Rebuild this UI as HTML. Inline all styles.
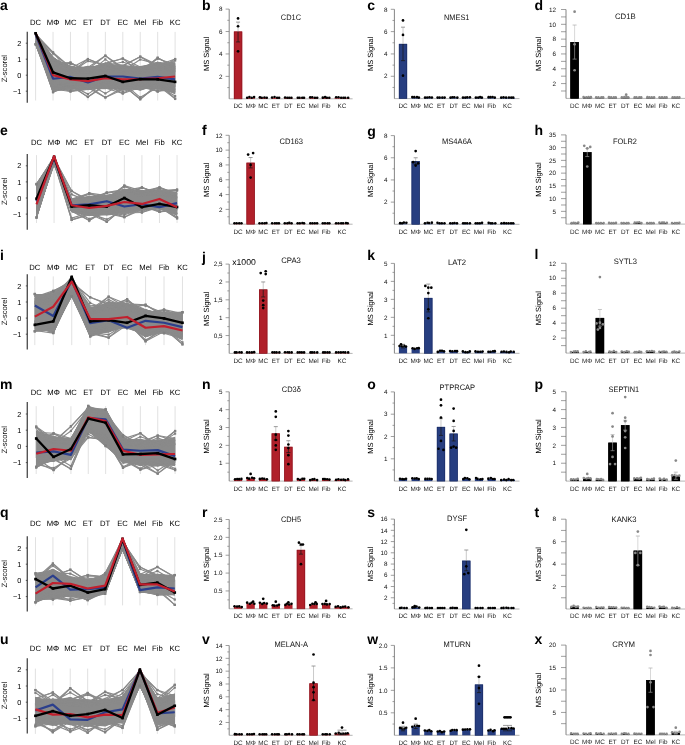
<!DOCTYPE html>
<html><head><meta charset="utf-8"><style>
html,body{margin:0;padding:0;background:#fff;width:685px;height:745px;overflow:hidden}
svg{display:block;will-change:transform}
text{font-family:"Liberation Sans",sans-serif;text-rendering:geometricPrecision}
</style></head><body>
<svg width="685" height="745" viewBox="0 0 685 745" font-family="Liberation Sans, sans-serif"><text x="0" y="10.2" font-size="14" text-anchor="start" fill="#000" font-weight="bold">a</text>
<text x="35.6" y="24.8" font-size="7.7" text-anchor="middle" fill="#000">DC</text>
<text x="53.04" y="24.8" font-size="7.7" text-anchor="middle" fill="#000">M&#934;</text>
<text x="70.48" y="24.8" font-size="7.7" text-anchor="middle" fill="#000">MC</text>
<text x="87.92" y="24.8" font-size="7.7" text-anchor="middle" fill="#000">ET</text>
<text x="105.36" y="24.8" font-size="7.7" text-anchor="middle" fill="#000">DT</text>
<text x="122.8" y="24.8" font-size="7.7" text-anchor="middle" fill="#000">EC</text>
<text x="140.24" y="24.8" font-size="7.7" text-anchor="middle" fill="#000">Mel</text>
<text x="157.68" y="24.8" font-size="7.7" text-anchor="middle" fill="#000">Fib</text>
<text x="175.12" y="24.8" font-size="7.7" text-anchor="middle" fill="#000">KC</text>
<line x1="35.6" y1="31.9" x2="35.6" y2="100.5" stroke="#d9d9d9" stroke-width="0.8"/>
<line x1="53.04" y1="31.9" x2="53.04" y2="100.5" stroke="#d9d9d9" stroke-width="0.8"/>
<line x1="70.48" y1="31.9" x2="70.48" y2="100.5" stroke="#d9d9d9" stroke-width="0.8"/>
<line x1="87.92" y1="31.9" x2="87.92" y2="100.5" stroke="#d9d9d9" stroke-width="0.8"/>
<line x1="105.36" y1="31.9" x2="105.36" y2="100.5" stroke="#d9d9d9" stroke-width="0.8"/>
<line x1="122.8" y1="31.9" x2="122.8" y2="100.5" stroke="#d9d9d9" stroke-width="0.8"/>
<line x1="140.24" y1="31.9" x2="140.24" y2="100.5" stroke="#d9d9d9" stroke-width="0.8"/>
<line x1="157.68" y1="31.9" x2="157.68" y2="100.5" stroke="#d9d9d9" stroke-width="0.8"/>
<line x1="175.12" y1="31.9" x2="175.12" y2="100.5" stroke="#d9d9d9" stroke-width="0.8"/>
<line x1="27.3" y1="31.75" x2="27.3" y2="102.7" stroke="#555" stroke-width="1.4"/>
<line x1="25.8" y1="43.2" x2="27.3" y2="43.2" stroke="#333" stroke-width="0.8"/>
<text x="21.3" y="45.8" font-size="7.3" text-anchor="end" fill="#000">2</text>
<line x1="25.8" y1="59.2" x2="27.3" y2="59.2" stroke="#333" stroke-width="0.8"/>
<text x="21.3" y="61.8" font-size="7.3" text-anchor="end" fill="#000">1</text>
<line x1="25.8" y1="75.2" x2="27.3" y2="75.2" stroke="#333" stroke-width="0.8"/>
<text x="21.3" y="77.8" font-size="7.3" text-anchor="end" fill="#000">0</text>
<line x1="25.8" y1="91.2" x2="27.3" y2="91.2" stroke="#333" stroke-width="0.8"/>
<text x="21.3" y="93.8" font-size="7.3" text-anchor="end" fill="#000">&#8722;1</text>
<text x="7.1" y="68.64" font-size="7.6" text-anchor="middle" fill="#111" textLength="27.4" lengthAdjust="spacingAndGlyphs" transform="rotate(-90 7.1 68.64)">Z-scorel</text>
<polygon points="35.6,35.89 53.04,64.33 70.48,71.7 87.92,71.63 105.36,68.67 122.8,70.83 140.24,71.7 157.68,67.94 175.12,69.73 175.12,86.75 157.68,83.26 140.24,84.78 122.8,84.53 105.36,83.01 87.92,84.53 70.48,84.78 53.04,83.51 35.6,41.71" fill="#8a8a8a" stroke="#8a8a8a" stroke-width="0.8" stroke-linejoin="round"/>
<polyline points="35.6,43.48 53.04,83.3 70.48,85.47 87.92,84.65 105.36,87.89 122.8,88.32 140.24,84.65 157.68,85.84 175.12,92.26" fill="none" stroke="#8a8a8a" stroke-width="1.15" stroke-linejoin="round"/>
<polyline points="35.6,34.45 53.04,61.17 70.48,67.2 87.92,69.28 105.36,69.42 122.8,70.74 140.24,66.9 157.68,67.38 175.12,64.06" fill="none" stroke="#8a8a8a" stroke-width="1.15" stroke-linejoin="round"/>
<polyline points="35.6,41.83 53.04,86.01 70.48,85.35 87.92,84.89 105.36,83.73 122.8,84.85 140.24,87.51 157.68,85.55 175.12,87.08" fill="none" stroke="#8a8a8a" stroke-width="1.15" stroke-linejoin="round"/>
<polyline points="35.6,34.8 53.04,62.81 70.48,71.33 87.92,70.72 105.36,67.31 122.8,69.09 140.24,71.22 157.68,65.99 175.12,64.09" fill="none" stroke="#8a8a8a" stroke-width="1.15" stroke-linejoin="round"/>
<polyline points="35.6,42.4 53.04,89.92 70.48,88.61 87.92,85.27 105.36,83.33 122.8,88.54 140.24,89.6 157.68,84.54 175.12,91.58" fill="none" stroke="#8a8a8a" stroke-width="1.15" stroke-linejoin="round"/>
<polyline points="35.6,36.2 53.04,63 70.48,70.85 87.92,69.68 105.36,63.78 122.8,72.1 140.24,68.77 157.68,63.95 175.12,69.58" fill="none" stroke="#8a8a8a" stroke-width="1.15" stroke-linejoin="round"/>
<polyline points="35.6,43.23 53.04,86.72 70.48,87.03 87.92,87.2 105.36,85.09 122.8,89.31 140.24,86 157.68,83.38 175.12,90.47" fill="none" stroke="#8a8a8a" stroke-width="1.15" stroke-linejoin="round"/>
<polyline points="35.6,35.92 53.04,65.82 70.48,69.18 87.92,67.81 105.36,69.33 122.8,68.56 140.24,67.82 157.68,66.43 175.12,68.84" fill="none" stroke="#8a8a8a" stroke-width="1.15" stroke-linejoin="round"/>
<polyline points="35.6,42.68 53.04,85.73 70.48,87.28 87.92,89.05 105.36,85.06 122.8,87.65 140.24,89.31 157.68,84.04 175.12,91.9" fill="none" stroke="#8a8a8a" stroke-width="1.15" stroke-linejoin="round"/>
<polyline points="35.6,35.28 53.04,57.64 70.48,70.76 87.92,70.26 105.36,64.14 122.8,70.42 140.24,67.97 157.68,67.15 175.12,66.81" fill="none" stroke="#8a8a8a" stroke-width="1.15" stroke-linejoin="round"/>
<polyline points="35.6,41.63 53.04,91.36 70.48,87.97 87.92,89.2 105.36,87.39 122.8,88.81 140.24,85.01 157.68,83.5 175.12,90.21" fill="none" stroke="#8a8a8a" stroke-width="1.15" stroke-linejoin="round"/>
<polyline points="35.6,35.79 53.04,66.04 70.48,70.87 87.92,66.64 105.36,67.31 122.8,67.1 140.24,71.76 157.68,63.72 175.12,67.36" fill="none" stroke="#8a8a8a" stroke-width="1.15" stroke-linejoin="round"/>
<polyline points="35.6,43.37 53.04,90.3 70.48,87.16 87.92,88.16 105.36,82.71 122.8,89.49 140.24,83.56 157.68,85.4 175.12,89.29" fill="none" stroke="#8a8a8a" stroke-width="1.15" stroke-linejoin="round"/>
<polyline points="35.6,36.71 53.04,58.1 70.48,68.11 87.92,67.94 105.36,66.78 122.8,68.1 140.24,68.45 157.68,65.45 175.12,70.18" fill="none" stroke="#8a8a8a" stroke-width="1.15" stroke-linejoin="round"/>
<polyline points="35.6,43.26 53.04,87.45 70.48,86.24 87.92,88.45 105.36,86.51 122.8,85.63 140.24,85.19 157.68,89.15 175.12,89.92" fill="none" stroke="#8a8a8a" stroke-width="1.15" stroke-linejoin="round"/>
<polyline points="35.6,34.64 53.04,60.77 70.48,67.84 87.92,72.7 105.36,64 122.8,71.71 140.24,71.76 157.68,65.83 175.12,68.66" fill="none" stroke="#8a8a8a" stroke-width="1.15" stroke-linejoin="round"/>
<polyline points="35.6,41.84 53.04,88.49 70.48,85.86 87.92,85.13 105.36,83.64 122.8,84.67 140.24,85.91 157.68,84.53 175.12,90.3" fill="none" stroke="#8a8a8a" stroke-width="1.15" stroke-linejoin="round"/>
<polyline points="35.6,35.81 53.04,59.52 70.48,71.17 87.92,70.83 105.36,65.99 122.8,65.98 140.24,70.87 157.68,62.75 175.12,65.66" fill="none" stroke="#8a8a8a" stroke-width="1.15" stroke-linejoin="round"/>
<polyline points="35.6,42.29 53.04,83.27 70.48,85.48 87.92,83.86 105.36,84.46 122.8,88.05 140.24,83.15 157.68,84.4 175.12,88.9" fill="none" stroke="#8a8a8a" stroke-width="1.15" stroke-linejoin="round"/>
<polyline points="35.6,35.66 53.04,65.29 70.48,68.05 87.92,69.33 105.36,63.09 122.8,71.96 140.24,67.45 157.68,66.49 175.12,68.16" fill="none" stroke="#8a8a8a" stroke-width="1.15" stroke-linejoin="round"/>
<polyline points="35.6,41.49 53.04,86.37 70.48,84.91 87.92,85.14 105.36,82.64 122.8,85.49 140.24,85.34 157.68,85.93 175.12,88.19" fill="none" stroke="#8a8a8a" stroke-width="1.15" stroke-linejoin="round"/>
<polyline points="35.6,34.37 53.04,62.73 70.48,71.93 87.92,67.87 105.36,67.3 122.8,69.37 140.24,69.75 157.68,66.07 175.12,63.64" fill="none" stroke="#8a8a8a" stroke-width="1.15" stroke-linejoin="round"/>
<polyline points="35.6,42.15 53.04,87.4 70.48,87.55 87.92,87.12 105.36,83.26 122.8,88.64 140.24,86.18 157.68,85.11 175.12,89.9" fill="none" stroke="#8a8a8a" stroke-width="1.15" stroke-linejoin="round"/>
<polyline points="35.6,34.16 53.04,63.89 70.48,70.85 87.92,69.51 105.36,68.54 122.8,71.79 140.24,68.87 157.68,69.07 175.12,65.77" fill="none" stroke="#8a8a8a" stroke-width="1.15" stroke-linejoin="round"/>
<polyline points="35.6,41.9 53.04,83.87 70.48,87.16 87.92,83.87 105.36,83.8 122.8,90.01 140.24,86.64 157.68,88.22 175.12,92.12" fill="none" stroke="#8a8a8a" stroke-width="1.15" stroke-linejoin="round"/>
<polyline points="35.6,34.85 53.04,63.64 70.48,70.53 87.92,71.25 105.36,69.36 122.8,70.65 140.24,70.75 157.68,67.19 175.12,66.27" fill="none" stroke="#8a8a8a" stroke-width="1.15" stroke-linejoin="round"/>
<polyline points="35.6,42.88 53.04,83.64 70.48,89.02 87.92,86.55 105.36,87.28 122.8,88.66 140.24,89.03 157.68,87.22 175.12,89.01" fill="none" stroke="#8a8a8a" stroke-width="1.15" stroke-linejoin="round"/>
<polyline points="35.6,36.45 53.04,65.5 70.48,70.07 87.92,70.69 105.36,68.09 122.8,69.38 140.24,68.93 157.68,66.75 175.12,70.01" fill="none" stroke="#8a8a8a" stroke-width="1.15" stroke-linejoin="round"/>
<polyline points="35.6,41.56 53.04,86.24 70.48,86.75 87.92,85.26 105.36,87.54 122.8,89.28 140.24,85.3 157.68,85.22 175.12,90.78" fill="none" stroke="#8a8a8a" stroke-width="1.15" stroke-linejoin="round"/>
<polyline points="35.6,34.55 53.04,61.17 70.48,70.06 87.92,66.41 105.36,70.14 122.8,70.15 140.24,72.34 157.68,62.27 175.12,69.04" fill="none" stroke="#8a8a8a" stroke-width="1.15" stroke-linejoin="round"/>
<polyline points="35.6,42.27 53.04,82.12 70.48,84.52 87.92,87.17 105.36,87.69 122.8,89.44 140.24,86.2 157.68,83.16 175.12,88.59" fill="none" stroke="#8a8a8a" stroke-width="1.15" stroke-linejoin="round"/>
<polyline points="35.6,35.46 53.04,63.31 70.48,71.86 87.92,69.4 105.36,65.87 122.8,66.15 140.24,71.24 157.68,64.02 175.12,62.11" fill="none" stroke="#8a8a8a" stroke-width="1.15" stroke-linejoin="round"/>
<polyline points="35.6,42.97 53.04,86.16 70.48,88.9 87.92,89.38 105.36,81.33 122.8,85.01 140.24,85.32 157.68,84.15 175.12,84.95" fill="none" stroke="#8a8a8a" stroke-width="1.15" stroke-linejoin="round"/>
<polyline points="35.6,35.48 53.04,58.15 70.48,66.56 87.92,69.87 105.36,69.3 122.8,69.77 140.24,71.29 157.68,67.94 175.12,66.14" fill="none" stroke="#8a8a8a" stroke-width="1.15" stroke-linejoin="round"/>
<polyline points="35.6,44.01 53.04,84.05 70.48,86.23 87.92,84.11 105.36,83.47 122.8,87.13 140.24,86.03 157.68,87.42 175.12,88.81" fill="none" stroke="#8a8a8a" stroke-width="1.15" stroke-linejoin="round"/>
<polyline points="35.6,34.61 53.04,57.91 70.48,68.67 87.92,71.24 105.36,63 122.8,65.08 140.24,68.07 157.68,65.74 175.12,67.54" fill="none" stroke="#8a8a8a" stroke-width="1.15" stroke-linejoin="round"/>
<polyline points="35.6,42.52 53.04,88.18 70.48,84.07 87.92,84.49 105.36,83.8 122.8,88.13 140.24,85.06 157.68,85.3 175.12,86.82" fill="none" stroke="#8a8a8a" stroke-width="1.15" stroke-linejoin="round"/>
<polyline points="35.6,34.35 53.04,59.53 70.48,70.86 87.92,71.79 105.36,64.95 122.8,68.36 140.24,69.19 157.68,67.4 175.12,65.93" fill="none" stroke="#8a8a8a" stroke-width="1.15" stroke-linejoin="round"/>
<polyline points="35.6,41.52 53.04,85.28 70.48,84.14 87.92,83.46 105.36,88.24 122.8,88.02 140.24,84.61 157.68,85.2 175.12,89.96" fill="none" stroke="#8a8a8a" stroke-width="1.15" stroke-linejoin="round"/>
<polyline points="35.6,36.63 53.04,59.83 70.48,68.4 87.92,71.35 105.36,65.52 122.8,68.18 140.24,73.03 157.68,63.65 175.12,66.93" fill="none" stroke="#8a8a8a" stroke-width="1.15" stroke-linejoin="round"/>
<polyline points="35.6,42.07 53.04,90.09 70.48,89.46 87.92,86.8 105.36,82.21 122.8,85.67 140.24,84.73 157.68,84.92 175.12,89.81" fill="none" stroke="#8a8a8a" stroke-width="1.15" stroke-linejoin="round"/>
<polyline points="35.6,35.72 53.04,62.2 70.48,68.47 87.92,68.81 105.36,68.15 122.8,71.47 140.24,69.25 157.68,65.74 175.12,67.03" fill="none" stroke="#8a8a8a" stroke-width="1.15" stroke-linejoin="round"/>
<polyline points="35.6,43.74 53.04,82.18 70.48,85.29 87.92,84.8 105.36,86.94 122.8,86.02 140.24,85.93 157.68,83.64 175.12,88.05" fill="none" stroke="#8a8a8a" stroke-width="1.15" stroke-linejoin="round"/>
<polyline points="35.6,35.15 53.04,65.14 70.48,69.25 87.92,71.15 105.36,66.32 122.8,67.86 140.24,69.66 157.68,66.28 175.12,70.56" fill="none" stroke="#8a8a8a" stroke-width="1.15" stroke-linejoin="round"/>
<polyline points="35.6,43.58 53.04,86.53 70.48,88.83 87.92,85.15 105.36,87.51 122.8,83.17 140.24,87.37 157.68,82.36 175.12,87.09" fill="none" stroke="#8a8a8a" stroke-width="1.15" stroke-linejoin="round"/>
<polyline points="35.6,35.34 53.04,65.19 70.48,68.51 87.92,69.68 105.36,68.14 122.8,68.15 140.24,70.5 157.68,63.06 175.12,65.29" fill="none" stroke="#8a8a8a" stroke-width="1.15" stroke-linejoin="round"/>
<polyline points="35.6,42.25 53.04,86.14 70.48,85.75 87.92,87.33 105.36,84.3 122.8,88.03 140.24,89.23 157.68,84.34 175.12,85.44" fill="none" stroke="#8a8a8a" stroke-width="1.15" stroke-linejoin="round"/>
<polyline points="35.6,33.59 53.04,63.57 70.48,68.41 87.92,71.92 105.36,68.5 122.8,68.77 140.24,70.64 157.68,67.03 175.12,67.29" fill="none" stroke="#8a8a8a" stroke-width="1.15" stroke-linejoin="round"/>
<polyline points="35.6,42.14 53.04,81.5 70.48,84.78 87.92,87.52 105.36,82.22 122.8,86.46 140.24,84.75 157.68,87.59 175.12,88.37" fill="none" stroke="#8a8a8a" stroke-width="1.15" stroke-linejoin="round"/>
<polyline points="35.6,33.88 53.04,58.88 70.48,71.15 87.92,70.84 105.36,64.09 122.8,67.19 140.24,66.5 157.68,63.46 175.12,66.67" fill="none" stroke="#8a8a8a" stroke-width="1.15" stroke-linejoin="round"/>
<polyline points="35.6,43.22 53.04,88.54 70.48,85.08 87.92,85.71 105.36,85.43 122.8,87.17 140.24,88.24 157.68,84.37 175.12,90.81" fill="none" stroke="#8a8a8a" stroke-width="1.15" stroke-linejoin="round"/>
<polyline points="35.6,35 53.04,58.4 70.48,68.09 87.92,68.01 105.36,63.8 122.8,68.47 140.24,69.76 157.68,64.63 175.12,64.09" fill="none" stroke="#8a8a8a" stroke-width="1.15" stroke-linejoin="round"/>
<polyline points="35.6,42.97 53.04,89.31 70.48,85.13 87.92,87.32 105.36,82.81 122.8,84.94 140.24,84.6 157.68,84.5 175.12,87.49" fill="none" stroke="#8a8a8a" stroke-width="1.15" stroke-linejoin="round"/>
<polyline points="35.6,34.96 53.04,58.62 70.48,68.07 87.92,71.46 105.36,67.07 122.8,69.84 140.24,68.65 157.68,67.96 175.12,66.96" fill="none" stroke="#8a8a8a" stroke-width="1.15" stroke-linejoin="round"/>
<polyline points="35.6,41.96 53.04,86.47 70.48,86.99 87.92,84.22 105.36,86.55 122.8,84.8 140.24,90.09 157.68,84.52 175.12,86.22" fill="none" stroke="#8a8a8a" stroke-width="1.15" stroke-linejoin="round"/>
<polyline points="35.6,35.37 53.04,64 70.48,67.7 87.92,71.11 105.36,70.64 122.8,70.06 140.24,69.63 157.68,67.06 175.12,70.25" fill="none" stroke="#8a8a8a" stroke-width="1.15" stroke-linejoin="round"/>
<polyline points="35.6,42.69 53.04,85.05 70.48,84.79 87.92,86.01 105.36,85.32 122.8,85.45 140.24,88.07 157.68,85.33 175.12,85.01" fill="none" stroke="#8a8a8a" stroke-width="1.15" stroke-linejoin="round"/>
<polyline points="35.6,34.79 53.04,57.17 70.48,69.99 87.92,70.65 105.36,67.16 122.8,69.31 140.24,69.3 157.68,63.34 175.12,67.88" fill="none" stroke="#8a8a8a" stroke-width="1.15" stroke-linejoin="round"/>
<polyline points="35.6,42.51 53.04,82.04 70.48,87.7 87.92,86.58 105.36,87.3 122.8,85.21 140.24,87.19 157.68,86.75 175.12,88.61" fill="none" stroke="#8a8a8a" stroke-width="1.15" stroke-linejoin="round"/>
<polyline points="35.6,35.62 53.04,61.76 70.48,72.58 87.92,68.51 105.36,67.95 122.8,69.08 140.24,69.25 157.68,65.66 175.12,69.62" fill="none" stroke="#8a8a8a" stroke-width="1.15" stroke-linejoin="round"/>
<polyline points="35.6,42.43 53.04,87.99 70.48,85.52 87.92,88.43 105.36,88.67 122.8,84.56 140.24,85.84 157.68,84.86 175.12,88.61" fill="none" stroke="#8a8a8a" stroke-width="1.15" stroke-linejoin="round"/>
<polyline points="35.6,34.99 53.04,64 70.48,68.13 87.92,71.01 105.36,67.49 122.8,67.01 140.24,69 157.68,63.7 175.12,67.19" fill="none" stroke="#8a8a8a" stroke-width="1.15" stroke-linejoin="round"/>
<polyline points="35.6,43.32 53.04,85.85 70.48,83.68 87.92,84.05 105.36,83.1 122.8,84.68 140.24,86.07 157.68,87.21 175.12,92.2" fill="none" stroke="#8a8a8a" stroke-width="1.15" stroke-linejoin="round"/>
<polyline points="35.6,36.65 53.04,62.06 70.48,70.67 87.92,71.03 105.36,69.78 122.8,70.21 140.24,73.15 157.68,67.14 175.12,71.39" fill="none" stroke="#8a8a8a" stroke-width="1.15" stroke-linejoin="round"/>
<polyline points="35.6,42.47 53.04,88.7 70.48,85.13 87.92,87.35 105.36,86.92 122.8,84.64 140.24,86.24 157.68,84.45 175.12,89.44" fill="none" stroke="#8a8a8a" stroke-width="1.15" stroke-linejoin="round"/>
<polyline points="35.6,33.57 53.04,60.6 70.48,66.13 87.92,70.65 105.36,68.71 122.8,71.62 140.24,67.74 157.68,65.65 175.12,68.31" fill="none" stroke="#8a8a8a" stroke-width="1.15" stroke-linejoin="round"/>
<polyline points="35.6,41.2 53.04,86.19 70.48,86.37 87.92,85.58 105.36,83.78 122.8,83.58 140.24,88.86 157.68,85.61 175.12,93.67" fill="none" stroke="#8a8a8a" stroke-width="1.15" stroke-linejoin="round"/>
<polyline points="35.6,35.4 53.04,64.27 70.48,69.87 87.92,71.63 105.36,64.84 122.8,70.62 140.24,70.65 157.68,64.66 175.12,65.69" fill="none" stroke="#8a8a8a" stroke-width="1.15" stroke-linejoin="round"/>
<polyline points="35.6,42.6 53.04,87.37 70.48,86.8 87.92,87.2 105.36,84.99 122.8,85 140.24,88.94 157.68,86.69 175.12,90.5" fill="none" stroke="#8a8a8a" stroke-width="1.15" stroke-linejoin="round"/>
<polyline points="35.6,34.09 53.04,59.31 70.48,70.12 87.92,70.39 105.36,63.31 122.8,68.99 140.24,72.23 157.68,65.72 175.12,69.35" fill="none" stroke="#8a8a8a" stroke-width="1.15" stroke-linejoin="round"/>
<polyline points="35.6,44.32 53.04,88.63 70.48,85.95 87.92,83.95 105.36,83.46 122.8,85.27 140.24,85.94 157.68,81.15 175.12,85.36" fill="none" stroke="#8a8a8a" stroke-width="1.15" stroke-linejoin="round"/>
<polyline points="35.6,44.32 53.04,86.59 70.48,83.15 87.92,83.74 105.36,85.59 122.8,86.69 140.24,89.7 157.68,82.53 175.12,92.47" fill="none" stroke="#8a8a8a" stroke-width="1.15" stroke-linejoin="round"/>
<polyline points="35.6,44.17 53.04,81.82 70.48,83.45 87.92,88.22 105.36,84.45 122.8,87.4 140.24,84.88 157.68,85.33 175.12,87.52" fill="none" stroke="#8a8a8a" stroke-width="1.15" stroke-linejoin="round"/>
<polyline points="35.6,33.12 53.04,59.92 70.48,66.64 87.92,71.15 105.36,70.67 122.8,70.66 140.24,73.45 157.68,69.61 175.12,71.86" fill="none" stroke="#8a8a8a" stroke-width="1.15" stroke-linejoin="round"/>
<polyline points="35.6,33.12 53.04,64.58 70.48,69.43 87.92,72.7 105.36,67.41 122.8,67.01 140.24,69.69 157.68,67.11 175.12,65.56" fill="none" stroke="#8a8a8a" stroke-width="1.15" stroke-linejoin="round"/>
<polyline points="35.6,33.24 53.04,57.67 70.48,70.7 87.92,68.31 105.36,65.22 122.8,70.44 140.24,72.21 157.68,64.53 175.12,71.78" fill="none" stroke="#8a8a8a" stroke-width="1.15" stroke-linejoin="round"/>
<polyline points="35.6,43.9 53.04,92.16 70.48,82.94 87.92,85.88 105.36,85.68 122.8,86.32 140.24,88.53 157.68,87.96 175.12,89.8" fill="none" stroke="#8a8a8a" stroke-width="1.15" stroke-linejoin="round"/>
<polyline points="35.6,41.7 53.04,92.16 70.48,83.85 87.92,89.3 105.36,85.92 122.8,84.28 140.24,86.26 157.68,81.93 175.12,89.81" fill="none" stroke="#8a8a8a" stroke-width="1.15" stroke-linejoin="round"/>
<polyline points="35.6,41.3 53.04,91.79 70.48,86.39 87.92,88.76 105.36,88.26 122.8,89.02 140.24,85.79 157.68,81.49 175.12,91.8" fill="none" stroke="#8a8a8a" stroke-width="1.15" stroke-linejoin="round"/>
<polyline points="35.6,35.42 53.04,52.48 70.48,73.2 87.92,71.57 105.36,68.78 122.8,72.7 140.24,68.69 157.68,63.59 175.12,69.2" fill="none" stroke="#8a8a8a" stroke-width="1.15" stroke-linejoin="round"/>
<polyline points="35.6,33.91 53.04,52.48 70.48,67.16 87.92,67.57 105.36,65.91 122.8,70.55 140.24,68.04 157.68,67.34 175.12,63.16" fill="none" stroke="#8a8a8a" stroke-width="1.15" stroke-linejoin="round"/>
<polyline points="35.6,35.87 53.04,53.51 70.48,67.42 87.92,72.82 105.36,68.46 122.8,70.06 140.24,67.34 157.68,64.19 175.12,66.09" fill="none" stroke="#8a8a8a" stroke-width="1.15" stroke-linejoin="round"/>
<polyline points="35.6,41.67 53.04,86.05 70.48,91.52 87.92,87.64 105.36,87.54 122.8,84.32 140.24,87.26 157.68,85.85 175.12,91.57" fill="none" stroke="#8a8a8a" stroke-width="1.15" stroke-linejoin="round"/>
<polyline points="35.6,40.93 53.04,89.05 70.48,91.52 87.92,89.49 105.36,86.03 122.8,88.13 140.24,87.92 157.68,88.77 175.12,85.77" fill="none" stroke="#8a8a8a" stroke-width="1.15" stroke-linejoin="round"/>
<polyline points="35.6,41.62 53.04,84.44 70.48,90.85 87.92,89.14 105.36,82.24 122.8,87.78 140.24,84.35 157.68,86.12 175.12,90.55" fill="none" stroke="#8a8a8a" stroke-width="1.15" stroke-linejoin="round"/>
<polyline points="35.6,36.56 53.04,66.11 70.48,62.56 87.92,72.53 105.36,66.7 122.8,66.5 140.24,72.98 157.68,63 175.12,69.1" fill="none" stroke="#8a8a8a" stroke-width="1.15" stroke-linejoin="round"/>
<polyline points="35.6,33.99 53.04,63.78 70.48,62.56 87.92,72.35 105.36,69.18 122.8,66.2 140.24,67.83 157.68,69.7 175.12,67.81" fill="none" stroke="#8a8a8a" stroke-width="1.15" stroke-linejoin="round"/>
<polyline points="35.6,35.14 53.04,61.26 70.48,63.92 87.92,69.17 105.36,69.8 122.8,72.06 140.24,73.44 157.68,69.76 175.12,68.95" fill="none" stroke="#8a8a8a" stroke-width="1.15" stroke-linejoin="round"/>
<polyline points="35.6,42.56 53.04,89.15 70.48,85.39 87.92,96.96 105.36,84.34 122.8,86.02 140.24,84.72 157.68,81.07 175.12,92.19" fill="none" stroke="#8a8a8a" stroke-width="1.15" stroke-linejoin="round"/>
<polyline points="35.6,41.05 53.04,87.93 70.48,85.41 87.92,96.96 105.36,85.55 122.8,83.07 140.24,83.37 157.68,87.99 175.12,93.12" fill="none" stroke="#8a8a8a" stroke-width="1.15" stroke-linejoin="round"/>
<polyline points="35.6,42.78 53.04,83.74 70.48,85.11 87.92,94.12 105.36,82.28 122.8,84.73 140.24,85.27 157.68,88.92 175.12,88.94" fill="none" stroke="#8a8a8a" stroke-width="1.15" stroke-linejoin="round"/>
<polyline points="35.6,34.44 53.04,60.34 70.48,68.3 87.92,59.04 105.36,66.26 122.8,65.77 140.24,68.88 157.68,62.31 175.12,64.25" fill="none" stroke="#8a8a8a" stroke-width="1.15" stroke-linejoin="round"/>
<polyline points="35.6,36.46 53.04,57.64 70.48,72.62 87.92,59.04 105.36,65.8 122.8,66.2 140.24,71.67 157.68,64.81 175.12,67.08" fill="none" stroke="#8a8a8a" stroke-width="1.15" stroke-linejoin="round"/>
<polyline points="35.6,34.24 53.04,64.89 70.48,72.57 87.92,61.07 105.36,64.59 122.8,71.94 140.24,67.35 157.68,70.08 175.12,67.36" fill="none" stroke="#8a8a8a" stroke-width="1.15" stroke-linejoin="round"/>
<polyline points="35.6,41.54 53.04,89.97 70.48,86.71 87.92,86 105.36,97.44 122.8,87.52 140.24,85.87 157.68,87.74 175.12,92.79" fill="none" stroke="#8a8a8a" stroke-width="1.15" stroke-linejoin="round"/>
<polyline points="35.6,43.39 53.04,83.29 70.48,83.82 87.92,87.77 105.36,97.44 122.8,89.54 140.24,87.34 157.68,84.04 175.12,84.37" fill="none" stroke="#8a8a8a" stroke-width="1.15" stroke-linejoin="round"/>
<polyline points="35.6,42.57 53.04,82.99 70.48,89.1 87.92,83.31 105.36,93.41 122.8,83.07 140.24,83.97 157.68,86.04 175.12,86.48" fill="none" stroke="#8a8a8a" stroke-width="1.15" stroke-linejoin="round"/>
<polyline points="35.6,34.64 53.04,59 70.48,71.48 87.92,67.53 105.36,55.68 122.8,67.37 140.24,70.41 157.68,63.75 175.12,68.81" fill="none" stroke="#8a8a8a" stroke-width="1.15" stroke-linejoin="round"/>
<polyline points="35.6,33.99 53.04,58.66 70.48,69.1 87.92,69.39 105.36,55.68 122.8,69.27 140.24,68.99 157.68,65.88 175.12,68.54" fill="none" stroke="#8a8a8a" stroke-width="1.15" stroke-linejoin="round"/>
<polyline points="35.6,35.01 53.04,61.44 70.48,70.36 87.92,73.47 105.36,59.39 122.8,72.54 140.24,67.27 157.68,62.42 175.12,69.26" fill="none" stroke="#8a8a8a" stroke-width="1.15" stroke-linejoin="round"/>
<polyline points="35.6,41.37 53.04,83.87 70.48,88.98 87.92,86.74 105.36,88.07 122.8,93.44 140.24,87.49 157.68,84.35 175.12,86.82" fill="none" stroke="#8a8a8a" stroke-width="1.15" stroke-linejoin="round"/>
<polyline points="35.6,41.31 53.04,84.84 70.48,83.21 87.92,86.73 105.36,84.2 122.8,93.44 140.24,83.97 157.68,87.09 175.12,84.38" fill="none" stroke="#8a8a8a" stroke-width="1.15" stroke-linejoin="round"/>
<polyline points="35.6,41.96 53.04,85.7 70.48,84.35 87.92,86.63 105.36,86.21 122.8,91.48 140.24,86.37 157.68,89.12 175.12,85.27" fill="none" stroke="#8a8a8a" stroke-width="1.15" stroke-linejoin="round"/>
<polyline points="35.6,34.18 53.04,59.28 70.48,70.22 87.92,72.41 105.36,63.29 122.8,58.56 140.24,73.05 157.68,63.39 175.12,66.37" fill="none" stroke="#8a8a8a" stroke-width="1.15" stroke-linejoin="round"/>
<polyline points="35.6,35.62 53.04,57.77 70.48,69.15 87.92,73.35 105.36,63.66 122.8,58.56 140.24,66.96 157.68,64.65 175.12,69.95" fill="none" stroke="#8a8a8a" stroke-width="1.15" stroke-linejoin="round"/>
<polyline points="35.6,35.69 53.04,65.05 70.48,70.73 87.92,72.85 105.36,65.96 122.8,61.95 140.24,67.78 157.68,67.57 175.12,70.2" fill="none" stroke="#8a8a8a" stroke-width="1.15" stroke-linejoin="round"/>
<polyline points="35.6,41.12 53.04,89.64 70.48,87.01 87.92,86.44 105.36,88.23 122.8,84.69 140.24,99.2 157.68,84.21 175.12,86.29" fill="none" stroke="#8a8a8a" stroke-width="1.15" stroke-linejoin="round"/>
<polyline points="35.6,43.1 53.04,82.15 70.48,85.27 87.92,84.47 105.36,84.83 122.8,85.14 140.24,99.2 157.68,85.33 175.12,90.12" fill="none" stroke="#8a8a8a" stroke-width="1.15" stroke-linejoin="round"/>
<polyline points="35.6,43.19 53.04,88.31 70.48,88.79 87.92,89.27 105.36,86.57 122.8,82.93 140.24,97.33 157.68,87.39 175.12,85.73" fill="none" stroke="#8a8a8a" stroke-width="1.15" stroke-linejoin="round"/>
<polyline points="35.6,34.82 53.04,63.44 70.48,71 87.92,69.35 105.36,67.74 122.8,65.48 140.24,56.64 157.68,64.98 175.12,71.83" fill="none" stroke="#8a8a8a" stroke-width="1.15" stroke-linejoin="round"/>
<polyline points="35.6,36.24 53.04,58.12 70.48,73.23 87.92,72.6 105.36,67.54 122.8,65.98 140.24,56.64 157.68,67.28 175.12,68.73" fill="none" stroke="#8a8a8a" stroke-width="1.15" stroke-linejoin="round"/>
<polyline points="35.6,34.65 53.04,59.1 70.48,71.3 87.92,72.02 105.36,64.32 122.8,70.96 140.24,59.49 157.68,64.11 175.12,64.74" fill="none" stroke="#8a8a8a" stroke-width="1.15" stroke-linejoin="round"/>
<polyline points="35.6,43 53.04,85.43 70.48,88.11 87.92,85.37 105.36,87.98 122.8,87.38 140.24,85.78 157.68,91.52 175.12,87.23" fill="none" stroke="#8a8a8a" stroke-width="1.15" stroke-linejoin="round"/>
<polyline points="35.6,42.18 53.04,85.1 70.48,85.74 87.92,89.38 105.36,82.44 122.8,82.64 140.24,84.85 157.68,91.52 175.12,85.27" fill="none" stroke="#8a8a8a" stroke-width="1.15" stroke-linejoin="round"/>
<polyline points="35.6,43.37 53.04,88.17 70.48,83.63 87.92,89.57 105.36,85.65 122.8,87.94 140.24,86.84 157.68,91.04 175.12,90.22" fill="none" stroke="#8a8a8a" stroke-width="1.15" stroke-linejoin="round"/>
<polyline points="35.6,35.39 53.04,58.48 70.48,68.71 87.92,68.47 105.36,63.89 122.8,68.53 140.24,72.9 157.68,57.76 175.12,67.14" fill="none" stroke="#8a8a8a" stroke-width="1.15" stroke-linejoin="round"/>
<polyline points="35.6,34.56 53.04,66.84 70.48,71.67 87.92,67.48 105.36,66.47 122.8,71.16 140.24,71.34 157.68,57.76 175.12,67.52" fill="none" stroke="#8a8a8a" stroke-width="1.15" stroke-linejoin="round"/>
<polyline points="35.6,36.55 53.04,61.95 70.48,72.15 87.92,72.53 105.36,70.49 122.8,69.01 140.24,70.82 157.68,58.79 175.12,64.5" fill="none" stroke="#8a8a8a" stroke-width="1.15" stroke-linejoin="round"/>
<polyline points="35.6,43.69 53.04,89.52 70.48,88.32 87.92,86.28 105.36,85.58 122.8,85.79 140.24,84.58 157.68,82.32 175.12,98.72" fill="none" stroke="#8a8a8a" stroke-width="1.15" stroke-linejoin="round"/>
<polyline points="35.6,42.08 53.04,83.65 70.48,84.32 87.92,85.27 105.36,81.48 122.8,85.29 140.24,83.23 157.68,85.32 175.12,98.72" fill="none" stroke="#8a8a8a" stroke-width="1.15" stroke-linejoin="round"/>
<polyline points="35.6,41.3 53.04,86.86 70.48,87.27 87.92,85.85 105.36,83.71 122.8,86.35 140.24,84.76 157.68,85.64 175.12,96.07" fill="none" stroke="#8a8a8a" stroke-width="1.15" stroke-linejoin="round"/>
<polyline points="35.6,34.13 53.04,64.8 70.48,72.16 87.92,67 105.36,68.15 122.8,70.8 140.24,70.5 157.68,70.07 175.12,59.04" fill="none" stroke="#8a8a8a" stroke-width="1.15" stroke-linejoin="round"/>
<polyline points="35.6,36.2 53.04,64.29 70.48,66.86 87.92,69.94 105.36,66.75 122.8,72.42 140.24,70.28 157.68,65.35 175.12,59.04" fill="none" stroke="#8a8a8a" stroke-width="1.15" stroke-linejoin="round"/>
<polyline points="35.6,36.39 53.04,58.23 70.48,68.77 87.92,67.81 105.36,68.88 122.8,67.02 140.24,72.75 157.68,68.81 175.12,60.53" fill="none" stroke="#8a8a8a" stroke-width="1.15" stroke-linejoin="round"/>
<rect x="34.5" y="43.22" width="2.2" height="2.2" fill="#808080"/>
<rect x="34.5" y="43.22" width="2.2" height="2.2" fill="#808080"/>
<rect x="34.5" y="43.07" width="2.2" height="2.2" fill="#808080"/>
<rect x="34.5" y="32.02" width="2.2" height="2.2" fill="#808080"/>
<rect x="34.5" y="32.02" width="2.2" height="2.2" fill="#808080"/>
<rect x="34.5" y="32.14" width="2.2" height="2.2" fill="#808080"/>
<rect x="51.94" y="91.06" width="2.2" height="2.2" fill="#808080"/>
<rect x="51.94" y="91.06" width="2.2" height="2.2" fill="#808080"/>
<rect x="51.94" y="90.69" width="2.2" height="2.2" fill="#808080"/>
<rect x="51.94" y="51.38" width="2.2" height="2.2" fill="#808080"/>
<rect x="51.94" y="51.38" width="2.2" height="2.2" fill="#808080"/>
<rect x="51.94" y="52.41" width="2.2" height="2.2" fill="#808080"/>
<rect x="69.38" y="90.42" width="2.2" height="2.2" fill="#808080"/>
<rect x="69.38" y="90.42" width="2.2" height="2.2" fill="#808080"/>
<rect x="69.38" y="89.75" width="2.2" height="2.2" fill="#808080"/>
<rect x="69.38" y="61.46" width="2.2" height="2.2" fill="#808080"/>
<rect x="69.38" y="61.46" width="2.2" height="2.2" fill="#808080"/>
<rect x="69.38" y="62.82" width="2.2" height="2.2" fill="#808080"/>
<rect x="86.82" y="95.86" width="2.2" height="2.2" fill="#808080"/>
<rect x="86.82" y="95.86" width="2.2" height="2.2" fill="#808080"/>
<rect x="86.82" y="93.02" width="2.2" height="2.2" fill="#808080"/>
<rect x="86.82" y="57.94" width="2.2" height="2.2" fill="#808080"/>
<rect x="86.82" y="57.94" width="2.2" height="2.2" fill="#808080"/>
<rect x="86.82" y="59.97" width="2.2" height="2.2" fill="#808080"/>
<rect x="104.26" y="96.34" width="2.2" height="2.2" fill="#808080"/>
<rect x="104.26" y="96.34" width="2.2" height="2.2" fill="#808080"/>
<rect x="104.26" y="92.31" width="2.2" height="2.2" fill="#808080"/>
<rect x="104.26" y="54.58" width="2.2" height="2.2" fill="#808080"/>
<rect x="104.26" y="54.58" width="2.2" height="2.2" fill="#808080"/>
<rect x="104.26" y="58.29" width="2.2" height="2.2" fill="#808080"/>
<rect x="121.7" y="92.34" width="2.2" height="2.2" fill="#808080"/>
<rect x="121.7" y="92.34" width="2.2" height="2.2" fill="#808080"/>
<rect x="121.7" y="90.38" width="2.2" height="2.2" fill="#808080"/>
<rect x="121.7" y="57.46" width="2.2" height="2.2" fill="#808080"/>
<rect x="121.7" y="57.46" width="2.2" height="2.2" fill="#808080"/>
<rect x="121.7" y="60.85" width="2.2" height="2.2" fill="#808080"/>
<rect x="139.14" y="98.1" width="2.2" height="2.2" fill="#808080"/>
<rect x="139.14" y="98.1" width="2.2" height="2.2" fill="#808080"/>
<rect x="139.14" y="96.23" width="2.2" height="2.2" fill="#808080"/>
<rect x="139.14" y="55.54" width="2.2" height="2.2" fill="#808080"/>
<rect x="139.14" y="55.54" width="2.2" height="2.2" fill="#808080"/>
<rect x="139.14" y="58.39" width="2.2" height="2.2" fill="#808080"/>
<rect x="156.58" y="90.42" width="2.2" height="2.2" fill="#808080"/>
<rect x="156.58" y="90.42" width="2.2" height="2.2" fill="#808080"/>
<rect x="156.58" y="89.94" width="2.2" height="2.2" fill="#808080"/>
<rect x="156.58" y="56.66" width="2.2" height="2.2" fill="#808080"/>
<rect x="156.58" y="56.66" width="2.2" height="2.2" fill="#808080"/>
<rect x="156.58" y="57.69" width="2.2" height="2.2" fill="#808080"/>
<rect x="174.02" y="97.62" width="2.2" height="2.2" fill="#808080"/>
<rect x="174.02" y="97.62" width="2.2" height="2.2" fill="#808080"/>
<rect x="174.02" y="94.97" width="2.2" height="2.2" fill="#808080"/>
<rect x="174.02" y="57.94" width="2.2" height="2.2" fill="#808080"/>
<rect x="174.02" y="57.94" width="2.2" height="2.2" fill="#808080"/>
<rect x="174.02" y="59.43" width="2.2" height="2.2" fill="#808080"/>
<polyline points="35.6,34.4 53.04,78.72 70.48,76.96 87.92,82.4 105.36,76.48 122.8,76.48 140.24,78.56 157.68,76.96 175.12,79.36" fill="none" stroke="#2b3f8c" stroke-width="2.2" stroke-linejoin="round"/>
<polyline points="35.6,32.8 53.04,75.2 70.48,79.36 87.92,81.12 105.36,78.24 122.8,79.36 140.24,79.04 157.68,78.24 175.12,76.48" fill="none" stroke="#c21f2d" stroke-width="2.2" stroke-linejoin="round"/>
<polyline points="35.6,33.28 53.04,72.32 70.48,78.24 87.92,78.72 105.36,76 122.8,81.92 140.24,79.04 157.68,79.36 175.12,81.92" fill="none" stroke="#000" stroke-width="2.3" stroke-linejoin="round"/>
<rect x="34.3" y="31.98" width="2.6" height="2.6" fill="#000"/>
<rect x="51.74" y="71.02" width="2.6" height="2.6" fill="#000"/>
<rect x="69.18" y="76.94" width="2.6" height="2.6" fill="#000"/>
<rect x="86.62" y="77.42" width="2.6" height="2.6" fill="#000"/>
<rect x="104.06" y="74.7" width="2.6" height="2.6" fill="#000"/>
<rect x="121.5" y="80.62" width="2.6" height="2.6" fill="#000"/>
<rect x="138.94" y="77.74" width="2.6" height="2.6" fill="#000"/>
<rect x="156.38" y="78.06" width="2.6" height="2.6" fill="#000"/>
<rect x="173.82" y="80.62" width="2.6" height="2.6" fill="#000"/>
<text x="0" y="135.2" font-size="14" text-anchor="start" fill="#000" font-weight="bold">e</text>
<text x="36.5" y="144.8" font-size="7.7" text-anchor="middle" fill="#000">DC</text>
<text x="54.07" y="144.8" font-size="7.7" text-anchor="middle" fill="#000">M&#934;</text>
<text x="71.64" y="144.8" font-size="7.7" text-anchor="middle" fill="#000">MC</text>
<text x="89.21" y="144.8" font-size="7.7" text-anchor="middle" fill="#000">ET</text>
<text x="106.78" y="144.8" font-size="7.7" text-anchor="middle" fill="#000">DT</text>
<text x="124.35" y="144.8" font-size="7.7" text-anchor="middle" fill="#000">EC</text>
<text x="141.92" y="144.8" font-size="7.7" text-anchor="middle" fill="#000">Mel</text>
<text x="159.49" y="144.8" font-size="7.7" text-anchor="middle" fill="#000">Fib</text>
<text x="177.06" y="144.8" font-size="7.7" text-anchor="middle" fill="#000">KC</text>
<line x1="36.5" y1="155.1" x2="36.5" y2="223" stroke="#d9d9d9" stroke-width="0.8"/>
<line x1="54.07" y1="155.1" x2="54.07" y2="223" stroke="#d9d9d9" stroke-width="0.8"/>
<line x1="71.64" y1="155.1" x2="71.64" y2="223" stroke="#d9d9d9" stroke-width="0.8"/>
<line x1="89.21" y1="155.1" x2="89.21" y2="223" stroke="#d9d9d9" stroke-width="0.8"/>
<line x1="106.78" y1="155.1" x2="106.78" y2="223" stroke="#d9d9d9" stroke-width="0.8"/>
<line x1="124.35" y1="155.1" x2="124.35" y2="223" stroke="#d9d9d9" stroke-width="0.8"/>
<line x1="141.92" y1="155.1" x2="141.92" y2="223" stroke="#d9d9d9" stroke-width="0.8"/>
<line x1="159.49" y1="155.1" x2="159.49" y2="223" stroke="#d9d9d9" stroke-width="0.8"/>
<line x1="177.06" y1="155.1" x2="177.06" y2="223" stroke="#d9d9d9" stroke-width="0.8"/>
<line x1="27.3" y1="153.9" x2="27.3" y2="229.7" stroke="#555" stroke-width="1.4"/>
<line x1="25.8" y1="165.8" x2="27.3" y2="165.8" stroke="#333" stroke-width="0.8"/>
<text x="21.3" y="168.4" font-size="7.3" text-anchor="end" fill="#000">2</text>
<line x1="25.8" y1="181.9" x2="27.3" y2="181.9" stroke="#333" stroke-width="0.8"/>
<text x="21.3" y="184.5" font-size="7.3" text-anchor="end" fill="#000">1</text>
<line x1="25.8" y1="198" x2="27.3" y2="198" stroke="#333" stroke-width="0.8"/>
<text x="21.3" y="200.6" font-size="7.3" text-anchor="end" fill="#000">0</text>
<line x1="25.8" y1="214.1" x2="27.3" y2="214.1" stroke="#333" stroke-width="0.8"/>
<text x="21.3" y="216.7" font-size="7.3" text-anchor="end" fill="#000">&#8722;1</text>
<text x="7.1" y="191.4" font-size="7.6" text-anchor="middle" fill="#111" textLength="27.4" lengthAdjust="spacingAndGlyphs" transform="rotate(-90 7.1 191.4)">Z-scorel</text>
<polygon points="36.5,192.06 54.07,158.36 71.64,201.8 89.21,200.79 106.78,199.67 124.35,194.42 141.92,194.52 159.49,194.02 177.06,197.18 177.06,210.25 159.49,205.2 141.92,205.34 124.35,207.86 106.78,210.49 89.21,211.15 71.64,209.01 54.07,161.97 36.5,209.73" fill="#8a8a8a" stroke="#8a8a8a" stroke-width="0.8" stroke-linejoin="round"/>
<polyline points="36.5,212.47 54.07,161.53 71.64,209.86 89.21,214.38 106.78,212.56 124.35,210.25 141.92,209.6 159.49,208.32 177.06,212.81" fill="none" stroke="#8a8a8a" stroke-width="1.15" stroke-linejoin="round"/>
<polyline points="36.5,187.94 54.07,157.92 71.64,200.88 89.21,196.92 106.78,198.7 124.35,194.89 141.92,192.67 159.49,191.74 177.06,192.23" fill="none" stroke="#8a8a8a" stroke-width="1.15" stroke-linejoin="round"/>
<polyline points="36.5,212.32 54.07,163.18 71.64,211.68 89.21,215.04 106.78,214.34 124.35,211.35 141.92,206.06 159.49,206.05 177.06,211.13" fill="none" stroke="#8a8a8a" stroke-width="1.15" stroke-linejoin="round"/>
<polyline points="36.5,187.09 54.07,158.04 71.64,199.56 89.21,197.3 106.78,199.37 124.35,195.33 141.92,193.44 159.49,193.31 177.06,194.02" fill="none" stroke="#8a8a8a" stroke-width="1.15" stroke-linejoin="round"/>
<polyline points="36.5,209.3 54.07,161.93 71.64,209.34 89.21,209.99 106.78,213.53 124.35,208.93 141.92,208.33 159.49,207.13 177.06,213.5" fill="none" stroke="#8a8a8a" stroke-width="1.15" stroke-linejoin="round"/>
<polyline points="36.5,188.69 54.07,156.92 71.64,202.2 89.21,197.14 106.78,200.81 124.35,192.5 141.92,192.76 159.49,194.39 177.06,193.76" fill="none" stroke="#8a8a8a" stroke-width="1.15" stroke-linejoin="round"/>
<polyline points="36.5,211.6 54.07,162.43 71.64,210.41 89.21,211.13 106.78,214.81 124.35,213.29 141.92,209 159.49,207.42 177.06,210.71" fill="none" stroke="#8a8a8a" stroke-width="1.15" stroke-linejoin="round"/>
<polyline points="36.5,191.46 54.07,158.09 71.64,199.53 89.21,198.26 106.78,199.74 124.35,192.37 141.92,193.01 159.49,189.1 177.06,196.83" fill="none" stroke="#8a8a8a" stroke-width="1.15" stroke-linejoin="round"/>
<polyline points="36.5,211.63 54.07,161.86 71.64,209.24 89.21,209.82 106.78,214.41 124.35,210.46 141.92,206.96 159.49,204.88 177.06,214.3" fill="none" stroke="#8a8a8a" stroke-width="1.15" stroke-linejoin="round"/>
<polyline points="36.5,187.45 54.07,157.85 71.64,201.89 89.21,201.01 106.78,199.32 124.35,191.87 141.92,191.14 159.49,190.94 177.06,194.42" fill="none" stroke="#8a8a8a" stroke-width="1.15" stroke-linejoin="round"/>
<polyline points="36.5,210.19 54.07,161.95 71.64,210.72 89.21,213.96 106.78,210.2 124.35,210.24 141.92,205.54 159.49,206.64 177.06,209.76" fill="none" stroke="#8a8a8a" stroke-width="1.15" stroke-linejoin="round"/>
<polyline points="36.5,190.74 54.07,157.52 71.64,200.89 89.21,201.18 106.78,200.48 124.35,191.42 141.92,192.02 159.49,195.03 177.06,193.38" fill="none" stroke="#8a8a8a" stroke-width="1.15" stroke-linejoin="round"/>
<polyline points="36.5,212.75 54.07,162.8 71.64,208.47 89.21,211.1 106.78,214.81 124.35,207.64 141.92,208.92 159.49,208.52 177.06,208.94" fill="none" stroke="#8a8a8a" stroke-width="1.15" stroke-linejoin="round"/>
<polyline points="36.5,190.71 54.07,157.2 71.64,199.92 89.21,196.29 106.78,196.19 124.35,193.16 141.92,194.12 159.49,192.95 177.06,194.94" fill="none" stroke="#8a8a8a" stroke-width="1.15" stroke-linejoin="round"/>
<polyline points="36.5,211.07 54.07,162.46 71.64,209.67 89.21,211.94 106.78,210.95 124.35,213.72 141.92,207.72 159.49,204.39 177.06,213.41" fill="none" stroke="#8a8a8a" stroke-width="1.15" stroke-linejoin="round"/>
<polyline points="36.5,191.05 54.07,157.21 71.64,201.26 89.21,198.62 106.78,199.31 124.35,191.56 141.92,192.02 159.49,190 177.06,197.69" fill="none" stroke="#8a8a8a" stroke-width="1.15" stroke-linejoin="round"/>
<polyline points="36.5,211.37 54.07,162.19 71.64,210.61 89.21,214.39 106.78,213.04 124.35,211.53 141.92,208.75 159.49,205.1 177.06,209.6" fill="none" stroke="#8a8a8a" stroke-width="1.15" stroke-linejoin="round"/>
<polyline points="36.5,188.34 54.07,158.05 71.64,201.56 89.21,198.6 106.78,198.76 124.35,195.85 141.92,193.96 159.49,190.27 177.06,196.5" fill="none" stroke="#8a8a8a" stroke-width="1.15" stroke-linejoin="round"/>
<polyline points="36.5,212.31 54.07,162.11 71.64,208.57 89.21,212.34 106.78,213.61 124.35,208.84 141.92,208.54 159.49,208.36 177.06,214.21" fill="none" stroke="#8a8a8a" stroke-width="1.15" stroke-linejoin="round"/>
<polyline points="36.5,192.79 54.07,158.59 71.64,199.83 89.21,197.13 106.78,197.04 124.35,195.48 141.92,193.24 159.49,190.55 177.06,193.78" fill="none" stroke="#8a8a8a" stroke-width="1.15" stroke-linejoin="round"/>
<polyline points="36.5,211.98 54.07,161.78 71.64,210.44 89.21,213.86 106.78,209.18 124.35,210.75 141.92,206.8 159.49,208.87 177.06,209.15" fill="none" stroke="#8a8a8a" stroke-width="1.15" stroke-linejoin="round"/>
<polyline points="36.5,187.93 54.07,158.66 71.64,199.61 89.21,199.47 106.78,200.77 124.35,191.54 141.92,193.68 159.49,194.13 177.06,195.61" fill="none" stroke="#8a8a8a" stroke-width="1.15" stroke-linejoin="round"/>
<polyline points="36.5,213.18 54.07,161.73 71.64,209.59 89.21,215.03 106.78,211.58 124.35,206.85 141.92,205.96 159.49,207.86 177.06,213.95" fill="none" stroke="#8a8a8a" stroke-width="1.15" stroke-linejoin="round"/>
<polyline points="36.5,191.09 54.07,157.21 71.64,200.38 89.21,198.76 106.78,195.52 124.35,191.84 141.92,192.32 159.49,195.43 177.06,197.02" fill="none" stroke="#8a8a8a" stroke-width="1.15" stroke-linejoin="round"/>
<polyline points="36.5,214.34 54.07,162.68 71.64,210.34 89.21,212.86 106.78,210.57 124.35,208.49 141.92,206.86 159.49,208.46 177.06,213.56" fill="none" stroke="#8a8a8a" stroke-width="1.15" stroke-linejoin="round"/>
<polyline points="36.5,189.43 54.07,157.75 71.64,202 89.21,202.27 106.78,197.01 124.35,191.46 141.92,190.54 159.49,195.01 177.06,196.46" fill="none" stroke="#8a8a8a" stroke-width="1.15" stroke-linejoin="round"/>
<polyline points="36.5,217.23 54.07,162.14 71.64,210.54 89.21,214.88 106.78,213.35 124.35,209.8 141.92,207.72 159.49,206.83 177.06,211.11" fill="none" stroke="#8a8a8a" stroke-width="1.15" stroke-linejoin="round"/>
<polyline points="36.5,187.07 54.07,157.02 71.64,199.5 89.21,197.75 106.78,196.72 124.35,193.2 141.92,192.16 159.49,194.44 177.06,196.79" fill="none" stroke="#8a8a8a" stroke-width="1.15" stroke-linejoin="round"/>
<polyline points="36.5,214.06 54.07,162.1 71.64,209.65 89.21,210.76 106.78,212.59 124.35,209.46 141.92,209.92 159.49,205.52 177.06,208.91" fill="none" stroke="#8a8a8a" stroke-width="1.15" stroke-linejoin="round"/>
<polyline points="36.5,188.33 54.07,157.24 71.64,200.76 89.21,200.5 106.78,198.83 124.35,194.01 141.92,192.59 159.49,192 177.06,196.83" fill="none" stroke="#8a8a8a" stroke-width="1.15" stroke-linejoin="round"/>
<polyline points="36.5,213.8 54.07,162.76 71.64,211.37 89.21,210.39 106.78,213.45 124.35,208.19 141.92,209.87 159.49,207.53 177.06,213.98" fill="none" stroke="#8a8a8a" stroke-width="1.15" stroke-linejoin="round"/>
<polyline points="36.5,190.06 54.07,157.84 71.64,199.12 89.21,200.24 106.78,199.88 124.35,192.5 141.92,193.61 159.49,194.22 177.06,196.17" fill="none" stroke="#8a8a8a" stroke-width="1.15" stroke-linejoin="round"/>
<polyline points="36.5,216.57 54.07,161.62 71.64,209.2 89.21,212.33 106.78,213.81 124.35,209.09 141.92,205.56 159.49,208.85 177.06,212.58" fill="none" stroke="#8a8a8a" stroke-width="1.15" stroke-linejoin="round"/>
<polyline points="36.5,192.18 54.07,157.41 71.64,200.52 89.21,201.53 106.78,196.24 124.35,191.63 141.92,193.7 159.49,194.53 177.06,197.64" fill="none" stroke="#8a8a8a" stroke-width="1.15" stroke-linejoin="round"/>
<polyline points="36.5,212.07 54.07,162.63 71.64,210.38 89.21,213.7 106.78,212.9 124.35,207.61 141.92,205.53 159.49,208.21 177.06,211.04" fill="none" stroke="#8a8a8a" stroke-width="1.15" stroke-linejoin="round"/>
<polyline points="36.5,190.37 54.07,158.28 71.64,202.02 89.21,201.36 106.78,199.72 124.35,195.03 141.92,194.47 159.49,195.02 177.06,192.69" fill="none" stroke="#8a8a8a" stroke-width="1.15" stroke-linejoin="round"/>
<polyline points="36.5,210.8 54.07,161.89 71.64,208.6 89.21,215.42 106.78,213.64 124.35,208.83 141.92,208.35 159.49,208.91 177.06,213.9" fill="none" stroke="#8a8a8a" stroke-width="1.15" stroke-linejoin="round"/>
<polyline points="36.5,189.56 54.07,157.14 71.64,200.57 89.21,196.89 106.78,197.01 124.35,191.96 141.92,194.46 159.49,190.86 177.06,192.44" fill="none" stroke="#8a8a8a" stroke-width="1.15" stroke-linejoin="round"/>
<polyline points="36.5,211.66 54.07,161.54 71.64,209.55 89.21,214.94 106.78,211.18 124.35,209.22 141.92,206.01 159.49,206.18 177.06,209.65" fill="none" stroke="#8a8a8a" stroke-width="1.15" stroke-linejoin="round"/>
<polyline points="36.5,187.71 54.07,158.27 71.64,201.57 89.21,199.76 106.78,198.43 124.35,191.46 141.92,192.04 159.49,190.42 177.06,195.21" fill="none" stroke="#8a8a8a" stroke-width="1.15" stroke-linejoin="round"/>
<polyline points="36.5,208.87 54.07,162.61 71.64,210.69 89.21,211.43 106.78,212.95 124.35,210.25 141.92,206.66 159.49,208.41 177.06,212.18" fill="none" stroke="#8a8a8a" stroke-width="1.15" stroke-linejoin="round"/>
<polyline points="36.5,188.29 54.07,158.17 71.64,201.63 89.21,201.83 106.78,196.8 124.35,192.94 141.92,192.57 159.49,194.68 177.06,195.04" fill="none" stroke="#8a8a8a" stroke-width="1.15" stroke-linejoin="round"/>
<polyline points="36.5,213.74 54.07,161.95 71.64,209.4 89.21,211.72 106.78,211.33 124.35,206.34 141.92,206.51 159.49,204.82 177.06,215.57" fill="none" stroke="#8a8a8a" stroke-width="1.15" stroke-linejoin="round"/>
<polyline points="36.5,191.71 54.07,157.02 71.64,200.21 89.21,200.25 106.78,198.38 124.35,190.51 141.92,192.86 159.49,190.82 177.06,193.82" fill="none" stroke="#8a8a8a" stroke-width="1.15" stroke-linejoin="round"/>
<polyline points="36.5,212.58 54.07,161.96 71.64,210.96 89.21,213.04 106.78,210.61 124.35,210.21 141.92,208.88 159.49,207.92 177.06,212.04" fill="none" stroke="#8a8a8a" stroke-width="1.15" stroke-linejoin="round"/>
<polyline points="36.5,191.13 54.07,158.21 71.64,199.5 89.21,200.16 106.78,196.25 124.35,194.76 141.92,194.87 159.49,193.09 177.06,196.03" fill="none" stroke="#8a8a8a" stroke-width="1.15" stroke-linejoin="round"/>
<polyline points="36.5,212.15 54.07,161.81 71.64,209.95 89.21,214.57 106.78,214.62 124.35,211.34 141.92,208.29 159.49,205.55 177.06,211.04" fill="none" stroke="#8a8a8a" stroke-width="1.15" stroke-linejoin="round"/>
<polyline points="36.5,183.99 54.07,157.24 71.64,199.37 89.21,198.97 106.78,197.42 124.35,193.37 141.92,194.58 159.49,193.53 177.06,197.67" fill="none" stroke="#8a8a8a" stroke-width="1.15" stroke-linejoin="round"/>
<polyline points="36.5,214.09 54.07,162.19 71.64,211.45 89.21,214.67 106.78,210.04 124.35,208.89 141.92,206.69 159.49,204.12 177.06,209.74" fill="none" stroke="#8a8a8a" stroke-width="1.15" stroke-linejoin="round"/>
<polyline points="36.5,191.11 54.07,158.76 71.64,199.13 89.21,197 106.78,197.35 124.35,190.03 141.92,193.56 159.49,191.43 177.06,196.55" fill="none" stroke="#8a8a8a" stroke-width="1.15" stroke-linejoin="round"/>
<polyline points="36.5,213.54 54.07,161.97 71.64,208.93 89.21,211.39 106.78,213.55 124.35,205.96 141.92,208.53 159.49,205.64 177.06,212.96" fill="none" stroke="#8a8a8a" stroke-width="1.15" stroke-linejoin="round"/>
<polyline points="36.5,193.74 54.07,157.02 71.64,199.22 89.21,199.33 106.78,196.81 124.35,192.71 141.92,192.12 159.49,191.47 177.06,194.33" fill="none" stroke="#8a8a8a" stroke-width="1.15" stroke-linejoin="round"/>
<polyline points="36.5,213.29 54.07,162.37 71.64,209.73 89.21,212.01 106.78,213.54 124.35,210.79 141.92,206.86 159.49,206.71 177.06,212.97" fill="none" stroke="#8a8a8a" stroke-width="1.15" stroke-linejoin="round"/>
<polyline points="36.5,190.81 54.07,158.21 71.64,200.79 89.21,198.48 106.78,199.45 124.35,191.24 141.92,194.53 159.49,190.77 177.06,194.71" fill="none" stroke="#8a8a8a" stroke-width="1.15" stroke-linejoin="round"/>
<polyline points="36.5,213.77 54.07,162.16 71.64,211.34 89.21,215.3 106.78,212.61 124.35,211.51 141.92,204.88 159.49,207.83 177.06,209.11" fill="none" stroke="#8a8a8a" stroke-width="1.15" stroke-linejoin="round"/>
<polyline points="36.5,191.82 54.07,157.23 71.64,201.35 89.21,198.12 106.78,198.81 124.35,194.82 141.92,191.16 159.49,194.17 177.06,192.65" fill="none" stroke="#8a8a8a" stroke-width="1.15" stroke-linejoin="round"/>
<polyline points="36.5,215.09 54.07,162.15 71.64,209.83 89.21,209.89 106.78,212.63 124.35,209.44 141.92,210.26 159.49,206.26 177.06,211.35" fill="none" stroke="#8a8a8a" stroke-width="1.15" stroke-linejoin="round"/>
<polyline points="36.5,189.22 54.07,157.76 71.64,200.69 89.21,200.08 106.78,199.14 124.35,194.01 141.92,193.42 159.49,192.98 177.06,196.42" fill="none" stroke="#8a8a8a" stroke-width="1.15" stroke-linejoin="round"/>
<polyline points="36.5,213.65 54.07,162.82 71.64,211.51 89.21,214.31 106.78,210.56 124.35,208.78 141.92,205.87 159.49,208.59 177.06,213.15" fill="none" stroke="#8a8a8a" stroke-width="1.15" stroke-linejoin="round"/>
<polyline points="36.5,190.36 54.07,157.99 71.64,199.93 89.21,199.13 106.78,199.46 124.35,194.83 141.92,192.69 159.49,193.84 177.06,198.17" fill="none" stroke="#8a8a8a" stroke-width="1.15" stroke-linejoin="round"/>
<polyline points="36.5,216.83 54.07,162.16 71.64,210.83 89.21,213.72 106.78,209.21 124.35,212.01 141.92,207.95 159.49,207.57 177.06,210.95" fill="none" stroke="#8a8a8a" stroke-width="1.15" stroke-linejoin="round"/>
<polyline points="36.5,188.89 54.07,157.57 71.64,199.69 89.21,198.92 106.78,197.64 124.35,191.74 141.92,193.35 159.49,193.13 177.06,198.82" fill="none" stroke="#8a8a8a" stroke-width="1.15" stroke-linejoin="round"/>
<polyline points="36.5,208.75 54.07,162.12 71.64,210.43 89.21,212.54 106.78,213.49 124.35,208.76 141.92,207.57 159.49,206.8 177.06,213.49" fill="none" stroke="#8a8a8a" stroke-width="1.15" stroke-linejoin="round"/>
<polyline points="36.5,192.05 54.07,158.22 71.64,201.15 89.21,198.22 106.78,199.56 124.35,193.37 141.92,191.66 159.49,194.63 177.06,195.18" fill="none" stroke="#8a8a8a" stroke-width="1.15" stroke-linejoin="round"/>
<polyline points="36.5,209.57 54.07,162.82 71.64,210.97 89.21,212.48 106.78,211.25 124.35,211.61 141.92,205.24 159.49,207.71 177.06,209.42" fill="none" stroke="#8a8a8a" stroke-width="1.15" stroke-linejoin="round"/>
<polyline points="36.5,191.35 54.07,157.59 71.64,200.27 89.21,197.05 106.78,199.97 124.35,193.03 141.92,192.49 159.49,190.76 177.06,194.34" fill="none" stroke="#8a8a8a" stroke-width="1.15" stroke-linejoin="round"/>
<polyline points="36.5,212.12 54.07,161.83 71.64,210.52 89.21,210.86 106.78,209.37 124.35,206.29 141.92,207.33 159.49,208.5 177.06,214.08" fill="none" stroke="#8a8a8a" stroke-width="1.15" stroke-linejoin="round"/>
<polyline points="36.5,185.74 54.07,157.07 71.64,199.93 89.21,200.64 106.78,198.86 124.35,194.57 141.92,192.62 159.49,192.5 177.06,193.16" fill="none" stroke="#8a8a8a" stroke-width="1.15" stroke-linejoin="round"/>
<polyline points="36.5,213.55 54.07,162.57 71.64,211.21 89.21,213.41 106.78,210.91 124.35,209.95 141.92,205.04 159.49,205.39 177.06,212.28" fill="none" stroke="#8a8a8a" stroke-width="1.15" stroke-linejoin="round"/>
<polyline points="36.5,189.88 54.07,158.38 71.64,201.29 89.21,197.57 106.78,196.31 124.35,191.35 141.92,190.79 159.49,194.81 177.06,194.9" fill="none" stroke="#8a8a8a" stroke-width="1.15" stroke-linejoin="round"/>
<polyline points="36.5,217.64 54.07,161.56 71.64,209.36 89.21,214.96 106.78,210.35 124.35,207.01 141.92,204.7 159.49,204.87 177.06,210.37" fill="none" stroke="#8a8a8a" stroke-width="1.15" stroke-linejoin="round"/>
<polyline points="36.5,217.64 54.07,161.93 71.64,210.17 89.21,214.91 106.78,213.49 124.35,209.75 141.92,206.67 159.49,203.63 177.06,212.83" fill="none" stroke="#8a8a8a" stroke-width="1.15" stroke-linejoin="round"/>
<polyline points="36.5,217.23 54.07,161.92 71.64,210.72 89.21,213.13 106.78,213.72 124.35,209.62 141.92,208.74 159.49,205.92 177.06,212.25" fill="none" stroke="#8a8a8a" stroke-width="1.15" stroke-linejoin="round"/>
<polyline points="36.5,183.99 54.07,158.51 71.64,201.81 89.21,198.99 106.78,199.36 124.35,189.32 141.92,190.46 159.49,193.27 177.06,194.2" fill="none" stroke="#8a8a8a" stroke-width="1.15" stroke-linejoin="round"/>
<polyline points="36.5,183.99 54.07,158.4 71.64,202.16 89.21,197.92 106.78,195.8 124.35,194.59 141.92,194.3 159.49,191.86 177.06,197.98" fill="none" stroke="#8a8a8a" stroke-width="1.15" stroke-linejoin="round"/>
<polyline points="36.5,184.58 54.07,157.93 71.64,201.14 89.21,200.76 106.78,198.37 124.35,194.34 141.92,193.72 159.49,190.93 177.06,194.92" fill="none" stroke="#8a8a8a" stroke-width="1.15" stroke-linejoin="round"/>
<polyline points="36.5,212.52 54.07,164.19 71.64,210.08 89.21,209.86 106.78,209.13 124.35,206.83 141.92,205.22 159.49,207.01 177.06,211.75" fill="none" stroke="#8a8a8a" stroke-width="1.15" stroke-linejoin="round"/>
<polyline points="36.5,215.45 54.07,164.19 71.64,208.17 89.21,214.25 106.78,214.32 124.35,208.64 141.92,208.98 159.49,205.13 177.06,213.25" fill="none" stroke="#8a8a8a" stroke-width="1.15" stroke-linejoin="round"/>
<polyline points="36.5,211.48 54.07,163.94 71.64,211.33 89.21,212.36 106.78,210.88 124.35,213.12 141.92,208.82 159.49,207.36 177.06,211.24" fill="none" stroke="#8a8a8a" stroke-width="1.15" stroke-linejoin="round"/>
<polyline points="36.5,190.73 54.07,156.46 71.64,201.27 89.21,198.57 106.78,199.82 124.35,194.21 141.92,193.35 159.49,190.02 177.06,196.22" fill="none" stroke="#8a8a8a" stroke-width="1.15" stroke-linejoin="round"/>
<polyline points="36.5,193.9 54.07,156.46 71.64,201.94 89.21,199.37 106.78,195.57 124.35,191.71 141.92,192.98 159.49,194.2 177.06,196.7" fill="none" stroke="#8a8a8a" stroke-width="1.15" stroke-linejoin="round"/>
<polyline points="36.5,185.3 54.07,156.58 71.64,201.4 89.21,198.69 106.78,197.18 124.35,191.11 141.92,194.42 159.49,194.2 177.06,196.46" fill="none" stroke="#8a8a8a" stroke-width="1.15" stroke-linejoin="round"/>
<polyline points="36.5,212.1 54.07,162.95 71.64,219.9 89.21,215.03 106.78,209.42 124.35,210.57 141.92,206.75 159.49,207.86 177.06,208.77" fill="none" stroke="#8a8a8a" stroke-width="1.15" stroke-linejoin="round"/>
<polyline points="36.5,210.47 54.07,161.72 71.64,219.9 89.21,213.94 106.78,210.32 124.35,209.98 141.92,208.16 159.49,205.73 177.06,214.67" fill="none" stroke="#8a8a8a" stroke-width="1.15" stroke-linejoin="round"/>
<polyline points="36.5,215.32 54.07,161.83 71.64,218.13 89.21,212.78 106.78,213.92 124.35,207.56 141.92,209.13 159.49,204.67 177.06,213.82" fill="none" stroke="#8a8a8a" stroke-width="1.15" stroke-linejoin="round"/>
<polyline points="36.5,192 54.07,158.81 71.64,190.92 89.21,201.83 106.78,196.22 124.35,190.62 141.92,193.49 159.49,190.65 177.06,197.09" fill="none" stroke="#8a8a8a" stroke-width="1.15" stroke-linejoin="round"/>
<polyline points="36.5,190.54 54.07,158.1 71.64,190.92 89.21,200.28 106.78,198.21 124.35,192.87 141.92,191.9 159.49,191.04 177.06,196.42" fill="none" stroke="#8a8a8a" stroke-width="1.15" stroke-linejoin="round"/>
<polyline points="36.5,189.29 54.07,158.58 71.64,194.36 89.21,201.88 106.78,200.98 124.35,190.86 141.92,195.15 159.49,194.97 177.06,193.78" fill="none" stroke="#8a8a8a" stroke-width="1.15" stroke-linejoin="round"/>
<polyline points="36.5,210.32 54.07,162.53 71.64,211.32 89.21,220.54 106.78,209.5 124.35,211.43 141.92,208.86 159.49,205.18 177.06,213.77" fill="none" stroke="#8a8a8a" stroke-width="1.15" stroke-linejoin="round"/>
<polyline points="36.5,207.48 54.07,161.66 71.64,210.15 89.21,220.54 106.78,210.3 124.35,212.01 141.92,205.68 159.49,207.65 177.06,214.07" fill="none" stroke="#8a8a8a" stroke-width="1.15" stroke-linejoin="round"/>
<polyline points="36.5,207.8 54.07,162.33 71.64,208.81 89.21,218.88 106.78,212.53 124.35,210.57 141.92,205.49 159.49,205.58 177.06,215.31" fill="none" stroke="#8a8a8a" stroke-width="1.15" stroke-linejoin="round"/>
<polyline points="36.5,192.59 54.07,157.57 71.64,200.88 89.21,193.17 106.78,200.39 124.35,193.77 141.92,190.7 159.49,194.87 177.06,199.02" fill="none" stroke="#8a8a8a" stroke-width="1.15" stroke-linejoin="round"/>
<polyline points="36.5,194 54.07,157.8 71.64,199.13 89.21,193.17 106.78,195.64 124.35,192.29 141.92,195.19 159.49,194.92 177.06,192.9" fill="none" stroke="#8a8a8a" stroke-width="1.15" stroke-linejoin="round"/>
<polyline points="36.5,188.67 54.07,157.04 71.64,200.71 89.21,194.19 106.78,196.97 124.35,193.46 141.92,196.07 159.49,190.21 177.06,195.82" fill="none" stroke="#8a8a8a" stroke-width="1.15" stroke-linejoin="round"/>
<polyline points="36.5,216.15 54.07,161.83 71.64,211.35 89.21,213.74 106.78,221.83 124.35,207.21 141.92,205.63 159.49,203.98 177.06,209.31" fill="none" stroke="#8a8a8a" stroke-width="1.15" stroke-linejoin="round"/>
<polyline points="36.5,213.43 54.07,162.66 71.64,211.23 89.21,210.79 106.78,221.83 124.35,206.99 141.92,207.1 159.49,204.77 177.06,208.41" fill="none" stroke="#8a8a8a" stroke-width="1.15" stroke-linejoin="round"/>
<polyline points="36.5,212.01 54.07,162.08 71.64,209.74 89.21,213.22 106.78,219.41 124.35,209.53 141.92,204.65 159.49,207.97 177.06,214.77" fill="none" stroke="#8a8a8a" stroke-width="1.15" stroke-linejoin="round"/>
<polyline points="36.5,185.51 54.07,158.55 71.64,202.09 89.21,200.65 106.78,192.53 124.35,189.39 141.92,192.86 159.49,190.67 177.06,194.03" fill="none" stroke="#8a8a8a" stroke-width="1.15" stroke-linejoin="round"/>
<polyline points="36.5,186.87 54.07,158.85 71.64,202.43 89.21,198.69 106.78,192.53 124.35,190.81 141.92,191.54 159.49,193.33 177.06,196.42" fill="none" stroke="#8a8a8a" stroke-width="1.15" stroke-linejoin="round"/>
<polyline points="36.5,187.19 54.07,158.22 71.64,200.07 89.21,201.83 106.78,193.21 124.35,190.77 141.92,194.41 159.49,194.77 177.06,194.86" fill="none" stroke="#8a8a8a" stroke-width="1.15" stroke-linejoin="round"/>
<polyline points="36.5,211.56 54.07,162.25 71.64,210.97 89.21,210.51 106.78,210.95 124.35,217.16 141.92,209.45 159.49,203.73 177.06,213.64" fill="none" stroke="#8a8a8a" stroke-width="1.15" stroke-linejoin="round"/>
<polyline points="36.5,215.88 54.07,162.1 71.64,209.6 89.21,214.56 106.78,213.51 124.35,217.16 141.92,207.4 159.49,204.45 177.06,214.17" fill="none" stroke="#8a8a8a" stroke-width="1.15" stroke-linejoin="round"/>
<polyline points="36.5,216.5 54.07,162.71 71.64,211.54 89.21,212.69 106.78,212.12 124.35,215.08 141.92,208.32 159.49,207.42 177.06,211.52" fill="none" stroke="#8a8a8a" stroke-width="1.15" stroke-linejoin="round"/>
<polyline points="36.5,187.93 54.07,157.11 71.64,202.35 89.21,197.31 106.78,198.75 124.35,185.6 141.92,195.18 159.49,193.64 177.06,197.31" fill="none" stroke="#8a8a8a" stroke-width="1.15" stroke-linejoin="round"/>
<polyline points="36.5,186.48 54.07,158.86 71.64,202.01 89.21,199.26 106.78,199.95 124.35,185.6 141.92,191.07 159.49,195.06 177.06,192.58" fill="none" stroke="#8a8a8a" stroke-width="1.15" stroke-linejoin="round"/>
<polyline points="36.5,186.44 54.07,157.92 71.64,202.62 89.21,197.74 106.78,198.99 124.35,186.79 141.92,192.78 159.49,191.13 177.06,198.13" fill="none" stroke="#8a8a8a" stroke-width="1.15" stroke-linejoin="round"/>
<polyline points="36.5,214.43 54.07,162.77 71.64,211.21 89.21,210.41 106.78,210.98 124.35,210.78 141.92,212.49 159.49,205.13 177.06,210.04" fill="none" stroke="#8a8a8a" stroke-width="1.15" stroke-linejoin="round"/>
<polyline points="36.5,213.71 54.07,161.92 71.64,208.97 89.21,210.86 106.78,210.03 124.35,212.94 141.92,212.49 159.49,207.16 177.06,212.42" fill="none" stroke="#8a8a8a" stroke-width="1.15" stroke-linejoin="round"/>
<polyline points="36.5,207.43 54.07,162.24 71.64,208.38 89.21,212.98 106.78,212.33 124.35,211.09 141.92,211.26 159.49,205.74 177.06,209.66" fill="none" stroke="#8a8a8a" stroke-width="1.15" stroke-linejoin="round"/>
<polyline points="36.5,187.82 54.07,158.84 71.64,201.53 89.21,202.23 106.78,199.57 124.35,194.85 141.92,187.37 159.49,194.31 177.06,198.06" fill="none" stroke="#8a8a8a" stroke-width="1.15" stroke-linejoin="round"/>
<polyline points="36.5,192.74 54.07,157.06 71.64,202.63 89.21,197.87 106.78,196.37 124.35,190.61 141.92,187.37 159.49,194.78 177.06,192.84" fill="none" stroke="#8a8a8a" stroke-width="1.15" stroke-linejoin="round"/>
<polyline points="36.5,186.97 54.07,157.08 71.64,201.62 89.21,197.87 106.78,198.67 124.35,196.19 141.92,187.98 159.49,192.29 177.06,198.25" fill="none" stroke="#8a8a8a" stroke-width="1.15" stroke-linejoin="round"/>
<polyline points="36.5,208.35 54.07,161.98 71.64,209.83 89.21,210.44 106.78,209.38 124.35,211.18 141.92,206.25 159.49,211.85 177.06,209.97" fill="none" stroke="#8a8a8a" stroke-width="1.15" stroke-linejoin="round"/>
<polyline points="36.5,216.25 54.07,162.95 71.64,208.13 89.21,212.69 106.78,209.38 124.35,209.43 141.92,204.35 159.49,211.85 177.06,209" fill="none" stroke="#8a8a8a" stroke-width="1.15" stroke-linejoin="round"/>
<polyline points="36.5,208.76 54.07,161.71 71.64,209.73 89.21,213.46 106.78,210.3 124.35,206.56 141.92,204.73 159.49,211.14 177.06,211.16" fill="none" stroke="#8a8a8a" stroke-width="1.15" stroke-linejoin="round"/>
<polyline points="36.5,191.69 54.07,157.45 71.64,202.31 89.21,201.46 106.78,197.08 124.35,194.42 141.92,191.58 159.49,187.37 177.06,193.9" fill="none" stroke="#8a8a8a" stroke-width="1.15" stroke-linejoin="round"/>
<polyline points="36.5,191.7 54.07,156.98 71.64,201.96 89.21,199.83 106.78,197.16 124.35,196.04 141.92,193.38 159.49,187.37 177.06,195.12" fill="none" stroke="#8a8a8a" stroke-width="1.15" stroke-linejoin="round"/>
<polyline points="36.5,185.94 54.07,158.51 71.64,201.89 89.21,200.42 106.78,199.87 124.35,195.9 141.92,192.54 159.49,187.91 177.06,194.11" fill="none" stroke="#8a8a8a" stroke-width="1.15" stroke-linejoin="round"/>
<polyline points="36.5,216.31 54.07,161.62 71.64,209.39 89.21,211.4 106.78,212.43 124.35,206.92 141.92,204.98 159.49,207.2 177.06,218.29" fill="none" stroke="#8a8a8a" stroke-width="1.15" stroke-linejoin="round"/>
<polyline points="36.5,211.46 54.07,161.66 71.64,209.49 89.21,214.87 106.78,214.57 124.35,207.01 141.92,205.51 159.49,206.77 177.06,218.29" fill="none" stroke="#8a8a8a" stroke-width="1.15" stroke-linejoin="round"/>
<polyline points="36.5,212.34 54.07,163.27 71.64,209.23 89.21,214.91 106.78,213.41 124.35,209.72 141.92,207.23 159.49,205.79 177.06,217.21" fill="none" stroke="#8a8a8a" stroke-width="1.15" stroke-linejoin="round"/>
<polyline points="36.5,186.91 54.07,158.01 71.64,200.82 89.21,199.08 106.78,197.24 124.35,194.7 141.92,194.1 159.49,190.52 177.06,189.63" fill="none" stroke="#8a8a8a" stroke-width="1.15" stroke-linejoin="round"/>
<polyline points="36.5,191.19 54.07,157.85 71.64,199.52 89.21,199.06 106.78,195.92 124.35,192.92 141.92,194.29 159.49,192.69 177.06,189.63" fill="none" stroke="#8a8a8a" stroke-width="1.15" stroke-linejoin="round"/>
<polyline points="36.5,188.97 54.07,157.09 71.64,199.55 89.21,199.88 106.78,199.37 124.35,195.76 141.92,195.62 159.49,190.72 177.06,190.66" fill="none" stroke="#8a8a8a" stroke-width="1.15" stroke-linejoin="round"/>
<rect x="35.4" y="216.54" width="2.2" height="2.2" fill="#808080"/>
<rect x="35.4" y="216.54" width="2.2" height="2.2" fill="#808080"/>
<rect x="35.4" y="216.13" width="2.2" height="2.2" fill="#808080"/>
<rect x="35.4" y="182.89" width="2.2" height="2.2" fill="#808080"/>
<rect x="35.4" y="182.89" width="2.2" height="2.2" fill="#808080"/>
<rect x="35.4" y="183.48" width="2.2" height="2.2" fill="#808080"/>
<rect x="52.97" y="163.09" width="2.2" height="2.2" fill="#808080"/>
<rect x="52.97" y="163.09" width="2.2" height="2.2" fill="#808080"/>
<rect x="52.97" y="162.84" width="2.2" height="2.2" fill="#808080"/>
<rect x="52.97" y="155.36" width="2.2" height="2.2" fill="#808080"/>
<rect x="52.97" y="155.36" width="2.2" height="2.2" fill="#808080"/>
<rect x="52.97" y="155.48" width="2.2" height="2.2" fill="#808080"/>
<rect x="70.54" y="218.8" width="2.2" height="2.2" fill="#808080"/>
<rect x="70.54" y="218.8" width="2.2" height="2.2" fill="#808080"/>
<rect x="70.54" y="217.03" width="2.2" height="2.2" fill="#808080"/>
<rect x="70.54" y="189.82" width="2.2" height="2.2" fill="#808080"/>
<rect x="70.54" y="189.82" width="2.2" height="2.2" fill="#808080"/>
<rect x="70.54" y="193.26" width="2.2" height="2.2" fill="#808080"/>
<rect x="88.11" y="219.44" width="2.2" height="2.2" fill="#808080"/>
<rect x="88.11" y="219.44" width="2.2" height="2.2" fill="#808080"/>
<rect x="88.11" y="217.78" width="2.2" height="2.2" fill="#808080"/>
<rect x="88.11" y="192.07" width="2.2" height="2.2" fill="#808080"/>
<rect x="88.11" y="192.07" width="2.2" height="2.2" fill="#808080"/>
<rect x="88.11" y="193.09" width="2.2" height="2.2" fill="#808080"/>
<rect x="105.68" y="220.73" width="2.2" height="2.2" fill="#808080"/>
<rect x="105.68" y="220.73" width="2.2" height="2.2" fill="#808080"/>
<rect x="105.68" y="218.31" width="2.2" height="2.2" fill="#808080"/>
<rect x="105.68" y="191.43" width="2.2" height="2.2" fill="#808080"/>
<rect x="105.68" y="191.43" width="2.2" height="2.2" fill="#808080"/>
<rect x="105.68" y="192.11" width="2.2" height="2.2" fill="#808080"/>
<rect x="123.25" y="216.06" width="2.2" height="2.2" fill="#808080"/>
<rect x="123.25" y="216.06" width="2.2" height="2.2" fill="#808080"/>
<rect x="123.25" y="213.98" width="2.2" height="2.2" fill="#808080"/>
<rect x="123.25" y="184.5" width="2.2" height="2.2" fill="#808080"/>
<rect x="123.25" y="184.5" width="2.2" height="2.2" fill="#808080"/>
<rect x="123.25" y="185.69" width="2.2" height="2.2" fill="#808080"/>
<rect x="140.82" y="211.39" width="2.2" height="2.2" fill="#808080"/>
<rect x="140.82" y="211.39" width="2.2" height="2.2" fill="#808080"/>
<rect x="140.82" y="210.16" width="2.2" height="2.2" fill="#808080"/>
<rect x="140.82" y="186.27" width="2.2" height="2.2" fill="#808080"/>
<rect x="140.82" y="186.27" width="2.2" height="2.2" fill="#808080"/>
<rect x="140.82" y="186.88" width="2.2" height="2.2" fill="#808080"/>
<rect x="158.39" y="210.75" width="2.2" height="2.2" fill="#808080"/>
<rect x="158.39" y="210.75" width="2.2" height="2.2" fill="#808080"/>
<rect x="158.39" y="210.04" width="2.2" height="2.2" fill="#808080"/>
<rect x="158.39" y="186.27" width="2.2" height="2.2" fill="#808080"/>
<rect x="158.39" y="186.27" width="2.2" height="2.2" fill="#808080"/>
<rect x="158.39" y="186.81" width="2.2" height="2.2" fill="#808080"/>
<rect x="175.96" y="217.19" width="2.2" height="2.2" fill="#808080"/>
<rect x="175.96" y="217.19" width="2.2" height="2.2" fill="#808080"/>
<rect x="175.96" y="216.11" width="2.2" height="2.2" fill="#808080"/>
<rect x="175.96" y="188.53" width="2.2" height="2.2" fill="#808080"/>
<rect x="175.96" y="188.53" width="2.2" height="2.2" fill="#808080"/>
<rect x="175.96" y="189.56" width="2.2" height="2.2" fill="#808080"/>
<polyline points="36.5,201.38 54.07,157.75 71.64,205.25 89.21,204.44 106.78,201.22 124.35,206.53 141.92,204.28 159.49,207.18 177.06,203.15" fill="none" stroke="#2b3f8c" stroke-width="2.2" stroke-linejoin="round"/>
<polyline points="36.5,198.81 54.07,156.94 71.64,206.53 89.21,205.25 106.78,206.53 124.35,198 141.92,207.18 159.49,203.96 177.06,207.02" fill="none" stroke="#000" stroke-width="2.3" stroke-linejoin="round"/>
<rect x="35.2" y="197.5" width="2.6" height="2.6" fill="#000"/>
<rect x="52.77" y="155.64" width="2.6" height="2.6" fill="#000"/>
<rect x="70.34" y="205.23" width="2.6" height="2.6" fill="#000"/>
<rect x="87.91" y="203.94" width="2.6" height="2.6" fill="#000"/>
<rect x="105.48" y="205.23" width="2.6" height="2.6" fill="#000"/>
<rect x="123.05" y="196.7" width="2.6" height="2.6" fill="#000"/>
<rect x="140.62" y="205.88" width="2.6" height="2.6" fill="#000"/>
<rect x="158.19" y="202.66" width="2.6" height="2.6" fill="#000"/>
<rect x="175.76" y="205.72" width="2.6" height="2.6" fill="#000"/>
<polyline points="36.5,204.28 54.07,156.14 71.64,205.25 89.21,207.98 106.78,205.89 124.35,202.03 141.92,203.96 159.49,198.97 177.06,207.18" fill="none" stroke="#c21f2d" stroke-width="2.2" stroke-linejoin="round"/>
<text x="0" y="260.2" font-size="14" text-anchor="start" fill="#000" font-weight="bold">i</text>
<text x="34.8" y="270.1" font-size="7.7" text-anchor="middle" fill="#000">DC</text>
<text x="53.26" y="270.1" font-size="7.7" text-anchor="middle" fill="#000">M&#934;</text>
<text x="71.72" y="270.1" font-size="7.7" text-anchor="middle" fill="#000">MC</text>
<text x="90.18" y="270.1" font-size="7.7" text-anchor="middle" fill="#000">ET</text>
<text x="108.64" y="270.1" font-size="7.7" text-anchor="middle" fill="#000">DT</text>
<text x="127.1" y="270.1" font-size="7.7" text-anchor="middle" fill="#000">EC</text>
<text x="145.56" y="270.1" font-size="7.7" text-anchor="middle" fill="#000">Mel</text>
<text x="164.02" y="270.1" font-size="7.7" text-anchor="middle" fill="#000">Fib</text>
<text x="182.48" y="270.1" font-size="7.7" text-anchor="middle" fill="#000">KC</text>
<line x1="34.8" y1="276.4" x2="34.8" y2="345.1" stroke="#d9d9d9" stroke-width="0.8"/>
<line x1="53.26" y1="276.4" x2="53.26" y2="345.1" stroke="#d9d9d9" stroke-width="0.8"/>
<line x1="71.72" y1="276.4" x2="71.72" y2="345.1" stroke="#d9d9d9" stroke-width="0.8"/>
<line x1="90.18" y1="276.4" x2="90.18" y2="345.1" stroke="#d9d9d9" stroke-width="0.8"/>
<line x1="108.64" y1="276.4" x2="108.64" y2="345.1" stroke="#d9d9d9" stroke-width="0.8"/>
<line x1="127.1" y1="276.4" x2="127.1" y2="345.1" stroke="#d9d9d9" stroke-width="0.8"/>
<line x1="145.56" y1="276.4" x2="145.56" y2="345.1" stroke="#d9d9d9" stroke-width="0.8"/>
<line x1="164.02" y1="276.4" x2="164.02" y2="345.1" stroke="#d9d9d9" stroke-width="0.8"/>
<line x1="182.48" y1="276.4" x2="182.48" y2="345.1" stroke="#d9d9d9" stroke-width="0.8"/>
<line x1="27.3" y1="274.2" x2="27.3" y2="349.5" stroke="#555" stroke-width="1.4"/>
<line x1="25.8" y1="285.9" x2="27.3" y2="285.9" stroke="#333" stroke-width="0.8"/>
<text x="21.3" y="288.5" font-size="7.3" text-anchor="end" fill="#000">2</text>
<line x1="25.8" y1="302" x2="27.3" y2="302" stroke="#333" stroke-width="0.8"/>
<text x="21.3" y="304.6" font-size="7.3" text-anchor="end" fill="#000">1</text>
<line x1="25.8" y1="318.1" x2="27.3" y2="318.1" stroke="#333" stroke-width="0.8"/>
<text x="21.3" y="320.7" font-size="7.3" text-anchor="end" fill="#000">0</text>
<line x1="25.8" y1="334.2" x2="27.3" y2="334.2" stroke="#333" stroke-width="0.8"/>
<text x="21.3" y="336.8" font-size="7.3" text-anchor="end" fill="#000">&#8722;1</text>
<text x="7.1" y="311.5" font-size="7.6" text-anchor="middle" fill="#111" textLength="27.4" lengthAdjust="spacingAndGlyphs" transform="rotate(-90 7.1 311.5)">Z-scorel</text>
<polygon points="34.8,302.72 53.26,302.27 71.72,282.37 90.18,313.21 108.64,308.84 127.1,308.44 145.56,315.71 164.02,316.5 182.48,318.94 182.48,333.36 164.02,327.59 145.56,330.95 127.1,321.16 108.64,325.43 90.18,329.43 71.72,291.84 53.26,323.46 34.8,323.01" fill="#8a8a8a" stroke="#8a8a8a" stroke-width="0.8" stroke-linejoin="round"/>
<polyline points="34.8,328.57 53.26,328.67 71.72,292.88 90.18,330.63 108.64,331.25 127.1,322.19 145.56,330.09 164.02,330.19 182.48,336.97" fill="none" stroke="#8a8a8a" stroke-width="1.15" stroke-linejoin="round"/>
<polyline points="34.8,301.17 53.26,298.93 71.72,279.89 90.18,308.05 108.64,307 127.1,306.25 145.56,312.07 164.02,314.58 182.48,316.86" fill="none" stroke="#8a8a8a" stroke-width="1.15" stroke-linejoin="round"/>
<polyline points="34.8,323.71 53.26,328.73 71.72,292.71 90.18,331.38 108.64,325.36 127.1,320.91 145.56,331.96 164.02,329.07 182.48,332.74" fill="none" stroke="#8a8a8a" stroke-width="1.15" stroke-linejoin="round"/>
<polyline points="34.8,298.2 53.26,298.74 71.72,281.53 90.18,313.93 108.64,304.61 127.1,309.68 145.56,309.6 164.02,316.91 182.48,314.98" fill="none" stroke="#8a8a8a" stroke-width="1.15" stroke-linejoin="round"/>
<polyline points="34.8,323.3 53.26,326.14 71.72,294.43 90.18,334.32 108.64,330.88 127.1,324.24 145.56,336.63 164.02,329.81 182.48,334.19" fill="none" stroke="#8a8a8a" stroke-width="1.15" stroke-linejoin="round"/>
<polyline points="34.8,298.84 53.26,296.65 71.72,279.9 90.18,312.05 108.64,305.35 127.1,308.1 145.56,311.65 164.02,316.51 182.48,317.72" fill="none" stroke="#8a8a8a" stroke-width="1.15" stroke-linejoin="round"/>
<polyline points="34.8,322.52 53.26,332.44 71.72,294.04 90.18,329.06 108.64,324.92 127.1,322.2 145.56,331.58 164.02,327.39 182.48,334.35" fill="none" stroke="#8a8a8a" stroke-width="1.15" stroke-linejoin="round"/>
<polyline points="34.8,295.54 53.26,296.14 71.72,281.53 90.18,312.13 108.64,306.58 127.1,308.9 145.56,312.97 164.02,312.1 182.48,315.49" fill="none" stroke="#8a8a8a" stroke-width="1.15" stroke-linejoin="round"/>
<polyline points="34.8,322.43 53.26,324.21 71.72,291.7 90.18,330.08 108.64,327.43 127.1,322.41 145.56,333.41 164.02,327.03 182.48,332.59" fill="none" stroke="#8a8a8a" stroke-width="1.15" stroke-linejoin="round"/>
<polyline points="34.8,295.26 53.26,294.58 71.72,282.18 90.18,309.71 108.64,302.78 127.1,304.34 145.56,311.55 164.02,315.17 182.48,320.27" fill="none" stroke="#8a8a8a" stroke-width="1.15" stroke-linejoin="round"/>
<polyline points="34.8,326.92 53.26,329.44 71.72,293.78 90.18,331.54 108.64,330.66 127.1,321.53 145.56,331.94 164.02,326.65 182.48,333.9" fill="none" stroke="#8a8a8a" stroke-width="1.15" stroke-linejoin="round"/>
<polyline points="34.8,295.77 53.26,302.75 71.72,280.96 90.18,309.3 108.64,310.45 127.1,305.08 145.56,314.31 164.02,315.01 182.48,318.62" fill="none" stroke="#8a8a8a" stroke-width="1.15" stroke-linejoin="round"/>
<polyline points="34.8,329.14 53.26,321.95 71.72,292.06 90.18,328.81 108.64,331.23 127.1,325.37 145.56,331.01 164.02,327.3 182.48,331.41" fill="none" stroke="#8a8a8a" stroke-width="1.15" stroke-linejoin="round"/>
<polyline points="34.8,297.98 53.26,302.27 71.72,282 90.18,309.44 108.64,302.4 127.1,306.9 145.56,310.43 164.02,315.02 182.48,315.95" fill="none" stroke="#8a8a8a" stroke-width="1.15" stroke-linejoin="round"/>
<polyline points="34.8,328.74 53.26,330.59 71.72,293.04 90.18,328.43 108.64,329.65 127.1,321.2 145.56,331.54 164.02,330.84 182.48,333.18" fill="none" stroke="#8a8a8a" stroke-width="1.15" stroke-linejoin="round"/>
<polyline points="34.8,304.04 53.26,294.26 71.72,280.05 90.18,314.11 108.64,307 127.1,307.97 145.56,315.31 164.02,314.05 182.48,317.62" fill="none" stroke="#8a8a8a" stroke-width="1.15" stroke-linejoin="round"/>
<polyline points="34.8,327.04 53.26,323.99 71.72,294.27 90.18,332.86 108.64,330.39 127.1,323.01 145.56,334.08 164.02,327.67 182.48,334.87" fill="none" stroke="#8a8a8a" stroke-width="1.15" stroke-linejoin="round"/>
<polyline points="34.8,299.81 53.26,294.84 71.72,279.76 90.18,312.36 108.64,308.59 127.1,307.78 145.56,314 164.02,314.02 182.48,318.73" fill="none" stroke="#8a8a8a" stroke-width="1.15" stroke-linejoin="round"/>
<polyline points="34.8,320.71 53.26,327.39 71.72,292.5 90.18,330.26 108.64,326.63 127.1,323.13 145.56,331.96 164.02,326.47 182.48,338.03" fill="none" stroke="#8a8a8a" stroke-width="1.15" stroke-linejoin="round"/>
<polyline points="34.8,301.82 53.26,297.36 71.72,281.06 90.18,310.29 108.64,310.74 127.1,308.39 145.56,316.75 164.02,313.29 182.48,317.94" fill="none" stroke="#8a8a8a" stroke-width="1.15" stroke-linejoin="round"/>
<polyline points="34.8,324.16 53.26,325.26 71.72,292.87 90.18,334.34 108.64,325.74 127.1,323.41 145.56,330.82 164.02,328.07 182.48,331.98" fill="none" stroke="#8a8a8a" stroke-width="1.15" stroke-linejoin="round"/>
<polyline points="34.8,302.62 53.26,301.53 71.72,278.65 90.18,310.92 108.64,306.2 127.1,309.27 145.56,314.19 164.02,316.19 182.48,316.44" fill="none" stroke="#8a8a8a" stroke-width="1.15" stroke-linejoin="round"/>
<polyline points="34.8,323.7 53.26,322.76 71.72,294.33 90.18,327.67 108.64,328.05 127.1,324.27 145.56,335.54 164.02,330.29 182.48,335.05" fill="none" stroke="#8a8a8a" stroke-width="1.15" stroke-linejoin="round"/>
<polyline points="34.8,295.92 53.26,300.49 71.72,279.82 90.18,311.84 108.64,303.19 127.1,308.41 145.56,315.95 164.02,315.95 182.48,318.55" fill="none" stroke="#8a8a8a" stroke-width="1.15" stroke-linejoin="round"/>
<polyline points="34.8,327.05 53.26,330.79 71.72,292.96 90.18,331.61 108.64,330.88 127.1,321.9 145.56,331.12 164.02,330.85 182.48,333.8" fill="none" stroke="#8a8a8a" stroke-width="1.15" stroke-linejoin="round"/>
<polyline points="34.8,301.26 53.26,300.81 71.72,280.6 90.18,305.87 108.64,304.25 127.1,306.52 145.56,315.84 164.02,313.51 182.48,315.26" fill="none" stroke="#8a8a8a" stroke-width="1.15" stroke-linejoin="round"/>
<polyline points="34.8,323.22 53.26,323.81 71.72,291.71 90.18,329.86 108.64,330.07 127.1,323 145.56,335.03 164.02,330.11 182.48,339.62" fill="none" stroke="#8a8a8a" stroke-width="1.15" stroke-linejoin="round"/>
<polyline points="34.8,301.58 53.26,296.16 71.72,281.95 90.18,311.15 108.64,309.44 127.1,308.76 145.56,311.6 164.02,316.26 182.48,317.44" fill="none" stroke="#8a8a8a" stroke-width="1.15" stroke-linejoin="round"/>
<polyline points="34.8,323.95 53.26,327.01 71.72,291.17 90.18,333.75 108.64,324.37 127.1,322.03 145.56,334.84 164.02,328.1 182.48,336.02" fill="none" stroke="#8a8a8a" stroke-width="1.15" stroke-linejoin="round"/>
<polyline points="34.8,301.86 53.26,303.78 71.72,282.1 90.18,309.97 108.64,305.95 127.1,309.66 145.56,310.25 164.02,317.48 182.48,315.07" fill="none" stroke="#8a8a8a" stroke-width="1.15" stroke-linejoin="round"/>
<polyline points="34.8,327.39 53.26,323.77 71.72,293.83 90.18,330.04 108.64,325.39 127.1,322.13 145.56,332.37 164.02,331.52 182.48,334.63" fill="none" stroke="#8a8a8a" stroke-width="1.15" stroke-linejoin="round"/>
<polyline points="34.8,300.1 53.26,297.94 71.72,280.71 90.18,309.68 108.64,306.18 127.1,309.25 145.56,313.11 164.02,315.41 182.48,319.57" fill="none" stroke="#8a8a8a" stroke-width="1.15" stroke-linejoin="round"/>
<polyline points="34.8,325.18 53.26,329.01 71.72,291.33 90.18,329.48 108.64,324.04 127.1,321.57 145.56,332.64 164.02,328.23 182.48,335.36" fill="none" stroke="#8a8a8a" stroke-width="1.15" stroke-linejoin="round"/>
<polyline points="34.8,303.42 53.26,300.29 71.72,281.26 90.18,307.46 108.64,309.03 127.1,309.76 145.56,316.28 164.02,316.64 182.48,319.08" fill="none" stroke="#8a8a8a" stroke-width="1.15" stroke-linejoin="round"/>
<polyline points="34.8,326.27 53.26,332.77 71.72,294.57 90.18,330.66 108.64,326.05 127.1,325.47 145.56,336.82 164.02,329.32 182.48,335.58" fill="none" stroke="#8a8a8a" stroke-width="1.15" stroke-linejoin="round"/>
<polyline points="34.8,294.69 53.26,294.32 71.72,281.49 90.18,311.46 108.64,302.45 127.1,305.6 145.56,314.36 164.02,317.37 182.48,317.21" fill="none" stroke="#8a8a8a" stroke-width="1.15" stroke-linejoin="round"/>
<polyline points="34.8,323.85 53.26,323.5 71.72,292.63 90.18,334.94 108.64,330.29 127.1,322.93 145.56,332.78 164.02,330.74 182.48,335.29" fill="none" stroke="#8a8a8a" stroke-width="1.15" stroke-linejoin="round"/>
<polyline points="34.8,296.47 53.26,299.97 71.72,279.99 90.18,311.52 108.64,307.24 127.1,304.33 145.56,312.03 164.02,314.61 182.48,313.82" fill="none" stroke="#8a8a8a" stroke-width="1.15" stroke-linejoin="round"/>
<polyline points="34.8,325.09 53.26,331.26 71.72,294.99 90.18,328.68 108.64,325.4 127.1,321.79 145.56,330.21 164.02,326.42 182.48,332.42" fill="none" stroke="#8a8a8a" stroke-width="1.15" stroke-linejoin="round"/>
<polyline points="34.8,303.03 53.26,298 71.72,283.53 90.18,311.64 108.64,303.35 127.1,305.85 145.56,314.03 164.02,315.94 182.48,314.48" fill="none" stroke="#8a8a8a" stroke-width="1.15" stroke-linejoin="round"/>
<polyline points="34.8,331.3 53.26,326.04 71.72,291.45 90.18,330.94 108.64,325.66 127.1,321.76 145.56,336.25 164.02,329.74 182.48,336.02" fill="none" stroke="#8a8a8a" stroke-width="1.15" stroke-linejoin="round"/>
<polyline points="34.8,301.87 53.26,296.44 71.72,280.44 90.18,311.75 108.64,303.57 127.1,303.56 145.56,316.16 164.02,315.3 182.48,319.55" fill="none" stroke="#8a8a8a" stroke-width="1.15" stroke-linejoin="round"/>
<polyline points="34.8,328.1 53.26,327.75 71.72,291.43 90.18,332.34 108.64,326.22 127.1,324.04 145.56,334.23 164.02,331.32 182.48,332.36" fill="none" stroke="#8a8a8a" stroke-width="1.15" stroke-linejoin="round"/>
<polyline points="34.8,299.54 53.26,295.55 71.72,283.02 90.18,306.78 108.64,310.45 127.1,305.03 145.56,312.52 164.02,315.52 182.48,316.16" fill="none" stroke="#8a8a8a" stroke-width="1.15" stroke-linejoin="round"/>
<polyline points="34.8,322.51 53.26,327.28 71.72,293.2 90.18,332.14 108.64,331.11 127.1,325.79 145.56,331.36 164.02,327.53 182.48,337.94" fill="none" stroke="#8a8a8a" stroke-width="1.15" stroke-linejoin="round"/>
<polyline points="34.8,301.2 53.26,304.85 71.72,278.47 90.18,314.62 108.64,305.25 127.1,308.29 145.56,310.85 164.02,313.7 182.48,319.66" fill="none" stroke="#8a8a8a" stroke-width="1.15" stroke-linejoin="round"/>
<polyline points="34.8,326.2 53.26,329.29 71.72,292.24 90.18,332.83 108.64,327.61 127.1,321.92 145.56,329.85 164.02,329.39 182.48,336.57" fill="none" stroke="#8a8a8a" stroke-width="1.15" stroke-linejoin="round"/>
<polyline points="34.8,296.97 53.26,300.63 71.72,282.37 90.18,310.12 108.64,307.03 127.1,306.98 145.56,315.6 164.02,316.93 182.48,314.37" fill="none" stroke="#8a8a8a" stroke-width="1.15" stroke-linejoin="round"/>
<polyline points="34.8,326.57 53.26,324.16 71.72,292.32 90.18,332.97 108.64,323.98 127.1,325.61 145.56,332.36 164.02,328.75 182.48,335.61" fill="none" stroke="#8a8a8a" stroke-width="1.15" stroke-linejoin="round"/>
<polyline points="34.8,303.19 53.26,298.87 71.72,281.89 90.18,311.41 108.64,304.69 127.1,307.01 145.56,310.7 164.02,316.37 182.48,319.86" fill="none" stroke="#8a8a8a" stroke-width="1.15" stroke-linejoin="round"/>
<polyline points="34.8,320.87 53.26,330.73 71.72,291.6 90.18,328.42 108.64,330.31 127.1,322.37 145.56,329.41 164.02,327.97 182.48,333.88" fill="none" stroke="#8a8a8a" stroke-width="1.15" stroke-linejoin="round"/>
<polyline points="34.8,301.16 53.26,296.19 71.72,280.93 90.18,313.37 108.64,305.99 127.1,307.84 145.56,315.5 164.02,311.99 182.48,319.53" fill="none" stroke="#8a8a8a" stroke-width="1.15" stroke-linejoin="round"/>
<polyline points="34.8,322.86 53.26,331.24 71.72,293.73 90.18,331.38 108.64,331.89 127.1,325.28 145.56,331.16 164.02,331.99 182.48,337.09" fill="none" stroke="#8a8a8a" stroke-width="1.15" stroke-linejoin="round"/>
<polyline points="34.8,301.79 53.26,301.61 71.72,281.04 90.18,310.07 108.64,308.39 127.1,305.45 145.56,310.08 164.02,315.81 182.48,313.02" fill="none" stroke="#8a8a8a" stroke-width="1.15" stroke-linejoin="round"/>
<polyline points="34.8,328.56 53.26,323.67 71.72,292.22 90.18,328.78 108.64,326.49 127.1,322.06 145.56,331.02 164.02,327.91 182.48,336.57" fill="none" stroke="#8a8a8a" stroke-width="1.15" stroke-linejoin="round"/>
<polyline points="34.8,297.13 53.26,292.6 71.72,279.37 90.18,313.27 108.64,301.39 127.1,308.79 145.56,311.93 164.02,316.27 182.48,317.18" fill="none" stroke="#8a8a8a" stroke-width="1.15" stroke-linejoin="round"/>
<polyline points="34.8,328.82 53.26,328.15 71.72,293.98 90.18,331.7 108.64,326.64 127.1,325.39 145.56,331.73 164.02,327.54 182.48,334.79" fill="none" stroke="#8a8a8a" stroke-width="1.15" stroke-linejoin="round"/>
<polyline points="34.8,300.61 53.26,302.54 71.72,281.46 90.18,311.28 108.64,307.69 127.1,308.9 145.56,315.61 164.02,314.66 182.48,312.77" fill="none" stroke="#8a8a8a" stroke-width="1.15" stroke-linejoin="round"/>
<polyline points="34.8,323.33 53.26,326.61 71.72,291.07 90.18,331 108.64,331.79 127.1,321.49 145.56,330.92 164.02,330.7 182.48,334.93" fill="none" stroke="#8a8a8a" stroke-width="1.15" stroke-linejoin="round"/>
<polyline points="34.8,302.1 53.26,302.23 71.72,282.26 90.18,310.95 108.64,303.19 127.1,306.24 145.56,313.81 164.02,315.35 182.48,319.98" fill="none" stroke="#8a8a8a" stroke-width="1.15" stroke-linejoin="round"/>
<polyline points="34.8,326.51 53.26,328.14 71.72,294.83 90.18,327.94 108.64,325.62 127.1,321.48 145.56,334.1 164.02,330.79 182.48,336.96" fill="none" stroke="#8a8a8a" stroke-width="1.15" stroke-linejoin="round"/>
<polyline points="34.8,296.19 53.26,293.12 71.72,282.27 90.18,314.97 108.64,306.22 127.1,304.24 145.56,311.29 164.02,316.19 182.48,314.44" fill="none" stroke="#8a8a8a" stroke-width="1.15" stroke-linejoin="round"/>
<polyline points="34.8,325.85 53.26,330.35 71.72,292.85 90.18,329.16 108.64,329.03 127.1,322.51 145.56,330.41 164.02,326.03 182.48,332.39" fill="none" stroke="#8a8a8a" stroke-width="1.15" stroke-linejoin="round"/>
<polyline points="34.8,299.77 53.26,302.82 71.72,279.92 90.18,309.12 108.64,304.32 127.1,309.11 145.56,314.99 164.02,317.64 182.48,317.52" fill="none" stroke="#8a8a8a" stroke-width="1.15" stroke-linejoin="round"/>
<polyline points="34.8,322.38 53.26,322.92 71.72,291.89 90.18,334.66 108.64,329 127.1,321.25 145.56,333.65 164.02,327.87 182.48,333.84" fill="none" stroke="#8a8a8a" stroke-width="1.15" stroke-linejoin="round"/>
<polyline points="34.8,302.67 53.26,294.57 71.72,280.74 90.18,314.06 108.64,305.12 127.1,304.88 145.56,310.01 164.02,314.47 182.48,316.17" fill="none" stroke="#8a8a8a" stroke-width="1.15" stroke-linejoin="round"/>
<polyline points="34.8,324.92 53.26,330.45 71.72,295.51 90.18,334.11 108.64,325.65 127.1,320.33 145.56,333.18 164.02,327.28 182.48,331.89" fill="none" stroke="#8a8a8a" stroke-width="1.15" stroke-linejoin="round"/>
<polyline points="34.8,295.81 53.26,303.32 71.72,281.8 90.18,310.13 108.64,310.1 127.1,303.21 145.56,313.17 164.02,314.18 182.48,318.47" fill="none" stroke="#8a8a8a" stroke-width="1.15" stroke-linejoin="round"/>
<polyline points="34.8,321.85 53.26,320.97 71.72,290.96 90.18,331.78 108.64,327.04 127.1,325.44 145.56,332.08 164.02,330.09 182.48,335.05" fill="none" stroke="#8a8a8a" stroke-width="1.15" stroke-linejoin="round"/>
<polyline points="34.8,300.55 53.26,301.79 71.72,281.43 90.18,310.84 108.64,307.62 127.1,303.41 145.56,316.04 164.02,316.08 182.48,317.19" fill="none" stroke="#8a8a8a" stroke-width="1.15" stroke-linejoin="round"/>
<polyline points="34.8,331.3 53.26,329.82 71.72,294.03 90.18,333.32 108.64,331.72 127.1,322.86 145.56,330.41 164.02,328.27 182.48,331.82" fill="none" stroke="#8a8a8a" stroke-width="1.15" stroke-linejoin="round"/>
<polyline points="34.8,331.3 53.26,321.41 71.72,292.33 90.18,334.23 108.64,331.66 127.1,322.14 145.56,336.28 164.02,328 182.48,332.43" fill="none" stroke="#8a8a8a" stroke-width="1.15" stroke-linejoin="round"/>
<polyline points="34.8,331.15 53.26,328.84 71.72,294.52 90.18,327.29 108.64,328.09 127.1,323.79 145.56,332.29 164.02,327.92 182.48,335.72" fill="none" stroke="#8a8a8a" stroke-width="1.15" stroke-linejoin="round"/>
<polyline points="34.8,293.95 53.26,298.45 71.72,283.08 90.18,314.05 108.64,308.2 127.1,306.14 145.56,313.92 164.02,316.27 182.48,318.32" fill="none" stroke="#8a8a8a" stroke-width="1.15" stroke-linejoin="round"/>
<polyline points="34.8,293.95 53.26,304.82 71.72,280.21 90.18,308.05 108.64,304.78 127.1,305.14 145.56,315.74 164.02,316.18 182.48,317.55" fill="none" stroke="#8a8a8a" stroke-width="1.15" stroke-linejoin="round"/>
<polyline points="34.8,294.38 53.26,304.6 71.72,279.58 90.18,311.04 108.64,303.66 127.1,305.2 145.56,314.62 164.02,317.07 182.48,318.99" fill="none" stroke="#8a8a8a" stroke-width="1.15" stroke-linejoin="round"/>
<polyline points="34.8,325.54 53.26,333.07 71.72,292.23 90.18,333.13 108.64,328.78 127.1,324.46 145.56,334.16 164.02,329.86 182.48,335.24" fill="none" stroke="#8a8a8a" stroke-width="1.15" stroke-linejoin="round"/>
<polyline points="34.8,330.52 53.26,333.07 71.72,291.59 90.18,329.03 108.64,326.62 127.1,320.95 145.56,332.25 164.02,328.99 182.48,332.1" fill="none" stroke="#8a8a8a" stroke-width="1.15" stroke-linejoin="round"/>
<polyline points="34.8,320.94 53.26,332.78 71.72,290.57 90.18,332.97 108.64,328.79 127.1,320.91 145.56,334 164.02,329.33 182.48,336" fill="none" stroke="#8a8a8a" stroke-width="1.15" stroke-linejoin="round"/>
<polyline points="34.8,296.93 53.26,290.89 71.72,282.43 90.18,315.4 108.64,303.11 127.1,306.22 145.56,310.37 164.02,316.54 182.48,320.83" fill="none" stroke="#8a8a8a" stroke-width="1.15" stroke-linejoin="round"/>
<polyline points="34.8,305.09 53.26,290.89 71.72,281.28 90.18,312.66 108.64,309.83 127.1,303.91 145.56,310 164.02,316.71 182.48,314.63" fill="none" stroke="#8a8a8a" stroke-width="1.15" stroke-linejoin="round"/>
<polyline points="34.8,298.85 53.26,291.55 71.72,282.58 90.18,314.83 108.64,308.28 127.1,309.9 145.56,310.48 164.02,314.23 182.48,316.11" fill="none" stroke="#8a8a8a" stroke-width="1.15" stroke-linejoin="round"/>
<polyline points="34.8,320.99 53.26,327.77 71.72,296.2 90.18,334.33 108.64,325.38 127.1,324.56 145.56,333.49 164.02,326.48 182.48,331.45" fill="none" stroke="#8a8a8a" stroke-width="1.15" stroke-linejoin="round"/>
<polyline points="34.8,327.12 53.26,327.67 71.72,296.2 90.18,331.56 108.64,329.04 127.1,326.01 145.56,336.07 164.02,329.33 182.48,335.52" fill="none" stroke="#8a8a8a" stroke-width="1.15" stroke-linejoin="round"/>
<polyline points="34.8,329.68 53.26,330.05 71.72,296.06 90.18,335.61 108.64,329.38 127.1,325.39 145.56,332.2 164.02,329.98 182.48,331.83" fill="none" stroke="#8a8a8a" stroke-width="1.15" stroke-linejoin="round"/>
<polyline points="34.8,302.63 53.26,300.07 71.72,277.05 90.18,311.73 108.64,304.63 127.1,308.66 145.56,317.54 164.02,313.47 182.48,319.25" fill="none" stroke="#8a8a8a" stroke-width="1.15" stroke-linejoin="round"/>
<polyline points="34.8,298.4 53.26,297.37 71.72,277.05 90.18,310.63 108.64,305.45 127.1,308.3 145.56,310.82 164.02,316.6 182.48,313.8" fill="none" stroke="#8a8a8a" stroke-width="1.15" stroke-linejoin="round"/>
<polyline points="34.8,298.65 53.26,299.76 71.72,277.8 90.18,313.01 108.64,309.42 127.1,306.78 145.56,309.84 164.02,315.32 182.48,315.08" fill="none" stroke="#8a8a8a" stroke-width="1.15" stroke-linejoin="round"/>
<polyline points="34.8,321.22 53.26,328.58 71.72,292.8 90.18,336.45 108.64,330.84 127.1,320 145.56,330.79 164.02,330.77 182.48,332.02" fill="none" stroke="#8a8a8a" stroke-width="1.15" stroke-linejoin="round"/>
<polyline points="34.8,323.04 53.26,325.18 71.72,292.58 90.18,336.45 108.64,327.14 127.1,320.69 145.56,333.68 164.02,329.82 182.48,336.3" fill="none" stroke="#8a8a8a" stroke-width="1.15" stroke-linejoin="round"/>
<polyline points="34.8,321.27 53.26,328.82 71.72,294.85 90.18,336.09 108.64,328.3 127.1,324.36 145.56,329.87 164.02,331.07 182.48,333.08" fill="none" stroke="#8a8a8a" stroke-width="1.15" stroke-linejoin="round"/>
<polyline points="34.8,298.76 53.26,304.79 71.72,282.22 90.18,297.33 108.64,304 127.1,306.17 145.56,313.99 164.02,314.06 182.48,313.55" fill="none" stroke="#8a8a8a" stroke-width="1.15" stroke-linejoin="round"/>
<polyline points="34.8,295.23 53.26,301.35 71.72,282.62 90.18,297.33 108.64,304.85 127.1,306.56 145.56,310.55 164.02,312.76 182.48,314.48" fill="none" stroke="#8a8a8a" stroke-width="1.15" stroke-linejoin="round"/>
<polyline points="34.8,302.29 53.26,295.33 71.72,279.06 90.18,302.95 108.64,310.27 127.1,310.23 145.56,310.14 164.02,317.52 182.48,315.48" fill="none" stroke="#8a8a8a" stroke-width="1.15" stroke-linejoin="round"/>
<polyline points="34.8,321.73 53.26,323.84 71.72,293.58 90.18,331.7 108.64,337.58 127.1,324.84 145.56,336.57 164.02,331.77 182.48,338.19" fill="none" stroke="#8a8a8a" stroke-width="1.15" stroke-linejoin="round"/>
<polyline points="34.8,320.82 53.26,330.61 71.72,291.07 90.18,333.34 108.64,337.58 127.1,321.6 145.56,331.47 164.02,330.8 182.48,338.81" fill="none" stroke="#8a8a8a" stroke-width="1.15" stroke-linejoin="round"/>
<polyline points="34.8,322.9 53.26,326.62 71.72,294.51 90.18,332.64 108.64,334.64 127.1,322.89 145.56,328.91 164.02,329.04 182.48,333.36" fill="none" stroke="#8a8a8a" stroke-width="1.15" stroke-linejoin="round"/>
<polyline points="34.8,305.42 53.26,295.12 71.72,281.11 90.18,312.71 108.64,296.69 127.1,304.31 145.56,316.62 164.02,317.72 182.48,314.2" fill="none" stroke="#8a8a8a" stroke-width="1.15" stroke-linejoin="round"/>
<polyline points="34.8,295.89 53.26,302.34 71.72,282.2 90.18,309.64 108.64,296.69 127.1,308.36 145.56,313.68 164.02,317.03 182.48,314.12" fill="none" stroke="#8a8a8a" stroke-width="1.15" stroke-linejoin="round"/>
<polyline points="34.8,300.11 53.26,295.73 71.72,279.38 90.18,309.82 108.64,299.53 127.1,308.58 145.56,317.2 164.02,314.69 182.48,316.64" fill="none" stroke="#8a8a8a" stroke-width="1.15" stroke-linejoin="round"/>
<polyline points="34.8,323.08 53.26,326.14 71.72,292.6 90.18,330.56 108.64,324.15 127.1,328.24 145.56,329.86 164.02,331.58 182.48,332.06" fill="none" stroke="#8a8a8a" stroke-width="1.15" stroke-linejoin="round"/>
<polyline points="34.8,327.03 53.26,330.11 71.72,295.24 90.18,333.62 108.64,328.11 127.1,328.24 145.56,333.65 164.02,328.42 182.48,332.53" fill="none" stroke="#8a8a8a" stroke-width="1.15" stroke-linejoin="round"/>
<polyline points="34.8,329.32 53.26,331.12 71.72,291.97 90.18,329.53 108.64,325.53 127.1,327.71 145.56,334.59 164.02,329.62 182.48,332.09" fill="none" stroke="#8a8a8a" stroke-width="1.15" stroke-linejoin="round"/>
<polyline points="34.8,300.89 53.26,301.05 71.72,280.79 90.18,308.58 108.64,308.62 127.1,299.26 145.56,314.19 164.02,313.11 182.48,315.89" fill="none" stroke="#8a8a8a" stroke-width="1.15" stroke-linejoin="round"/>
<polyline points="34.8,304.36 53.26,298.34 71.72,281.27 90.18,311.77 108.64,306.23 127.1,299.26 145.56,317.04 164.02,313.92 182.48,320.82" fill="none" stroke="#8a8a8a" stroke-width="1.15" stroke-linejoin="round"/>
<polyline points="34.8,300.21 53.26,303.67 71.72,281.35 90.18,315.03 108.64,306.26 127.1,301.37 145.56,309.83 164.02,317.8 182.48,313.43" fill="none" stroke="#8a8a8a" stroke-width="1.15" stroke-linejoin="round"/>
<polyline points="34.8,323.63 53.26,323.31 71.72,294.94 90.18,334.11 108.64,327.06 127.1,321.02 145.56,341.28 164.02,331.46 182.48,338.66" fill="none" stroke="#8a8a8a" stroke-width="1.15" stroke-linejoin="round"/>
<polyline points="34.8,320.86 53.26,323.15 71.72,291.46 90.18,335.81 108.64,330.91 127.1,322.07 145.56,341.28 164.02,326.73 182.48,337.3" fill="none" stroke="#8a8a8a" stroke-width="1.15" stroke-linejoin="round"/>
<polyline points="34.8,323.18 53.26,325.06 71.72,292.58 90.18,331.76 108.64,327.03 127.1,322.01 145.56,339.97 164.02,330.06 182.48,334.22" fill="none" stroke="#8a8a8a" stroke-width="1.15" stroke-linejoin="round"/>
<polyline points="34.8,296.1 53.26,303.47 71.72,282.89 90.18,307.88 108.64,304.19 127.1,308.68 145.56,304.74 164.02,316.81 182.48,314" fill="none" stroke="#8a8a8a" stroke-width="1.15" stroke-linejoin="round"/>
<polyline points="34.8,303.29 53.26,304.85 71.72,283.05 90.18,313.98 108.64,302.4 127.1,303.81 145.56,304.74 164.02,315.44 182.48,316.54" fill="none" stroke="#8a8a8a" stroke-width="1.15" stroke-linejoin="round"/>
<polyline points="34.8,304.39 53.26,301.78 71.72,281.96 90.18,307.93 108.64,303.94 127.1,304.32 145.56,305.78 164.02,313.06 182.48,320.46" fill="none" stroke="#8a8a8a" stroke-width="1.15" stroke-linejoin="round"/>
<polyline points="34.8,326.29 53.26,327.79 71.72,295.53 90.18,327.31 108.64,329.53 127.1,325.03 145.56,332.85 164.02,333.23 182.48,338.75" fill="none" stroke="#8a8a8a" stroke-width="1.15" stroke-linejoin="round"/>
<polyline points="34.8,325.04 53.26,325.97 71.72,291.02 90.18,332.67 108.64,331.71 127.1,322.81 145.56,329.89 164.02,333.23 182.48,333.96" fill="none" stroke="#8a8a8a" stroke-width="1.15" stroke-linejoin="round"/>
<polyline points="34.8,325.99 53.26,328.2 71.72,293.41 90.18,330.6 108.64,326.65 127.1,324.11 145.56,331.04 164.02,332.84 182.48,335.37" fill="none" stroke="#8a8a8a" stroke-width="1.15" stroke-linejoin="round"/>
<polyline points="34.8,296.21 53.26,295.34 71.72,281.33 90.18,312.81 108.64,306.26 127.1,307.71 145.56,312.93 164.02,309.57 182.48,318.2" fill="none" stroke="#8a8a8a" stroke-width="1.15" stroke-linejoin="round"/>
<polyline points="34.8,303.32 53.26,304.39 71.72,282.72 90.18,315.01 108.64,308 127.1,305.38 145.56,316.54 164.02,309.57 182.48,313.58" fill="none" stroke="#8a8a8a" stroke-width="1.15" stroke-linejoin="round"/>
<polyline points="34.8,297.1 53.26,294.17 71.72,279.65 90.18,310.02 108.64,309.71 127.1,306.65 145.56,313.26 164.02,310.6 182.48,315.41" fill="none" stroke="#8a8a8a" stroke-width="1.15" stroke-linejoin="round"/>
<polyline points="34.8,320.71 53.26,328.24 71.72,293.33 90.18,327.76 108.64,325.3 127.1,325.32 145.56,334.87 164.02,328.37 182.48,344.34" fill="none" stroke="#8a8a8a" stroke-width="1.15" stroke-linejoin="round"/>
<polyline points="34.8,320.44 53.26,324.67 71.72,292.91 90.18,327.98 108.64,324.36 127.1,319.85 145.56,332.21 164.02,328.06 182.48,344.34" fill="none" stroke="#8a8a8a" stroke-width="1.15" stroke-linejoin="round"/>
<polyline points="34.8,327.25 53.26,326.75 71.72,295.05 90.18,329.05 108.64,325.3 127.1,324.18 145.56,336.84 164.02,328.3 182.48,342.35" fill="none" stroke="#8a8a8a" stroke-width="1.15" stroke-linejoin="round"/>
<polyline points="34.8,302.93 53.26,303.57 71.72,283.42 90.18,312.74 108.64,310.62 127.1,307.86 145.56,310.99 164.02,313.29 182.48,312.14" fill="none" stroke="#8a8a8a" stroke-width="1.15" stroke-linejoin="round"/>
<polyline points="34.8,296.36 53.26,296.13 71.72,281.48 90.18,312.04 108.64,303.06 127.1,307.29 145.56,312.98 164.02,317.82 182.48,312.14" fill="none" stroke="#8a8a8a" stroke-width="1.15" stroke-linejoin="round"/>
<polyline points="34.8,305.03 53.26,297.28 71.72,280.79 90.18,310.92 108.64,306.07 127.1,307.71 145.56,314.77 164.02,317.37 182.48,312.56" fill="none" stroke="#8a8a8a" stroke-width="1.15" stroke-linejoin="round"/>
<rect x="33.7" y="330.2" width="2.2" height="2.2" fill="#808080"/>
<rect x="33.7" y="330.2" width="2.2" height="2.2" fill="#808080"/>
<rect x="33.7" y="330.05" width="2.2" height="2.2" fill="#808080"/>
<rect x="33.7" y="292.85" width="2.2" height="2.2" fill="#808080"/>
<rect x="33.7" y="292.85" width="2.2" height="2.2" fill="#808080"/>
<rect x="33.7" y="293.28" width="2.2" height="2.2" fill="#808080"/>
<rect x="52.16" y="331.97" width="2.2" height="2.2" fill="#808080"/>
<rect x="52.16" y="331.97" width="2.2" height="2.2" fill="#808080"/>
<rect x="52.16" y="331.68" width="2.2" height="2.2" fill="#808080"/>
<rect x="52.16" y="289.79" width="2.2" height="2.2" fill="#808080"/>
<rect x="52.16" y="289.79" width="2.2" height="2.2" fill="#808080"/>
<rect x="52.16" y="290.45" width="2.2" height="2.2" fill="#808080"/>
<rect x="70.62" y="295.1" width="2.2" height="2.2" fill="#808080"/>
<rect x="70.62" y="295.1" width="2.2" height="2.2" fill="#808080"/>
<rect x="70.62" y="294.96" width="2.2" height="2.2" fill="#808080"/>
<rect x="70.62" y="275.94" width="2.2" height="2.2" fill="#808080"/>
<rect x="70.62" y="275.94" width="2.2" height="2.2" fill="#808080"/>
<rect x="70.62" y="276.7" width="2.2" height="2.2" fill="#808080"/>
<rect x="89.08" y="335.35" width="2.2" height="2.2" fill="#808080"/>
<rect x="89.08" y="335.35" width="2.2" height="2.2" fill="#808080"/>
<rect x="89.08" y="334.99" width="2.2" height="2.2" fill="#808080"/>
<rect x="89.08" y="296.23" width="2.2" height="2.2" fill="#808080"/>
<rect x="89.08" y="296.23" width="2.2" height="2.2" fill="#808080"/>
<rect x="89.08" y="301.85" width="2.2" height="2.2" fill="#808080"/>
<rect x="107.54" y="336.48" width="2.2" height="2.2" fill="#808080"/>
<rect x="107.54" y="336.48" width="2.2" height="2.2" fill="#808080"/>
<rect x="107.54" y="333.54" width="2.2" height="2.2" fill="#808080"/>
<rect x="107.54" y="295.59" width="2.2" height="2.2" fill="#808080"/>
<rect x="107.54" y="295.59" width="2.2" height="2.2" fill="#808080"/>
<rect x="107.54" y="298.43" width="2.2" height="2.2" fill="#808080"/>
<rect x="126" y="327.14" width="2.2" height="2.2" fill="#808080"/>
<rect x="126" y="327.14" width="2.2" height="2.2" fill="#808080"/>
<rect x="126" y="326.61" width="2.2" height="2.2" fill="#808080"/>
<rect x="126" y="298.16" width="2.2" height="2.2" fill="#808080"/>
<rect x="126" y="298.16" width="2.2" height="2.2" fill="#808080"/>
<rect x="126" y="300.27" width="2.2" height="2.2" fill="#808080"/>
<rect x="144.46" y="340.18" width="2.2" height="2.2" fill="#808080"/>
<rect x="144.46" y="340.18" width="2.2" height="2.2" fill="#808080"/>
<rect x="144.46" y="338.87" width="2.2" height="2.2" fill="#808080"/>
<rect x="144.46" y="303.64" width="2.2" height="2.2" fill="#808080"/>
<rect x="144.46" y="303.64" width="2.2" height="2.2" fill="#808080"/>
<rect x="144.46" y="304.68" width="2.2" height="2.2" fill="#808080"/>
<rect x="162.92" y="332.13" width="2.2" height="2.2" fill="#808080"/>
<rect x="162.92" y="332.13" width="2.2" height="2.2" fill="#808080"/>
<rect x="162.92" y="331.74" width="2.2" height="2.2" fill="#808080"/>
<rect x="162.92" y="308.47" width="2.2" height="2.2" fill="#808080"/>
<rect x="162.92" y="308.47" width="2.2" height="2.2" fill="#808080"/>
<rect x="162.92" y="309.5" width="2.2" height="2.2" fill="#808080"/>
<rect x="181.38" y="343.24" width="2.2" height="2.2" fill="#808080"/>
<rect x="181.38" y="343.24" width="2.2" height="2.2" fill="#808080"/>
<rect x="181.38" y="341.25" width="2.2" height="2.2" fill="#808080"/>
<rect x="181.38" y="311.04" width="2.2" height="2.2" fill="#808080"/>
<rect x="181.38" y="311.04" width="2.2" height="2.2" fill="#808080"/>
<rect x="181.38" y="311.46" width="2.2" height="2.2" fill="#808080"/>
<polyline points="34.8,305.54 53.26,316.01 71.72,280.43 90.18,323.09 108.64,320.19 127.1,327.76 145.56,320.84 164.02,322.77 182.48,327.12" fill="none" stroke="#2b3f8c" stroke-width="2.2" stroke-linejoin="round"/>
<polyline points="34.8,324.86 53.26,321.32 71.72,276.88 90.18,321.32 108.64,320.19 127.1,322.77 145.56,315.85 164.02,318.42 182.48,322.77" fill="none" stroke="#000" stroke-width="2.3" stroke-linejoin="round"/>
<rect x="33.5" y="323.56" width="2.6" height="2.6" fill="#000"/>
<rect x="51.96" y="320.02" width="2.6" height="2.6" fill="#000"/>
<rect x="70.42" y="275.58" width="2.6" height="2.6" fill="#000"/>
<rect x="88.88" y="320.02" width="2.6" height="2.6" fill="#000"/>
<rect x="107.34" y="318.89" width="2.6" height="2.6" fill="#000"/>
<rect x="125.8" y="321.47" width="2.6" height="2.6" fill="#000"/>
<rect x="144.26" y="314.55" width="2.6" height="2.6" fill="#000"/>
<rect x="162.72" y="317.12" width="2.6" height="2.6" fill="#000"/>
<rect x="181.18" y="321.47" width="2.6" height="2.6" fill="#000"/>
<polyline points="34.8,316.65 53.26,306.67 71.72,281.55 90.18,318.91 108.64,319.07 127.1,316.97 145.56,327.76 164.02,326.15 182.48,330.5" fill="none" stroke="#c21f2d" stroke-width="2.2" stroke-linejoin="round"/>
<text x="0" y="388.7" font-size="14" text-anchor="start" fill="#000" font-weight="bold">m</text>
<text x="36.2" y="394.5" font-size="7.7" text-anchor="middle" fill="#000">DC</text>
<text x="53.56" y="394.5" font-size="7.7" text-anchor="middle" fill="#000">M&#934;</text>
<text x="70.92" y="394.5" font-size="7.7" text-anchor="middle" fill="#000">MC</text>
<text x="88.28" y="394.5" font-size="7.7" text-anchor="middle" fill="#000">ET</text>
<text x="105.64" y="394.5" font-size="7.7" text-anchor="middle" fill="#000">DT</text>
<text x="123" y="394.5" font-size="7.7" text-anchor="middle" fill="#000">EC</text>
<text x="140.36" y="394.5" font-size="7.7" text-anchor="middle" fill="#000">Mel</text>
<text x="157.72" y="394.5" font-size="7.7" text-anchor="middle" fill="#000">Fib</text>
<text x="175.08" y="394.5" font-size="7.7" text-anchor="middle" fill="#000">KC</text>
<line x1="36.2" y1="406.2" x2="36.2" y2="474" stroke="#d9d9d9" stroke-width="0.8"/>
<line x1="53.56" y1="406.2" x2="53.56" y2="474" stroke="#d9d9d9" stroke-width="0.8"/>
<line x1="70.92" y1="406.2" x2="70.92" y2="474" stroke="#d9d9d9" stroke-width="0.8"/>
<line x1="88.28" y1="406.2" x2="88.28" y2="474" stroke="#d9d9d9" stroke-width="0.8"/>
<line x1="105.64" y1="406.2" x2="105.64" y2="474" stroke="#d9d9d9" stroke-width="0.8"/>
<line x1="123" y1="406.2" x2="123" y2="474" stroke="#d9d9d9" stroke-width="0.8"/>
<line x1="140.36" y1="406.2" x2="140.36" y2="474" stroke="#d9d9d9" stroke-width="0.8"/>
<line x1="157.72" y1="406.2" x2="157.72" y2="474" stroke="#d9d9d9" stroke-width="0.8"/>
<line x1="175.08" y1="406.2" x2="175.08" y2="474" stroke="#d9d9d9" stroke-width="0.8"/>
<line x1="27.3" y1="402.1" x2="27.3" y2="478" stroke="#555" stroke-width="1.4"/>
<line x1="25.8" y1="414" x2="27.3" y2="414" stroke="#333" stroke-width="0.8"/>
<text x="21.3" y="416.6" font-size="7.3" text-anchor="end" fill="#000">2</text>
<line x1="25.8" y1="430.2" x2="27.3" y2="430.2" stroke="#333" stroke-width="0.8"/>
<text x="21.3" y="432.8" font-size="7.3" text-anchor="end" fill="#000">1</text>
<line x1="25.8" y1="446.4" x2="27.3" y2="446.4" stroke="#333" stroke-width="0.8"/>
<text x="21.3" y="449" font-size="7.3" text-anchor="end" fill="#000">0</text>
<line x1="25.8" y1="462.6" x2="27.3" y2="462.6" stroke="#333" stroke-width="0.8"/>
<text x="21.3" y="465.2" font-size="7.3" text-anchor="end" fill="#000">&#8722;1</text>
<text x="7.1" y="439.76" font-size="7.6" text-anchor="middle" fill="#111" textLength="27.4" lengthAdjust="spacingAndGlyphs" transform="rotate(-90 7.1 439.76)">Z-scorel</text>
<polygon points="36.2,438.04 53.56,442.03 70.92,442.93 88.28,412.23 105.64,418.24 123,443.88 140.36,445.39 157.72,445.77 175.08,443.49 175.08,459.19 157.72,459.83 140.36,459.72 123,457.67 105.64,437.3 88.28,426.3 70.92,454.73 53.56,455.63 36.2,458" fill="#8a8a8a" stroke="#8a8a8a" stroke-width="0.8" stroke-linejoin="round"/>
<polyline points="36.2,457.13 53.56,455.69 70.92,458.69 88.28,428.53 105.64,439.47 123,458.44 140.36,465.19 157.72,461.08 175.08,464.3" fill="none" stroke="#8a8a8a" stroke-width="1.15" stroke-linejoin="round"/>
<polyline points="36.2,431.85 53.56,438.48 70.92,441.99 88.28,409.14 105.64,415.16 123,440.83 140.36,442.81 157.72,444.63 175.08,440.29" fill="none" stroke="#8a8a8a" stroke-width="1.15" stroke-linejoin="round"/>
<polyline points="36.2,461.46 53.56,454.44 70.92,455.72 88.28,429.46 105.64,443.21 123,462 140.36,460.33 157.72,459.47 175.08,464.36" fill="none" stroke="#8a8a8a" stroke-width="1.15" stroke-linejoin="round"/>
<polyline points="36.2,437.45 53.56,439.9 70.92,442.78 88.28,410.4 105.64,413.76 123,441.1 140.36,440.62 157.72,440.4 175.08,443.56" fill="none" stroke="#8a8a8a" stroke-width="1.15" stroke-linejoin="round"/>
<polyline points="36.2,459.69 53.56,459.37 70.92,455.61 88.28,428.95 105.64,441.04 123,458.96 140.36,459.68 157.72,460.29 175.08,461.4" fill="none" stroke="#8a8a8a" stroke-width="1.15" stroke-linejoin="round"/>
<polyline points="36.2,432.99 53.56,443.05 70.92,441.13 88.28,412.32 105.64,415.01 123,443.84 140.36,439.15 157.72,445.46 175.08,441.52" fill="none" stroke="#8a8a8a" stroke-width="1.15" stroke-linejoin="round"/>
<polyline points="36.2,458.54 53.56,455.64 70.92,457.75 88.28,428.3 105.64,439.69 123,458.1 140.36,463.34 157.72,459.09 175.08,459.94" fill="none" stroke="#8a8a8a" stroke-width="1.15" stroke-linejoin="round"/>
<polyline points="36.2,440.49 53.56,441.31 70.92,441.06 88.28,409.69 105.64,419.21 123,437.41 140.36,444.95 157.72,442.47 175.08,443.96" fill="none" stroke="#8a8a8a" stroke-width="1.15" stroke-linejoin="round"/>
<polyline points="36.2,456.84 53.56,455.35 70.92,458.12 88.28,427.89 105.64,436.75 123,459.12 140.36,463.18 157.72,460.8 175.08,458.52" fill="none" stroke="#8a8a8a" stroke-width="1.15" stroke-linejoin="round"/>
<polyline points="36.2,440.21 53.56,438.67 70.92,442.71 88.28,412.81 105.64,419.23 123,441.88 140.36,445.07 157.72,446.09 175.08,440.62" fill="none" stroke="#8a8a8a" stroke-width="1.15" stroke-linejoin="round"/>
<polyline points="36.2,462.8 53.56,459.58 70.92,457.35 88.28,427.56 105.64,440.92 123,460.15 140.36,464.6 157.72,463.84 175.08,461.36" fill="none" stroke="#8a8a8a" stroke-width="1.15" stroke-linejoin="round"/>
<polyline points="36.2,434.66 53.56,439.57 70.92,442.01 88.28,408.01 105.64,417.9 123,444.24 140.36,444.67 157.72,446.01 175.08,444.27" fill="none" stroke="#8a8a8a" stroke-width="1.15" stroke-linejoin="round"/>
<polyline points="36.2,464.09 53.56,457.98 70.92,456.51 88.28,431.56 105.64,439.96 123,463.4 140.36,458.95 157.72,460.52 175.08,461.07" fill="none" stroke="#8a8a8a" stroke-width="1.15" stroke-linejoin="round"/>
<polyline points="36.2,432.03 53.56,438.97 70.92,439.1 88.28,411.19 105.64,418.45 123,443.59 140.36,442.9 157.72,444.24 175.08,442.77" fill="none" stroke="#8a8a8a" stroke-width="1.15" stroke-linejoin="round"/>
<polyline points="36.2,458.37 53.56,458.27 70.92,453.82 88.28,427.65 105.64,443.4 123,458.42 140.36,461.68 157.72,465.58 175.08,464.55" fill="none" stroke="#8a8a8a" stroke-width="1.15" stroke-linejoin="round"/>
<polyline points="36.2,434.38 53.56,439.66 70.92,441.95 88.28,412.44 105.64,411.89 123,444.2 140.36,446.25 157.72,443.28 175.08,441.94" fill="none" stroke="#8a8a8a" stroke-width="1.15" stroke-linejoin="round"/>
<polyline points="36.2,462.19 53.56,460.93 70.92,454.03 88.28,428.86 105.64,440.82 123,459.02 140.36,460.5 157.72,461.67 175.08,463" fill="none" stroke="#8a8a8a" stroke-width="1.15" stroke-linejoin="round"/>
<polyline points="36.2,438.84 53.56,437.25 70.92,442.67 88.28,412.84 105.64,414.02 123,441.08 140.36,443.27 157.72,445.68 175.08,442.75" fill="none" stroke="#8a8a8a" stroke-width="1.15" stroke-linejoin="round"/>
<polyline points="36.2,458.47 53.56,455.01 70.92,457.13 88.28,428.97 105.64,440.62 123,458.52 140.36,460.62 157.72,460.26 175.08,457.87" fill="none" stroke="#8a8a8a" stroke-width="1.15" stroke-linejoin="round"/>
<polyline points="36.2,436 53.56,438.95 70.92,440.53 88.28,412 105.64,417.36 123,439.68 140.36,443.15 157.72,440.11 175.08,440.05" fill="none" stroke="#8a8a8a" stroke-width="1.15" stroke-linejoin="round"/>
<polyline points="36.2,464.66 53.56,457.31 70.92,454.91 88.28,426.93 105.64,443.49 123,457.98 140.36,464.37 157.72,462.54 175.08,465.19" fill="none" stroke="#8a8a8a" stroke-width="1.15" stroke-linejoin="round"/>
<polyline points="36.2,437.05 53.56,442.69 70.92,441.26 88.28,410.48 105.64,412.06 123,441.42 140.36,443.69 157.72,440.11 175.08,442.97" fill="none" stroke="#8a8a8a" stroke-width="1.15" stroke-linejoin="round"/>
<polyline points="36.2,461.47 53.56,458.87 70.92,458.99 88.28,425.65 105.64,435.67 123,458.6 140.36,460.04 157.72,461.48 175.08,464.07" fill="none" stroke="#8a8a8a" stroke-width="1.15" stroke-linejoin="round"/>
<polyline points="36.2,437.39 53.56,441.85 70.92,442.32 88.28,412.33 105.64,411.12 123,440.21 140.36,445.31 157.72,440.14 175.08,444.33" fill="none" stroke="#8a8a8a" stroke-width="1.15" stroke-linejoin="round"/>
<polyline points="36.2,462.95 53.56,458.37 70.92,454.39 88.28,427.98 105.64,441.34 123,457.63 140.36,464.36 157.72,464.18 175.08,463.81" fill="none" stroke="#8a8a8a" stroke-width="1.15" stroke-linejoin="round"/>
<polyline points="36.2,435.24 53.56,440.59 70.92,443.23 88.28,410.22 105.64,412.66 123,440.05 140.36,442.49 157.72,446.89 175.08,443.93" fill="none" stroke="#8a8a8a" stroke-width="1.15" stroke-linejoin="round"/>
<polyline points="36.2,462.52 53.56,457.53 70.92,455.44 88.28,424.57 105.64,442.47 123,460.02 140.36,461.71 157.72,462.62 175.08,459.67" fill="none" stroke="#8a8a8a" stroke-width="1.15" stroke-linejoin="round"/>
<polyline points="36.2,433.64 53.56,440.67 70.92,438.41 88.28,409.29 105.64,411.72 123,438.96 140.36,444.6 157.72,446.28 175.08,439.9" fill="none" stroke="#8a8a8a" stroke-width="1.15" stroke-linejoin="round"/>
<polyline points="36.2,460.96 53.56,456.43 70.92,457.51 88.28,430.96 105.64,438.37 123,457.5 140.36,460.48 157.72,463.17 175.08,461.83" fill="none" stroke="#8a8a8a" stroke-width="1.15" stroke-linejoin="round"/>
<polyline points="36.2,432.35 53.56,436.63 70.92,443.48 88.28,409.53 105.64,417.74 123,442.03 140.36,445.48 157.72,441.1 175.08,438.92" fill="none" stroke="#8a8a8a" stroke-width="1.15" stroke-linejoin="round"/>
<polyline points="36.2,463.83 53.56,456.23 70.92,456.79 88.28,424.55 105.64,437.26 123,460.63 140.36,463.05 157.72,463.62 175.08,458.7" fill="none" stroke="#8a8a8a" stroke-width="1.15" stroke-linejoin="round"/>
<polyline points="36.2,432.87 53.56,440.94 70.92,442.58 88.28,411.56 105.64,413.5 123,440.78 140.36,443.86 157.72,445.05 175.08,439.63" fill="none" stroke="#8a8a8a" stroke-width="1.15" stroke-linejoin="round"/>
<polyline points="36.2,466.11 53.56,454.98 70.92,458.52 88.28,429.19 105.64,436.48 123,460.02 140.36,464.09 157.72,459.84 175.08,462.02" fill="none" stroke="#8a8a8a" stroke-width="1.15" stroke-linejoin="round"/>
<polyline points="36.2,431.96 53.56,441.36 70.92,441.8 88.28,412.04 105.64,416.73 123,444.2 140.36,440.8 157.72,443.62 175.08,441.74" fill="none" stroke="#8a8a8a" stroke-width="1.15" stroke-linejoin="round"/>
<polyline points="36.2,456.09 53.56,459.12 70.92,458.18 88.28,430.53 105.64,445.84 123,460.26 140.36,461.43 157.72,464.3 175.08,465.48" fill="none" stroke="#8a8a8a" stroke-width="1.15" stroke-linejoin="round"/>
<polyline points="36.2,436.99 53.56,439 70.92,443.62 88.28,409.14 105.64,413.07 123,443.52 140.36,441.01 157.72,445.65 175.08,440.64" fill="none" stroke="#8a8a8a" stroke-width="1.15" stroke-linejoin="round"/>
<polyline points="36.2,457.9 53.56,459.86 70.92,455.08 88.28,426.99 105.64,441.96 123,458.89 140.36,462.27 157.72,458.55 175.08,463.31" fill="none" stroke="#8a8a8a" stroke-width="1.15" stroke-linejoin="round"/>
<polyline points="36.2,437.25 53.56,441.76 70.92,442.19 88.28,410.73 105.64,416.76 123,438.69 140.36,444.08 157.72,444.52 175.08,444.19" fill="none" stroke="#8a8a8a" stroke-width="1.15" stroke-linejoin="round"/>
<polyline points="36.2,457.24 53.56,455.4 70.92,455.53 88.28,425.83 105.64,437.7 123,461.64 140.36,464.09 157.72,466.14 175.08,460.32" fill="none" stroke="#8a8a8a" stroke-width="1.15" stroke-linejoin="round"/>
<polyline points="36.2,440.46 53.56,441.14 70.92,441.81 88.28,413.85 105.64,417.29 123,439.61 140.36,444.21 157.72,444.68 175.08,441.12" fill="none" stroke="#8a8a8a" stroke-width="1.15" stroke-linejoin="round"/>
<polyline points="36.2,460.34 53.56,456.49 70.92,459.65 88.28,427.52 105.64,445.14 123,461.61 140.36,461.89 157.72,460.45 175.08,457.71" fill="none" stroke="#8a8a8a" stroke-width="1.15" stroke-linejoin="round"/>
<polyline points="36.2,437.13 53.56,441.23 70.92,440.14 88.28,408.54 105.64,409.42 123,444.15 140.36,445.7 157.72,443.31 175.08,443.04" fill="none" stroke="#8a8a8a" stroke-width="1.15" stroke-linejoin="round"/>
<polyline points="36.2,465.03 53.56,460.58 70.92,458.06 88.28,426.64 105.64,436.66 123,458.39 140.36,459.17 157.72,460.01 175.08,459.14" fill="none" stroke="#8a8a8a" stroke-width="1.15" stroke-linejoin="round"/>
<polyline points="36.2,432.11 53.56,436.31 70.92,442.91 88.28,409.73 105.64,412.19 123,443.54 140.36,442.13 157.72,445.9 175.08,438.35" fill="none" stroke="#8a8a8a" stroke-width="1.15" stroke-linejoin="round"/>
<polyline points="36.2,460.81 53.56,457.93 70.92,455.03 88.28,427.02 105.64,443.35 123,460.52 140.36,460.65 157.72,461.33 175.08,464.59" fill="none" stroke="#8a8a8a" stroke-width="1.15" stroke-linejoin="round"/>
<polyline points="36.2,436.51 53.56,438.6 70.92,439.33 88.28,413.37 105.64,416.6 123,441.14 140.36,441.23 157.72,445.79 175.08,443.56" fill="none" stroke="#8a8a8a" stroke-width="1.15" stroke-linejoin="round"/>
<polyline points="36.2,459.78 53.56,456.49 70.92,456.8 88.28,431.76 105.64,439.13 123,461.9 140.36,465.39 157.72,459.81 175.08,461.47" fill="none" stroke="#8a8a8a" stroke-width="1.15" stroke-linejoin="round"/>
<polyline points="36.2,435.92 53.56,442.26 70.92,441.49 88.28,410.03 105.64,415.74 123,438.5 140.36,445.4 157.72,444.04 175.08,443.57" fill="none" stroke="#8a8a8a" stroke-width="1.15" stroke-linejoin="round"/>
<polyline points="36.2,462.73 53.56,459.25 70.92,453.78 88.28,429.24 105.64,436.63 123,460.48 140.36,463.06 157.72,462.72 175.08,460.35" fill="none" stroke="#8a8a8a" stroke-width="1.15" stroke-linejoin="round"/>
<polyline points="36.2,436.55 53.56,439.81 70.92,443 88.28,409.43 105.64,413.01 123,441.92 140.36,444.3 157.72,440.87 175.08,441.73" fill="none" stroke="#8a8a8a" stroke-width="1.15" stroke-linejoin="round"/>
<polyline points="36.2,465.41 53.56,459.95 70.92,455.25 88.28,430.72 105.64,440.68 123,458.75 140.36,461.7 157.72,461.3 175.08,460.81" fill="none" stroke="#8a8a8a" stroke-width="1.15" stroke-linejoin="round"/>
<polyline points="36.2,433.26 53.56,440.04 70.92,441.5 88.28,409.3 105.64,415.91 123,441.69 140.36,441.94 157.72,443.81 175.08,438.37" fill="none" stroke="#8a8a8a" stroke-width="1.15" stroke-linejoin="round"/>
<polyline points="36.2,462.14 53.56,459.12 70.92,456.7 88.28,429.32 105.64,440.49 123,459.1 140.36,463.9 157.72,459.93 175.08,462.2" fill="none" stroke="#8a8a8a" stroke-width="1.15" stroke-linejoin="round"/>
<polyline points="36.2,436.78 53.56,437.66 70.92,441.23 88.28,406.65 105.64,415.93 123,445.34 140.36,443.24 157.72,444.99 175.08,443.95" fill="none" stroke="#8a8a8a" stroke-width="1.15" stroke-linejoin="round"/>
<polyline points="36.2,456.85 53.56,455.71 70.92,455.33 88.28,426.34 105.64,437.65 123,460.33 140.36,461.11 157.72,462.68 175.08,460.61" fill="none" stroke="#8a8a8a" stroke-width="1.15" stroke-linejoin="round"/>
<polyline points="36.2,437.5 53.56,443.17 70.92,441.69 88.28,411.45 105.64,419.4 123,442.81 140.36,443.21 157.72,440.09 175.08,444.5" fill="none" stroke="#8a8a8a" stroke-width="1.15" stroke-linejoin="round"/>
<polyline points="36.2,461.94 53.56,454.38 70.92,454.57 88.28,427.22 105.64,439.66 123,457.95 140.36,465.21 157.72,464.18 175.08,462.29" fill="none" stroke="#8a8a8a" stroke-width="1.15" stroke-linejoin="round"/>
<polyline points="36.2,435.34 53.56,438.89 70.92,441.03 88.28,411.05 105.64,414.54 123,443.2 140.36,441.08 157.72,442.93 175.08,439.38" fill="none" stroke="#8a8a8a" stroke-width="1.15" stroke-linejoin="round"/>
<polyline points="36.2,459.81 53.56,456.84 70.92,458.42 88.28,426.36 105.64,442.72 123,460.83 140.36,459.45 157.72,462.37 175.08,461.7" fill="none" stroke="#8a8a8a" stroke-width="1.15" stroke-linejoin="round"/>
<polyline points="36.2,433.38 53.56,441.16 70.92,439.84 88.28,410.08 105.64,419.43 123,440.43 140.36,442.82 157.72,445.77 175.08,438.9" fill="none" stroke="#8a8a8a" stroke-width="1.15" stroke-linejoin="round"/>
<polyline points="36.2,461.31 53.56,461.44 70.92,454.9 88.28,427.1 105.64,439.28 123,461.09 140.36,459.74 157.72,459.7 175.08,462.39" fill="none" stroke="#8a8a8a" stroke-width="1.15" stroke-linejoin="round"/>
<polyline points="36.2,432.94 53.56,440.56 70.92,443.45 88.28,411.04 105.64,413.38 123,445.03 140.36,442 157.72,445.14 175.08,441.89" fill="none" stroke="#8a8a8a" stroke-width="1.15" stroke-linejoin="round"/>
<polyline points="36.2,459.14 53.56,459.81 70.92,456.08 88.28,432.52 105.64,437.95 123,459.29 140.36,465.1 157.72,458.85 175.08,460.11" fill="none" stroke="#8a8a8a" stroke-width="1.15" stroke-linejoin="round"/>
<polyline points="36.2,438.61 53.56,439.76 70.92,439.81 88.28,410.79 105.64,416.76 123,441.47 140.36,442.91 157.72,445.57 175.08,443.94" fill="none" stroke="#8a8a8a" stroke-width="1.15" stroke-linejoin="round"/>
<polyline points="36.2,464 53.56,454.82 70.92,458.01 88.28,430.14 105.64,442.63 123,461.13 140.36,459.64 157.72,463.21 175.08,460.11" fill="none" stroke="#8a8a8a" stroke-width="1.15" stroke-linejoin="round"/>
<polyline points="36.2,437.73 53.56,441.19 70.92,443.5 88.28,411.09 105.64,412.34 123,443.27 140.36,441.46 157.72,447.18 175.08,441.71" fill="none" stroke="#8a8a8a" stroke-width="1.15" stroke-linejoin="round"/>
<polyline points="36.2,462.61 53.56,459.15 70.92,456.66 88.28,428.98 105.64,439.05 123,458.04 140.36,462.84 157.72,464.62 175.08,459.97" fill="none" stroke="#8a8a8a" stroke-width="1.15" stroke-linejoin="round"/>
<polyline points="36.2,429.55 53.56,442.54 70.92,441.75 88.28,413.27 105.64,411.89 123,438.65 140.36,444.34 157.72,443.29 175.08,439.14" fill="none" stroke="#8a8a8a" stroke-width="1.15" stroke-linejoin="round"/>
<polyline points="36.2,463.48 53.56,456.8 70.92,458.84 88.28,429.69 105.64,444.79 123,462.19 140.36,463.4 157.72,463.22 175.08,460.16" fill="none" stroke="#8a8a8a" stroke-width="1.15" stroke-linejoin="round"/>
<polyline points="36.2,439.34 53.56,438.8 70.92,440.83 88.28,413.73 105.64,411.21 123,442.66 140.36,443.21 157.72,445.05 175.08,443.39" fill="none" stroke="#8a8a8a" stroke-width="1.15" stroke-linejoin="round"/>
<polyline points="36.2,467.46 53.56,459 70.92,453.83 88.28,427.96 105.64,440.9 123,458.78 140.36,457.79 157.72,459.8 175.08,461.69" fill="none" stroke="#8a8a8a" stroke-width="1.15" stroke-linejoin="round"/>
<polyline points="36.2,467.46 53.56,457.14 70.92,457.06 88.28,425.76 105.64,441.4 123,457.02 140.36,462.57 157.72,458.03 175.08,458.56" fill="none" stroke="#8a8a8a" stroke-width="1.15" stroke-linejoin="round"/>
<polyline points="36.2,466.59 53.56,458.79 70.92,456.61 88.28,428.3 105.64,439.3 123,458.93 140.36,459.29 157.72,462.11 175.08,464.35" fill="none" stroke="#8a8a8a" stroke-width="1.15" stroke-linejoin="round"/>
<polyline points="36.2,426.64 53.56,438.67 70.92,444.54 88.28,411.43 105.64,420.87 123,438.79 140.36,442.66 157.72,445.09 175.08,441.73" fill="none" stroke="#8a8a8a" stroke-width="1.15" stroke-linejoin="round"/>
<polyline points="36.2,426.64 53.56,443.04 70.92,444.21 88.28,413.29 105.64,420.32 123,443.18 140.36,443.91 157.72,442.58 175.08,442.14" fill="none" stroke="#8a8a8a" stroke-width="1.15" stroke-linejoin="round"/>
<polyline points="36.2,427.45 53.56,442.38 70.92,443.33 88.28,409.92 105.64,414.59 123,443.33 140.36,445.98 157.72,441.32 175.08,444.04" fill="none" stroke="#8a8a8a" stroke-width="1.15" stroke-linejoin="round"/>
<polyline points="36.2,462.68 53.56,470.05 70.92,454.66 88.28,424.44 105.64,439.23 123,458.23 140.36,462.52 157.72,464.16 175.08,457.47" fill="none" stroke="#8a8a8a" stroke-width="1.15" stroke-linejoin="round"/>
<polyline points="36.2,458.04 53.56,470.05 70.92,456.14 88.28,424.48 105.64,439.27 123,460.08 140.36,463.63 157.72,464.04 175.08,458.86" fill="none" stroke="#8a8a8a" stroke-width="1.15" stroke-linejoin="round"/>
<polyline points="36.2,464.39 53.56,468.01 70.92,458.51 88.28,425.71 105.64,443.69 123,458.62 140.36,457.92 157.72,464.72 175.08,464.51" fill="none" stroke="#8a8a8a" stroke-width="1.15" stroke-linejoin="round"/>
<polyline points="36.2,432.38 53.56,433.28 70.92,443.32 88.28,411.15 105.64,412.35 123,442.34 140.36,447.07 157.72,440.36 175.08,440.75" fill="none" stroke="#8a8a8a" stroke-width="1.15" stroke-linejoin="round"/>
<polyline points="36.2,440.83 53.56,433.28 70.92,438.58 88.28,412.37 105.64,416.96 123,439.12 140.36,441.28 157.72,440.57 175.08,440.36" fill="none" stroke="#8a8a8a" stroke-width="1.15" stroke-linejoin="round"/>
<polyline points="36.2,439.37 53.56,433.98 70.92,440.67 88.28,410.31 105.64,415.82 123,439.72 140.36,440.53 157.72,446.98 175.08,440.12" fill="none" stroke="#8a8a8a" stroke-width="1.15" stroke-linejoin="round"/>
<polyline points="36.2,462.31 53.56,459.27 70.92,468.92 88.28,428.55 105.64,442.28 123,456.24 140.36,459.47 157.72,458.58 175.08,463.25" fill="none" stroke="#8a8a8a" stroke-width="1.15" stroke-linejoin="round"/>
<polyline points="36.2,460.84 53.56,458.47 70.92,468.92 88.28,426.25 105.64,441.9 123,457.6 140.36,460.59 157.72,462.23 175.08,457.72" fill="none" stroke="#8a8a8a" stroke-width="1.15" stroke-linejoin="round"/>
<polyline points="36.2,455.35 53.56,455.76 70.92,466.08 88.28,425.19 105.64,442.6 123,455.74 140.36,462.74 157.72,459.19 175.08,462.94" fill="none" stroke="#8a8a8a" stroke-width="1.15" stroke-linejoin="round"/>
<polyline points="36.2,434.42 53.56,441.32 70.92,426.31 88.28,407.72 105.64,410.94 123,444.58 140.36,440.02 157.72,440.65 175.08,437.77" fill="none" stroke="#8a8a8a" stroke-width="1.15" stroke-linejoin="round"/>
<polyline points="36.2,438.24 53.56,442.63 70.92,426.31 88.28,408.06 105.64,415.64 123,441.31 140.36,441.23 157.72,445.78 175.08,439.45" fill="none" stroke="#8a8a8a" stroke-width="1.15" stroke-linejoin="round"/>
<polyline points="36.2,435.57 53.56,443.38 70.92,430.91 88.28,409.43 105.64,411.33 123,442.56 140.36,439.82 157.72,447.36 175.08,441.95" fill="none" stroke="#8a8a8a" stroke-width="1.15" stroke-linejoin="round"/>
<polyline points="36.2,455.82 53.56,457.37 70.92,458.08 88.28,437.33 105.64,439.96 123,456.84 140.36,461.76 157.72,458.13 175.08,462.64" fill="none" stroke="#8a8a8a" stroke-width="1.15" stroke-linejoin="round"/>
<polyline points="36.2,463.18 53.56,453.84 70.92,453.22 88.28,437.33 105.64,439.95 123,461.9 140.36,458.66 157.72,464.82 175.08,457.21" fill="none" stroke="#8a8a8a" stroke-width="1.15" stroke-linejoin="round"/>
<polyline points="36.2,462.88 53.56,454.52 70.92,458.61 88.28,434.2 105.64,442.91 123,461.4 140.36,458.47 157.72,461.59 175.08,459.26" fill="none" stroke="#8a8a8a" stroke-width="1.15" stroke-linejoin="round"/>
<polyline points="36.2,437.82 53.56,438.44 70.92,439.65 88.28,405.9 105.64,417.61 123,441.38 140.36,440.64 157.72,443.91 175.08,440.04" fill="none" stroke="#8a8a8a" stroke-width="1.15" stroke-linejoin="round"/>
<polyline points="36.2,440 53.56,439.25 70.92,439.51 88.28,405.9 105.64,418.5 123,439.2 140.36,445.9 157.72,447.71 175.08,444.35" fill="none" stroke="#8a8a8a" stroke-width="1.15" stroke-linejoin="round"/>
<polyline points="36.2,432.28 53.56,440.03 70.92,440.83 88.28,406.37 105.64,412.28 123,445.57 140.36,444.2 157.72,445.63 175.08,441.89" fill="none" stroke="#8a8a8a" stroke-width="1.15" stroke-linejoin="round"/>
<polyline points="36.2,462.09 53.56,460.75 70.92,458.41 88.28,430.6 105.64,446.08 123,456.98 140.36,464.39 157.72,461.65 175.08,461.19" fill="none" stroke="#8a8a8a" stroke-width="1.15" stroke-linejoin="round"/>
<polyline points="36.2,460.26 53.56,460.35 70.92,457.28 88.28,424.76 105.64,446.08 123,460.05 140.36,461.37 157.72,461.35 175.08,462.21" fill="none" stroke="#8a8a8a" stroke-width="1.15" stroke-linejoin="round"/>
<polyline points="36.2,459.82 53.56,454.1 70.92,453.83 88.28,429.36 105.64,445.34 123,459.46 140.36,463.62 157.72,461.21 175.08,458.91" fill="none" stroke="#8a8a8a" stroke-width="1.15" stroke-linejoin="round"/>
<polyline points="36.2,434.84 53.56,442.82 70.92,442.54 88.28,414.03 105.64,409.3 123,443.03 140.36,445.16 157.72,447.46 175.08,440.1" fill="none" stroke="#8a8a8a" stroke-width="1.15" stroke-linejoin="round"/>
<polyline points="36.2,434.99 53.56,441.4 70.92,442.56 88.28,413.48 105.64,409.3 123,441.7 140.36,443.07 157.72,444.74 175.08,443.63" fill="none" stroke="#8a8a8a" stroke-width="1.15" stroke-linejoin="round"/>
<polyline points="36.2,436.56 53.56,438.63 70.92,444.38 88.28,407.27 105.64,409.85 123,439.21 140.36,439.76 157.72,447.27 175.08,441.24" fill="none" stroke="#8a8a8a" stroke-width="1.15" stroke-linejoin="round"/>
<polyline points="36.2,462.11 53.56,458.35 70.92,455.45 88.28,425.24 105.64,438.89 123,467.78 140.36,459.31 157.72,458.75 175.08,462.52" fill="none" stroke="#8a8a8a" stroke-width="1.15" stroke-linejoin="round"/>
<polyline points="36.2,465.52 53.56,458.47 70.92,456.05 88.28,431.1 105.64,438.15 123,467.78 140.36,461.33 157.72,461.52 175.08,464.53" fill="none" stroke="#8a8a8a" stroke-width="1.15" stroke-linejoin="round"/>
<polyline points="36.2,465.57 53.56,459.83 70.92,453.89 88.28,424.85 105.64,436.39 123,466.83 140.36,458.65 157.72,465.02 175.08,457.18" fill="none" stroke="#8a8a8a" stroke-width="1.15" stroke-linejoin="round"/>
<polyline points="36.2,431.44 53.56,439.4 70.92,439.69 88.28,412.35 105.64,414.98 123,435.06 140.36,444.11 157.72,443.32 175.08,442.2" fill="none" stroke="#8a8a8a" stroke-width="1.15" stroke-linejoin="round"/>
<polyline points="36.2,430.82 53.56,441.01 70.92,442.46 88.28,410.02 105.64,413.08 123,435.06 140.36,446.37 157.72,443.94 175.08,437.42" fill="none" stroke="#8a8a8a" stroke-width="1.15" stroke-linejoin="round"/>
<polyline points="36.2,435.53 53.56,436.96 70.92,439.6 88.28,409.94 105.64,415.18 123,436.78 140.36,446.71 157.72,447.63 175.08,437.39" fill="none" stroke="#8a8a8a" stroke-width="1.15" stroke-linejoin="round"/>
<polyline points="36.2,461.14 53.56,459.09 70.92,457.12 88.28,425.06 105.64,440.21 123,457.67 140.36,469.57 157.72,465.04 175.08,458.62" fill="none" stroke="#8a8a8a" stroke-width="1.15" stroke-linejoin="round"/>
<polyline points="36.2,461.51 53.56,456.28 70.92,454.74 88.28,430.96 105.64,438.08 123,460.02 140.36,469.57 157.72,462.25 175.08,462.44" fill="none" stroke="#8a8a8a" stroke-width="1.15" stroke-linejoin="round"/>
<polyline points="36.2,465.78 53.56,457.92 70.92,458.83 88.28,427.89 105.64,442.99 123,459.3 140.36,468.5 157.72,458.24 175.08,458.13" fill="none" stroke="#8a8a8a" stroke-width="1.15" stroke-linejoin="round"/>
<polyline points="36.2,439.35 53.56,440.91 70.92,444.05 88.28,412.68 105.64,413.18 123,441.83 140.36,433.28 157.72,446.2 175.08,441.31" fill="none" stroke="#8a8a8a" stroke-width="1.15" stroke-linejoin="round"/>
<polyline points="36.2,431.51 53.56,442.37 70.92,441.38 88.28,410.54 105.64,420.82 123,438.87 140.36,433.28 157.72,446.71 175.08,444.04" fill="none" stroke="#8a8a8a" stroke-width="1.15" stroke-linejoin="round"/>
<polyline points="36.2,433.25 53.56,439.31 70.92,443.58 88.28,413.74 105.64,415.71 123,444.44 140.36,436.76 157.72,442.52 175.08,445.52" fill="none" stroke="#8a8a8a" stroke-width="1.15" stroke-linejoin="round"/>
<polyline points="36.2,464.16 53.56,458.72 70.92,455.71 88.28,425.18 105.64,435.84 123,459.12 140.36,462.58 157.72,473.62 175.08,460.95" fill="none" stroke="#8a8a8a" stroke-width="1.15" stroke-linejoin="round"/>
<polyline points="36.2,464.92 53.56,456.18 70.92,456.34 88.28,428.73 105.64,438.52 123,457.02 140.36,464.68 157.72,473.62 175.08,459.57" fill="none" stroke="#8a8a8a" stroke-width="1.15" stroke-linejoin="round"/>
<polyline points="36.2,457.01 53.56,459.35 70.92,456.29 88.28,425.58 105.64,440.54 123,459.32 140.36,457.97 157.72,470.56 175.08,459.31" fill="none" stroke="#8a8a8a" stroke-width="1.15" stroke-linejoin="round"/>
<polyline points="36.2,440.17 53.56,436.72 70.92,438.48 88.28,410.19 105.64,412.99 123,444.8 140.36,441.94 157.72,435.55 175.08,438.48" fill="none" stroke="#8a8a8a" stroke-width="1.15" stroke-linejoin="round"/>
<polyline points="36.2,432.63 53.56,443.09 70.92,442.03 88.28,406.96 105.64,413.46 123,441.49 140.36,443.85 157.72,435.55 175.08,441.09" fill="none" stroke="#8a8a8a" stroke-width="1.15" stroke-linejoin="round"/>
<polyline points="36.2,432.22 53.56,441.68 70.92,439.35 88.28,410.78 105.64,413.13 123,442.87 140.36,445.52 157.72,437.74 175.08,444.96" fill="none" stroke="#8a8a8a" stroke-width="1.15" stroke-linejoin="round"/>
<polyline points="36.2,458.19 53.56,459.91 70.92,455.97 88.28,424.71 105.64,437.72 123,456.37 140.36,459.55 157.72,464.34 175.08,470.05" fill="none" stroke="#8a8a8a" stroke-width="1.15" stroke-linejoin="round"/>
<polyline points="36.2,461.55 53.56,454.42 70.92,458.77 88.28,429.32 105.64,439.6 123,459.35 140.36,459.91 157.72,460.89 175.08,470.05" fill="none" stroke="#8a8a8a" stroke-width="1.15" stroke-linejoin="round"/>
<polyline points="36.2,455.51 53.56,453.97 70.92,457.94 88.28,429.76 105.64,443.12 123,458.26 140.36,458.9 157.72,459.23 175.08,468.77" fill="none" stroke="#8a8a8a" stroke-width="1.15" stroke-linejoin="round"/>
<polyline points="36.2,432.29 53.56,443.03 70.92,440.88 88.28,413.56 105.64,414.14 123,444.31 140.36,441.69 157.72,444.77 175.08,431.01" fill="none" stroke="#8a8a8a" stroke-width="1.15" stroke-linejoin="round"/>
<polyline points="36.2,434.5 53.56,439.32 70.92,440.74 88.28,406.88 105.64,417.38 123,441.34 140.36,444.22 157.72,445.62 175.08,431.01" fill="none" stroke="#8a8a8a" stroke-width="1.15" stroke-linejoin="round"/>
<polyline points="36.2,433.18 53.56,441.89 70.92,441.87 88.28,413.07 105.64,419.8 123,445.2 140.36,447.22 157.72,444.69 175.08,433.63" fill="none" stroke="#8a8a8a" stroke-width="1.15" stroke-linejoin="round"/>
<rect x="35.1" y="466.36" width="2.2" height="2.2" fill="#808080"/>
<rect x="35.1" y="466.36" width="2.2" height="2.2" fill="#808080"/>
<rect x="35.1" y="465.49" width="2.2" height="2.2" fill="#808080"/>
<rect x="35.1" y="425.54" width="2.2" height="2.2" fill="#808080"/>
<rect x="35.1" y="425.54" width="2.2" height="2.2" fill="#808080"/>
<rect x="35.1" y="426.35" width="2.2" height="2.2" fill="#808080"/>
<rect x="52.46" y="468.95" width="2.2" height="2.2" fill="#808080"/>
<rect x="52.46" y="468.95" width="2.2" height="2.2" fill="#808080"/>
<rect x="52.46" y="466.91" width="2.2" height="2.2" fill="#808080"/>
<rect x="52.46" y="432.18" width="2.2" height="2.2" fill="#808080"/>
<rect x="52.46" y="432.18" width="2.2" height="2.2" fill="#808080"/>
<rect x="52.46" y="432.88" width="2.2" height="2.2" fill="#808080"/>
<rect x="69.82" y="467.82" width="2.2" height="2.2" fill="#808080"/>
<rect x="69.82" y="467.82" width="2.2" height="2.2" fill="#808080"/>
<rect x="69.82" y="464.98" width="2.2" height="2.2" fill="#808080"/>
<rect x="69.82" y="425.21" width="2.2" height="2.2" fill="#808080"/>
<rect x="69.82" y="425.21" width="2.2" height="2.2" fill="#808080"/>
<rect x="69.82" y="429.81" width="2.2" height="2.2" fill="#808080"/>
<rect x="87.18" y="436.23" width="2.2" height="2.2" fill="#808080"/>
<rect x="87.18" y="436.23" width="2.2" height="2.2" fill="#808080"/>
<rect x="87.18" y="433.1" width="2.2" height="2.2" fill="#808080"/>
<rect x="87.18" y="404.8" width="2.2" height="2.2" fill="#808080"/>
<rect x="87.18" y="404.8" width="2.2" height="2.2" fill="#808080"/>
<rect x="87.18" y="405.27" width="2.2" height="2.2" fill="#808080"/>
<rect x="104.54" y="444.98" width="2.2" height="2.2" fill="#808080"/>
<rect x="104.54" y="444.98" width="2.2" height="2.2" fill="#808080"/>
<rect x="104.54" y="444.24" width="2.2" height="2.2" fill="#808080"/>
<rect x="104.54" y="408.2" width="2.2" height="2.2" fill="#808080"/>
<rect x="104.54" y="408.2" width="2.2" height="2.2" fill="#808080"/>
<rect x="104.54" y="408.75" width="2.2" height="2.2" fill="#808080"/>
<rect x="121.9" y="466.68" width="2.2" height="2.2" fill="#808080"/>
<rect x="121.9" y="466.68" width="2.2" height="2.2" fill="#808080"/>
<rect x="121.9" y="465.73" width="2.2" height="2.2" fill="#808080"/>
<rect x="121.9" y="433.96" width="2.2" height="2.2" fill="#808080"/>
<rect x="121.9" y="433.96" width="2.2" height="2.2" fill="#808080"/>
<rect x="121.9" y="435.68" width="2.2" height="2.2" fill="#808080"/>
<rect x="139.26" y="468.47" width="2.2" height="2.2" fill="#808080"/>
<rect x="139.26" y="468.47" width="2.2" height="2.2" fill="#808080"/>
<rect x="139.26" y="467.4" width="2.2" height="2.2" fill="#808080"/>
<rect x="139.26" y="432.18" width="2.2" height="2.2" fill="#808080"/>
<rect x="139.26" y="432.18" width="2.2" height="2.2" fill="#808080"/>
<rect x="139.26" y="435.66" width="2.2" height="2.2" fill="#808080"/>
<rect x="156.62" y="472.52" width="2.2" height="2.2" fill="#808080"/>
<rect x="156.62" y="472.52" width="2.2" height="2.2" fill="#808080"/>
<rect x="156.62" y="469.46" width="2.2" height="2.2" fill="#808080"/>
<rect x="156.62" y="434.45" width="2.2" height="2.2" fill="#808080"/>
<rect x="156.62" y="434.45" width="2.2" height="2.2" fill="#808080"/>
<rect x="156.62" y="436.64" width="2.2" height="2.2" fill="#808080"/>
<rect x="173.98" y="468.95" width="2.2" height="2.2" fill="#808080"/>
<rect x="173.98" y="468.95" width="2.2" height="2.2" fill="#808080"/>
<rect x="173.98" y="467.67" width="2.2" height="2.2" fill="#808080"/>
<rect x="173.98" y="429.91" width="2.2" height="2.2" fill="#808080"/>
<rect x="173.98" y="429.91" width="2.2" height="2.2" fill="#808080"/>
<rect x="173.98" y="432.53" width="2.2" height="2.2" fill="#808080"/>
<polyline points="36.2,452.72 53.56,451.42 70.92,454.82 88.28,418.05 105.64,419.35 123,449.64 140.36,450.77 157.72,450.13 175.08,456.12" fill="none" stroke="#2b3f8c" stroke-width="2.2" stroke-linejoin="round"/>
<polyline points="36.2,453.69 53.56,448.99 70.92,450.77 88.28,417.24 105.64,420.97 123,450.77 140.36,454.82 157.72,454.34 175.08,454.01" fill="none" stroke="#c21f2d" stroke-width="2.2" stroke-linejoin="round"/>
<polyline points="36.2,438.46 53.56,456.93 70.92,448.99 88.28,418.7 105.64,422.75 123,454.34 140.36,454.01 157.72,453.2 175.08,459.04" fill="none" stroke="#000" stroke-width="2.3" stroke-linejoin="round"/>
<rect x="34.9" y="437.16" width="2.6" height="2.6" fill="#000"/>
<rect x="52.26" y="455.63" width="2.6" height="2.6" fill="#000"/>
<rect x="69.62" y="447.69" width="2.6" height="2.6" fill="#000"/>
<rect x="86.98" y="417.4" width="2.6" height="2.6" fill="#000"/>
<rect x="104.34" y="421.45" width="2.6" height="2.6" fill="#000"/>
<rect x="121.7" y="453.04" width="2.6" height="2.6" fill="#000"/>
<rect x="139.06" y="452.71" width="2.6" height="2.6" fill="#000"/>
<rect x="156.42" y="451.9" width="2.6" height="2.6" fill="#000"/>
<rect x="173.78" y="457.74" width="2.6" height="2.6" fill="#000"/>
<text x="0" y="516.8" font-size="14" text-anchor="start" fill="#000" font-weight="bold">q</text>
<text x="35.5" y="526" font-size="7.7" text-anchor="middle" fill="#000">DC</text>
<text x="52.91" y="526" font-size="7.7" text-anchor="middle" fill="#000">M&#934;</text>
<text x="70.32" y="526" font-size="7.7" text-anchor="middle" fill="#000">MC</text>
<text x="87.73" y="526" font-size="7.7" text-anchor="middle" fill="#000">ET</text>
<text x="105.14" y="526" font-size="7.7" text-anchor="middle" fill="#000">DT</text>
<text x="122.55" y="526" font-size="7.7" text-anchor="middle" fill="#000">EC</text>
<text x="139.96" y="526" font-size="7.7" text-anchor="middle" fill="#000">Mel</text>
<text x="157.37" y="526" font-size="7.7" text-anchor="middle" fill="#000">Fib</text>
<text x="174.78" y="526" font-size="7.7" text-anchor="middle" fill="#000">KC</text>
<line x1="35.5" y1="537.2" x2="35.5" y2="605.4" stroke="#d9d9d9" stroke-width="0.8"/>
<line x1="52.91" y1="537.2" x2="52.91" y2="605.4" stroke="#d9d9d9" stroke-width="0.8"/>
<line x1="70.32" y1="537.2" x2="70.32" y2="605.4" stroke="#d9d9d9" stroke-width="0.8"/>
<line x1="87.73" y1="537.2" x2="87.73" y2="605.4" stroke="#d9d9d9" stroke-width="0.8"/>
<line x1="105.14" y1="537.2" x2="105.14" y2="605.4" stroke="#d9d9d9" stroke-width="0.8"/>
<line x1="122.55" y1="537.2" x2="122.55" y2="605.4" stroke="#d9d9d9" stroke-width="0.8"/>
<line x1="139.96" y1="537.2" x2="139.96" y2="605.4" stroke="#d9d9d9" stroke-width="0.8"/>
<line x1="157.37" y1="537.2" x2="157.37" y2="605.4" stroke="#d9d9d9" stroke-width="0.8"/>
<line x1="174.78" y1="537.2" x2="174.78" y2="605.4" stroke="#d9d9d9" stroke-width="0.8"/>
<line x1="27.3" y1="536.3" x2="27.3" y2="611.4" stroke="#555" stroke-width="1.4"/>
<line x1="25.8" y1="548" x2="27.3" y2="548" stroke="#333" stroke-width="0.8"/>
<text x="21.3" y="550.6" font-size="7.3" text-anchor="end" fill="#000">2</text>
<line x1="25.8" y1="564.2" x2="27.3" y2="564.2" stroke="#333" stroke-width="0.8"/>
<text x="21.3" y="566.8" font-size="7.3" text-anchor="end" fill="#000">1</text>
<line x1="25.8" y1="580.4" x2="27.3" y2="580.4" stroke="#333" stroke-width="0.8"/>
<text x="21.3" y="583" font-size="7.3" text-anchor="end" fill="#000">0</text>
<line x1="25.8" y1="596.6" x2="27.3" y2="596.6" stroke="#333" stroke-width="0.8"/>
<text x="21.3" y="599.2" font-size="7.3" text-anchor="end" fill="#000">&#8722;1</text>
<text x="7.1" y="573.76" font-size="7.6" text-anchor="middle" fill="#111" textLength="27.4" lengthAdjust="spacingAndGlyphs" transform="rotate(-90 7.1 573.76)">Z-scorel</text>
<polygon points="35.5,581.24 52.91,575.48 70.32,581.44 87.73,583.06 105.14,579.46 122.55,541.23 139.96,577.84 157.37,578.38 174.78,579.82 174.78,590.7 157.37,589.72 139.96,587.82 122.55,546.67 105.14,589.44 87.73,593.94 70.32,592.32 52.91,591.8 35.5,595.76" fill="#8a8a8a" stroke="#8a8a8a" stroke-width="0.8" stroke-linejoin="round"/>
<polyline points="35.5,594.15 52.91,593.27 70.32,594.16 87.73,595.02 105.14,591.58 122.55,548.21 139.96,589.62 157.37,589.45 174.78,593" fill="none" stroke="#8a8a8a" stroke-width="1.15" stroke-linejoin="round"/>
<polyline points="35.5,579.69 52.91,572.77 70.32,580.62 87.73,579.89 105.14,576.08 122.55,540.83 139.96,575.57 157.37,579.03 174.78,581.01" fill="none" stroke="#8a8a8a" stroke-width="1.15" stroke-linejoin="round"/>
<polyline points="35.5,596.94 52.91,591.99 70.32,593.3 87.73,592.68 105.14,592.18 122.55,548.74 139.96,591.38 157.37,591.49 174.78,594.83" fill="none" stroke="#8a8a8a" stroke-width="1.15" stroke-linejoin="round"/>
<polyline points="35.5,581.76 52.91,569.61 70.32,580.68 87.73,581.75 105.14,579.34 122.55,541.05 139.96,577.21 157.37,578.34 174.78,578.01" fill="none" stroke="#8a8a8a" stroke-width="1.15" stroke-linejoin="round"/>
<polyline points="35.5,598.45 52.91,592.21 70.32,593.94 87.73,597.33 105.14,589.84 122.55,547.34 139.96,588.07 157.37,589.9 174.78,594.48" fill="none" stroke="#8a8a8a" stroke-width="1.15" stroke-linejoin="round"/>
<polyline points="35.5,578.3 52.91,573.05 70.32,578.41 87.73,580.79 105.14,580.05 122.55,540.2 139.96,577.02 157.37,577.54 174.78,576.9" fill="none" stroke="#8a8a8a" stroke-width="1.15" stroke-linejoin="round"/>
<polyline points="35.5,599.67 52.91,593.87 70.32,592.68 87.73,595.63 105.14,592.25 122.55,546.7 139.96,589.42 157.37,593.44 174.78,590.16" fill="none" stroke="#8a8a8a" stroke-width="1.15" stroke-linejoin="round"/>
<polyline points="35.5,580.33 52.91,573.92 70.32,577.75 87.73,584.13 105.14,577.27 122.55,541.33 139.96,576.94 157.37,574.2 174.78,575.85" fill="none" stroke="#8a8a8a" stroke-width="1.15" stroke-linejoin="round"/>
<polyline points="35.5,598.1 52.91,591.03 70.32,596.81 87.73,596.59 105.14,591.15 122.55,546.24 139.96,587.16 157.37,592.43 174.78,593.68" fill="none" stroke="#8a8a8a" stroke-width="1.15" stroke-linejoin="round"/>
<polyline points="35.5,575.81 52.91,570.75 70.32,579.19 87.73,579.75 105.14,578.98 122.55,541.01 139.96,576.19 157.37,579.51 174.78,580.27" fill="none" stroke="#8a8a8a" stroke-width="1.15" stroke-linejoin="round"/>
<polyline points="35.5,598.79 52.91,597.58 70.32,592.51 87.73,597.73 105.14,588.81 122.55,548.72 139.96,589.16 157.37,591.14 174.78,590.82" fill="none" stroke="#8a8a8a" stroke-width="1.15" stroke-linejoin="round"/>
<polyline points="35.5,581.79 52.91,577.44 70.32,579.72 87.73,583.47 105.14,577.17 122.55,540.86 139.96,576.72 157.37,576.94 174.78,576.32" fill="none" stroke="#8a8a8a" stroke-width="1.15" stroke-linejoin="round"/>
<polyline points="35.5,594.63 52.91,592.47 70.32,591.19 87.73,593.94 105.14,590.86 122.55,549.11 139.96,591.29 157.37,589.12 174.78,590.42" fill="none" stroke="#8a8a8a" stroke-width="1.15" stroke-linejoin="round"/>
<polyline points="35.5,582.38 52.91,572.04 70.32,578.8 87.73,581.88 105.14,577.05 122.55,538.86 139.96,576.35 157.37,579.21 174.78,579.59" fill="none" stroke="#8a8a8a" stroke-width="1.15" stroke-linejoin="round"/>
<polyline points="35.5,600.77 52.91,592.27 70.32,595.43 87.73,595.57 105.14,589.65 122.55,546.82 139.96,591.19 157.37,594.39 174.78,591.67" fill="none" stroke="#8a8a8a" stroke-width="1.15" stroke-linejoin="round"/>
<polyline points="35.5,581.31 52.91,572.54 70.32,579.66 87.73,579.15 105.14,578.69 122.55,540.9 139.96,574.93 157.37,575.59 174.78,580.69" fill="none" stroke="#8a8a8a" stroke-width="1.15" stroke-linejoin="round"/>
<polyline points="35.5,597.18 52.91,591.44 70.32,591.89 87.73,596.71 105.14,589.65 122.55,548.18 139.96,588.39 157.37,592.82 174.78,591.31" fill="none" stroke="#8a8a8a" stroke-width="1.15" stroke-linejoin="round"/>
<polyline points="35.5,580.21 52.91,573.78 70.32,580.59 87.73,583.14 105.14,576.57 122.55,539.83 139.96,576.16 157.37,575.72 174.78,577.95" fill="none" stroke="#8a8a8a" stroke-width="1.15" stroke-linejoin="round"/>
<polyline points="35.5,596.75 52.91,592.25 70.32,594.99 87.73,594.09 105.14,593.68 122.55,547.99 139.96,591.68 157.37,590.68 174.78,592.29" fill="none" stroke="#8a8a8a" stroke-width="1.15" stroke-linejoin="round"/>
<polyline points="35.5,582.44 52.91,571.7 70.32,576.6 87.73,580.82 105.14,579.06 122.55,540.35 139.96,575.7 157.37,576.98 174.78,580.71" fill="none" stroke="#8a8a8a" stroke-width="1.15" stroke-linejoin="round"/>
<polyline points="35.5,597.65 52.91,590.58 70.32,597.07 87.73,592.89 105.14,590.18 122.55,546.91 139.96,588.78 157.37,590.89 174.78,590.93" fill="none" stroke="#8a8a8a" stroke-width="1.15" stroke-linejoin="round"/>
<polyline points="35.5,579.97 52.91,569.41 70.32,579.84 87.73,583.18 105.14,578.95 122.55,541.11 139.96,576.71 157.37,575.11 174.78,579.05" fill="none" stroke="#8a8a8a" stroke-width="1.15" stroke-linejoin="round"/>
<polyline points="35.5,597.01 52.91,598.71 70.32,594.55 87.73,593.06 105.14,591.65 122.55,546.67 139.96,587.89 157.37,592.07 174.78,590.87" fill="none" stroke="#8a8a8a" stroke-width="1.15" stroke-linejoin="round"/>
<polyline points="35.5,578.96 52.91,575.03 70.32,580.61 87.73,581.78 105.14,577.73 122.55,539.71 139.96,576.12 157.37,577.49 174.78,577.01" fill="none" stroke="#8a8a8a" stroke-width="1.15" stroke-linejoin="round"/>
<polyline points="35.5,602.05 52.91,595.39 70.32,594.91 87.73,594.16 105.14,590.74 122.55,549.18 139.96,590.26 157.37,592.2 174.78,590.47" fill="none" stroke="#8a8a8a" stroke-width="1.15" stroke-linejoin="round"/>
<polyline points="35.5,578.6 52.91,574.07 70.32,580.89 87.73,583.14 105.14,579.09 122.55,539.88 139.96,577.49 157.37,578.3 174.78,577.92" fill="none" stroke="#8a8a8a" stroke-width="1.15" stroke-linejoin="round"/>
<polyline points="35.5,599.26 52.91,594.51 70.32,595.52 87.73,593.14 105.14,589.35 122.55,547.95 139.96,587.21 157.37,590.88 174.78,590.97" fill="none" stroke="#8a8a8a" stroke-width="1.15" stroke-linejoin="round"/>
<polyline points="35.5,580.93 52.91,573.36 70.32,579.87 87.73,580.89 105.14,579.03 122.55,539.55 139.96,573.95 157.37,575.56 174.78,579.37" fill="none" stroke="#8a8a8a" stroke-width="1.15" stroke-linejoin="round"/>
<polyline points="35.5,596 52.91,592.25 70.32,591.85 87.73,594.88 105.14,591.68 122.55,548.26 139.96,587.97 157.37,592.05 174.78,592.13" fill="none" stroke="#8a8a8a" stroke-width="1.15" stroke-linejoin="round"/>
<polyline points="35.5,579.55 52.91,571.76 70.32,579.41 87.73,581.57 105.14,577.77 122.55,540.05 139.96,577.81 157.37,577.23 174.78,577.36" fill="none" stroke="#8a8a8a" stroke-width="1.15" stroke-linejoin="round"/>
<polyline points="35.5,600.89 52.91,591.83 70.32,594.92 87.73,595.65 105.14,592.47 122.55,548.12 139.96,589.17 157.37,591.12 174.78,592.4" fill="none" stroke="#8a8a8a" stroke-width="1.15" stroke-linejoin="round"/>
<polyline points="35.5,582.45 52.91,574 70.32,580.9 87.73,582.14 105.14,578.45 122.55,541.12 139.96,575.19 157.37,576.93 174.78,577.41" fill="none" stroke="#8a8a8a" stroke-width="1.15" stroke-linejoin="round"/>
<polyline points="35.5,596.78 52.91,592.2 70.32,592.82 87.73,596.92 105.14,588.7 122.55,547.15 139.96,588.81 157.37,591.68 174.78,591.92" fill="none" stroke="#8a8a8a" stroke-width="1.15" stroke-linejoin="round"/>
<polyline points="35.5,577.63 52.91,574.32 70.32,581.8 87.73,579.27 105.14,577.32 122.55,538.67 139.96,575.82 157.37,576.75 174.78,576.66" fill="none" stroke="#8a8a8a" stroke-width="1.15" stroke-linejoin="round"/>
<polyline points="35.5,600 52.91,596.14 70.32,594.94 87.73,595.89 105.14,589.06 122.55,547.53 139.96,587.78 157.37,592.85 174.78,590.8" fill="none" stroke="#8a8a8a" stroke-width="1.15" stroke-linejoin="round"/>
<polyline points="35.5,579.21 52.91,574.89 70.32,580.24 87.73,581.85 105.14,577.26 122.55,539.41 139.96,576.08 157.37,578.26 174.78,580.05" fill="none" stroke="#8a8a8a" stroke-width="1.15" stroke-linejoin="round"/>
<polyline points="35.5,599.26 52.91,592.46 70.32,591.02 87.73,596.61 105.14,589.23 122.55,547.54 139.96,587.73 157.37,591.48 174.78,592.32" fill="none" stroke="#8a8a8a" stroke-width="1.15" stroke-linejoin="round"/>
<polyline points="35.5,577.78 52.91,572.38 70.32,580.53 87.73,582.98 105.14,577.83 122.55,540.57 139.96,577.26 157.37,577.49 174.78,579.91" fill="none" stroke="#8a8a8a" stroke-width="1.15" stroke-linejoin="round"/>
<polyline points="35.5,596.64 52.91,597.65 70.32,595.04 87.73,597.3 105.14,591.5 122.55,548.18 139.96,587.89 157.37,589.75 174.78,590.02" fill="none" stroke="#8a8a8a" stroke-width="1.15" stroke-linejoin="round"/>
<polyline points="35.5,578.02 52.91,575.88 70.32,580.11 87.73,582.96 105.14,576.88 122.55,540.11 139.96,575.2 157.37,578.43 174.78,579.84" fill="none" stroke="#8a8a8a" stroke-width="1.15" stroke-linejoin="round"/>
<polyline points="35.5,598.97 52.91,594.92 70.32,596.9 87.73,594 105.14,591.79 122.55,547.2 139.96,592.06 157.37,591.31 174.78,593.6" fill="none" stroke="#8a8a8a" stroke-width="1.15" stroke-linejoin="round"/>
<polyline points="35.5,580.39 52.91,574.29 70.32,578.89 87.73,580.28 105.14,576.51 122.55,541.13 139.96,578.31 157.37,579.81 174.78,578.57" fill="none" stroke="#8a8a8a" stroke-width="1.15" stroke-linejoin="round"/>
<polyline points="35.5,600.55 52.91,594.33 70.32,591.69 87.73,596.66 105.14,592.93 122.55,548.05 139.96,589.81 157.37,591.16 174.78,591.05" fill="none" stroke="#8a8a8a" stroke-width="1.15" stroke-linejoin="round"/>
<polyline points="35.5,575.36 52.91,572.7 70.32,577.89 87.73,580.16 105.14,577.96 122.55,540.25 139.96,577.11 157.37,575.03 174.78,579.8" fill="none" stroke="#8a8a8a" stroke-width="1.15" stroke-linejoin="round"/>
<polyline points="35.5,600.75 52.91,597.87 70.32,592.32 87.73,595.8 105.14,590.56 122.55,549.04 139.96,590.63 157.37,591.22 174.78,592.04" fill="none" stroke="#8a8a8a" stroke-width="1.15" stroke-linejoin="round"/>
<polyline points="35.5,576.45 52.91,576.97 70.32,581.55 87.73,582.79 105.14,579.38 122.55,540.79 139.96,575.07 157.37,579.11 174.78,576.04" fill="none" stroke="#8a8a8a" stroke-width="1.15" stroke-linejoin="round"/>
<polyline points="35.5,599.7 52.91,592.02 70.32,595.24 87.73,597.31 105.14,591.73 122.55,546.51 139.96,590.3 157.37,589.28 174.78,589.59" fill="none" stroke="#8a8a8a" stroke-width="1.15" stroke-linejoin="round"/>
<polyline points="35.5,575.6 52.91,572.13 70.32,578.7 87.73,581.68 105.14,580.21 122.55,540.63 139.96,576.08 157.37,577.64 174.78,578.42" fill="none" stroke="#8a8a8a" stroke-width="1.15" stroke-linejoin="round"/>
<polyline points="35.5,600.69 52.91,594.56 70.32,592.95 87.73,596.3 105.14,589.27 122.55,548.11 139.96,587.21 157.37,590.13 174.78,591.27" fill="none" stroke="#8a8a8a" stroke-width="1.15" stroke-linejoin="round"/>
<polyline points="35.5,576.24 52.91,571.85 70.32,579.56 87.73,579.75 105.14,576.03 122.55,540.07 139.96,578.12 157.37,575.56 174.78,579.58" fill="none" stroke="#8a8a8a" stroke-width="1.15" stroke-linejoin="round"/>
<polyline points="35.5,597.12 52.91,596.21 70.32,593.68 87.73,594.57 105.14,591.92 122.55,546.37 139.96,589.11 157.37,591.95 174.78,591.25" fill="none" stroke="#8a8a8a" stroke-width="1.15" stroke-linejoin="round"/>
<polyline points="35.5,579.65 52.91,575.32 70.32,579.9 87.73,583.52 105.14,579.08 122.55,540.79 139.96,578.82 157.37,578.79 174.78,579.98" fill="none" stroke="#8a8a8a" stroke-width="1.15" stroke-linejoin="round"/>
<polyline points="35.5,596 52.91,596.61 70.32,593.36 87.73,597.08 105.14,589.79 122.55,548.51 139.96,589.71 157.37,593.69 174.78,589.79" fill="none" stroke="#8a8a8a" stroke-width="1.15" stroke-linejoin="round"/>
<polyline points="35.5,579.6 52.91,575.83 70.32,581.27 87.73,582.73 105.14,575.69 122.55,540.89 139.96,574.31 157.37,577.7 174.78,579.3" fill="none" stroke="#8a8a8a" stroke-width="1.15" stroke-linejoin="round"/>
<polyline points="35.5,598.27 52.91,595.01 70.32,593.03 87.73,595.09 105.14,593.31 122.55,547.97 139.96,590.18 157.37,593.58 174.78,592.99" fill="none" stroke="#8a8a8a" stroke-width="1.15" stroke-linejoin="round"/>
<polyline points="35.5,581.08 52.91,570.51 70.32,579.78 87.73,582.72 105.14,580.52 122.55,539.27 139.96,574.41 157.37,577.3 174.78,576.61" fill="none" stroke="#8a8a8a" stroke-width="1.15" stroke-linejoin="round"/>
<polyline points="35.5,600.57 52.91,596.02 70.32,593.06 87.73,597.32 105.14,592.26 122.55,547.7 139.96,588.68 157.37,590.67 174.78,590.91" fill="none" stroke="#8a8a8a" stroke-width="1.15" stroke-linejoin="round"/>
<polyline points="35.5,578.43 52.91,575.35 70.32,578.87 87.73,581.07 105.14,578.08 122.55,540.57 139.96,578.49 157.37,576.01 174.78,575.68" fill="none" stroke="#8a8a8a" stroke-width="1.15" stroke-linejoin="round"/>
<polyline points="35.5,598.26 52.91,593.91 70.32,593.82 87.73,594.53 105.14,590.74 122.55,546.93 139.96,591.87 157.37,591.67 174.78,591.8" fill="none" stroke="#8a8a8a" stroke-width="1.15" stroke-linejoin="round"/>
<polyline points="35.5,578.51 52.91,573.01 70.32,581.35 87.73,581.25 105.14,577.94 122.55,540.8 139.96,577.82 157.37,578.9 174.78,578.25" fill="none" stroke="#8a8a8a" stroke-width="1.15" stroke-linejoin="round"/>
<polyline points="35.5,598.23 52.91,591.63 70.32,594.1 87.73,597.65 105.14,588.65 122.55,548.78 139.96,589.57 157.37,591.31 174.78,592.87" fill="none" stroke="#8a8a8a" stroke-width="1.15" stroke-linejoin="round"/>
<polyline points="35.5,575.21 52.91,570.71 70.32,579.01 87.73,580.32 105.14,580.25 122.55,540.21 139.96,575.31 157.37,575.4 174.78,579.24" fill="none" stroke="#8a8a8a" stroke-width="1.15" stroke-linejoin="round"/>
<polyline points="35.5,594.85 52.91,591.74 70.32,592.75 87.73,594.14 105.14,590.07 122.55,546.99 139.96,587.37 157.37,591.72 174.78,591.37" fill="none" stroke="#8a8a8a" stroke-width="1.15" stroke-linejoin="round"/>
<polyline points="35.5,579.21 52.91,576.9 70.32,580.07 87.73,581.87 105.14,576.92 122.55,540.39 139.96,578.83 157.37,578.03 174.78,578.01" fill="none" stroke="#8a8a8a" stroke-width="1.15" stroke-linejoin="round"/>
<polyline points="35.5,595.53 52.91,592.67 70.32,593.84 87.73,597.62 105.14,592.32 122.55,547.19 139.96,588.61 157.37,592.88 174.78,590.36" fill="none" stroke="#8a8a8a" stroke-width="1.15" stroke-linejoin="round"/>
<polyline points="35.5,577.1 52.91,575.61 70.32,579.14 87.73,582.22 105.14,577.94 122.55,540.44 139.96,574.35 157.37,577.04 174.78,576.64" fill="none" stroke="#8a8a8a" stroke-width="1.15" stroke-linejoin="round"/>
<polyline points="35.5,598.88 52.91,595.89 70.32,594.25 87.73,596.22 105.14,593.02 122.55,547.88 139.96,587.2 157.37,593.82 174.78,591.35" fill="none" stroke="#8a8a8a" stroke-width="1.15" stroke-linejoin="round"/>
<polyline points="35.5,581.34 52.91,577.44 70.32,581.13 87.73,580.2 105.14,575.58 122.55,540.52 139.96,575.8 157.37,578.4 174.78,576.27" fill="none" stroke="#8a8a8a" stroke-width="1.15" stroke-linejoin="round"/>
<polyline points="35.5,596.34 52.91,593.54 70.32,593.3 87.73,595.41 105.14,589.31 122.55,548.65 139.96,587.17 157.37,594.41 174.78,590.74" fill="none" stroke="#8a8a8a" stroke-width="1.15" stroke-linejoin="round"/>
<polyline points="35.5,577.69 52.91,576.16 70.32,581.08 87.73,581.33 105.14,579.79 122.55,539.4 139.96,577.1 157.37,577.85 174.78,579.63" fill="none" stroke="#8a8a8a" stroke-width="1.15" stroke-linejoin="round"/>
<polyline points="35.5,602.43 52.91,593.15 70.32,593.08 87.73,594.77 105.14,589.63 122.55,546.59 139.96,588.86 157.37,590.83 174.78,589.29" fill="none" stroke="#8a8a8a" stroke-width="1.15" stroke-linejoin="round"/>
<polyline points="35.5,602.43 52.91,594.7 70.32,592.91 87.73,595.56 105.14,592.86 122.55,546.11 139.96,590.2 157.37,593.34 174.78,593.48" fill="none" stroke="#8a8a8a" stroke-width="1.15" stroke-linejoin="round"/>
<polyline points="35.5,602.08 52.91,593.54 70.32,595.18 87.73,594.72 105.14,591.69 122.55,547.41 139.96,587.21 157.37,589.02 174.78,592.01" fill="none" stroke="#8a8a8a" stroke-width="1.15" stroke-linejoin="round"/>
<polyline points="35.5,573.27 52.91,573.33 70.32,578.24 87.73,581.38 105.14,580.66 122.55,541.91 139.96,576.23 157.37,578.03 174.78,578.13" fill="none" stroke="#8a8a8a" stroke-width="1.15" stroke-linejoin="round"/>
<polyline points="35.5,573.27 52.91,570.86 70.32,581.87 87.73,583.82 105.14,580.73 122.55,541.95 139.96,575.67 157.37,576.25 174.78,575.95" fill="none" stroke="#8a8a8a" stroke-width="1.15" stroke-linejoin="round"/>
<polyline points="35.5,574.55 52.91,569.56 70.32,577.97 87.73,584.13 105.14,579.33 122.55,541.68 139.96,577.03 157.37,579.52 174.78,579.43" fill="none" stroke="#8a8a8a" stroke-width="1.15" stroke-linejoin="round"/>
<polyline points="35.5,594.17 52.91,599.52 70.32,592.41 87.73,595.47 105.14,588.1 122.55,548.54 139.96,591.29 157.37,590.1 174.78,592.96" fill="none" stroke="#8a8a8a" stroke-width="1.15" stroke-linejoin="round"/>
<polyline points="35.5,597.69 52.91,599.52 70.32,595.53 87.73,593.51 105.14,593.07 122.55,546.58 139.96,589.6 157.37,589.99 174.78,592.59" fill="none" stroke="#8a8a8a" stroke-width="1.15" stroke-linejoin="round"/>
<polyline points="35.5,599.36 52.91,599.01 70.32,594.74 87.73,594.03 105.14,590.46 122.55,546.69 139.96,588.18 157.37,589.78 174.78,590.91" fill="none" stroke="#8a8a8a" stroke-width="1.15" stroke-linejoin="round"/>
<polyline points="35.5,582.22 52.91,563.55 70.32,578.66 87.73,579.18 105.14,578.89 122.55,539.92 139.96,578.43 157.37,579.27 174.78,576.21" fill="none" stroke="#8a8a8a" stroke-width="1.15" stroke-linejoin="round"/>
<polyline points="35.5,578.99 52.91,563.55 70.32,579.69 87.73,584.14 105.14,575.6 122.55,542 139.96,574.55 157.37,576.34 174.78,580.4" fill="none" stroke="#8a8a8a" stroke-width="1.15" stroke-linejoin="round"/>
<polyline points="35.5,580.63 52.91,565.68 70.32,578.54 87.73,579.72 105.14,576.28 122.55,539.75 139.96,579.15 157.37,578.18 174.78,580.13" fill="none" stroke="#8a8a8a" stroke-width="1.15" stroke-linejoin="round"/>
<polyline points="35.5,595.85 52.91,592.38 70.32,600.65 87.73,596.76 105.14,588.07 122.55,548.49 139.96,590.34 157.37,590.95 174.78,589.22" fill="none" stroke="#8a8a8a" stroke-width="1.15" stroke-linejoin="round"/>
<polyline points="35.5,598.99 52.91,597.94 70.32,600.65 87.73,597.44 105.14,588.81 122.55,547.16 139.96,590.83 157.37,590.4 174.78,589.43" fill="none" stroke="#8a8a8a" stroke-width="1.15" stroke-linejoin="round"/>
<polyline points="35.5,597.98 52.91,598.07 70.32,599.13 87.73,594.35 105.14,593.3 122.55,548.51 139.96,587.35 157.37,589.38 174.78,592.72" fill="none" stroke="#8a8a8a" stroke-width="1.15" stroke-linejoin="round"/>
<polyline points="35.5,579.22 52.91,576.47 70.32,569.71 87.73,581.19 105.14,578.63 122.55,539.66 139.96,576.81 157.37,576.89 174.78,576.21" fill="none" stroke="#8a8a8a" stroke-width="1.15" stroke-linejoin="round"/>
<polyline points="35.5,581.4 52.91,575.81 70.32,569.71 87.73,580.94 105.14,578.17 122.55,541.68 139.96,576.86 157.37,577.25 174.78,577.86" fill="none" stroke="#8a8a8a" stroke-width="1.15" stroke-linejoin="round"/>
<polyline points="35.5,578.74 52.91,572.77 70.32,573.64 87.73,581.98 105.14,579.2 122.55,541.68 139.96,575.28 157.37,579.31 174.78,578.39" fill="none" stroke="#8a8a8a" stroke-width="1.15" stroke-linejoin="round"/>
<polyline points="35.5,598.63 52.91,591.51 70.32,592.15 87.73,600.16 105.14,590.35 122.55,548.18 139.96,589.67 157.37,593.68 174.78,591.91" fill="none" stroke="#8a8a8a" stroke-width="1.15" stroke-linejoin="round"/>
<polyline points="35.5,597.63 52.91,592.7 70.32,594.12 87.73,600.16 105.14,592.09 122.55,547.92 139.96,590.48 157.37,588.84 174.78,592.12" fill="none" stroke="#8a8a8a" stroke-width="1.15" stroke-linejoin="round"/>
<polyline points="35.5,600.28 52.91,594.26 70.32,594.05 87.73,599.62 105.14,590.73 122.55,547.41 139.96,586.58 157.37,592.31 174.78,589.69" fill="none" stroke="#8a8a8a" stroke-width="1.15" stroke-linejoin="round"/>
<polyline points="35.5,575.62 52.91,570.39 70.32,579.51 87.73,575.05 105.14,576.47 122.55,540.52 139.96,574.5 157.37,575.49 174.78,576.34" fill="none" stroke="#8a8a8a" stroke-width="1.15" stroke-linejoin="round"/>
<polyline points="35.5,581.59 52.91,572.6 70.32,580.37 87.73,575.05 105.14,577.65 122.55,541.16 139.96,577.55 157.37,578 174.78,579.95" fill="none" stroke="#8a8a8a" stroke-width="1.15" stroke-linejoin="round"/>
<polyline points="35.5,575.54 52.91,575.65 70.32,579.93 87.73,576.77 105.14,576.74 122.55,540.05 139.96,577.04 157.37,575.23 174.78,579.76" fill="none" stroke="#8a8a8a" stroke-width="1.15" stroke-linejoin="round"/>
<polyline points="35.5,594.34 52.91,593.55 70.32,593.29 87.73,594.23 105.14,593.68 122.55,548.59 139.96,589.91 157.37,589.37 174.78,594.86" fill="none" stroke="#8a8a8a" stroke-width="1.15" stroke-linejoin="round"/>
<polyline points="35.5,597.43 52.91,591.45 70.32,595.14 87.73,595.34 105.14,593.68 122.55,548.32 139.96,586.47 157.37,590.06 174.78,590.38" fill="none" stroke="#8a8a8a" stroke-width="1.15" stroke-linejoin="round"/>
<polyline points="35.5,594.56 52.91,592.78 70.32,595.81 87.73,598.22 105.14,593.62 122.55,546.89 139.96,591.41 157.37,588.72 174.78,592.99" fill="none" stroke="#8a8a8a" stroke-width="1.15" stroke-linejoin="round"/>
<polyline points="35.5,577.27 52.91,573.4 70.32,578.06 87.73,584.22 105.14,573.27 122.55,541.38 139.96,574.15 157.37,576.54 174.78,579.33" fill="none" stroke="#8a8a8a" stroke-width="1.15" stroke-linejoin="round"/>
<polyline points="35.5,576.93 52.91,574.31 70.32,577.2 87.73,584.46 105.14,573.27 122.55,539.54 139.96,578.56 157.37,576.59 174.78,580.89" fill="none" stroke="#8a8a8a" stroke-width="1.15" stroke-linejoin="round"/>
<polyline points="35.5,576.24 52.91,571.99 70.32,579.75 87.73,581.22 105.14,574.55 122.55,541.73 139.96,577.38 157.37,574.36 174.78,577.09" fill="none" stroke="#8a8a8a" stroke-width="1.15" stroke-linejoin="round"/>
<polyline points="35.5,595.83 52.91,595.26 70.32,591.33 87.73,595.74 105.14,588.56 122.55,549.46 139.96,590.52 157.37,592.66 174.78,591.44" fill="none" stroke="#8a8a8a" stroke-width="1.15" stroke-linejoin="round"/>
<polyline points="35.5,596.83 52.91,590.26 70.32,596.51 87.73,596.21 105.14,588.51 122.55,549.46 139.96,591.26 157.37,588.73 174.78,594.16" fill="none" stroke="#8a8a8a" stroke-width="1.15" stroke-linejoin="round"/>
<polyline points="35.5,599.55 52.91,598.19 70.32,592 87.73,597.29 105.14,590.37 122.55,549.19 139.96,591.17 157.37,588.97 174.78,589.54" fill="none" stroke="#8a8a8a" stroke-width="1.15" stroke-linejoin="round"/>
<polyline points="35.5,576.61 52.91,572.25 70.32,578.03 87.73,579.96 105.14,575.62 122.55,538.28 139.96,578.82 157.37,579.44 174.78,576.62" fill="none" stroke="#8a8a8a" stroke-width="1.15" stroke-linejoin="round"/>
<polyline points="35.5,577.32 52.91,569.55 70.32,579.68 87.73,579.18 105.14,578.97 122.55,538.28 139.96,577.76 157.37,577.56 174.78,578.78" fill="none" stroke="#8a8a8a" stroke-width="1.15" stroke-linejoin="round"/>
<polyline points="35.5,576.22 52.91,577.09 70.32,580.52 87.73,583.69 105.14,579.62 122.55,538.53 139.96,579.07 157.37,577.58 174.78,578.29" fill="none" stroke="#8a8a8a" stroke-width="1.15" stroke-linejoin="round"/>
<polyline points="35.5,600.52 52.91,589.85 70.32,595.02 87.73,592.44 105.14,588.13 122.55,546.88 139.96,592.06 157.37,588.79 174.78,590.31" fill="none" stroke="#8a8a8a" stroke-width="1.15" stroke-linejoin="round"/>
<polyline points="35.5,597.97 52.91,592.94 70.32,594.59 87.73,593.07 105.14,588.23 122.55,548.23 139.96,592.06 157.37,593.29 174.78,589.86" fill="none" stroke="#8a8a8a" stroke-width="1.15" stroke-linejoin="round"/>
<polyline points="35.5,596.31 52.91,590.51 70.32,595.48 87.73,593.05 105.14,591.25 122.55,546.77 139.96,591.87 157.37,593.59 174.78,591.91" fill="none" stroke="#8a8a8a" stroke-width="1.15" stroke-linejoin="round"/>
<polyline points="35.5,575.98 52.91,577.62 70.32,580.4 87.73,580.99 105.14,579.58 122.55,541.27 139.96,566.95 157.37,575.05 174.78,576" fill="none" stroke="#8a8a8a" stroke-width="1.15" stroke-linejoin="round"/>
<polyline points="35.5,578.6 52.91,574.92 70.32,580.41 87.73,583.74 105.14,580.74 122.55,541.73 139.96,566.95 157.37,576.05 174.78,576.67" fill="none" stroke="#8a8a8a" stroke-width="1.15" stroke-linejoin="round"/>
<polyline points="35.5,576.7 52.91,575.06 70.32,581.2 87.73,582.38 105.14,578.67 122.55,541 139.96,569.02 157.37,576.29 174.78,580.85" fill="none" stroke="#8a8a8a" stroke-width="1.15" stroke-linejoin="round"/>
<polyline points="35.5,598.74 52.91,593.38 70.32,591.11 87.73,592.9 105.14,589.12 122.55,546.74 139.96,586.56 157.37,594.98 174.78,594.37" fill="none" stroke="#8a8a8a" stroke-width="1.15" stroke-linejoin="round"/>
<polyline points="35.5,599.82 52.91,590.89 70.32,595.01 87.73,594.11 105.14,593.03 122.55,547.06 139.96,590.93 157.37,594.98 174.78,594.61" fill="none" stroke="#8a8a8a" stroke-width="1.15" stroke-linejoin="round"/>
<polyline points="35.5,597.98 52.91,596.73 70.32,592.63 87.73,592.84 105.14,589.69 122.55,547.42 139.96,590.87 157.37,594.54 174.78,593.38" fill="none" stroke="#8a8a8a" stroke-width="1.15" stroke-linejoin="round"/>
<polyline points="35.5,579.81 52.91,569.71 70.32,579.42 87.73,582.8 105.14,580.87 122.55,540.81 139.96,577.5 157.37,566.95 174.78,576.96" fill="none" stroke="#8a8a8a" stroke-width="1.15" stroke-linejoin="round"/>
<polyline points="35.5,576.79 52.91,574.33 70.32,579.64 87.73,581.08 105.14,580.21 122.55,539.65 139.96,574.2 157.37,566.95 174.78,576.99" fill="none" stroke="#8a8a8a" stroke-width="1.15" stroke-linejoin="round"/>
<polyline points="35.5,582.44 52.91,573.87 70.32,579.49 87.73,581.19 105.14,579.64 122.55,540.35 139.96,578.02 157.37,571.07 174.78,581.16" fill="none" stroke="#8a8a8a" stroke-width="1.15" stroke-linejoin="round"/>
<polyline points="35.5,599.11 52.91,594.93 70.32,593.58 87.73,596.4 105.14,591.89 122.55,548.11 139.96,588.68 157.37,588.39 174.78,604.86" fill="none" stroke="#8a8a8a" stroke-width="1.15" stroke-linejoin="round"/>
<polyline points="35.5,596.6 52.91,593.07 70.32,594.38 87.73,595.71 105.14,588.51 122.55,547.6 139.96,588.94 157.37,590.16 174.78,604.86" fill="none" stroke="#8a8a8a" stroke-width="1.15" stroke-linejoin="round"/>
<polyline points="35.5,600.71 52.91,592.44 70.32,594.28 87.73,593.1 105.14,591.73 122.55,548.81 139.96,591.01 157.37,589.21 174.78,599.57" fill="none" stroke="#8a8a8a" stroke-width="1.15" stroke-linejoin="round"/>
<polyline points="35.5,580.37 52.91,574.31 70.32,578.06 87.73,583.58 105.14,579.04 122.55,540.74 139.96,575.97 157.37,578.15 174.78,575.05" fill="none" stroke="#8a8a8a" stroke-width="1.15" stroke-linejoin="round"/>
<polyline points="35.5,576.62 52.91,576.26 70.32,582.7 87.73,583.22 105.14,577.26 122.55,540.44 139.96,577.67 157.37,579.79 174.78,575.05" fill="none" stroke="#8a8a8a" stroke-width="1.15" stroke-linejoin="round"/>
<polyline points="35.5,579.19 52.91,575.33 70.32,581.5 87.73,579.62 105.14,578.02 122.55,539.25 139.96,574.42 157.37,576.74 174.78,575.16" fill="none" stroke="#8a8a8a" stroke-width="1.15" stroke-linejoin="round"/>
<rect x="34.4" y="601.33" width="2.2" height="2.2" fill="#808080"/>
<rect x="34.4" y="601.33" width="2.2" height="2.2" fill="#808080"/>
<rect x="34.4" y="600.98" width="2.2" height="2.2" fill="#808080"/>
<rect x="34.4" y="572.17" width="2.2" height="2.2" fill="#808080"/>
<rect x="34.4" y="572.17" width="2.2" height="2.2" fill="#808080"/>
<rect x="34.4" y="573.45" width="2.2" height="2.2" fill="#808080"/>
<rect x="51.81" y="598.42" width="2.2" height="2.2" fill="#808080"/>
<rect x="51.81" y="598.42" width="2.2" height="2.2" fill="#808080"/>
<rect x="51.81" y="597.91" width="2.2" height="2.2" fill="#808080"/>
<rect x="51.81" y="562.45" width="2.2" height="2.2" fill="#808080"/>
<rect x="51.81" y="562.45" width="2.2" height="2.2" fill="#808080"/>
<rect x="51.81" y="564.58" width="2.2" height="2.2" fill="#808080"/>
<rect x="69.22" y="599.55" width="2.2" height="2.2" fill="#808080"/>
<rect x="69.22" y="599.55" width="2.2" height="2.2" fill="#808080"/>
<rect x="69.22" y="598.03" width="2.2" height="2.2" fill="#808080"/>
<rect x="69.22" y="568.61" width="2.2" height="2.2" fill="#808080"/>
<rect x="69.22" y="568.61" width="2.2" height="2.2" fill="#808080"/>
<rect x="69.22" y="572.54" width="2.2" height="2.2" fill="#808080"/>
<rect x="86.63" y="599.06" width="2.2" height="2.2" fill="#808080"/>
<rect x="86.63" y="599.06" width="2.2" height="2.2" fill="#808080"/>
<rect x="86.63" y="598.52" width="2.2" height="2.2" fill="#808080"/>
<rect x="86.63" y="573.95" width="2.2" height="2.2" fill="#808080"/>
<rect x="86.63" y="573.95" width="2.2" height="2.2" fill="#808080"/>
<rect x="86.63" y="575.67" width="2.2" height="2.2" fill="#808080"/>
<rect x="104.04" y="592.58" width="2.2" height="2.2" fill="#808080"/>
<rect x="104.04" y="592.58" width="2.2" height="2.2" fill="#808080"/>
<rect x="104.04" y="592.52" width="2.2" height="2.2" fill="#808080"/>
<rect x="104.04" y="572.17" width="2.2" height="2.2" fill="#808080"/>
<rect x="104.04" y="572.17" width="2.2" height="2.2" fill="#808080"/>
<rect x="104.04" y="573.45" width="2.2" height="2.2" fill="#808080"/>
<rect x="121.45" y="548.36" width="2.2" height="2.2" fill="#808080"/>
<rect x="121.45" y="548.36" width="2.2" height="2.2" fill="#808080"/>
<rect x="121.45" y="548.09" width="2.2" height="2.2" fill="#808080"/>
<rect x="121.45" y="537.18" width="2.2" height="2.2" fill="#808080"/>
<rect x="121.45" y="537.18" width="2.2" height="2.2" fill="#808080"/>
<rect x="121.45" y="537.43" width="2.2" height="2.2" fill="#808080"/>
<rect x="138.86" y="590.96" width="2.2" height="2.2" fill="#808080"/>
<rect x="138.86" y="590.96" width="2.2" height="2.2" fill="#808080"/>
<rect x="138.86" y="590.77" width="2.2" height="2.2" fill="#808080"/>
<rect x="138.86" y="565.85" width="2.2" height="2.2" fill="#808080"/>
<rect x="138.86" y="565.85" width="2.2" height="2.2" fill="#808080"/>
<rect x="138.86" y="567.92" width="2.2" height="2.2" fill="#808080"/>
<rect x="156.27" y="593.88" width="2.2" height="2.2" fill="#808080"/>
<rect x="156.27" y="593.88" width="2.2" height="2.2" fill="#808080"/>
<rect x="156.27" y="593.44" width="2.2" height="2.2" fill="#808080"/>
<rect x="156.27" y="565.85" width="2.2" height="2.2" fill="#808080"/>
<rect x="156.27" y="565.85" width="2.2" height="2.2" fill="#808080"/>
<rect x="156.27" y="569.97" width="2.2" height="2.2" fill="#808080"/>
<rect x="173.68" y="603.76" width="2.2" height="2.2" fill="#808080"/>
<rect x="173.68" y="603.76" width="2.2" height="2.2" fill="#808080"/>
<rect x="173.68" y="598.47" width="2.2" height="2.2" fill="#808080"/>
<rect x="173.68" y="573.95" width="2.2" height="2.2" fill="#808080"/>
<rect x="173.68" y="573.95" width="2.2" height="2.2" fill="#808080"/>
<rect x="173.68" y="574.06" width="2.2" height="2.2" fill="#808080"/>
<polyline points="35.5,587.37 52.91,575.54 70.32,589.63 87.73,589.15 105.14,587.37 122.55,539.9 139.96,590.12 157.37,587.37 174.78,588.5" fill="none" stroke="#2b3f8c" stroke-width="2.2" stroke-linejoin="round"/>
<polyline points="35.5,579.1 52.91,588.5 70.32,585.58 87.73,592.55 105.14,589.15 122.55,539.41 139.96,584.94 157.37,582.67 174.78,592.55" fill="none" stroke="#000" stroke-width="2.3" stroke-linejoin="round"/>
<rect x="34.2" y="577.8" width="2.6" height="2.6" fill="#000"/>
<rect x="51.61" y="587.2" width="2.6" height="2.6" fill="#000"/>
<rect x="69.02" y="584.28" width="2.6" height="2.6" fill="#000"/>
<rect x="86.43" y="591.25" width="2.6" height="2.6" fill="#000"/>
<rect x="103.84" y="587.85" width="2.6" height="2.6" fill="#000"/>
<rect x="121.25" y="538.11" width="2.6" height="2.6" fill="#000"/>
<rect x="138.66" y="583.64" width="2.6" height="2.6" fill="#000"/>
<rect x="156.07" y="581.37" width="2.6" height="2.6" fill="#000"/>
<rect x="173.48" y="591.25" width="2.6" height="2.6" fill="#000"/>
<polyline points="35.5,593.68 52.91,582.99 70.32,583.8 87.73,588.5 105.14,585.58 122.55,538.28 139.96,584.45 157.37,584.45 174.78,591.42" fill="none" stroke="#c21f2d" stroke-width="2.2" stroke-linejoin="round"/>
<text x="0" y="643.8" font-size="14" text-anchor="start" fill="#000" font-weight="bold">u</text>
<text x="35.4" y="650.5" font-size="7.7" text-anchor="middle" fill="#000">DC</text>
<text x="52.82" y="650.5" font-size="7.7" text-anchor="middle" fill="#000">M&#934;</text>
<text x="70.24" y="650.5" font-size="7.7" text-anchor="middle" fill="#000">MC</text>
<text x="87.66" y="650.5" font-size="7.7" text-anchor="middle" fill="#000">ET</text>
<text x="105.08" y="650.5" font-size="7.7" text-anchor="middle" fill="#000">DT</text>
<text x="122.5" y="650.5" font-size="7.7" text-anchor="middle" fill="#000">EC</text>
<text x="139.92" y="650.5" font-size="7.7" text-anchor="middle" fill="#000">Mel</text>
<text x="157.34" y="650.5" font-size="7.7" text-anchor="middle" fill="#000">Fib</text>
<text x="174.76" y="650.5" font-size="7.7" text-anchor="middle" fill="#000">KC</text>
<line x1="35.4" y1="668.6" x2="35.4" y2="733.9" stroke="#d9d9d9" stroke-width="0.8"/>
<line x1="52.82" y1="668.6" x2="52.82" y2="733.9" stroke="#d9d9d9" stroke-width="0.8"/>
<line x1="70.24" y1="668.6" x2="70.24" y2="733.9" stroke="#d9d9d9" stroke-width="0.8"/>
<line x1="87.66" y1="668.6" x2="87.66" y2="733.9" stroke="#d9d9d9" stroke-width="0.8"/>
<line x1="105.08" y1="668.6" x2="105.08" y2="733.9" stroke="#d9d9d9" stroke-width="0.8"/>
<line x1="122.5" y1="668.6" x2="122.5" y2="733.9" stroke="#d9d9d9" stroke-width="0.8"/>
<line x1="139.92" y1="668.6" x2="139.92" y2="733.9" stroke="#d9d9d9" stroke-width="0.8"/>
<line x1="157.34" y1="668.6" x2="157.34" y2="733.9" stroke="#d9d9d9" stroke-width="0.8"/>
<line x1="174.76" y1="668.6" x2="174.76" y2="733.9" stroke="#d9d9d9" stroke-width="0.8"/>
<line x1="27.3" y1="658.3" x2="27.3" y2="733.6" stroke="#555" stroke-width="1.4"/>
<line x1="25.8" y1="669.8" x2="27.3" y2="669.8" stroke="#333" stroke-width="0.8"/>
<text x="21.3" y="672.4" font-size="7.3" text-anchor="end" fill="#000">2</text>
<line x1="25.8" y1="686" x2="27.3" y2="686" stroke="#333" stroke-width="0.8"/>
<text x="21.3" y="688.6" font-size="7.3" text-anchor="end" fill="#000">1</text>
<line x1="25.8" y1="702.2" x2="27.3" y2="702.2" stroke="#333" stroke-width="0.8"/>
<text x="21.3" y="704.8" font-size="7.3" text-anchor="end" fill="#000">0</text>
<line x1="25.8" y1="718.4" x2="27.3" y2="718.4" stroke="#333" stroke-width="0.8"/>
<text x="21.3" y="721" font-size="7.3" text-anchor="end" fill="#000">&#8722;1</text>
<text x="7.1" y="695.56" font-size="7.6" text-anchor="middle" fill="#111" textLength="27.4" lengthAdjust="spacingAndGlyphs" transform="rotate(-90 7.1 695.56)">Z-scorel</text>
<polygon points="35.4,703.04 52.82,704.66 70.24,704.03 87.66,705.47 105.08,704.03 122.5,702.41 139.92,673.56 157.34,704.21 174.76,700.52 174.76,716.84 157.34,719.63 139.92,681.91 122.5,717.38 105.08,719 87.66,719.99 70.24,719 52.82,719.18 35.4,717.56" fill="#8a8a8a" stroke="#8a8a8a" stroke-width="0.8" stroke-linejoin="round"/>
<polyline points="35.4,717.74 52.82,718.27 70.24,721.5 87.66,723.83 105.08,721.3 122.5,721.37 139.92,684.05 157.34,722.45 174.76,718.18" fill="none" stroke="#8a8a8a" stroke-width="1.15" stroke-linejoin="round"/>
<polyline points="35.4,704.18 52.82,705.16 70.24,703.85 87.66,704.34 105.08,703.19 122.5,702.2 139.92,673.12 157.34,703.13 174.76,700.65" fill="none" stroke="#8a8a8a" stroke-width="1.15" stroke-linejoin="round"/>
<polyline points="35.4,720.07 52.82,720.41 70.24,719.36 87.66,721.6 105.08,717.54 122.5,716.34 139.92,684.6 157.34,723.75 174.76,722.98" fill="none" stroke="#8a8a8a" stroke-width="1.15" stroke-linejoin="round"/>
<polyline points="35.4,700.26 52.82,703.6 70.24,703.83 87.66,702.66 105.08,704.67 122.5,701.88 139.92,672.21 157.34,704.3 174.76,699.65" fill="none" stroke="#8a8a8a" stroke-width="1.15" stroke-linejoin="round"/>
<polyline points="35.4,717.43 52.82,721.68 70.24,722.66 87.66,719.14 105.08,721.93 122.5,717.66 139.92,684.64 157.34,720.12 174.76,722.3" fill="none" stroke="#8a8a8a" stroke-width="1.15" stroke-linejoin="round"/>
<polyline points="35.4,700.98 52.82,700.55 70.24,699.56 87.66,702.98 105.08,703.93 122.5,701.54 139.92,670.89 157.34,703.53 174.76,694.04" fill="none" stroke="#8a8a8a" stroke-width="1.15" stroke-linejoin="round"/>
<polyline points="35.4,716.58 52.82,719.25 70.24,722.33 87.66,723.58 105.08,721.21 122.5,721.79 139.92,684.99 157.34,719.1 174.76,717.73" fill="none" stroke="#8a8a8a" stroke-width="1.15" stroke-linejoin="round"/>
<polyline points="35.4,702.02 52.82,700.65 70.24,703.63 87.66,705.57 105.08,701.91 122.5,701.53 139.92,673.8 157.34,702.72 174.76,700.05" fill="none" stroke="#8a8a8a" stroke-width="1.15" stroke-linejoin="round"/>
<polyline points="35.4,723.62 52.82,718.49 70.24,720.76 87.66,721.61 105.08,719.67 122.5,722.71 139.92,680.99 157.34,721.38 174.76,718.13" fill="none" stroke="#8a8a8a" stroke-width="1.15" stroke-linejoin="round"/>
<polyline points="35.4,699.96 52.82,704.15 70.24,702.89 87.66,700.76 105.08,704.4 122.5,701.52 139.92,671.46 157.34,700.77 174.76,695.18" fill="none" stroke="#8a8a8a" stroke-width="1.15" stroke-linejoin="round"/>
<polyline points="35.4,718.05 52.82,719.05 70.24,723.33 87.66,721.89 105.08,723.03 122.5,716.75 139.92,683.29 157.34,723.36 174.76,718.28" fill="none" stroke="#8a8a8a" stroke-width="1.15" stroke-linejoin="round"/>
<polyline points="35.4,697.29 52.82,704.22 70.24,701.98 87.66,702.15 105.08,700.87 122.5,699.12 139.92,669.96 157.34,698.44 174.76,698.55" fill="none" stroke="#8a8a8a" stroke-width="1.15" stroke-linejoin="round"/>
<polyline points="35.4,716.98 52.82,723.62 70.24,722.97 87.66,717.94 105.08,722.23 122.5,718.28 139.92,685.01 157.34,723.28 174.76,723.88" fill="none" stroke="#8a8a8a" stroke-width="1.15" stroke-linejoin="round"/>
<polyline points="35.4,702.02 52.82,699.4 70.24,699.17 87.66,705.61 105.08,702.45 122.5,699.21 139.92,672.64 157.34,700.18 174.76,698.4" fill="none" stroke="#8a8a8a" stroke-width="1.15" stroke-linejoin="round"/>
<polyline points="35.4,718.75 52.82,719.87 70.24,719.46 87.66,721.68 105.08,721.2 122.5,720.97 139.92,682.26 157.34,723.44 174.76,715.62" fill="none" stroke="#8a8a8a" stroke-width="1.15" stroke-linejoin="round"/>
<polyline points="35.4,699.31 52.82,702.16 70.24,703.67 87.66,705.36 105.08,700.2 122.5,697.42 139.92,673.13 157.34,700.66 174.76,696.71" fill="none" stroke="#8a8a8a" stroke-width="1.15" stroke-linejoin="round"/>
<polyline points="35.4,717.58 52.82,719.31 70.24,722.15 87.66,724.26 105.08,717.97 122.5,716.39 139.92,682.1 157.34,723.93 174.76,719.7" fill="none" stroke="#8a8a8a" stroke-width="1.15" stroke-linejoin="round"/>
<polyline points="35.4,703.65 52.82,700.8 70.24,699.27 87.66,705 105.08,700.59 122.5,696.99 139.92,672.53 157.34,702.01 174.76,698.24" fill="none" stroke="#8a8a8a" stroke-width="1.15" stroke-linejoin="round"/>
<polyline points="35.4,717.59 52.82,719.95 70.24,721.01 87.66,719.87 105.08,725.01 122.5,716.34 139.92,681.64 157.34,720.03 174.76,718.28" fill="none" stroke="#8a8a8a" stroke-width="1.15" stroke-linejoin="round"/>
<polyline points="35.4,699.58 52.82,702.78 70.24,705.96 87.66,706.82 105.08,700.64 122.5,704.03 139.92,671.48 157.34,704.49 174.76,695.78" fill="none" stroke="#8a8a8a" stroke-width="1.15" stroke-linejoin="round"/>
<polyline points="35.4,721.79 52.82,725.4 70.24,721.31 87.66,720.07 105.08,723.08 122.5,722.05 139.92,683.63 157.34,718.91 174.76,718.28" fill="none" stroke="#8a8a8a" stroke-width="1.15" stroke-linejoin="round"/>
<polyline points="35.4,702.41 52.82,704.18 70.24,703.88 87.66,705.07 105.08,703.09 122.5,701.63 139.92,671.02 157.34,702.54 174.76,701.73" fill="none" stroke="#8a8a8a" stroke-width="1.15" stroke-linejoin="round"/>
<polyline points="35.4,720 52.82,719.34 70.24,722.79 87.66,720.97 105.08,722.43 122.5,719.94 139.92,682.75 157.34,721.17 174.76,721.09" fill="none" stroke="#8a8a8a" stroke-width="1.15" stroke-linejoin="round"/>
<polyline points="35.4,703.32 52.82,701.31 70.24,702.03 87.66,703.15 105.08,705.98 122.5,699.78 139.92,671.48 157.34,699.74 174.76,696.83" fill="none" stroke="#8a8a8a" stroke-width="1.15" stroke-linejoin="round"/>
<polyline points="35.4,717.86 52.82,717.99 70.24,720.37 87.66,723.35 105.08,724.28 122.5,718.44 139.92,684.38 157.34,722.39 174.76,721.08" fill="none" stroke="#8a8a8a" stroke-width="1.15" stroke-linejoin="round"/>
<polyline points="35.4,702.44 52.82,703.52 70.24,697.9 87.66,705.45 105.08,703.06 122.5,702.97 139.92,673.3 157.34,705.1 174.76,702.15" fill="none" stroke="#8a8a8a" stroke-width="1.15" stroke-linejoin="round"/>
<polyline points="35.4,719.54 52.82,721 70.24,721.89 87.66,720.82 105.08,723.46 122.5,718.18 139.92,681.59 157.34,722.79 174.76,723.37" fill="none" stroke="#8a8a8a" stroke-width="1.15" stroke-linejoin="round"/>
<polyline points="35.4,703.63 52.82,704.78 70.24,700.44 87.66,700.67 105.08,700.16 122.5,699.78 139.92,670.48 157.34,700.24 174.76,699.76" fill="none" stroke="#8a8a8a" stroke-width="1.15" stroke-linejoin="round"/>
<polyline points="35.4,719.32 52.82,720.56 70.24,718.87 87.66,725.42 105.08,722.02 122.5,720.44 139.92,682.99 157.34,720.75 174.76,719" fill="none" stroke="#8a8a8a" stroke-width="1.15" stroke-linejoin="round"/>
<polyline points="35.4,698.39 52.82,700.34 70.24,705.66 87.66,705.27 105.08,705.15 122.5,700.41 139.92,673.95 157.34,700.4 174.76,699.99" fill="none" stroke="#8a8a8a" stroke-width="1.15" stroke-linejoin="round"/>
<polyline points="35.4,718.39 52.82,721.88 70.24,718.85 87.66,725.06 105.08,721.99 122.5,720.44 139.92,681.43 157.34,722.84 174.76,720.42" fill="none" stroke="#8a8a8a" stroke-width="1.15" stroke-linejoin="round"/>
<polyline points="35.4,697.61 52.82,703.84 70.24,697.72 87.66,702.38 105.08,699.12 122.5,703.98 139.92,673.69 157.34,702.63 174.76,699.48" fill="none" stroke="#8a8a8a" stroke-width="1.15" stroke-linejoin="round"/>
<polyline points="35.4,723.26 52.82,723.26 70.24,720.86 87.66,724.49 105.08,719.42 122.5,722.23 139.92,683.29 157.34,720.2 174.76,719.65" fill="none" stroke="#8a8a8a" stroke-width="1.15" stroke-linejoin="round"/>
<polyline points="35.4,702.35 52.82,701.46 70.24,702.23 87.66,703.16 105.08,703.71 122.5,702.99 139.92,672.78 157.34,704.91 174.76,697.25" fill="none" stroke="#8a8a8a" stroke-width="1.15" stroke-linejoin="round"/>
<polyline points="35.4,720.38 52.82,721.02 70.24,720.23 87.66,726.6 105.08,722.03 122.5,720.29 139.92,682.13 157.34,717.9 174.76,716.42" fill="none" stroke="#8a8a8a" stroke-width="1.15" stroke-linejoin="round"/>
<polyline points="35.4,700.87 52.82,704.72 70.24,699.54 87.66,707.47 105.08,701.75 122.5,699.76 139.92,673.11 157.34,700.61 174.76,698.57" fill="none" stroke="#8a8a8a" stroke-width="1.15" stroke-linejoin="round"/>
<polyline points="35.4,716.62 52.82,720.1 70.24,722.28 87.66,721.63 105.08,722.33 122.5,720.91 139.92,685.3 157.34,722.05 174.76,719.54" fill="none" stroke="#8a8a8a" stroke-width="1.15" stroke-linejoin="round"/>
<polyline points="35.4,699.16 52.82,703.46 70.24,704.18 87.66,703.96 105.08,702.95 122.5,698.77 139.92,670.01 157.34,699.71 174.76,701.53" fill="none" stroke="#8a8a8a" stroke-width="1.15" stroke-linejoin="round"/>
<polyline points="35.4,719.71 52.82,724.41 70.24,720.96 87.66,719.8 105.08,721.01 122.5,722.36 139.92,682.31 157.34,722.35 174.76,723.7" fill="none" stroke="#8a8a8a" stroke-width="1.15" stroke-linejoin="round"/>
<polyline points="35.4,700.55 52.82,704.07 70.24,700.8 87.66,699.83 105.08,701.23 122.5,698.37 139.92,671.43 157.34,704.58 174.76,697.67" fill="none" stroke="#8a8a8a" stroke-width="1.15" stroke-linejoin="round"/>
<polyline points="35.4,718.78 52.82,722.03 70.24,719.04 87.66,722.19 105.08,722.53 122.5,717.89 139.92,684.48 157.34,723.92 174.76,721.28" fill="none" stroke="#8a8a8a" stroke-width="1.15" stroke-linejoin="round"/>
<polyline points="35.4,700.52 52.82,706.1 70.24,704.44 87.66,704.91 105.08,701.31 122.5,701.55 139.92,672.77 157.34,704.52 174.76,698.89" fill="none" stroke="#8a8a8a" stroke-width="1.15" stroke-linejoin="round"/>
<polyline points="35.4,718.88 52.82,721.2 70.24,717.42 87.66,724.31 105.08,721.55 122.5,717.06 139.92,684.81 157.34,723.7 174.76,718.97" fill="none" stroke="#8a8a8a" stroke-width="1.15" stroke-linejoin="round"/>
<polyline points="35.4,703.16 52.82,702.13 70.24,700.62 87.66,701.55 105.08,702.81 122.5,699.09 139.92,673.59 157.34,698.06 174.76,694.39" fill="none" stroke="#8a8a8a" stroke-width="1.15" stroke-linejoin="round"/>
<polyline points="35.4,720.34 52.82,724.32 70.24,723.55 87.66,725.38 105.08,721.41 122.5,718.23 139.92,682.84 157.34,724.76 174.76,717.09" fill="none" stroke="#8a8a8a" stroke-width="1.15" stroke-linejoin="round"/>
<polyline points="35.4,701.47 52.82,702.64 70.24,702.24 87.66,701.8 105.08,701.17 122.5,702.8 139.92,671.87 157.34,698.74 174.76,700.35" fill="none" stroke="#8a8a8a" stroke-width="1.15" stroke-linejoin="round"/>
<polyline points="35.4,719.42 52.82,721.52 70.24,721.67 87.66,723.93 105.08,725.31 122.5,721.31 139.92,682.6 157.34,722.08 174.76,720.72" fill="none" stroke="#8a8a8a" stroke-width="1.15" stroke-linejoin="round"/>
<polyline points="35.4,700.9 52.82,701.13 70.24,701.44 87.66,705.25 105.08,702.52 122.5,696.77 139.92,673.52 157.34,701.69 174.76,696.74" fill="none" stroke="#8a8a8a" stroke-width="1.15" stroke-linejoin="round"/>
<polyline points="35.4,721.78 52.82,719.16 70.24,718.84 87.66,722.69 105.08,719.83 122.5,717.64 139.92,681.17 157.34,724.38 174.76,722.72" fill="none" stroke="#8a8a8a" stroke-width="1.15" stroke-linejoin="round"/>
<polyline points="35.4,704.11 52.82,699.11 70.24,704.47 87.66,700.68 105.08,704.41 122.5,701.07 139.92,672.66 157.34,699.87 174.76,698.66" fill="none" stroke="#8a8a8a" stroke-width="1.15" stroke-linejoin="round"/>
<polyline points="35.4,718.92 52.82,719.39 70.24,718.89 87.66,720.78 105.08,724.29 122.5,719.81 139.92,683.71 157.34,719.97 174.76,716.56" fill="none" stroke="#8a8a8a" stroke-width="1.15" stroke-linejoin="round"/>
<polyline points="35.4,701.42 52.82,700.7 70.24,697.57 87.66,705.98 105.08,700.53 122.5,701.58 139.92,671.95 157.34,699.25 174.76,696.34" fill="none" stroke="#8a8a8a" stroke-width="1.15" stroke-linejoin="round"/>
<polyline points="35.4,719.24 52.82,719.06 70.24,723.54 87.66,720.52 105.08,720.47 122.5,715.45 139.92,683.48 157.34,726.38 174.76,722.72" fill="none" stroke="#8a8a8a" stroke-width="1.15" stroke-linejoin="round"/>
<polyline points="35.4,701.42 52.82,704.53 70.24,702.25 87.66,705.36 105.08,705.49 122.5,696.87 139.92,672.48 157.34,698.49 174.76,698.57" fill="none" stroke="#8a8a8a" stroke-width="1.15" stroke-linejoin="round"/>
<polyline points="35.4,720.28 52.82,720.23 70.24,720.71 87.66,721.37 105.08,720.99 122.5,720.81 139.92,683.59 157.34,721.16 174.76,721.72" fill="none" stroke="#8a8a8a" stroke-width="1.15" stroke-linejoin="round"/>
<polyline points="35.4,702.34 52.82,700.19 70.24,704.65 87.66,704.59 105.08,700.8 122.5,699.93 139.92,671.53 157.34,702.05 174.76,701.51" fill="none" stroke="#8a8a8a" stroke-width="1.15" stroke-linejoin="round"/>
<polyline points="35.4,721.16 52.82,719.03 70.24,724.73 87.66,724.77 105.08,718.53 122.5,720.51 139.92,684.32 157.34,724.59 174.76,717.42" fill="none" stroke="#8a8a8a" stroke-width="1.15" stroke-linejoin="round"/>
<polyline points="35.4,701.23 52.82,702.23 70.24,705.18 87.66,704.99 105.08,704.96 122.5,697.86 139.92,673.22 157.34,701.64 174.76,700.64" fill="none" stroke="#8a8a8a" stroke-width="1.15" stroke-linejoin="round"/>
<polyline points="35.4,720.98 52.82,720.61 70.24,720.72 87.66,722.17 105.08,722.11 122.5,719.57 139.92,684.33 157.34,723.74 174.76,720.46" fill="none" stroke="#8a8a8a" stroke-width="1.15" stroke-linejoin="round"/>
<polyline points="35.4,702.68 52.82,699.33 70.24,702.37 87.66,700.54 105.08,700.94 122.5,701.14 139.92,672.75 157.34,700.89 174.76,699.22" fill="none" stroke="#8a8a8a" stroke-width="1.15" stroke-linejoin="round"/>
<polyline points="35.4,720 52.82,720.27 70.24,721.01 87.66,724.4 105.08,726.05 122.5,718.87 139.92,683.82 157.34,724.29 174.76,722.92" fill="none" stroke="#8a8a8a" stroke-width="1.15" stroke-linejoin="round"/>
<polyline points="35.4,700.71 52.82,705.43 70.24,698.22 87.66,706.72 105.08,699.75 122.5,698.94 139.92,670.94 157.34,703.55 174.76,697.08" fill="none" stroke="#8a8a8a" stroke-width="1.15" stroke-linejoin="round"/>
<polyline points="35.4,721.26 52.82,720.83 70.24,722.88 87.66,721.88 105.08,719.28 122.5,718.54 139.92,685.09 157.34,718.92 174.76,721.84" fill="none" stroke="#8a8a8a" stroke-width="1.15" stroke-linejoin="round"/>
<polyline points="35.4,702.21 52.82,700.16 70.24,704.44 87.66,702.13 105.08,701.99 122.5,696.5 139.92,673.01 157.34,698.65 174.76,696.51" fill="none" stroke="#8a8a8a" stroke-width="1.15" stroke-linejoin="round"/>
<polyline points="35.4,722.69 52.82,718.45 70.24,721.94 87.66,724.5 105.08,718.97 122.5,717.01 139.92,683.06 157.34,723.47 174.76,722.99" fill="none" stroke="#8a8a8a" stroke-width="1.15" stroke-linejoin="round"/>
<polyline points="35.4,700.74 52.82,702.64 70.24,701.81 87.66,701.42 105.08,702.48 122.5,699.37 139.92,672.4 157.34,700.49 174.76,694.06" fill="none" stroke="#8a8a8a" stroke-width="1.15" stroke-linejoin="round"/>
<polyline points="35.4,720.36 52.82,720.72 70.24,724.48 87.66,720.95 105.08,721.18 122.5,716.33 139.92,683.87 157.34,722.65 174.76,720.66" fill="none" stroke="#8a8a8a" stroke-width="1.15" stroke-linejoin="round"/>
<polyline points="35.4,702.35 52.82,701.44 70.24,700.54 87.66,705.62 105.08,704.22 122.5,696.68 139.92,673.57 157.34,703.37 174.76,695.89" fill="none" stroke="#8a8a8a" stroke-width="1.15" stroke-linejoin="round"/>
<polyline points="35.4,720.05 52.82,721.33 70.24,723.93 87.66,723.6 105.08,718.02 122.5,720 139.92,685.16 157.34,721.01 174.76,719.59" fill="none" stroke="#8a8a8a" stroke-width="1.15" stroke-linejoin="round"/>
<polyline points="35.4,702.4 52.82,700.59 70.24,704.33 87.66,702.97 105.08,702.56 122.5,697.78 139.92,673.08 157.34,701.54 174.76,702.31" fill="none" stroke="#8a8a8a" stroke-width="1.15" stroke-linejoin="round"/>
<polyline points="35.4,726.34 52.82,723.77 70.24,722.67 87.66,721.21 105.08,723.33 122.5,721.48 139.92,681.82 157.34,719.78 174.76,721.92" fill="none" stroke="#8a8a8a" stroke-width="1.15" stroke-linejoin="round"/>
<polyline points="35.4,726.34 52.82,720.18 70.24,723.35 87.66,717.95 105.08,722.83 122.5,715.53 139.92,682.2 157.34,718.23 174.76,715.9" fill="none" stroke="#8a8a8a" stroke-width="1.15" stroke-linejoin="round"/>
<polyline points="35.4,724.74 52.82,721.72 70.24,722.94 87.66,723.54 105.08,721.17 122.5,718.37 139.92,683.51 157.34,720.37 174.76,719.11" fill="none" stroke="#8a8a8a" stroke-width="1.15" stroke-linejoin="round"/>
<polyline points="35.4,690.05 52.82,703.15 70.24,702.44 87.66,704.89 105.08,699.75 122.5,699.39 139.92,674.2 157.34,703.05 174.76,700.99" fill="none" stroke="#8a8a8a" stroke-width="1.15" stroke-linejoin="round"/>
<polyline points="35.4,690.05 52.82,700.79 70.24,705.01 87.66,703.96 105.08,699.47 122.5,697.22 139.92,672.89 157.34,702.36 174.76,700.56" fill="none" stroke="#8a8a8a" stroke-width="1.15" stroke-linejoin="round"/>
<polyline points="35.4,692.81 52.82,703.9 70.24,703.13 87.66,700.75 105.08,702.72 122.5,701.16 139.92,674.31 157.34,703.28 174.76,695.18" fill="none" stroke="#8a8a8a" stroke-width="1.15" stroke-linejoin="round"/>
<polyline points="35.4,720.29 52.82,732.17 70.24,718.03 87.66,721.08 105.08,719.42 122.5,722.91 139.92,684.15 157.34,724.25 174.76,718.41" fill="none" stroke="#8a8a8a" stroke-width="1.15" stroke-linejoin="round"/>
<polyline points="35.4,719.1 52.82,732.17 70.24,721.51 87.66,721.43 105.08,721.47 122.5,719.44 139.92,682.54 157.34,718.81 174.76,719.46" fill="none" stroke="#8a8a8a" stroke-width="1.15" stroke-linejoin="round"/>
<polyline points="35.4,723.1 52.82,730.4 70.24,719.24 87.66,720.62 105.08,724.12 122.5,722.72 139.92,681.66 157.34,724.61 174.76,720.09" fill="none" stroke="#8a8a8a" stroke-width="1.15" stroke-linejoin="round"/>
<polyline points="35.4,698.61 52.82,692.48 70.24,705.7 87.66,706.34 105.08,705.6 122.5,698.9 139.92,671.02 157.34,704.69 174.76,698.22" fill="none" stroke="#8a8a8a" stroke-width="1.15" stroke-linejoin="round"/>
<polyline points="35.4,698.42 52.82,692.48 70.24,705.57 87.66,700.78 105.08,701.64 122.5,700.51 139.92,674 157.34,703.34 174.76,696.71" fill="none" stroke="#8a8a8a" stroke-width="1.15" stroke-linejoin="round"/>
<polyline points="35.4,705.01 52.82,694.81 70.24,705.78 87.66,701.02 105.08,703.77 122.5,698.8 139.92,674.58 157.34,704.31 174.76,696.71" fill="none" stroke="#8a8a8a" stroke-width="1.15" stroke-linejoin="round"/>
<polyline points="35.4,720.61 52.82,724.15 70.24,731.52 87.66,725.38 105.08,722.14 122.5,715.69 139.92,683.85 157.34,724.88 174.76,716.02" fill="none" stroke="#8a8a8a" stroke-width="1.15" stroke-linejoin="round"/>
<polyline points="35.4,722.79 52.82,718.25 70.24,731.52 87.66,720.09 105.08,723.62 122.5,718.92 139.92,681.93 157.34,720.31 174.76,716.06" fill="none" stroke="#8a8a8a" stroke-width="1.15" stroke-linejoin="round"/>
<polyline points="35.4,716.7 52.82,720.42 70.24,729.26 87.66,723 105.08,723.95 122.5,719.32 139.92,684.9 157.34,719.33 174.76,716.76" fill="none" stroke="#8a8a8a" stroke-width="1.15" stroke-linejoin="round"/>
<polyline points="35.4,703.83 52.82,703.71 70.24,688.27 87.66,701.33 105.08,704.22 122.5,698.55 139.92,671.01 157.34,704.3 174.76,694.26" fill="none" stroke="#8a8a8a" stroke-width="1.15" stroke-linejoin="round"/>
<polyline points="35.4,698.57 52.82,706.2 70.24,688.27 87.66,701.05 105.08,700.48 122.5,703.18 139.92,671.77 157.34,706.03 174.76,698.33" fill="none" stroke="#8a8a8a" stroke-width="1.15" stroke-linejoin="round"/>
<polyline points="35.4,703.75 52.82,701.72 70.24,692.44 87.66,702.24 105.08,699.85 122.5,701.74 139.92,672.05 157.34,703.55 174.76,700.02" fill="none" stroke="#8a8a8a" stroke-width="1.15" stroke-linejoin="round"/>
<polyline points="35.4,718.83 52.82,720.85 70.24,723.94 87.66,732.66 105.08,718.82 122.5,717.34 139.92,683.88 157.34,717.79 174.76,719.5" fill="none" stroke="#8a8a8a" stroke-width="1.15" stroke-linejoin="round"/>
<polyline points="35.4,717.83 52.82,721.26 70.24,717.91 87.66,732.66 105.08,720.08 122.5,721.74 139.92,680.77 157.34,724.81 174.76,718.42" fill="none" stroke="#8a8a8a" stroke-width="1.15" stroke-linejoin="round"/>
<polyline points="35.4,716.26 52.82,717.92 70.24,723.78 87.66,729.87 105.08,723.52 122.5,716.85 139.92,685.04 157.34,724.94 174.76,717.26" fill="none" stroke="#8a8a8a" stroke-width="1.15" stroke-linejoin="round"/>
<polyline points="35.4,698.65 52.82,704.99 70.24,699.85 87.66,692.97 105.08,701.75 122.5,703.17 139.92,672.45 157.34,701.01 174.76,702.06" fill="none" stroke="#8a8a8a" stroke-width="1.15" stroke-linejoin="round"/>
<polyline points="35.4,697.42 52.82,704.16 70.24,705.3 87.66,692.97 105.08,705.75 122.5,697.06 139.92,672.58 157.34,700.77 174.76,696.06" fill="none" stroke="#8a8a8a" stroke-width="1.15" stroke-linejoin="round"/>
<polyline points="35.4,699.32 52.82,706.07 70.24,699.37 87.66,694.89 105.08,700.16 122.5,702.51 139.92,671.54 157.34,704.13 174.76,699.92" fill="none" stroke="#8a8a8a" stroke-width="1.15" stroke-linejoin="round"/>
<polyline points="35.4,719.54 52.82,719.27 70.24,723.57 87.66,724.76 105.08,732.17 122.5,718.95 139.92,683.44 157.34,721.03 174.76,718" fill="none" stroke="#8a8a8a" stroke-width="1.15" stroke-linejoin="round"/>
<polyline points="35.4,719.37 52.82,720.58 70.24,718.13 87.66,722.91 105.08,732.17 122.5,717.61 139.92,680.93 157.34,721.42 174.76,720.78" fill="none" stroke="#8a8a8a" stroke-width="1.15" stroke-linejoin="round"/>
<polyline points="35.4,717.99 52.82,719.8 70.24,723.76 87.66,725.05 105.08,729.43 122.5,718.67 139.92,683.1 157.34,724.37 174.76,720.18" fill="none" stroke="#8a8a8a" stroke-width="1.15" stroke-linejoin="round"/>
<polyline points="35.4,697.95 52.82,706.42 70.24,698.57 87.66,703.28 105.08,691.83 122.5,696.71 139.92,674.32 157.34,705.99 174.76,699.62" fill="none" stroke="#8a8a8a" stroke-width="1.15" stroke-linejoin="round"/>
<polyline points="35.4,703.57 52.82,699.49 70.24,701.83 87.66,702.68 105.08,691.83 122.5,701.12 139.92,674.55 157.34,704.36 174.76,696.24" fill="none" stroke="#8a8a8a" stroke-width="1.15" stroke-linejoin="round"/>
<polyline points="35.4,704.98 52.82,704.01 70.24,703.75 87.66,702.47 105.08,694.9 122.5,698.85 139.92,674.58 157.34,703.57 174.76,698.19" fill="none" stroke="#8a8a8a" stroke-width="1.15" stroke-linejoin="round"/>
<polyline points="35.4,715.52 52.82,719.41 70.24,721.83 87.66,723.66 105.08,721.84 122.5,727.96 139.92,684.97 157.34,717.64 174.76,722.84" fill="none" stroke="#8a8a8a" stroke-width="1.15" stroke-linejoin="round"/>
<polyline points="35.4,717 52.82,724.41 70.24,718.37 87.66,720.63 105.08,718 122.5,727.96 139.92,683.55 157.34,722.13 174.76,719.88" fill="none" stroke="#8a8a8a" stroke-width="1.15" stroke-linejoin="round"/>
<polyline points="35.4,716.33 52.82,720.3 70.24,722.81 87.66,720.19 105.08,720.11 122.5,725.92 139.92,685.18 157.34,722.33 174.76,714.76" fill="none" stroke="#8a8a8a" stroke-width="1.15" stroke-linejoin="round"/>
<polyline points="35.4,700.74 52.82,705.61 70.24,703.72 87.66,706 105.08,700.27 122.5,690.05 139.92,671.15 157.34,706.11 174.76,694.59" fill="none" stroke="#8a8a8a" stroke-width="1.15" stroke-linejoin="round"/>
<polyline points="35.4,699.62 52.82,702.55 70.24,704.19 87.66,706.55 105.08,698.4 122.5,690.05 139.92,670.73 157.34,704.89 174.76,701.71" fill="none" stroke="#8a8a8a" stroke-width="1.15" stroke-linejoin="round"/>
<polyline points="35.4,698.02 52.82,701.95 70.24,702.83 87.66,703.19 105.08,703.04 122.5,693.47 139.92,672.33 157.34,702.51 174.76,697.61" fill="none" stroke="#8a8a8a" stroke-width="1.15" stroke-linejoin="round"/>
<polyline points="35.4,723.03 52.82,719.21 70.24,719.21 87.66,722.75 105.08,720.76 122.5,720.79 139.92,686 157.34,717.65 174.76,716.47" fill="none" stroke="#8a8a8a" stroke-width="1.15" stroke-linejoin="round"/>
<polyline points="35.4,718.85 52.82,724.76 70.24,719.37 87.66,723.68 105.08,718.14 122.5,722.66 139.92,686 157.34,720.14 174.76,720.2" fill="none" stroke="#8a8a8a" stroke-width="1.15" stroke-linejoin="round"/>
<polyline points="35.4,722.46 52.82,721.9 70.24,717.2 87.66,719.36 105.08,717.47 122.5,719.08 139.92,685.7 157.34,718.08 174.76,715.89" fill="none" stroke="#8a8a8a" stroke-width="1.15" stroke-linejoin="round"/>
<polyline points="35.4,698.55 52.82,704.88 70.24,704.06 87.66,704.3 105.08,703.76 122.5,704.09 139.92,669.96 157.34,698.78 174.76,700.28" fill="none" stroke="#8a8a8a" stroke-width="1.15" stroke-linejoin="round"/>
<polyline points="35.4,698.73 52.82,700.08 70.24,706.13 87.66,703.35 105.08,700.64 122.5,702.12 139.92,669.96 157.34,699.97 174.76,698.61" fill="none" stroke="#8a8a8a" stroke-width="1.15" stroke-linejoin="round"/>
<polyline points="35.4,704.97 52.82,699.13 70.24,704.16 87.66,702.79 105.08,704.49 122.5,704.43 139.92,670.1 157.34,700.59 174.76,695.8" fill="none" stroke="#8a8a8a" stroke-width="1.15" stroke-linejoin="round"/>
<polyline points="35.4,716.96 52.82,717.87 70.24,718.19 87.66,721.25 105.08,723.25 122.5,715.55 139.92,682.36 157.34,729.74 174.76,720" fill="none" stroke="#8a8a8a" stroke-width="1.15" stroke-linejoin="round"/>
<polyline points="35.4,722.67 52.82,720.13 70.24,722.2 87.66,719.33 105.08,719.52 122.5,717.03 139.92,681.85 157.34,729.74 174.76,721.47" fill="none" stroke="#8a8a8a" stroke-width="1.15" stroke-linejoin="round"/>
<polyline points="35.4,716.17 52.82,723.17 70.24,721.01 87.66,724.55 105.08,721.2 122.5,720.59 139.92,683.31 157.34,727.62 174.76,718.68" fill="none" stroke="#8a8a8a" stroke-width="1.15" stroke-linejoin="round"/>
<polyline points="35.4,702.71 52.82,705 70.24,705.39 87.66,704.22 105.08,700.25 122.5,701.46 139.92,672.63 157.34,690.05 174.76,695.91" fill="none" stroke="#8a8a8a" stroke-width="1.15" stroke-linejoin="round"/>
<polyline points="35.4,701.35 52.82,699.46 70.24,701.37 87.66,703.15 105.08,704.25 122.5,701.1 139.92,672.51 157.34,690.05 174.76,699.66" fill="none" stroke="#8a8a8a" stroke-width="1.15" stroke-linejoin="round"/>
<polyline points="35.4,703.72 52.82,702.3 70.24,699.45 87.66,704 105.08,701.4 122.5,702.28 139.92,670.33 157.34,694.17 174.76,698.7" fill="none" stroke="#8a8a8a" stroke-width="1.15" stroke-linejoin="round"/>
<polyline points="35.4,716.12 52.82,720.85 70.24,719.5 87.66,724.06 105.08,724.82 122.5,716.71 139.92,683.17 157.34,720.24 174.76,726.34" fill="none" stroke="#8a8a8a" stroke-width="1.15" stroke-linejoin="round"/>
<polyline points="35.4,720.3 52.82,722.71 70.24,718.81 87.66,724.03 105.08,718.01 122.5,716.95 139.92,681.72 157.34,719.55 174.76,726.34" fill="none" stroke="#8a8a8a" stroke-width="1.15" stroke-linejoin="round"/>
<polyline points="35.4,723.03 52.82,724.49 70.24,720.16 87.66,720.07 105.08,718.12 122.5,722.12 139.92,681.39 157.34,718.14 174.76,725.18" fill="none" stroke="#8a8a8a" stroke-width="1.15" stroke-linejoin="round"/>
<polyline points="35.4,698.5 52.82,704.47 70.24,704.52 87.66,705.32 105.08,698.76 122.5,702.09 139.92,673.22 157.34,698.33 174.76,684.87" fill="none" stroke="#8a8a8a" stroke-width="1.15" stroke-linejoin="round"/>
<polyline points="35.4,701.94 52.82,703.92 70.24,699.32 87.66,700.18 105.08,703.35 122.5,704.12 139.92,672.41 157.34,701.5 174.76,684.87" fill="none" stroke="#8a8a8a" stroke-width="1.15" stroke-linejoin="round"/>
<polyline points="35.4,702.21 52.82,704.75 70.24,704.42 87.66,707.38 105.08,699.92 122.5,698.37 139.92,674.37 157.34,703.25 174.76,687.59" fill="none" stroke="#8a8a8a" stroke-width="1.15" stroke-linejoin="round"/>
<rect x="34.3" y="725.24" width="2.2" height="2.2" fill="#808080"/>
<rect x="34.3" y="725.24" width="2.2" height="2.2" fill="#808080"/>
<rect x="34.3" y="723.64" width="2.2" height="2.2" fill="#808080"/>
<rect x="34.3" y="688.95" width="2.2" height="2.2" fill="#808080"/>
<rect x="34.3" y="688.95" width="2.2" height="2.2" fill="#808080"/>
<rect x="34.3" y="691.71" width="2.2" height="2.2" fill="#808080"/>
<rect x="51.72" y="731.07" width="2.2" height="2.2" fill="#808080"/>
<rect x="51.72" y="731.07" width="2.2" height="2.2" fill="#808080"/>
<rect x="51.72" y="729.3" width="2.2" height="2.2" fill="#808080"/>
<rect x="51.72" y="691.38" width="2.2" height="2.2" fill="#808080"/>
<rect x="51.72" y="691.38" width="2.2" height="2.2" fill="#808080"/>
<rect x="51.72" y="693.71" width="2.2" height="2.2" fill="#808080"/>
<rect x="69.14" y="730.42" width="2.2" height="2.2" fill="#808080"/>
<rect x="69.14" y="730.42" width="2.2" height="2.2" fill="#808080"/>
<rect x="69.14" y="728.16" width="2.2" height="2.2" fill="#808080"/>
<rect x="69.14" y="687.17" width="2.2" height="2.2" fill="#808080"/>
<rect x="69.14" y="687.17" width="2.2" height="2.2" fill="#808080"/>
<rect x="69.14" y="691.34" width="2.2" height="2.2" fill="#808080"/>
<rect x="86.56" y="731.56" width="2.2" height="2.2" fill="#808080"/>
<rect x="86.56" y="731.56" width="2.2" height="2.2" fill="#808080"/>
<rect x="86.56" y="728.77" width="2.2" height="2.2" fill="#808080"/>
<rect x="86.56" y="691.87" width="2.2" height="2.2" fill="#808080"/>
<rect x="86.56" y="691.87" width="2.2" height="2.2" fill="#808080"/>
<rect x="86.56" y="693.79" width="2.2" height="2.2" fill="#808080"/>
<rect x="103.98" y="731.07" width="2.2" height="2.2" fill="#808080"/>
<rect x="103.98" y="731.07" width="2.2" height="2.2" fill="#808080"/>
<rect x="103.98" y="728.33" width="2.2" height="2.2" fill="#808080"/>
<rect x="103.98" y="690.73" width="2.2" height="2.2" fill="#808080"/>
<rect x="103.98" y="690.73" width="2.2" height="2.2" fill="#808080"/>
<rect x="103.98" y="693.8" width="2.2" height="2.2" fill="#808080"/>
<rect x="121.4" y="726.86" width="2.2" height="2.2" fill="#808080"/>
<rect x="121.4" y="726.86" width="2.2" height="2.2" fill="#808080"/>
<rect x="121.4" y="724.82" width="2.2" height="2.2" fill="#808080"/>
<rect x="121.4" y="688.95" width="2.2" height="2.2" fill="#808080"/>
<rect x="121.4" y="688.95" width="2.2" height="2.2" fill="#808080"/>
<rect x="121.4" y="692.37" width="2.2" height="2.2" fill="#808080"/>
<rect x="138.82" y="684.9" width="2.2" height="2.2" fill="#808080"/>
<rect x="138.82" y="684.9" width="2.2" height="2.2" fill="#808080"/>
<rect x="138.82" y="684.6" width="2.2" height="2.2" fill="#808080"/>
<rect x="138.82" y="668.86" width="2.2" height="2.2" fill="#808080"/>
<rect x="138.82" y="668.86" width="2.2" height="2.2" fill="#808080"/>
<rect x="138.82" y="669" width="2.2" height="2.2" fill="#808080"/>
<rect x="156.24" y="728.64" width="2.2" height="2.2" fill="#808080"/>
<rect x="156.24" y="728.64" width="2.2" height="2.2" fill="#808080"/>
<rect x="156.24" y="726.52" width="2.2" height="2.2" fill="#808080"/>
<rect x="156.24" y="688.95" width="2.2" height="2.2" fill="#808080"/>
<rect x="156.24" y="688.95" width="2.2" height="2.2" fill="#808080"/>
<rect x="156.24" y="693.07" width="2.2" height="2.2" fill="#808080"/>
<rect x="173.66" y="725.24" width="2.2" height="2.2" fill="#808080"/>
<rect x="173.66" y="725.24" width="2.2" height="2.2" fill="#808080"/>
<rect x="173.66" y="724.08" width="2.2" height="2.2" fill="#808080"/>
<rect x="173.66" y="683.77" width="2.2" height="2.2" fill="#808080"/>
<rect x="173.66" y="683.77" width="2.2" height="2.2" fill="#808080"/>
<rect x="173.66" y="686.49" width="2.2" height="2.2" fill="#808080"/>
<polyline points="35.4,710.46 52.82,704.63 70.24,719.37 87.66,719.86 105.08,712.24 122.5,709.33 139.92,669.8 157.34,713.38 174.76,712.24" fill="none" stroke="#2b3f8c" stroke-width="2.2" stroke-linejoin="round"/>
<polyline points="35.4,709.33 52.82,714.67 70.24,714.03 87.66,717.43 105.08,714.67 122.5,715.16 139.92,669.64 157.34,712.73 174.76,707.55" fill="none" stroke="#c21f2d" stroke-width="2.2" stroke-linejoin="round"/>
<polyline points="35.4,715.81 52.82,711.11 70.24,715.81 87.66,714.03 105.08,709.98 122.5,718.08 139.92,669.64 157.34,714.67 174.76,705.76" fill="none" stroke="#000" stroke-width="2.3" stroke-linejoin="round"/>
<rect x="34.1" y="714.51" width="2.6" height="2.6" fill="#000"/>
<rect x="51.52" y="709.81" width="2.6" height="2.6" fill="#000"/>
<rect x="68.94" y="714.51" width="2.6" height="2.6" fill="#000"/>
<rect x="86.36" y="712.73" width="2.6" height="2.6" fill="#000"/>
<rect x="103.78" y="708.68" width="2.6" height="2.6" fill="#000"/>
<rect x="121.2" y="716.78" width="2.6" height="2.6" fill="#000"/>
<rect x="138.62" y="668.34" width="2.6" height="2.6" fill="#000"/>
<rect x="156.04" y="713.37" width="2.6" height="2.6" fill="#000"/>
<rect x="173.46" y="704.46" width="2.6" height="2.6" fill="#000"/>
<text x="202" y="10" font-size="14" text-anchor="start" fill="#000" font-weight="bold">b</text>
<line x1="229.2" y1="98.8" x2="352.6" y2="98.8" stroke="#b5b5b5" stroke-width="1"/>
<rect x="233.9" y="31.52" width="8.3" height="67.28" fill="#b0202a"/>
<rect x="234.25" y="31.87" width="7.6" height="66.93" fill="none" stroke="#8f1520" stroke-width="0.7"/>
<rect x="246.48" y="97.9" width="8.3" height="0.9" fill="#b0202a"/>
<rect x="259.06" y="97.9" width="8.3" height="0.9" fill="#b0202a"/>
<rect x="271.64" y="97.9" width="8.3" height="0.9" fill="#b0202a"/>
<rect x="284.22" y="97.9" width="8.3" height="0.9" fill="#b0202a"/>
<rect x="296.8" y="98.13" width="8.3" height="0.67" fill="#b0202a"/>
<rect x="309.38" y="98.02" width="8.3" height="0.78" fill="#b0202a"/>
<rect x="321.96" y="98.02" width="8.3" height="0.78" fill="#b0202a"/>
<rect x="334.5" y="98.13" width="15" height="0.67" fill="#b0202a"/>
<circle cx="247.2" cy="97.8" r="1.3" fill="#000"/>
<circle cx="249.41" cy="97.09" r="1.3" fill="#000"/>
<circle cx="251.72" cy="97.8" r="1.3" fill="#000"/>
<circle cx="254.09" cy="97.09" r="1.3" fill="#000"/>
<circle cx="259.89" cy="97.28" r="1.3" fill="#000"/>
<circle cx="261.73" cy="97.8" r="1.3" fill="#000"/>
<circle cx="264.48" cy="97.51" r="1.3" fill="#000"/>
<circle cx="266.75" cy="97.8" r="1.3" fill="#000"/>
<circle cx="272.08" cy="97.54" r="1.3" fill="#000"/>
<circle cx="274.53" cy="97.07" r="1.3" fill="#000"/>
<circle cx="277.09" cy="97.8" r="1.3" fill="#000"/>
<circle cx="279.1" cy="97.8" r="1.3" fill="#000"/>
<circle cx="285.08" cy="97.57" r="1.3" fill="#000"/>
<circle cx="287.32" cy="97.8" r="1.3" fill="#000"/>
<circle cx="289.29" cy="97.72" r="1.3" fill="#000"/>
<circle cx="291.39" cy="97.76" r="1.3" fill="#000"/>
<circle cx="297.78" cy="97.8" r="1.3" fill="#000"/>
<circle cx="299.53" cy="97.8" r="1.3" fill="#000"/>
<circle cx="302.27" cy="97.8" r="1.3" fill="#000"/>
<circle cx="304" cy="97.8" r="1.3" fill="#000"/>
<circle cx="310.21" cy="97.36" r="1.3" fill="#000"/>
<circle cx="312.26" cy="97.22" r="1.3" fill="#000"/>
<circle cx="314.88" cy="97.8" r="1.3" fill="#000"/>
<circle cx="317.18" cy="97.8" r="1.3" fill="#000"/>
<circle cx="322.81" cy="97.64" r="1.3" fill="#000"/>
<circle cx="325.13" cy="97.13" r="1.3" fill="#000"/>
<circle cx="326.87" cy="97.8" r="1.3" fill="#000"/>
<circle cx="329.29" cy="97.8" r="1.3" fill="#000"/>
<circle cx="336.15" cy="97.29" r="1.3" fill="#000"/>
<circle cx="338.49" cy="97.28" r="1.3" fill="#000"/>
<circle cx="341.17" cy="97.8" r="1.3" fill="#000"/>
<circle cx="343.43" cy="97.73" r="1.3" fill="#000"/>
<circle cx="345.23" cy="97.8" r="1.3" fill="#000"/>
<circle cx="348.15" cy="97.7" r="1.3" fill="#000"/>
<line x1="238.05" y1="22.11" x2="238.05" y2="31.52" stroke="#c4c4c4" stroke-width="0.9"/>
<line x1="236.05" y1="22.11" x2="240.05" y2="22.11" stroke="#7a7a7a" stroke-width="0.75"/>
<line x1="238.05" y1="31.52" x2="238.05" y2="41.95" stroke="#1a1a1a" stroke-width="0.75"/>
<line x1="236.05" y1="41.95" x2="240.05" y2="41.95" stroke="#1a1a1a" stroke-width="0.75"/>
<circle cx="238.05" cy="18.41" r="1.35" fill="#000"/>
<circle cx="238.05" cy="26.26" r="1.35" fill="#000"/>
<circle cx="238.05" cy="51.37" r="1.35" fill="#000"/>
<line x1="229.2" y1="9.1" x2="229.2" y2="98.8" stroke="#666" stroke-width="0.8"/>
<line x1="225.6" y1="76.38" x2="229.2" y2="76.38" stroke="#777" stroke-width="0.7"/>
<text x="222.4" y="78.58" font-size="6.3" text-anchor="end" fill="#111">2</text>
<line x1="225.6" y1="53.95" x2="229.2" y2="53.95" stroke="#777" stroke-width="0.7"/>
<text x="222.4" y="56.15" font-size="6.3" text-anchor="end" fill="#111">4</text>
<line x1="225.6" y1="31.52" x2="229.2" y2="31.52" stroke="#777" stroke-width="0.7"/>
<text x="222.4" y="33.72" font-size="6.3" text-anchor="end" fill="#111">6</text>
<line x1="225.6" y1="9.1" x2="229.2" y2="9.1" stroke="#777" stroke-width="0.7"/>
<text x="222.4" y="11.3" font-size="6.3" text-anchor="end" fill="#111">8</text>
<line x1="227.3" y1="87.59" x2="229.2" y2="87.59" stroke="#777" stroke-width="0.7"/>
<line x1="227.3" y1="65.16" x2="229.2" y2="65.16" stroke="#777" stroke-width="0.7"/>
<line x1="227.3" y1="42.74" x2="229.2" y2="42.74" stroke="#777" stroke-width="0.7"/>
<line x1="227.3" y1="20.31" x2="229.2" y2="20.31" stroke="#777" stroke-width="0.7"/>
<text x="238.05" y="108.2" font-size="6.35" text-anchor="middle" fill="#222">DC</text>
<text x="250.63" y="108.2" font-size="6.35" text-anchor="middle" fill="#222">M&#934;</text>
<text x="263.21" y="108.2" font-size="6.35" text-anchor="middle" fill="#222">MC</text>
<text x="275.79" y="108.2" font-size="6.35" text-anchor="middle" fill="#222">ET</text>
<text x="288.37" y="108.2" font-size="6.35" text-anchor="middle" fill="#222">DT</text>
<text x="300.95" y="108.2" font-size="6.35" text-anchor="middle" fill="#222">EC</text>
<text x="313.53" y="108.2" font-size="6.35" text-anchor="middle" fill="#222">Mel</text>
<text x="326.11" y="108.2" font-size="6.35" text-anchor="middle" fill="#222">Fib</text>
<text x="342" y="108.2" font-size="6.35" text-anchor="middle" fill="#222">KC</text>
<text x="290.9" y="19.7" font-size="7.9" text-anchor="middle" fill="#111" textLength="20.2" lengthAdjust="spacingAndGlyphs">CD1C</text>
<text x="209.2" y="53.95" font-size="7.5" text-anchor="middle" fill="#000" textLength="34.3" lengthAdjust="spacingAndGlyphs" transform="rotate(-90 209.2 53.95)">MS Signal</text>
<text x="367.3" y="10" font-size="14" text-anchor="start" fill="#000" font-weight="bold">c</text>
<line x1="394.4" y1="98.6" x2="519.5" y2="98.6" stroke="#b5b5b5" stroke-width="1"/>
<rect x="398.9" y="43.9" width="8.2" height="54.7" fill="#273e80"/>
<rect x="399.25" y="44.25" width="7.5" height="54.35" fill="none" stroke="#1b2d66" stroke-width="0.7"/>
<rect x="411.56" y="97.71" width="8.2" height="0.89" fill="#273e80"/>
<rect x="424.22" y="97.82" width="8.2" height="0.78" fill="#273e80"/>
<rect x="436.88" y="98.04" width="8.2" height="0.56" fill="#273e80"/>
<rect x="449.54" y="97.82" width="8.2" height="0.78" fill="#273e80"/>
<rect x="462.2" y="97.93" width="8.2" height="0.67" fill="#273e80"/>
<rect x="474.86" y="97.93" width="8.2" height="0.67" fill="#273e80"/>
<rect x="487.52" y="97.93" width="8.2" height="0.67" fill="#273e80"/>
<rect x="500" y="97.93" width="15" height="0.67" fill="#273e80"/>
<circle cx="412.3" cy="97.09" r="1.3" fill="#000"/>
<circle cx="414.31" cy="97.15" r="1.3" fill="#000"/>
<circle cx="416.96" cy="97.16" r="1.3" fill="#000"/>
<circle cx="418.85" cy="97.6" r="1.3" fill="#000"/>
<circle cx="425.07" cy="97.6" r="1.3" fill="#000"/>
<circle cx="427.22" cy="97.51" r="1.3" fill="#000"/>
<circle cx="429.5" cy="97.22" r="1.3" fill="#000"/>
<circle cx="431.92" cy="97.44" r="1.3" fill="#000"/>
<circle cx="437.61" cy="97.6" r="1.3" fill="#000"/>
<circle cx="439.61" cy="97.6" r="1.3" fill="#000"/>
<circle cx="442.35" cy="97.6" r="1.3" fill="#000"/>
<circle cx="444.62" cy="97.6" r="1.3" fill="#000"/>
<circle cx="450.58" cy="97.58" r="1.3" fill="#000"/>
<circle cx="452.47" cy="97.3" r="1.3" fill="#000"/>
<circle cx="454.34" cy="97.2" r="1.3" fill="#000"/>
<circle cx="457.31" cy="97.6" r="1.3" fill="#000"/>
<circle cx="462.99" cy="97.6" r="1.3" fill="#000"/>
<circle cx="465.29" cy="97.6" r="1.3" fill="#000"/>
<circle cx="467.28" cy="97.33" r="1.3" fill="#000"/>
<circle cx="469.92" cy="97.26" r="1.3" fill="#000"/>
<circle cx="475.91" cy="97.6" r="1.3" fill="#000"/>
<circle cx="478.25" cy="97.6" r="1.3" fill="#000"/>
<circle cx="480.18" cy="97.08" r="1.3" fill="#000"/>
<circle cx="481.86" cy="97.6" r="1.3" fill="#000"/>
<circle cx="488.6" cy="97.14" r="1.3" fill="#000"/>
<circle cx="490.47" cy="97.15" r="1.3" fill="#000"/>
<circle cx="492.56" cy="97.04" r="1.3" fill="#000"/>
<circle cx="494.76" cy="97.6" r="1.3" fill="#000"/>
<circle cx="501.26" cy="97.6" r="1.3" fill="#000"/>
<circle cx="503.54" cy="97.33" r="1.3" fill="#000"/>
<circle cx="506.11" cy="97.6" r="1.3" fill="#000"/>
<circle cx="508.91" cy="97.53" r="1.3" fill="#000"/>
<circle cx="511.26" cy="97.6" r="1.3" fill="#000"/>
<circle cx="513.2" cy="97.6" r="1.3" fill="#000"/>
<line x1="403" y1="27.16" x2="403" y2="43.9" stroke="#c4c4c4" stroke-width="0.9"/>
<line x1="401" y1="27.16" x2="405" y2="27.16" stroke="#7a7a7a" stroke-width="0.75"/>
<line x1="403" y1="43.9" x2="403" y2="60.65" stroke="#1a1a1a" stroke-width="0.75"/>
<line x1="401" y1="60.65" x2="405" y2="60.65" stroke="#1a1a1a" stroke-width="0.75"/>
<circle cx="403" cy="20.46" r="1.35" fill="#000"/>
<circle cx="403" cy="34.97" r="1.35" fill="#000"/>
<circle cx="403" cy="75.72" r="1.35" fill="#000"/>
<line x1="394.4" y1="9.3" x2="394.4" y2="98.6" stroke="#666" stroke-width="0.8"/>
<line x1="390.8" y1="76.27" x2="394.4" y2="76.27" stroke="#777" stroke-width="0.7"/>
<text x="387.6" y="78.47" font-size="6.3" text-anchor="end" fill="#111">2</text>
<line x1="390.8" y1="53.95" x2="394.4" y2="53.95" stroke="#777" stroke-width="0.7"/>
<text x="387.6" y="56.15" font-size="6.3" text-anchor="end" fill="#111">4</text>
<line x1="390.8" y1="31.62" x2="394.4" y2="31.62" stroke="#777" stroke-width="0.7"/>
<text x="387.6" y="33.83" font-size="6.3" text-anchor="end" fill="#111">6</text>
<line x1="390.8" y1="9.3" x2="394.4" y2="9.3" stroke="#777" stroke-width="0.7"/>
<text x="387.6" y="11.5" font-size="6.3" text-anchor="end" fill="#111">8</text>
<line x1="392.5" y1="87.44" x2="394.4" y2="87.44" stroke="#777" stroke-width="0.7"/>
<line x1="392.5" y1="65.11" x2="394.4" y2="65.11" stroke="#777" stroke-width="0.7"/>
<line x1="392.5" y1="42.79" x2="394.4" y2="42.79" stroke="#777" stroke-width="0.7"/>
<line x1="392.5" y1="20.46" x2="394.4" y2="20.46" stroke="#777" stroke-width="0.7"/>
<text x="403" y="108" font-size="6.35" text-anchor="middle" fill="#222">DC</text>
<text x="415.66" y="108" font-size="6.35" text-anchor="middle" fill="#222">M&#934;</text>
<text x="428.32" y="108" font-size="6.35" text-anchor="middle" fill="#222">MC</text>
<text x="440.98" y="108" font-size="6.35" text-anchor="middle" fill="#222">ET</text>
<text x="453.64" y="108" font-size="6.35" text-anchor="middle" fill="#222">DT</text>
<text x="466.3" y="108" font-size="6.35" text-anchor="middle" fill="#222">EC</text>
<text x="478.96" y="108" font-size="6.35" text-anchor="middle" fill="#222">Mel</text>
<text x="491.62" y="108" font-size="6.35" text-anchor="middle" fill="#222">Fib</text>
<text x="507.5" y="108" font-size="6.35" text-anchor="middle" fill="#222">KC</text>
<text x="456.7" y="19.9" font-size="7.9" text-anchor="middle" fill="#111" textLength="25.4" lengthAdjust="spacingAndGlyphs">NMES1</text>
<text x="373.3" y="53.95" font-size="7.5" text-anchor="middle" fill="#000" textLength="34.3" lengthAdjust="spacingAndGlyphs" transform="rotate(-90 373.3 53.95)">MS Signal</text>
<text x="534.4" y="10" font-size="14" text-anchor="start" fill="#000" font-weight="bold">d</text>
<line x1="566" y1="98.4" x2="685" y2="98.4" stroke="#b5b5b5" stroke-width="1"/>
<rect x="570.35" y="42.1" width="8.5" height="56.3" fill="#000"/>
<rect x="570.7" y="42.45" width="7.8" height="55.95" fill="none" stroke="#000" stroke-width="0.7"/>
<rect x="583" y="97.29" width="8.5" height="1.11" fill="#000"/>
<rect x="595.65" y="97.81" width="8.5" height="0.59" fill="#000"/>
<rect x="608.3" y="97.81" width="8.5" height="0.59" fill="#000"/>
<rect x="620.95" y="97.66" width="8.5" height="0.74" fill="#000"/>
<rect x="633.6" y="97.96" width="8.5" height="0.44" fill="#000"/>
<rect x="646.25" y="97.88" width="8.5" height="0.52" fill="#000"/>
<rect x="658.9" y="97.88" width="8.5" height="0.52" fill="#000"/>
<rect x="671.55" y="97.96" width="8.5" height="0.44" fill="#000"/>
<circle cx="583.57" cy="97.03" r="1.3" fill="#888888"/>
<circle cx="586.33" cy="97.38" r="1.3" fill="#888888"/>
<circle cx="588.57" cy="97" r="1.3" fill="#888888"/>
<circle cx="590.89" cy="97.13" r="1.3" fill="#888888"/>
<circle cx="596.16" cy="97.4" r="1.3" fill="#888888"/>
<circle cx="598.4" cy="97.4" r="1.3" fill="#888888"/>
<circle cx="601.39" cy="97.38" r="1.3" fill="#888888"/>
<circle cx="603.15" cy="97.4" r="1.3" fill="#888888"/>
<circle cx="608.91" cy="97.16" r="1.3" fill="#888888"/>
<circle cx="611.17" cy="97.39" r="1.3" fill="#888888"/>
<circle cx="613.78" cy="97.4" r="1.3" fill="#888888"/>
<circle cx="615.72" cy="97.4" r="1.3" fill="#888888"/>
<circle cx="621.84" cy="97.4" r="1.3" fill="#888888"/>
<circle cx="624.32" cy="96.98" r="1.3" fill="#888888"/>
<circle cx="626.45" cy="96.93" r="1.3" fill="#888888"/>
<circle cx="628.2" cy="97.31" r="1.3" fill="#888888"/>
<circle cx="634.67" cy="97.4" r="1.3" fill="#888888"/>
<circle cx="636.47" cy="97.4" r="1.3" fill="#888888"/>
<circle cx="639.31" cy="97.39" r="1.3" fill="#888888"/>
<circle cx="641.21" cy="97.4" r="1.3" fill="#888888"/>
<circle cx="647.42" cy="97.16" r="1.3" fill="#888888"/>
<circle cx="649.41" cy="97.4" r="1.3" fill="#888888"/>
<circle cx="651.72" cy="97.4" r="1.3" fill="#888888"/>
<circle cx="654.12" cy="97.4" r="1.3" fill="#888888"/>
<circle cx="659.58" cy="97.4" r="1.3" fill="#888888"/>
<circle cx="662.04" cy="97.4" r="1.3" fill="#888888"/>
<circle cx="664.57" cy="97.4" r="1.3" fill="#888888"/>
<circle cx="666.54" cy="97.4" r="1.3" fill="#888888"/>
<circle cx="672.65" cy="97.4" r="1.3" fill="#888888"/>
<circle cx="674.79" cy="97.4" r="1.3" fill="#888888"/>
<circle cx="677.21" cy="97.4" r="1.3" fill="#888888"/>
<circle cx="679.37" cy="97.4" r="1.3" fill="#888888"/>
<line x1="574.6" y1="25.06" x2="574.6" y2="42.1" stroke="#d4d4d4" stroke-width="0.9"/>
<line x1="572.6" y1="25.06" x2="576.6" y2="25.06" stroke="#b0b0b0" stroke-width="0.75"/>
<line x1="574.6" y1="42.1" x2="574.6" y2="59.14" stroke="#8a8a8a" stroke-width="0.75"/>
<line x1="572.6" y1="59.14" x2="576.6" y2="59.14" stroke="#8a8a8a" stroke-width="0.75"/>
<circle cx="574.6" cy="11.72" r="1.35" fill="#888888"/>
<circle cx="574.6" cy="44.32" r="1.35" fill="#888888"/>
<circle cx="574.6" cy="70.25" r="1.35" fill="#888888"/>
<circle cx="626.2" cy="94.7" r="1.35" fill="#888888"/>
<line x1="566" y1="9.5" x2="566" y2="98.4" stroke="#666" stroke-width="0.8"/>
<line x1="561" y1="83.58" x2="566" y2="83.58" stroke="#777" stroke-width="0.7"/>
<text x="556" y="85.78" font-size="6.3" text-anchor="end" fill="#111">2</text>
<line x1="561" y1="68.77" x2="566" y2="68.77" stroke="#777" stroke-width="0.7"/>
<text x="556" y="70.97" font-size="6.3" text-anchor="end" fill="#111">4</text>
<line x1="561" y1="53.95" x2="566" y2="53.95" stroke="#777" stroke-width="0.7"/>
<text x="556" y="56.15" font-size="6.3" text-anchor="end" fill="#111">6</text>
<line x1="561" y1="39.13" x2="566" y2="39.13" stroke="#777" stroke-width="0.7"/>
<text x="556" y="41.33" font-size="6.3" text-anchor="end" fill="#111">8</text>
<line x1="561" y1="24.32" x2="566" y2="24.32" stroke="#777" stroke-width="0.7"/>
<text x="556" y="26.52" font-size="6.3" text-anchor="end" fill="#111">10</text>
<line x1="561" y1="9.5" x2="566" y2="9.5" stroke="#777" stroke-width="0.7"/>
<text x="556" y="11.7" font-size="6.3" text-anchor="end" fill="#111">12</text>
<line x1="561" y1="90.99" x2="566" y2="90.99" stroke="#777" stroke-width="0.7"/>
<line x1="561" y1="76.18" x2="566" y2="76.18" stroke="#777" stroke-width="0.7"/>
<line x1="561" y1="61.36" x2="566" y2="61.36" stroke="#777" stroke-width="0.7"/>
<line x1="561" y1="46.54" x2="566" y2="46.54" stroke="#777" stroke-width="0.7"/>
<line x1="561" y1="31.72" x2="566" y2="31.72" stroke="#777" stroke-width="0.7"/>
<line x1="561" y1="16.91" x2="566" y2="16.91" stroke="#777" stroke-width="0.7"/>
<text x="574.6" y="107.8" font-size="6.35" text-anchor="middle" fill="#222">DC</text>
<text x="587.25" y="107.8" font-size="6.35" text-anchor="middle" fill="#222">M&#934;</text>
<text x="599.9" y="107.8" font-size="6.35" text-anchor="middle" fill="#222">MC</text>
<text x="612.55" y="107.8" font-size="6.35" text-anchor="middle" fill="#222">ET</text>
<text x="625.2" y="107.8" font-size="6.35" text-anchor="middle" fill="#222">DT</text>
<text x="637.85" y="107.8" font-size="6.35" text-anchor="middle" fill="#222">EC</text>
<text x="650.5" y="107.8" font-size="6.35" text-anchor="middle" fill="#222">Mel</text>
<text x="663.15" y="107.8" font-size="6.35" text-anchor="middle" fill="#222">Fib</text>
<text x="675.8" y="107.8" font-size="6.35" text-anchor="middle" fill="#222">KC</text>
<text x="625.35" y="18.6" font-size="7.9" text-anchor="middle" fill="#111" textLength="20.7" lengthAdjust="spacingAndGlyphs">CD1B</text>
<text x="540.8" y="53.95" font-size="7.5" text-anchor="middle" fill="#000" textLength="34.3" lengthAdjust="spacingAndGlyphs" transform="rotate(-90 540.8 53.95)">MS Signal</text>
<text x="202" y="134.9" font-size="14" text-anchor="start" fill="#000" font-weight="bold">f</text>
<line x1="229.2" y1="224.2" x2="352.6" y2="224.2" stroke="#b5b5b5" stroke-width="1"/>
<rect x="233.9" y="223.61" width="8.3" height="0.59" fill="#b0202a"/>
<rect x="246.48" y="162.71" width="8.3" height="61.49" fill="#b0202a"/>
<rect x="246.83" y="163.06" width="7.6" height="61.14" fill="none" stroke="#8f1520" stroke-width="0.7"/>
<rect x="259.06" y="223.61" width="8.3" height="0.59" fill="#b0202a"/>
<rect x="271.64" y="223.68" width="8.3" height="0.52" fill="#b0202a"/>
<rect x="284.22" y="223.68" width="8.3" height="0.52" fill="#b0202a"/>
<rect x="296.8" y="223.68" width="8.3" height="0.52" fill="#b0202a"/>
<rect x="309.38" y="223.68" width="8.3" height="0.52" fill="#b0202a"/>
<rect x="321.96" y="223.46" width="8.3" height="0.74" fill="#b0202a"/>
<rect x="334.5" y="223.76" width="15" height="0.44" fill="#b0202a"/>
<circle cx="234.45" cy="223.2" r="1.3" fill="#000"/>
<circle cx="236.68" cy="223.2" r="1.3" fill="#000"/>
<circle cx="239.24" cy="223.2" r="1.3" fill="#000"/>
<circle cx="241.46" cy="223.2" r="1.3" fill="#000"/>
<circle cx="259.52" cy="223.2" r="1.3" fill="#000"/>
<circle cx="262.2" cy="223.2" r="1.3" fill="#000"/>
<circle cx="264.62" cy="223.2" r="1.3" fill="#000"/>
<circle cx="266.43" cy="223.02" r="1.3" fill="#000"/>
<circle cx="272.17" cy="223.2" r="1.3" fill="#000"/>
<circle cx="274.84" cy="223.2" r="1.3" fill="#000"/>
<circle cx="276.85" cy="223.2" r="1.3" fill="#000"/>
<circle cx="278.89" cy="223.2" r="1.3" fill="#000"/>
<circle cx="284.77" cy="223.2" r="1.3" fill="#000"/>
<circle cx="287.37" cy="223.2" r="1.3" fill="#000"/>
<circle cx="289.27" cy="222.91" r="1.3" fill="#000"/>
<circle cx="291.56" cy="223.2" r="1.3" fill="#000"/>
<circle cx="297.64" cy="223.2" r="1.3" fill="#000"/>
<circle cx="299.79" cy="223.2" r="1.3" fill="#000"/>
<circle cx="302.38" cy="223.02" r="1.3" fill="#000"/>
<circle cx="304.04" cy="223.2" r="1.3" fill="#000"/>
<circle cx="310.32" cy="223.2" r="1.3" fill="#000"/>
<circle cx="312.47" cy="223.2" r="1.3" fill="#000"/>
<circle cx="314.77" cy="223.2" r="1.3" fill="#000"/>
<circle cx="317.11" cy="223.2" r="1.3" fill="#000"/>
<circle cx="322.77" cy="223.2" r="1.3" fill="#000"/>
<circle cx="324.96" cy="223.2" r="1.3" fill="#000"/>
<circle cx="327.51" cy="223.2" r="1.3" fill="#000"/>
<circle cx="329.34" cy="223.2" r="1.3" fill="#000"/>
<circle cx="336.08" cy="223.2" r="1.3" fill="#000"/>
<circle cx="338.5" cy="223.2" r="1.3" fill="#000"/>
<circle cx="341.18" cy="223.2" r="1.3" fill="#000"/>
<circle cx="343.12" cy="223.2" r="1.3" fill="#000"/>
<circle cx="345.96" cy="223.1" r="1.3" fill="#000"/>
<circle cx="347.66" cy="223.2" r="1.3" fill="#000"/>
<line x1="250.63" y1="157.53" x2="250.63" y2="162.71" stroke="#c4c4c4" stroke-width="0.9"/>
<line x1="248.63" y1="157.53" x2="252.63" y2="157.53" stroke="#7a7a7a" stroke-width="0.75"/>
<line x1="250.63" y1="162.71" x2="250.63" y2="167.9" stroke="#1a1a1a" stroke-width="0.75"/>
<line x1="248.63" y1="167.9" x2="252.63" y2="167.9" stroke="#1a1a1a" stroke-width="0.75"/>
<circle cx="248.13" cy="154.56" r="1.35" fill="#000"/>
<circle cx="253.13" cy="153.08" r="1.35" fill="#000"/>
<circle cx="250.63" cy="164.93" r="1.35" fill="#000"/>
<circle cx="250.63" cy="177.53" r="1.35" fill="#000"/>
<line x1="229.2" y1="135.3" x2="229.2" y2="224.2" stroke="#666" stroke-width="0.8"/>
<line x1="225.6" y1="209.38" x2="229.2" y2="209.38" stroke="#777" stroke-width="0.7"/>
<text x="222.4" y="211.58" font-size="6.3" text-anchor="end" fill="#111">2</text>
<line x1="225.6" y1="194.57" x2="229.2" y2="194.57" stroke="#777" stroke-width="0.7"/>
<text x="222.4" y="196.77" font-size="6.3" text-anchor="end" fill="#111">4</text>
<line x1="225.6" y1="179.75" x2="229.2" y2="179.75" stroke="#777" stroke-width="0.7"/>
<text x="222.4" y="181.95" font-size="6.3" text-anchor="end" fill="#111">6</text>
<line x1="225.6" y1="164.93" x2="229.2" y2="164.93" stroke="#777" stroke-width="0.7"/>
<text x="222.4" y="167.13" font-size="6.3" text-anchor="end" fill="#111">8</text>
<line x1="225.6" y1="150.12" x2="229.2" y2="150.12" stroke="#777" stroke-width="0.7"/>
<text x="222.4" y="152.32" font-size="6.3" text-anchor="end" fill="#111">10</text>
<line x1="225.6" y1="135.3" x2="229.2" y2="135.3" stroke="#777" stroke-width="0.7"/>
<text x="222.4" y="137.5" font-size="6.3" text-anchor="end" fill="#111">12</text>
<line x1="227.3" y1="216.79" x2="229.2" y2="216.79" stroke="#777" stroke-width="0.7"/>
<line x1="227.3" y1="201.97" x2="229.2" y2="201.97" stroke="#777" stroke-width="0.7"/>
<line x1="227.3" y1="187.16" x2="229.2" y2="187.16" stroke="#777" stroke-width="0.7"/>
<line x1="227.3" y1="172.34" x2="229.2" y2="172.34" stroke="#777" stroke-width="0.7"/>
<line x1="227.3" y1="157.53" x2="229.2" y2="157.53" stroke="#777" stroke-width="0.7"/>
<line x1="227.3" y1="142.71" x2="229.2" y2="142.71" stroke="#777" stroke-width="0.7"/>
<text x="238.05" y="233.6" font-size="6.35" text-anchor="middle" fill="#222">DC</text>
<text x="250.63" y="233.6" font-size="6.35" text-anchor="middle" fill="#222">M&#934;</text>
<text x="263.21" y="233.6" font-size="6.35" text-anchor="middle" fill="#222">MC</text>
<text x="275.79" y="233.6" font-size="6.35" text-anchor="middle" fill="#222">ET</text>
<text x="288.37" y="233.6" font-size="6.35" text-anchor="middle" fill="#222">DT</text>
<text x="300.95" y="233.6" font-size="6.35" text-anchor="middle" fill="#222">EC</text>
<text x="313.53" y="233.6" font-size="6.35" text-anchor="middle" fill="#222">Mel</text>
<text x="326.11" y="233.6" font-size="6.35" text-anchor="middle" fill="#222">Fib</text>
<text x="342" y="233.6" font-size="6.35" text-anchor="middle" fill="#222">KC</text>
<text x="291.25" y="143.8" font-size="7.9" text-anchor="middle" fill="#111" textLength="23.7" lengthAdjust="spacingAndGlyphs">CD163</text>
<text x="209.2" y="179.75" font-size="7.5" text-anchor="middle" fill="#000" textLength="34.3" lengthAdjust="spacingAndGlyphs" transform="rotate(-90 209.2 179.75)">MS Signal</text>
<text x="367.3" y="136" font-size="14" text-anchor="start" fill="#000" font-weight="bold">g</text>
<line x1="394.4" y1="224.3" x2="519.5" y2="224.3" stroke="#b5b5b5" stroke-width="1"/>
<rect x="398.9" y="223.41" width="8.2" height="0.89" fill="#273e80"/>
<rect x="411.56" y="161.1" width="8.2" height="63.2" fill="#273e80"/>
<rect x="411.91" y="161.45" width="7.5" height="62.85" fill="none" stroke="#1b2d66" stroke-width="0.7"/>
<rect x="424.22" y="223.52" width="8.2" height="0.78" fill="#273e80"/>
<rect x="436.88" y="223.52" width="8.2" height="0.78" fill="#273e80"/>
<rect x="449.54" y="223.41" width="8.2" height="0.89" fill="#273e80"/>
<rect x="462.2" y="223.75" width="8.2" height="0.55" fill="#273e80"/>
<rect x="474.86" y="223.63" width="8.2" height="0.67" fill="#273e80"/>
<rect x="487.52" y="223.63" width="8.2" height="0.67" fill="#273e80"/>
<rect x="500" y="223.63" width="15" height="0.67" fill="#273e80"/>
<circle cx="400.1" cy="223.15" r="1.3" fill="#000"/>
<circle cx="402.08" cy="223.3" r="1.3" fill="#000"/>
<circle cx="403.87" cy="222.62" r="1.3" fill="#000"/>
<circle cx="406.36" cy="222.68" r="1.3" fill="#000"/>
<circle cx="424.95" cy="223.3" r="1.3" fill="#000"/>
<circle cx="427.52" cy="222.79" r="1.3" fill="#000"/>
<circle cx="429.08" cy="222.94" r="1.3" fill="#000"/>
<circle cx="431.86" cy="222.66" r="1.3" fill="#000"/>
<circle cx="437.48" cy="222.77" r="1.3" fill="#000"/>
<circle cx="439.59" cy="223.3" r="1.3" fill="#000"/>
<circle cx="441.82" cy="223.2" r="1.3" fill="#000"/>
<circle cx="444.45" cy="223.3" r="1.3" fill="#000"/>
<circle cx="450.29" cy="223.3" r="1.3" fill="#000"/>
<circle cx="452.6" cy="223.3" r="1.3" fill="#000"/>
<circle cx="454.53" cy="223.03" r="1.3" fill="#000"/>
<circle cx="456.98" cy="223.3" r="1.3" fill="#000"/>
<circle cx="463.11" cy="223.3" r="1.3" fill="#000"/>
<circle cx="465.01" cy="223.24" r="1.3" fill="#000"/>
<circle cx="467.17" cy="223.3" r="1.3" fill="#000"/>
<circle cx="469.89" cy="223.3" r="1.3" fill="#000"/>
<circle cx="475.7" cy="223.3" r="1.3" fill="#000"/>
<circle cx="477.7" cy="223.3" r="1.3" fill="#000"/>
<circle cx="479.77" cy="223.3" r="1.3" fill="#000"/>
<circle cx="482.04" cy="222.87" r="1.3" fill="#000"/>
<circle cx="488.68" cy="222.87" r="1.3" fill="#000"/>
<circle cx="490.78" cy="223.3" r="1.3" fill="#000"/>
<circle cx="492.39" cy="223.3" r="1.3" fill="#000"/>
<circle cx="495.3" cy="223.3" r="1.3" fill="#000"/>
<circle cx="501.55" cy="223.3" r="1.3" fill="#000"/>
<circle cx="504.07" cy="223.14" r="1.3" fill="#000"/>
<circle cx="506.34" cy="223.3" r="1.3" fill="#000"/>
<circle cx="508.62" cy="223.3" r="1.3" fill="#000"/>
<circle cx="511.06" cy="223.3" r="1.3" fill="#000"/>
<circle cx="513.15" cy="223.3" r="1.3" fill="#000"/>
<line x1="415.66" y1="157.78" x2="415.66" y2="161.1" stroke="#c4c4c4" stroke-width="0.9"/>
<line x1="413.66" y1="157.78" x2="417.66" y2="157.78" stroke="#7a7a7a" stroke-width="0.75"/>
<line x1="415.66" y1="161.1" x2="415.66" y2="164.43" stroke="#1a1a1a" stroke-width="0.75"/>
<line x1="413.66" y1="164.43" x2="417.66" y2="164.43" stroke="#1a1a1a" stroke-width="0.75"/>
<circle cx="415.66" cy="151.12" r="1.35" fill="#000"/>
<circle cx="413.16" cy="162.21" r="1.35" fill="#000"/>
<circle cx="418.16" cy="163.32" r="1.35" fill="#000"/>
<circle cx="415.66" cy="165.54" r="1.35" fill="#000"/>
<line x1="394.4" y1="135.6" x2="394.4" y2="224.3" stroke="#666" stroke-width="0.8"/>
<line x1="390.8" y1="202.12" x2="394.4" y2="202.12" stroke="#777" stroke-width="0.7"/>
<text x="387.6" y="204.32" font-size="6.3" text-anchor="end" fill="#111">2</text>
<line x1="390.8" y1="179.95" x2="394.4" y2="179.95" stroke="#777" stroke-width="0.7"/>
<text x="387.6" y="182.15" font-size="6.3" text-anchor="end" fill="#111">4</text>
<line x1="390.8" y1="157.78" x2="394.4" y2="157.78" stroke="#777" stroke-width="0.7"/>
<text x="387.6" y="159.97" font-size="6.3" text-anchor="end" fill="#111">6</text>
<line x1="390.8" y1="135.6" x2="394.4" y2="135.6" stroke="#777" stroke-width="0.7"/>
<text x="387.6" y="137.8" font-size="6.3" text-anchor="end" fill="#111">8</text>
<line x1="392.5" y1="213.21" x2="394.4" y2="213.21" stroke="#777" stroke-width="0.7"/>
<line x1="392.5" y1="191.04" x2="394.4" y2="191.04" stroke="#777" stroke-width="0.7"/>
<line x1="392.5" y1="168.86" x2="394.4" y2="168.86" stroke="#777" stroke-width="0.7"/>
<line x1="392.5" y1="146.69" x2="394.4" y2="146.69" stroke="#777" stroke-width="0.7"/>
<text x="403" y="233.7" font-size="6.35" text-anchor="middle" fill="#222">DC</text>
<text x="415.66" y="233.7" font-size="6.35" text-anchor="middle" fill="#222">M&#934;</text>
<text x="428.32" y="233.7" font-size="6.35" text-anchor="middle" fill="#222">MC</text>
<text x="440.98" y="233.7" font-size="6.35" text-anchor="middle" fill="#222">ET</text>
<text x="453.64" y="233.7" font-size="6.35" text-anchor="middle" fill="#222">DT</text>
<text x="466.3" y="233.7" font-size="6.35" text-anchor="middle" fill="#222">EC</text>
<text x="478.96" y="233.7" font-size="6.35" text-anchor="middle" fill="#222">Mel</text>
<text x="491.62" y="233.7" font-size="6.35" text-anchor="middle" fill="#222">Fib</text>
<text x="507.5" y="233.7" font-size="6.35" text-anchor="middle" fill="#222">KC</text>
<text x="456.95" y="144" font-size="7.9" text-anchor="middle" fill="#111" textLength="29.9" lengthAdjust="spacingAndGlyphs">MS4A6A</text>
<text x="373.3" y="179.95" font-size="7.5" text-anchor="middle" fill="#000" textLength="34.3" lengthAdjust="spacingAndGlyphs" transform="rotate(-90 373.3 179.95)">MS Signal</text>
<text x="534.4" y="135.4" font-size="14" text-anchor="start" fill="#000" font-weight="bold">h</text>
<line x1="566" y1="224.1" x2="685" y2="224.1" stroke="#b5b5b5" stroke-width="1"/>
<rect x="570.35" y="223.34" width="8.5" height="0.76" fill="#000"/>
<rect x="583" y="152.23" width="8.5" height="71.87" fill="#000"/>
<rect x="583.35" y="152.58" width="7.8" height="71.52" fill="none" stroke="#000" stroke-width="0.7"/>
<rect x="595.65" y="223.34" width="8.5" height="0.76" fill="#000"/>
<rect x="608.3" y="223.34" width="8.5" height="0.76" fill="#000"/>
<rect x="620.95" y="223.34" width="8.5" height="0.76" fill="#000"/>
<rect x="633.6" y="223.08" width="8.5" height="1.02" fill="#000"/>
<rect x="646.25" y="223.34" width="8.5" height="0.76" fill="#000"/>
<rect x="658.9" y="223.34" width="8.5" height="0.76" fill="#000"/>
<rect x="671.55" y="223.34" width="8.5" height="0.76" fill="#000"/>
<circle cx="571.57" cy="223.1" r="1.3" fill="#888888"/>
<circle cx="573.65" cy="222.75" r="1.3" fill="#888888"/>
<circle cx="575.6" cy="223.1" r="1.3" fill="#888888"/>
<circle cx="578.25" cy="222.46" r="1.3" fill="#888888"/>
<circle cx="596.23" cy="223.1" r="1.3" fill="#888888"/>
<circle cx="598.46" cy="223.1" r="1.3" fill="#888888"/>
<circle cx="600.9" cy="223.1" r="1.3" fill="#888888"/>
<circle cx="603.59" cy="223.1" r="1.3" fill="#888888"/>
<circle cx="609.06" cy="222.89" r="1.3" fill="#888888"/>
<circle cx="611.51" cy="223.1" r="1.3" fill="#888888"/>
<circle cx="613.61" cy="223.09" r="1.3" fill="#888888"/>
<circle cx="615.98" cy="222.8" r="1.3" fill="#888888"/>
<circle cx="621.54" cy="223.1" r="1.3" fill="#888888"/>
<circle cx="623.75" cy="223.1" r="1.3" fill="#888888"/>
<circle cx="626.57" cy="223.1" r="1.3" fill="#888888"/>
<circle cx="628.4" cy="223.02" r="1.3" fill="#888888"/>
<circle cx="634.79" cy="222.67" r="1.3" fill="#888888"/>
<circle cx="637.11" cy="222.46" r="1.3" fill="#888888"/>
<circle cx="639.26" cy="222.24" r="1.3" fill="#888888"/>
<circle cx="641.38" cy="223.1" r="1.3" fill="#888888"/>
<circle cx="647.14" cy="223.1" r="1.3" fill="#888888"/>
<circle cx="649.7" cy="223.1" r="1.3" fill="#888888"/>
<circle cx="651.38" cy="223.1" r="1.3" fill="#888888"/>
<circle cx="653.53" cy="222.97" r="1.3" fill="#888888"/>
<circle cx="659.47" cy="222.66" r="1.3" fill="#888888"/>
<circle cx="662.12" cy="222.55" r="1.3" fill="#888888"/>
<circle cx="664.01" cy="222.45" r="1.3" fill="#888888"/>
<circle cx="666.8" cy="222.78" r="1.3" fill="#888888"/>
<circle cx="672.06" cy="223.1" r="1.3" fill="#888888"/>
<circle cx="674.84" cy="223.1" r="1.3" fill="#888888"/>
<circle cx="676.97" cy="223.1" r="1.3" fill="#888888"/>
<circle cx="679.38" cy="222.87" r="1.3" fill="#888888"/>
<line x1="587.25" y1="148.41" x2="587.25" y2="152.23" stroke="#d4d4d4" stroke-width="0.9"/>
<line x1="585.25" y1="148.41" x2="589.25" y2="148.41" stroke="#b0b0b0" stroke-width="0.75"/>
<line x1="587.25" y1="152.23" x2="587.25" y2="156.56" stroke="#8a8a8a" stroke-width="0.75"/>
<line x1="585.25" y1="156.56" x2="589.25" y2="156.56" stroke="#8a8a8a" stroke-width="0.75"/>
<circle cx="584.25" cy="145.86" r="1.35" fill="#888888"/>
<circle cx="587.25" cy="148.41" r="1.35" fill="#888888"/>
<circle cx="590.25" cy="146.88" r="1.35" fill="#888888"/>
<circle cx="587.25" cy="166.5" r="1.35" fill="#888888"/>
<line x1="566" y1="134.9" x2="566" y2="224.1" stroke="#666" stroke-width="0.8"/>
<line x1="561" y1="211.36" x2="566" y2="211.36" stroke="#777" stroke-width="0.7"/>
<text x="556" y="213.56" font-size="6.3" text-anchor="end" fill="#111">5</text>
<line x1="561" y1="198.61" x2="566" y2="198.61" stroke="#777" stroke-width="0.7"/>
<text x="556" y="200.81" font-size="6.3" text-anchor="end" fill="#111">10</text>
<line x1="561" y1="185.87" x2="566" y2="185.87" stroke="#777" stroke-width="0.7"/>
<text x="556" y="188.07" font-size="6.3" text-anchor="end" fill="#111">15</text>
<line x1="561" y1="173.13" x2="566" y2="173.13" stroke="#777" stroke-width="0.7"/>
<text x="556" y="175.33" font-size="6.3" text-anchor="end" fill="#111">20</text>
<line x1="561" y1="160.39" x2="566" y2="160.39" stroke="#777" stroke-width="0.7"/>
<text x="556" y="162.59" font-size="6.3" text-anchor="end" fill="#111">25</text>
<line x1="561" y1="147.64" x2="566" y2="147.64" stroke="#777" stroke-width="0.7"/>
<text x="556" y="149.84" font-size="6.3" text-anchor="end" fill="#111">30</text>
<line x1="561" y1="134.9" x2="566" y2="134.9" stroke="#777" stroke-width="0.7"/>
<text x="556" y="137.1" font-size="6.3" text-anchor="end" fill="#111">35</text>
<line x1="561" y1="217.73" x2="566" y2="217.73" stroke="#777" stroke-width="0.7"/>
<line x1="561" y1="204.99" x2="566" y2="204.99" stroke="#777" stroke-width="0.7"/>
<line x1="561" y1="192.24" x2="566" y2="192.24" stroke="#777" stroke-width="0.7"/>
<line x1="561" y1="179.5" x2="566" y2="179.5" stroke="#777" stroke-width="0.7"/>
<line x1="561" y1="166.76" x2="566" y2="166.76" stroke="#777" stroke-width="0.7"/>
<line x1="561" y1="154.01" x2="566" y2="154.01" stroke="#777" stroke-width="0.7"/>
<line x1="561" y1="141.27" x2="566" y2="141.27" stroke="#777" stroke-width="0.7"/>
<text x="574.6" y="233.5" font-size="6.35" text-anchor="middle" fill="#222">DC</text>
<text x="587.25" y="233.5" font-size="6.35" text-anchor="middle" fill="#222">M&#934;</text>
<text x="599.9" y="233.5" font-size="6.35" text-anchor="middle" fill="#222">MC</text>
<text x="612.55" y="233.5" font-size="6.35" text-anchor="middle" fill="#222">ET</text>
<text x="625.2" y="233.5" font-size="6.35" text-anchor="middle" fill="#222">DT</text>
<text x="637.85" y="233.5" font-size="6.35" text-anchor="middle" fill="#222">EC</text>
<text x="650.5" y="233.5" font-size="6.35" text-anchor="middle" fill="#222">Mel</text>
<text x="663.15" y="233.5" font-size="6.35" text-anchor="middle" fill="#222">Fib</text>
<text x="675.8" y="233.5" font-size="6.35" text-anchor="middle" fill="#222">KC</text>
<text x="625" y="143.8" font-size="7.9" text-anchor="middle" fill="#111" textLength="24" lengthAdjust="spacingAndGlyphs">FOLR2</text>
<text x="540.8" y="179.5" font-size="7.5" text-anchor="middle" fill="#000" textLength="34.3" lengthAdjust="spacingAndGlyphs" transform="rotate(-90 540.8 179.5)">MS Signal</text>
<text x="202" y="261.5" font-size="14" text-anchor="start" fill="#000" font-weight="bold">j</text>
<line x1="229.2" y1="353.4" x2="352.6" y2="353.4" stroke="#b5b5b5" stroke-width="1"/>
<rect x="233.9" y="353.04" width="8.3" height="0.36" fill="#b0202a"/>
<rect x="246.48" y="352.69" width="8.3" height="0.71" fill="#b0202a"/>
<rect x="259.06" y="289.46" width="8.3" height="63.94" fill="#b0202a"/>
<rect x="259.41" y="289.81" width="7.6" height="63.59" fill="none" stroke="#8f1520" stroke-width="0.7"/>
<rect x="271.64" y="353.04" width="8.3" height="0.36" fill="#b0202a"/>
<rect x="284.22" y="353.04" width="8.3" height="0.36" fill="#b0202a"/>
<rect x="296.8" y="353.04" width="8.3" height="0.36" fill="#b0202a"/>
<rect x="309.38" y="353.04" width="8.3" height="0.36" fill="#b0202a"/>
<rect x="321.96" y="353.04" width="8.3" height="0.36" fill="#b0202a"/>
<rect x="334.5" y="353.04" width="15" height="0.36" fill="#b0202a"/>
<circle cx="234.9" cy="352.4" r="1.3" fill="#000"/>
<circle cx="236.56" cy="352.4" r="1.3" fill="#000"/>
<circle cx="239.41" cy="352.22" r="1.3" fill="#000"/>
<circle cx="241.62" cy="352.4" r="1.3" fill="#000"/>
<circle cx="247.06" cy="352.4" r="1.3" fill="#000"/>
<circle cx="249.41" cy="352.4" r="1.3" fill="#000"/>
<circle cx="251.86" cy="352.4" r="1.3" fill="#000"/>
<circle cx="254.15" cy="352.17" r="1.3" fill="#000"/>
<circle cx="272.46" cy="352.34" r="1.3" fill="#000"/>
<circle cx="274.5" cy="352.4" r="1.3" fill="#000"/>
<circle cx="276.56" cy="352.4" r="1.3" fill="#000"/>
<circle cx="279.36" cy="352.39" r="1.3" fill="#000"/>
<circle cx="285" cy="352.2" r="1.3" fill="#000"/>
<circle cx="287.45" cy="352.28" r="1.3" fill="#000"/>
<circle cx="289.22" cy="352.4" r="1.3" fill="#000"/>
<circle cx="291.64" cy="352.4" r="1.3" fill="#000"/>
<circle cx="297.72" cy="352.4" r="1.3" fill="#000"/>
<circle cx="299.78" cy="352.36" r="1.3" fill="#000"/>
<circle cx="301.77" cy="352.4" r="1.3" fill="#000"/>
<circle cx="304.07" cy="352.4" r="1.3" fill="#000"/>
<circle cx="310.52" cy="352.4" r="1.3" fill="#000"/>
<circle cx="312.13" cy="352.4" r="1.3" fill="#000"/>
<circle cx="314.34" cy="352.4" r="1.3" fill="#000"/>
<circle cx="317.21" cy="352.4" r="1.3" fill="#000"/>
<circle cx="323.15" cy="352.4" r="1.3" fill="#000"/>
<circle cx="324.97" cy="352.4" r="1.3" fill="#000"/>
<circle cx="327.34" cy="352.4" r="1.3" fill="#000"/>
<circle cx="329.45" cy="352.4" r="1.3" fill="#000"/>
<circle cx="336.13" cy="352.4" r="1.3" fill="#000"/>
<circle cx="338.53" cy="352.34" r="1.3" fill="#000"/>
<circle cx="340.87" cy="352.4" r="1.3" fill="#000"/>
<circle cx="343.23" cy="352.24" r="1.3" fill="#000"/>
<circle cx="345.28" cy="352.4" r="1.3" fill="#000"/>
<circle cx="348.17" cy="352.4" r="1.3" fill="#000"/>
<line x1="263.21" y1="281.96" x2="263.21" y2="289.46" stroke="#c4c4c4" stroke-width="0.9"/>
<line x1="261.21" y1="281.96" x2="265.21" y2="281.96" stroke="#7a7a7a" stroke-width="0.75"/>
<line x1="263.21" y1="289.46" x2="263.21" y2="296.96" stroke="#1a1a1a" stroke-width="0.75"/>
<line x1="261.21" y1="296.96" x2="265.21" y2="296.96" stroke="#1a1a1a" stroke-width="0.75"/>
<circle cx="260.71" cy="273.03" r="1.35" fill="#000"/>
<circle cx="265.71" cy="271.24" r="1.35" fill="#000"/>
<circle cx="265.71" cy="274.1" r="1.35" fill="#000"/>
<circle cx="263.21" cy="300.53" r="1.35" fill="#000"/>
<circle cx="263.21" cy="305.18" r="1.35" fill="#000"/>
<circle cx="263.21" cy="308.04" r="1.35" fill="#000"/>
<line x1="229.2" y1="264.1" x2="229.2" y2="353.4" stroke="#666" stroke-width="0.8"/>
<line x1="225.6" y1="335.54" x2="229.2" y2="335.54" stroke="#777" stroke-width="0.7"/>
<text x="222.4" y="337.74" font-size="6.3" text-anchor="end" fill="#111">0,5</text>
<line x1="225.6" y1="317.68" x2="229.2" y2="317.68" stroke="#777" stroke-width="0.7"/>
<text x="222.4" y="319.88" font-size="6.3" text-anchor="end" fill="#111">1</text>
<line x1="225.6" y1="299.82" x2="229.2" y2="299.82" stroke="#777" stroke-width="0.7"/>
<text x="222.4" y="302.02" font-size="6.3" text-anchor="end" fill="#111">1,5</text>
<line x1="225.6" y1="281.96" x2="229.2" y2="281.96" stroke="#777" stroke-width="0.7"/>
<text x="222.4" y="284.16" font-size="6.3" text-anchor="end" fill="#111">2</text>
<line x1="225.6" y1="264.1" x2="229.2" y2="264.1" stroke="#777" stroke-width="0.7"/>
<text x="222.4" y="266.3" font-size="6.3" text-anchor="end" fill="#111">2,5</text>
<line x1="227.3" y1="344.47" x2="229.2" y2="344.47" stroke="#777" stroke-width="0.7"/>
<line x1="227.3" y1="326.61" x2="229.2" y2="326.61" stroke="#777" stroke-width="0.7"/>
<line x1="227.3" y1="308.75" x2="229.2" y2="308.75" stroke="#777" stroke-width="0.7"/>
<line x1="227.3" y1="290.89" x2="229.2" y2="290.89" stroke="#777" stroke-width="0.7"/>
<line x1="227.3" y1="273.03" x2="229.2" y2="273.03" stroke="#777" stroke-width="0.7"/>
<text x="238.05" y="362.8" font-size="6.35" text-anchor="middle" fill="#222">DC</text>
<text x="250.63" y="362.8" font-size="6.35" text-anchor="middle" fill="#222">M&#934;</text>
<text x="263.21" y="362.8" font-size="6.35" text-anchor="middle" fill="#222">MC</text>
<text x="275.79" y="362.8" font-size="6.35" text-anchor="middle" fill="#222">ET</text>
<text x="288.37" y="362.8" font-size="6.35" text-anchor="middle" fill="#222">DT</text>
<text x="300.95" y="362.8" font-size="6.35" text-anchor="middle" fill="#222">EC</text>
<text x="313.53" y="362.8" font-size="6.35" text-anchor="middle" fill="#222">Mel</text>
<text x="326.11" y="362.8" font-size="6.35" text-anchor="middle" fill="#222">Fib</text>
<text x="342" y="362.8" font-size="6.35" text-anchor="middle" fill="#222">KC</text>
<text x="291.05" y="263.1" font-size="7.9" text-anchor="middle" fill="#111" textLength="19.7" lengthAdjust="spacingAndGlyphs">CPA3</text>
<text x="209.2" y="308.75" font-size="7.5" text-anchor="middle" fill="#000" textLength="34.3" lengthAdjust="spacingAndGlyphs" transform="rotate(-90 209.2 308.75)">MS Signal</text>
<text x="232.2" y="265" font-size="8.5" text-anchor="start" fill="#000" textLength="23.6" lengthAdjust="spacingAndGlyphs">x1000</text>
<text x="367.3" y="259.9" font-size="14" text-anchor="start" fill="#000" font-weight="bold">k</text>
<line x1="394.4" y1="353.3" x2="519.5" y2="353.3" stroke="#b5b5b5" stroke-width="1"/>
<rect x="398.9" y="346.11" width="8.2" height="7.19" fill="#273e80"/>
<rect x="411.56" y="348.81" width="8.2" height="4.5" fill="#273e80"/>
<rect x="424.22" y="297.92" width="8.2" height="55.38" fill="#273e80"/>
<rect x="424.57" y="298.27" width="7.5" height="55.03" fill="none" stroke="#1b2d66" stroke-width="0.7"/>
<rect x="436.88" y="351.5" width="8.2" height="1.8" fill="#273e80"/>
<rect x="449.54" y="351.5" width="8.2" height="1.8" fill="#273e80"/>
<rect x="462.2" y="351.86" width="8.2" height="1.44" fill="#273e80"/>
<rect x="474.86" y="351.5" width="8.2" height="1.8" fill="#273e80"/>
<rect x="487.52" y="351.5" width="8.2" height="1.8" fill="#273e80"/>
<rect x="500" y="351.86" width="15" height="1.44" fill="#273e80"/>
<circle cx="399.52" cy="346.02" r="1.3" fill="#000"/>
<circle cx="402.28" cy="346.13" r="1.3" fill="#000"/>
<circle cx="404.08" cy="345.64" r="1.3" fill="#000"/>
<circle cx="405.99" cy="346.61" r="1.3" fill="#000"/>
<circle cx="412.58" cy="348.26" r="1.3" fill="#000"/>
<circle cx="414.64" cy="348.9" r="1.3" fill="#000"/>
<circle cx="417.08" cy="348.3" r="1.3" fill="#000"/>
<circle cx="418.79" cy="348.17" r="1.3" fill="#000"/>
<circle cx="437.77" cy="351.89" r="1.3" fill="#000"/>
<circle cx="440.07" cy="350.8" r="1.3" fill="#000"/>
<circle cx="441.97" cy="350.71" r="1.3" fill="#000"/>
<circle cx="443.99" cy="351.29" r="1.3" fill="#000"/>
<circle cx="450.08" cy="350.98" r="1.3" fill="#000"/>
<circle cx="452.34" cy="351.19" r="1.3" fill="#000"/>
<circle cx="455.02" cy="350.93" r="1.3" fill="#000"/>
<circle cx="457.01" cy="351.16" r="1.3" fill="#000"/>
<circle cx="462.85" cy="351.38" r="1.3" fill="#000"/>
<circle cx="465.43" cy="352.14" r="1.3" fill="#000"/>
<circle cx="467.58" cy="352.21" r="1.3" fill="#000"/>
<circle cx="469.76" cy="351.38" r="1.3" fill="#000"/>
<circle cx="475.47" cy="351.4" r="1.3" fill="#000"/>
<circle cx="477.95" cy="351.7" r="1.3" fill="#000"/>
<circle cx="480.38" cy="351.72" r="1.3" fill="#000"/>
<circle cx="482.62" cy="351.55" r="1.3" fill="#000"/>
<circle cx="488.49" cy="351.72" r="1.3" fill="#000"/>
<circle cx="490.52" cy="351.72" r="1.3" fill="#000"/>
<circle cx="493.01" cy="351.32" r="1.3" fill="#000"/>
<circle cx="494.77" cy="351.14" r="1.3" fill="#000"/>
<circle cx="501.59" cy="351.75" r="1.3" fill="#000"/>
<circle cx="503.9" cy="351.51" r="1.3" fill="#000"/>
<circle cx="506.49" cy="351.92" r="1.3" fill="#000"/>
<circle cx="509.05" cy="352.3" r="1.3" fill="#000"/>
<circle cx="510.71" cy="351.52" r="1.3" fill="#000"/>
<circle cx="513.69" cy="351.71" r="1.3" fill="#000"/>
<line x1="428.32" y1="284.08" x2="428.32" y2="297.92" stroke="#c4c4c4" stroke-width="0.9"/>
<line x1="426.32" y1="284.08" x2="430.32" y2="284.08" stroke="#7a7a7a" stroke-width="0.75"/>
<line x1="428.32" y1="297.92" x2="428.32" y2="311.95" stroke="#1a1a1a" stroke-width="0.75"/>
<line x1="426.32" y1="311.95" x2="430.32" y2="311.95" stroke="#1a1a1a" stroke-width="0.75"/>
<line x1="403" y1="344.31" x2="403" y2="346.11" stroke="#c4c4c4" stroke-width="0.9"/>
<line x1="401" y1="344.31" x2="405" y2="344.31" stroke="#7a7a7a" stroke-width="0.75"/>
<line x1="403" y1="346.11" x2="403" y2="347.91" stroke="#1a1a1a" stroke-width="0.75"/>
<line x1="401" y1="347.91" x2="405" y2="347.91" stroke="#1a1a1a" stroke-width="0.75"/>
<circle cx="425.32" cy="285.88" r="1.35" fill="#000"/>
<circle cx="428.32" cy="287.67" r="1.35" fill="#000"/>
<circle cx="431.32" cy="287.67" r="1.35" fill="#000"/>
<circle cx="428.32" cy="293.07" r="1.35" fill="#000"/>
<circle cx="428.32" cy="309.25" r="1.35" fill="#000"/>
<circle cx="428.32" cy="318.24" r="1.35" fill="#000"/>
<circle cx="401" cy="344.31" r="1.35" fill="#000"/>
<line x1="394.4" y1="263.4" x2="394.4" y2="353.3" stroke="#666" stroke-width="0.8"/>
<line x1="390.8" y1="335.32" x2="394.4" y2="335.32" stroke="#777" stroke-width="0.7"/>
<text x="387.6" y="337.52" font-size="6.3" text-anchor="end" fill="#111">1</text>
<line x1="390.8" y1="317.34" x2="394.4" y2="317.34" stroke="#777" stroke-width="0.7"/>
<text x="387.6" y="319.54" font-size="6.3" text-anchor="end" fill="#111">2</text>
<line x1="390.8" y1="299.36" x2="394.4" y2="299.36" stroke="#777" stroke-width="0.7"/>
<text x="387.6" y="301.56" font-size="6.3" text-anchor="end" fill="#111">3</text>
<line x1="390.8" y1="281.38" x2="394.4" y2="281.38" stroke="#777" stroke-width="0.7"/>
<text x="387.6" y="283.58" font-size="6.3" text-anchor="end" fill="#111">4</text>
<line x1="390.8" y1="263.4" x2="394.4" y2="263.4" stroke="#777" stroke-width="0.7"/>
<text x="387.6" y="265.6" font-size="6.3" text-anchor="end" fill="#111">5</text>
<line x1="392.5" y1="344.31" x2="394.4" y2="344.31" stroke="#777" stroke-width="0.7"/>
<line x1="392.5" y1="326.33" x2="394.4" y2="326.33" stroke="#777" stroke-width="0.7"/>
<line x1="392.5" y1="308.35" x2="394.4" y2="308.35" stroke="#777" stroke-width="0.7"/>
<line x1="392.5" y1="290.37" x2="394.4" y2="290.37" stroke="#777" stroke-width="0.7"/>
<line x1="392.5" y1="272.39" x2="394.4" y2="272.39" stroke="#777" stroke-width="0.7"/>
<text x="403" y="362.7" font-size="6.35" text-anchor="middle" fill="#222">DC</text>
<text x="415.66" y="362.7" font-size="6.35" text-anchor="middle" fill="#222">M&#934;</text>
<text x="428.32" y="362.7" font-size="6.35" text-anchor="middle" fill="#222">MC</text>
<text x="440.98" y="362.7" font-size="6.35" text-anchor="middle" fill="#222">ET</text>
<text x="453.64" y="362.7" font-size="6.35" text-anchor="middle" fill="#222">DT</text>
<text x="466.3" y="362.7" font-size="6.35" text-anchor="middle" fill="#222">EC</text>
<text x="478.96" y="362.7" font-size="6.35" text-anchor="middle" fill="#222">Mel</text>
<text x="491.62" y="362.7" font-size="6.35" text-anchor="middle" fill="#222">Fib</text>
<text x="507.5" y="362.7" font-size="6.35" text-anchor="middle" fill="#222">KC</text>
<text x="457.05" y="264.9" font-size="7.9" text-anchor="middle" fill="#111" textLength="18.1" lengthAdjust="spacingAndGlyphs">LAT2</text>
<text x="373.3" y="308.35" font-size="7.5" text-anchor="middle" fill="#000" textLength="34.3" lengthAdjust="spacingAndGlyphs" transform="rotate(-90 373.3 308.35)">MS Signal</text>
<text x="534.4" y="259.2" font-size="14" text-anchor="start" fill="#000" font-weight="bold">l</text>
<line x1="566" y1="353.1" x2="685" y2="353.1" stroke="#b5b5b5" stroke-width="1"/>
<rect x="570.35" y="351.98" width="8.5" height="1.12" fill="#000"/>
<rect x="583" y="351.98" width="8.5" height="1.12" fill="#000"/>
<rect x="595.65" y="317.93" width="8.5" height="35.17" fill="#000"/>
<rect x="596" y="318.28" width="7.8" height="34.82" fill="none" stroke="#000" stroke-width="0.7"/>
<rect x="608.3" y="351.98" width="8.5" height="1.12" fill="#000"/>
<rect x="620.95" y="351.98" width="8.5" height="1.12" fill="#000"/>
<rect x="633.6" y="352.2" width="8.5" height="0.9" fill="#000"/>
<rect x="646.25" y="351.6" width="8.5" height="1.5" fill="#000"/>
<rect x="658.9" y="351.6" width="8.5" height="1.5" fill="#000"/>
<rect x="671.55" y="352.2" width="8.5" height="0.9" fill="#000"/>
<circle cx="570.9" cy="352.1" r="1.3" fill="#888888"/>
<circle cx="573.77" cy="351.62" r="1.3" fill="#888888"/>
<circle cx="575.55" cy="351.35" r="1.3" fill="#888888"/>
<circle cx="577.66" cy="351.38" r="1.3" fill="#888888"/>
<circle cx="583.61" cy="352.1" r="1.3" fill="#888888"/>
<circle cx="585.87" cy="351.34" r="1.3" fill="#888888"/>
<circle cx="588.73" cy="352.1" r="1.3" fill="#888888"/>
<circle cx="590.33" cy="351.53" r="1.3" fill="#888888"/>
<circle cx="609.54" cy="351.62" r="1.3" fill="#888888"/>
<circle cx="611.52" cy="352.05" r="1.3" fill="#888888"/>
<circle cx="613.8" cy="351.15" r="1.3" fill="#888888"/>
<circle cx="616.13" cy="352.1" r="1.3" fill="#888888"/>
<circle cx="621.76" cy="351.56" r="1.3" fill="#888888"/>
<circle cx="624.24" cy="352.1" r="1.3" fill="#888888"/>
<circle cx="626.69" cy="351.36" r="1.3" fill="#888888"/>
<circle cx="628.81" cy="351.76" r="1.3" fill="#888888"/>
<circle cx="634.84" cy="352.1" r="1.3" fill="#888888"/>
<circle cx="636.7" cy="352.1" r="1.3" fill="#888888"/>
<circle cx="639.29" cy="351.46" r="1.3" fill="#888888"/>
<circle cx="641.17" cy="352.1" r="1.3" fill="#888888"/>
<circle cx="646.89" cy="351.32" r="1.3" fill="#888888"/>
<circle cx="649.47" cy="351.2" r="1.3" fill="#888888"/>
<circle cx="651.86" cy="350.96" r="1.3" fill="#888888"/>
<circle cx="653.98" cy="351.48" r="1.3" fill="#888888"/>
<circle cx="659.37" cy="351.81" r="1.3" fill="#888888"/>
<circle cx="662.25" cy="351.9" r="1.3" fill="#888888"/>
<circle cx="664.04" cy="351.45" r="1.3" fill="#888888"/>
<circle cx="666.27" cy="351.73" r="1.3" fill="#888888"/>
<circle cx="672.49" cy="352.1" r="1.3" fill="#888888"/>
<circle cx="674.38" cy="351.66" r="1.3" fill="#888888"/>
<circle cx="676.59" cy="352.1" r="1.3" fill="#888888"/>
<circle cx="679.32" cy="351.5" r="1.3" fill="#888888"/>
<line x1="599.9" y1="309.47" x2="599.9" y2="317.93" stroke="#d4d4d4" stroke-width="0.9"/>
<line x1="597.9" y1="309.47" x2="601.9" y2="309.47" stroke="#b0b0b0" stroke-width="0.75"/>
<line x1="599.9" y1="317.93" x2="599.9" y2="326.16" stroke="#8a8a8a" stroke-width="0.75"/>
<line x1="597.9" y1="326.16" x2="601.9" y2="326.16" stroke="#8a8a8a" stroke-width="0.75"/>
<circle cx="599.9" cy="277.07" r="1.35" fill="#888888"/>
<circle cx="596.5" cy="323.47" r="1.35" fill="#888888"/>
<circle cx="599.9" cy="322.72" r="1.35" fill="#888888"/>
<circle cx="602.9" cy="324.29" r="1.35" fill="#888888"/>
<circle cx="599.9" cy="327.96" r="1.35" fill="#888888"/>
<circle cx="597.9" cy="329.6" r="1.35" fill="#888888"/>
<line x1="566" y1="263.3" x2="566" y2="353.1" stroke="#666" stroke-width="0.8"/>
<line x1="561" y1="338.13" x2="566" y2="338.13" stroke="#777" stroke-width="0.7"/>
<text x="556" y="340.33" font-size="6.3" text-anchor="end" fill="#111">2</text>
<line x1="561" y1="323.17" x2="566" y2="323.17" stroke="#777" stroke-width="0.7"/>
<text x="556" y="325.37" font-size="6.3" text-anchor="end" fill="#111">4</text>
<line x1="561" y1="308.2" x2="566" y2="308.2" stroke="#777" stroke-width="0.7"/>
<text x="556" y="310.4" font-size="6.3" text-anchor="end" fill="#111">6</text>
<line x1="561" y1="293.23" x2="566" y2="293.23" stroke="#777" stroke-width="0.7"/>
<text x="556" y="295.43" font-size="6.3" text-anchor="end" fill="#111">8</text>
<line x1="561" y1="278.27" x2="566" y2="278.27" stroke="#777" stroke-width="0.7"/>
<text x="556" y="280.47" font-size="6.3" text-anchor="end" fill="#111">10</text>
<line x1="561" y1="263.3" x2="566" y2="263.3" stroke="#777" stroke-width="0.7"/>
<text x="556" y="265.5" font-size="6.3" text-anchor="end" fill="#111">12</text>
<line x1="561" y1="345.62" x2="566" y2="345.62" stroke="#777" stroke-width="0.7"/>
<line x1="561" y1="330.65" x2="566" y2="330.65" stroke="#777" stroke-width="0.7"/>
<line x1="561" y1="315.68" x2="566" y2="315.68" stroke="#777" stroke-width="0.7"/>
<line x1="561" y1="300.72" x2="566" y2="300.72" stroke="#777" stroke-width="0.7"/>
<line x1="561" y1="285.75" x2="566" y2="285.75" stroke="#777" stroke-width="0.7"/>
<line x1="561" y1="270.78" x2="566" y2="270.78" stroke="#777" stroke-width="0.7"/>
<text x="574.6" y="362.5" font-size="6.35" text-anchor="middle" fill="#222">DC</text>
<text x="587.25" y="362.5" font-size="6.35" text-anchor="middle" fill="#222">M&#934;</text>
<text x="599.9" y="362.5" font-size="6.35" text-anchor="middle" fill="#222">MC</text>
<text x="612.55" y="362.5" font-size="6.35" text-anchor="middle" fill="#222">ET</text>
<text x="625.2" y="362.5" font-size="6.35" text-anchor="middle" fill="#222">DT</text>
<text x="637.85" y="362.5" font-size="6.35" text-anchor="middle" fill="#222">EC</text>
<text x="650.5" y="362.5" font-size="6.35" text-anchor="middle" fill="#222">Mel</text>
<text x="663.15" y="362.5" font-size="6.35" text-anchor="middle" fill="#222">Fib</text>
<text x="675.8" y="362.5" font-size="6.35" text-anchor="middle" fill="#222">KC</text>
<text x="625.4" y="263.6" font-size="7.9" text-anchor="middle" fill="#111" textLength="23.2" lengthAdjust="spacingAndGlyphs">SYTL3</text>
<text x="540.8" y="308.2" font-size="7.5" text-anchor="middle" fill="#000" textLength="34.3" lengthAdjust="spacingAndGlyphs" transform="rotate(-90 540.8 308.2)">MS Signal</text>
<text x="202" y="389.1" font-size="14" text-anchor="start" fill="#000" font-weight="bold">n</text>
<line x1="229.2" y1="481.1" x2="352.6" y2="481.1" stroke="#b5b5b5" stroke-width="1"/>
<rect x="233.9" y="479.67" width="8.3" height="1.43" fill="#b0202a"/>
<rect x="246.48" y="478.42" width="8.3" height="2.68" fill="#b0202a"/>
<rect x="259.06" y="478.96" width="8.3" height="2.14" fill="#b0202a"/>
<rect x="271.64" y="433.41" width="8.3" height="47.69" fill="#b0202a"/>
<rect x="271.99" y="433.76" width="7.6" height="47.34" fill="none" stroke="#8f1520" stroke-width="0.7"/>
<rect x="284.22" y="446.81" width="8.3" height="34.29" fill="#b0202a"/>
<rect x="284.57" y="447.16" width="7.6" height="33.94" fill="none" stroke="#8f1520" stroke-width="0.7"/>
<rect x="296.8" y="479.31" width="8.3" height="1.79" fill="#b0202a"/>
<rect x="309.38" y="479.85" width="8.3" height="1.25" fill="#b0202a"/>
<rect x="321.96" y="479.85" width="8.3" height="1.25" fill="#b0202a"/>
<rect x="334.5" y="480.03" width="15" height="1.07" fill="#b0202a"/>
<circle cx="235.08" cy="479.31" r="1.3" fill="#000"/>
<circle cx="237.2" cy="479.12" r="1.3" fill="#000"/>
<circle cx="239.14" cy="479.15" r="1.3" fill="#000"/>
<circle cx="241.4" cy="478.88" r="1.3" fill="#000"/>
<circle cx="247.24" cy="477.96" r="1.3" fill="#000"/>
<circle cx="249.16" cy="478.66" r="1.3" fill="#000"/>
<circle cx="252.07" cy="477.73" r="1.3" fill="#000"/>
<circle cx="254.06" cy="478.26" r="1.3" fill="#000"/>
<circle cx="259.83" cy="478.88" r="1.3" fill="#000"/>
<circle cx="262.23" cy="478.45" r="1.3" fill="#000"/>
<circle cx="264.21" cy="478.77" r="1.3" fill="#000"/>
<circle cx="266.92" cy="479.36" r="1.3" fill="#000"/>
<circle cx="297.85" cy="479.06" r="1.3" fill="#000"/>
<circle cx="300.17" cy="479.78" r="1.3" fill="#000"/>
<circle cx="302.36" cy="478.69" r="1.3" fill="#000"/>
<circle cx="304.2" cy="478.73" r="1.3" fill="#000"/>
<circle cx="310.17" cy="480.1" r="1.3" fill="#000"/>
<circle cx="312.42" cy="479.41" r="1.3" fill="#000"/>
<circle cx="314.37" cy="479.15" r="1.3" fill="#000"/>
<circle cx="317.11" cy="480.1" r="1.3" fill="#000"/>
<circle cx="323.1" cy="478.96" r="1.3" fill="#000"/>
<circle cx="324.82" cy="479.15" r="1.3" fill="#000"/>
<circle cx="327.19" cy="479.23" r="1.3" fill="#000"/>
<circle cx="329.42" cy="479.58" r="1.3" fill="#000"/>
<circle cx="336.11" cy="479.85" r="1.3" fill="#000"/>
<circle cx="338.4" cy="479.19" r="1.3" fill="#000"/>
<circle cx="341.15" cy="479.73" r="1.3" fill="#000"/>
<circle cx="343.5" cy="479.58" r="1.3" fill="#000"/>
<circle cx="345.27" cy="480.1" r="1.3" fill="#000"/>
<circle cx="347.99" cy="479.37" r="1.3" fill="#000"/>
<line x1="275.79" y1="426.63" x2="275.79" y2="433.41" stroke="#c4c4c4" stroke-width="0.9"/>
<line x1="273.79" y1="426.63" x2="277.79" y2="426.63" stroke="#7a7a7a" stroke-width="0.75"/>
<line x1="275.79" y1="433.41" x2="275.79" y2="440.02" stroke="#1a1a1a" stroke-width="0.75"/>
<line x1="273.79" y1="440.02" x2="277.79" y2="440.02" stroke="#1a1a1a" stroke-width="0.75"/>
<line x1="288.37" y1="440.74" x2="288.37" y2="446.81" stroke="#c4c4c4" stroke-width="0.9"/>
<line x1="286.37" y1="440.74" x2="290.37" y2="440.74" stroke="#7a7a7a" stroke-width="0.75"/>
<line x1="288.37" y1="446.81" x2="288.37" y2="452.52" stroke="#1a1a1a" stroke-width="0.75"/>
<line x1="286.37" y1="452.52" x2="290.37" y2="452.52" stroke="#1a1a1a" stroke-width="0.75"/>
<circle cx="275.79" cy="411.45" r="1.35" fill="#000"/>
<circle cx="275.79" cy="416.8" r="1.35" fill="#000"/>
<circle cx="275.79" cy="434.66" r="1.35" fill="#000"/>
<circle cx="275.79" cy="440.02" r="1.35" fill="#000"/>
<circle cx="275.79" cy="445.38" r="1.35" fill="#000"/>
<circle cx="275.79" cy="449.85" r="1.35" fill="#000"/>
<circle cx="288.37" cy="431.09" r="1.35" fill="#000"/>
<circle cx="288.37" cy="435.56" r="1.35" fill="#000"/>
<circle cx="288.37" cy="444.49" r="1.35" fill="#000"/>
<circle cx="288.37" cy="448.06" r="1.35" fill="#000"/>
<circle cx="288.37" cy="455.2" r="1.35" fill="#000"/>
<circle cx="288.37" cy="464.13" r="1.35" fill="#000"/>
<circle cx="250.63" cy="473.96" r="1.35" fill="#000"/>
<line x1="229.2" y1="391.8" x2="229.2" y2="481.1" stroke="#666" stroke-width="0.8"/>
<line x1="225.6" y1="463.24" x2="229.2" y2="463.24" stroke="#777" stroke-width="0.7"/>
<text x="222.4" y="465.44" font-size="6.3" text-anchor="end" fill="#111">1</text>
<line x1="225.6" y1="445.38" x2="229.2" y2="445.38" stroke="#777" stroke-width="0.7"/>
<text x="222.4" y="447.58" font-size="6.3" text-anchor="end" fill="#111">2</text>
<line x1="225.6" y1="427.52" x2="229.2" y2="427.52" stroke="#777" stroke-width="0.7"/>
<text x="222.4" y="429.72" font-size="6.3" text-anchor="end" fill="#111">3</text>
<line x1="225.6" y1="409.66" x2="229.2" y2="409.66" stroke="#777" stroke-width="0.7"/>
<text x="222.4" y="411.86" font-size="6.3" text-anchor="end" fill="#111">4</text>
<line x1="225.6" y1="391.8" x2="229.2" y2="391.8" stroke="#777" stroke-width="0.7"/>
<text x="222.4" y="394" font-size="6.3" text-anchor="end" fill="#111">5</text>
<line x1="227.3" y1="472.17" x2="229.2" y2="472.17" stroke="#777" stroke-width="0.7"/>
<line x1="227.3" y1="454.31" x2="229.2" y2="454.31" stroke="#777" stroke-width="0.7"/>
<line x1="227.3" y1="436.45" x2="229.2" y2="436.45" stroke="#777" stroke-width="0.7"/>
<line x1="227.3" y1="418.59" x2="229.2" y2="418.59" stroke="#777" stroke-width="0.7"/>
<line x1="227.3" y1="400.73" x2="229.2" y2="400.73" stroke="#777" stroke-width="0.7"/>
<text x="238.05" y="490.5" font-size="6.35" text-anchor="middle" fill="#222">DC</text>
<text x="250.63" y="490.5" font-size="6.35" text-anchor="middle" fill="#222">M&#934;</text>
<text x="263.21" y="490.5" font-size="6.35" text-anchor="middle" fill="#222">MC</text>
<text x="275.79" y="490.5" font-size="6.35" text-anchor="middle" fill="#222">ET</text>
<text x="288.37" y="490.5" font-size="6.35" text-anchor="middle" fill="#222">DT</text>
<text x="300.95" y="490.5" font-size="6.35" text-anchor="middle" fill="#222">EC</text>
<text x="313.53" y="490.5" font-size="6.35" text-anchor="middle" fill="#222">Mel</text>
<text x="326.11" y="490.5" font-size="6.35" text-anchor="middle" fill="#222">Fib</text>
<text x="342" y="490.5" font-size="6.35" text-anchor="middle" fill="#222">KC</text>
<text x="291.35" y="391.6" font-size="7.9" text-anchor="middle" fill="#111" textLength="19.1" lengthAdjust="spacingAndGlyphs">CD3&#948;</text>
<text x="209.2" y="436.45" font-size="7.5" text-anchor="middle" fill="#000" textLength="34.3" lengthAdjust="spacingAndGlyphs" transform="rotate(-90 209.2 436.45)">MS Signal</text>
<text x="367.3" y="388.8" font-size="14" text-anchor="start" fill="#000" font-weight="bold">o</text>
<line x1="394.4" y1="481.1" x2="519.5" y2="481.1" stroke="#b5b5b5" stroke-width="1"/>
<rect x="398.9" y="479.32" width="8.2" height="1.78" fill="#273e80"/>
<rect x="411.56" y="478.87" width="8.2" height="2.23" fill="#273e80"/>
<rect x="424.22" y="479.32" width="8.2" height="1.78" fill="#273e80"/>
<rect x="436.88" y="426.91" width="8.2" height="54.19" fill="#273e80"/>
<rect x="437.23" y="427.26" width="7.5" height="53.84" fill="none" stroke="#1b2d66" stroke-width="0.7"/>
<rect x="449.54" y="433.6" width="8.2" height="47.5" fill="#273e80"/>
<rect x="449.89" y="433.95" width="7.5" height="47.15" fill="none" stroke="#1b2d66" stroke-width="0.7"/>
<rect x="462.2" y="478.87" width="8.2" height="2.23" fill="#273e80"/>
<rect x="474.86" y="478.87" width="8.2" height="2.23" fill="#273e80"/>
<rect x="487.52" y="478.87" width="8.2" height="2.23" fill="#273e80"/>
<rect x="500" y="479.76" width="15" height="1.34" fill="#273e80"/>
<circle cx="399.98" cy="478.71" r="1.3" fill="#000"/>
<circle cx="402.26" cy="479.11" r="1.3" fill="#000"/>
<circle cx="404.01" cy="479.28" r="1.3" fill="#000"/>
<circle cx="406.02" cy="478.69" r="1.3" fill="#000"/>
<circle cx="412.32" cy="478.29" r="1.3" fill="#000"/>
<circle cx="414.7" cy="478.55" r="1.3" fill="#000"/>
<circle cx="416.66" cy="478.36" r="1.3" fill="#000"/>
<circle cx="418.72" cy="478.97" r="1.3" fill="#000"/>
<circle cx="425.36" cy="478.91" r="1.3" fill="#000"/>
<circle cx="427.47" cy="478.85" r="1.3" fill="#000"/>
<circle cx="429.62" cy="478.75" r="1.3" fill="#000"/>
<circle cx="431.65" cy="478.99" r="1.3" fill="#000"/>
<circle cx="463.32" cy="479.04" r="1.3" fill="#000"/>
<circle cx="464.89" cy="478.11" r="1.3" fill="#000"/>
<circle cx="467.36" cy="478.27" r="1.3" fill="#000"/>
<circle cx="469.37" cy="479.3" r="1.3" fill="#000"/>
<circle cx="476.03" cy="477.99" r="1.3" fill="#000"/>
<circle cx="477.48" cy="478.85" r="1.3" fill="#000"/>
<circle cx="480.41" cy="479.21" r="1.3" fill="#000"/>
<circle cx="482.39" cy="479.01" r="1.3" fill="#000"/>
<circle cx="488.33" cy="478.66" r="1.3" fill="#000"/>
<circle cx="490.81" cy="478.12" r="1.3" fill="#000"/>
<circle cx="492.86" cy="478.98" r="1.3" fill="#000"/>
<circle cx="494.62" cy="479.05" r="1.3" fill="#000"/>
<circle cx="501.23" cy="480.1" r="1.3" fill="#000"/>
<circle cx="504.11" cy="479.5" r="1.3" fill="#000"/>
<circle cx="506.37" cy="480.1" r="1.3" fill="#000"/>
<circle cx="508.59" cy="479.15" r="1.3" fill="#000"/>
<circle cx="511.25" cy="480.1" r="1.3" fill="#000"/>
<circle cx="513.22" cy="479.93" r="1.3" fill="#000"/>
<line x1="440.98" y1="418.66" x2="440.98" y2="426.91" stroke="#c4c4c4" stroke-width="0.9"/>
<line x1="438.98" y1="418.66" x2="442.98" y2="418.66" stroke="#7a7a7a" stroke-width="0.75"/>
<line x1="440.98" y1="426.91" x2="440.98" y2="435.38" stroke="#1a1a1a" stroke-width="0.75"/>
<line x1="438.98" y1="435.38" x2="442.98" y2="435.38" stroke="#1a1a1a" stroke-width="0.75"/>
<line x1="453.64" y1="426.46" x2="453.64" y2="433.6" stroke="#c4c4c4" stroke-width="0.9"/>
<line x1="451.64" y1="426.46" x2="455.64" y2="426.46" stroke="#7a7a7a" stroke-width="0.75"/>
<line x1="453.64" y1="433.6" x2="453.64" y2="440.96" stroke="#1a1a1a" stroke-width="0.75"/>
<line x1="451.64" y1="440.96" x2="455.64" y2="440.96" stroke="#1a1a1a" stroke-width="0.75"/>
<circle cx="440.98" cy="399.7" r="1.35" fill="#000"/>
<circle cx="440.98" cy="405.28" r="1.35" fill="#000"/>
<circle cx="440.98" cy="417.54" r="1.35" fill="#000"/>
<circle cx="440.98" cy="440.96" r="1.35" fill="#000"/>
<circle cx="438.48" cy="448.76" r="1.35" fill="#000"/>
<circle cx="443.48" cy="449.88" r="1.35" fill="#000"/>
<circle cx="453.64" cy="408.62" r="1.35" fill="#000"/>
<circle cx="453.64" cy="420.89" r="1.35" fill="#000"/>
<circle cx="453.64" cy="430.93" r="1.35" fill="#000"/>
<circle cx="453.64" cy="446.54" r="1.35" fill="#000"/>
<circle cx="451.14" cy="447.65" r="1.35" fill="#000"/>
<circle cx="456.14" cy="447.65" r="1.35" fill="#000"/>
<line x1="394.4" y1="391.9" x2="394.4" y2="481.1" stroke="#666" stroke-width="0.8"/>
<line x1="390.8" y1="458.8" x2="394.4" y2="458.8" stroke="#777" stroke-width="0.7"/>
<text x="387.6" y="461" font-size="6.3" text-anchor="end" fill="#111">1</text>
<line x1="390.8" y1="436.5" x2="394.4" y2="436.5" stroke="#777" stroke-width="0.7"/>
<text x="387.6" y="438.7" font-size="6.3" text-anchor="end" fill="#111">2</text>
<line x1="390.8" y1="414.2" x2="394.4" y2="414.2" stroke="#777" stroke-width="0.7"/>
<text x="387.6" y="416.4" font-size="6.3" text-anchor="end" fill="#111">3</text>
<line x1="390.8" y1="391.9" x2="394.4" y2="391.9" stroke="#777" stroke-width="0.7"/>
<text x="387.6" y="394.1" font-size="6.3" text-anchor="end" fill="#111">4</text>
<line x1="392.5" y1="469.95" x2="394.4" y2="469.95" stroke="#777" stroke-width="0.7"/>
<line x1="392.5" y1="447.65" x2="394.4" y2="447.65" stroke="#777" stroke-width="0.7"/>
<line x1="392.5" y1="425.35" x2="394.4" y2="425.35" stroke="#777" stroke-width="0.7"/>
<line x1="392.5" y1="403.05" x2="394.4" y2="403.05" stroke="#777" stroke-width="0.7"/>
<text x="403" y="490.5" font-size="6.35" text-anchor="middle" fill="#222">DC</text>
<text x="415.66" y="490.5" font-size="6.35" text-anchor="middle" fill="#222">M&#934;</text>
<text x="428.32" y="490.5" font-size="6.35" text-anchor="middle" fill="#222">MC</text>
<text x="440.98" y="490.5" font-size="6.35" text-anchor="middle" fill="#222">ET</text>
<text x="453.64" y="490.5" font-size="6.35" text-anchor="middle" fill="#222">DT</text>
<text x="466.3" y="490.5" font-size="6.35" text-anchor="middle" fill="#222">EC</text>
<text x="478.96" y="490.5" font-size="6.35" text-anchor="middle" fill="#222">Mel</text>
<text x="491.62" y="490.5" font-size="6.35" text-anchor="middle" fill="#222">Fib</text>
<text x="507.5" y="490.5" font-size="6.35" text-anchor="middle" fill="#222">KC</text>
<text x="457.35" y="390.3" font-size="7.9" text-anchor="middle" fill="#111" textLength="35.5" lengthAdjust="spacingAndGlyphs">PTPRCAP</text>
<text x="373.3" y="436.5" font-size="7.5" text-anchor="middle" fill="#000" textLength="34.3" lengthAdjust="spacingAndGlyphs" transform="rotate(-90 373.3 436.5)">MS Signal</text>
<text x="534.4" y="389" font-size="14" text-anchor="start" fill="#000" font-weight="bold">p</text>
<line x1="566" y1="481.1" x2="685" y2="481.1" stroke="#b5b5b5" stroke-width="1"/>
<rect x="570.35" y="479.31" width="8.5" height="1.79" fill="#000"/>
<rect x="583" y="478.42" width="8.5" height="2.68" fill="#000"/>
<rect x="595.65" y="479.67" width="8.5" height="1.43" fill="#000"/>
<rect x="608.3" y="442.66" width="8.5" height="38.44" fill="#000"/>
<rect x="608.65" y="443.01" width="7.8" height="38.09" fill="none" stroke="#000" stroke-width="0.7"/>
<rect x="620.95" y="425.14" width="8.5" height="55.96" fill="#000"/>
<rect x="621.3" y="425.49" width="7.8" height="55.61" fill="none" stroke="#000" stroke-width="0.7"/>
<rect x="633.6" y="478.42" width="8.5" height="2.68" fill="#000"/>
<rect x="646.25" y="479.31" width="8.5" height="1.79" fill="#000"/>
<rect x="658.9" y="479.31" width="8.5" height="1.79" fill="#000"/>
<rect x="671.55" y="475.74" width="8.5" height="5.36" fill="#000"/>
<circle cx="571.18" cy="479.34" r="1.3" fill="#888888"/>
<circle cx="573.56" cy="479.39" r="1.3" fill="#888888"/>
<circle cx="576.06" cy="479.46" r="1.3" fill="#888888"/>
<circle cx="577.73" cy="478.72" r="1.3" fill="#888888"/>
<circle cx="583.81" cy="478.06" r="1.3" fill="#888888"/>
<circle cx="586.49" cy="478.54" r="1.3" fill="#888888"/>
<circle cx="588.36" cy="478.01" r="1.3" fill="#888888"/>
<circle cx="590.43" cy="478.36" r="1.3" fill="#888888"/>
<circle cx="596.84" cy="479" r="1.3" fill="#888888"/>
<circle cx="598.73" cy="479.25" r="1.3" fill="#888888"/>
<circle cx="601.12" cy="479.13" r="1.3" fill="#888888"/>
<circle cx="602.95" cy="479.72" r="1.3" fill="#888888"/>
<circle cx="634.3" cy="478.42" r="1.3" fill="#888888"/>
<circle cx="637.04" cy="478.33" r="1.3" fill="#888888"/>
<circle cx="639.31" cy="478.64" r="1.3" fill="#888888"/>
<circle cx="640.9" cy="477.86" r="1.3" fill="#888888"/>
<circle cx="647.23" cy="479.08" r="1.3" fill="#888888"/>
<circle cx="648.97" cy="479.56" r="1.3" fill="#888888"/>
<circle cx="651.75" cy="479.02" r="1.3" fill="#888888"/>
<circle cx="653.92" cy="478.65" r="1.3" fill="#888888"/>
<circle cx="659.79" cy="478.61" r="1.3" fill="#888888"/>
<circle cx="662.15" cy="479.73" r="1.3" fill="#888888"/>
<circle cx="664.06" cy="478.78" r="1.3" fill="#888888"/>
<circle cx="666.61" cy="479.64" r="1.3" fill="#888888"/>
<circle cx="672.14" cy="475.38" r="1.3" fill="#888888"/>
<circle cx="674.75" cy="475.07" r="1.3" fill="#888888"/>
<circle cx="676.59" cy="475.88" r="1.3" fill="#888888"/>
<circle cx="679.3" cy="475.65" r="1.3" fill="#888888"/>
<line x1="612.55" y1="434.61" x2="612.55" y2="442.66" stroke="#d4d4d4" stroke-width="0.9"/>
<line x1="610.55" y1="434.61" x2="614.55" y2="434.61" stroke="#b0b0b0" stroke-width="0.75"/>
<line x1="612.55" y1="442.66" x2="612.55" y2="450.7" stroke="#8a8a8a" stroke-width="0.75"/>
<line x1="610.55" y1="450.7" x2="614.55" y2="450.7" stroke="#8a8a8a" stroke-width="0.75"/>
<line x1="625.2" y1="420.31" x2="625.2" y2="425.14" stroke="#d4d4d4" stroke-width="0.9"/>
<line x1="623.2" y1="420.31" x2="627.2" y2="420.31" stroke="#b0b0b0" stroke-width="0.75"/>
<line x1="625.2" y1="425.14" x2="625.2" y2="430.14" stroke="#8a8a8a" stroke-width="0.75"/>
<line x1="623.2" y1="430.14" x2="627.2" y2="430.14" stroke="#8a8a8a" stroke-width="0.75"/>
<line x1="675.8" y1="472.16" x2="675.8" y2="475.74" stroke="#d4d4d4" stroke-width="0.9"/>
<line x1="673.8" y1="472.16" x2="677.8" y2="472.16" stroke="#b0b0b0" stroke-width="0.75"/>
<line x1="675.8" y1="475.74" x2="675.8" y2="479.31" stroke="#8a8a8a" stroke-width="0.75"/>
<line x1="673.8" y1="479.31" x2="677.8" y2="479.31" stroke="#8a8a8a" stroke-width="0.75"/>
<circle cx="612.55" cy="413.16" r="1.35" fill="#888888"/>
<circle cx="612.55" cy="426.57" r="1.35" fill="#888888"/>
<circle cx="612.55" cy="436.4" r="1.35" fill="#888888"/>
<circle cx="612.55" cy="456.96" r="1.35" fill="#888888"/>
<circle cx="610.05" cy="464.11" r="1.35" fill="#888888"/>
<circle cx="615.05" cy="464.11" r="1.35" fill="#888888"/>
<circle cx="625.2" cy="397.06" r="1.35" fill="#888888"/>
<circle cx="625.2" cy="417.63" r="1.35" fill="#888888"/>
<circle cx="625.2" cy="421.2" r="1.35" fill="#888888"/>
<circle cx="625.2" cy="431.04" r="1.35" fill="#888888"/>
<circle cx="625.2" cy="437.29" r="1.35" fill="#888888"/>
<circle cx="625.2" cy="448.02" r="1.35" fill="#888888"/>
<circle cx="675.8" cy="460.54" r="1.35" fill="#888888"/>
<circle cx="587.25" cy="473.95" r="1.35" fill="#888888"/>
<line x1="566" y1="391.7" x2="566" y2="481.1" stroke="#666" stroke-width="0.8"/>
<line x1="561" y1="463.22" x2="566" y2="463.22" stroke="#777" stroke-width="0.7"/>
<text x="556" y="465.42" font-size="6.3" text-anchor="end" fill="#111">1</text>
<line x1="561" y1="445.34" x2="566" y2="445.34" stroke="#777" stroke-width="0.7"/>
<text x="556" y="447.54" font-size="6.3" text-anchor="end" fill="#111">2</text>
<line x1="561" y1="427.46" x2="566" y2="427.46" stroke="#777" stroke-width="0.7"/>
<text x="556" y="429.66" font-size="6.3" text-anchor="end" fill="#111">3</text>
<line x1="561" y1="409.58" x2="566" y2="409.58" stroke="#777" stroke-width="0.7"/>
<text x="556" y="411.78" font-size="6.3" text-anchor="end" fill="#111">4</text>
<line x1="561" y1="391.7" x2="566" y2="391.7" stroke="#777" stroke-width="0.7"/>
<text x="556" y="393.9" font-size="6.3" text-anchor="end" fill="#111">5</text>
<line x1="561" y1="472.16" x2="566" y2="472.16" stroke="#777" stroke-width="0.7"/>
<line x1="561" y1="454.28" x2="566" y2="454.28" stroke="#777" stroke-width="0.7"/>
<line x1="561" y1="436.4" x2="566" y2="436.4" stroke="#777" stroke-width="0.7"/>
<line x1="561" y1="418.52" x2="566" y2="418.52" stroke="#777" stroke-width="0.7"/>
<line x1="561" y1="400.64" x2="566" y2="400.64" stroke="#777" stroke-width="0.7"/>
<text x="574.6" y="490.5" font-size="6.35" text-anchor="middle" fill="#222">DC</text>
<text x="587.25" y="490.5" font-size="6.35" text-anchor="middle" fill="#222">M&#934;</text>
<text x="599.9" y="490.5" font-size="6.35" text-anchor="middle" fill="#222">MC</text>
<text x="612.55" y="490.5" font-size="6.35" text-anchor="middle" fill="#222">ET</text>
<text x="625.2" y="490.5" font-size="6.35" text-anchor="middle" fill="#222">DT</text>
<text x="637.85" y="490.5" font-size="6.35" text-anchor="middle" fill="#222">EC</text>
<text x="650.5" y="490.5" font-size="6.35" text-anchor="middle" fill="#222">Mel</text>
<text x="663.15" y="490.5" font-size="6.35" text-anchor="middle" fill="#222">Fib</text>
<text x="675.8" y="490.5" font-size="6.35" text-anchor="middle" fill="#222">KC</text>
<text x="623.9" y="392" font-size="7.9" text-anchor="middle" fill="#111" textLength="30.6" lengthAdjust="spacingAndGlyphs">SEPTIN1</text>
<text x="540.8" y="436.4" font-size="7.5" text-anchor="middle" fill="#000" textLength="34.3" lengthAdjust="spacingAndGlyphs" transform="rotate(-90 540.8 436.4)">MS Signal</text>
<text x="202" y="517.3" font-size="14" text-anchor="start" fill="#000" font-weight="bold">r</text>
<line x1="229.2" y1="608.8" x2="352.6" y2="608.8" stroke="#b5b5b5" stroke-width="1"/>
<rect x="233.9" y="607.01" width="8.3" height="1.79" fill="#b0202a"/>
<rect x="246.48" y="603.44" width="8.3" height="5.36" fill="#b0202a"/>
<rect x="259.06" y="603.44" width="8.3" height="5.36" fill="#b0202a"/>
<rect x="271.64" y="605.23" width="8.3" height="3.57" fill="#b0202a"/>
<rect x="284.22" y="604.51" width="8.3" height="4.29" fill="#b0202a"/>
<rect x="296.8" y="549.86" width="8.3" height="58.94" fill="#b0202a"/>
<rect x="297.15" y="550.21" width="7.6" height="58.59" fill="none" stroke="#8f1520" stroke-width="0.7"/>
<rect x="309.38" y="604.51" width="8.3" height="4.29" fill="#b0202a"/>
<rect x="321.96" y="604.51" width="8.3" height="4.29" fill="#b0202a"/>
<rect x="334.5" y="607.01" width="15" height="1.79" fill="#b0202a"/>
<circle cx="234.52" cy="606.25" r="1.3" fill="#000"/>
<circle cx="237.08" cy="606.45" r="1.3" fill="#000"/>
<circle cx="239.26" cy="606.33" r="1.3" fill="#000"/>
<circle cx="241.75" cy="607.06" r="1.3" fill="#000"/>
<circle cx="247.15" cy="602.63" r="1.3" fill="#000"/>
<circle cx="249.79" cy="603.8" r="1.3" fill="#000"/>
<circle cx="251.61" cy="602.69" r="1.3" fill="#000"/>
<circle cx="254.33" cy="603.79" r="1.3" fill="#000"/>
<circle cx="259.86" cy="602.7" r="1.3" fill="#000"/>
<circle cx="262.3" cy="603.9" r="1.3" fill="#000"/>
<circle cx="264.16" cy="603.06" r="1.3" fill="#000"/>
<circle cx="266.83" cy="603.59" r="1.3" fill="#000"/>
<circle cx="272.8" cy="605.2" r="1.3" fill="#000"/>
<circle cx="274.47" cy="605.66" r="1.3" fill="#000"/>
<circle cx="277.14" cy="605.54" r="1.3" fill="#000"/>
<circle cx="278.98" cy="604.75" r="1.3" fill="#000"/>
<circle cx="285.43" cy="604.91" r="1.3" fill="#000"/>
<circle cx="286.94" cy="603.72" r="1.3" fill="#000"/>
<circle cx="289.18" cy="604.54" r="1.3" fill="#000"/>
<circle cx="291.49" cy="603.85" r="1.3" fill="#000"/>
<circle cx="310.23" cy="604.96" r="1.3" fill="#000"/>
<circle cx="312.41" cy="603.73" r="1.3" fill="#000"/>
<circle cx="314.35" cy="604.03" r="1.3" fill="#000"/>
<circle cx="316.72" cy="603.91" r="1.3" fill="#000"/>
<circle cx="322.46" cy="604.09" r="1.3" fill="#000"/>
<circle cx="324.78" cy="603.9" r="1.3" fill="#000"/>
<circle cx="326.88" cy="604.41" r="1.3" fill="#000"/>
<circle cx="329.64" cy="604.11" r="1.3" fill="#000"/>
<circle cx="335.69" cy="606.71" r="1.3" fill="#000"/>
<circle cx="338.06" cy="606.3" r="1.3" fill="#000"/>
<circle cx="340.61" cy="607.38" r="1.3" fill="#000"/>
<circle cx="342.85" cy="606.8" r="1.3" fill="#000"/>
<circle cx="345.21" cy="606.61" r="1.3" fill="#000"/>
<circle cx="348.38" cy="607.29" r="1.3" fill="#000"/>
<line x1="300.95" y1="545.58" x2="300.95" y2="549.86" stroke="#c4c4c4" stroke-width="0.9"/>
<line x1="298.95" y1="545.58" x2="302.95" y2="545.58" stroke="#7a7a7a" stroke-width="0.75"/>
<line x1="300.95" y1="549.86" x2="300.95" y2="554.15" stroke="#1a1a1a" stroke-width="0.75"/>
<line x1="298.95" y1="554.15" x2="302.95" y2="554.15" stroke="#1a1a1a" stroke-width="0.75"/>
<circle cx="298.95" cy="542.72" r="1.35" fill="#000"/>
<circle cx="300.95" cy="544.5" r="1.35" fill="#000"/>
<circle cx="302.95" cy="544.5" r="1.35" fill="#000"/>
<circle cx="300.95" cy="564.15" r="1.35" fill="#000"/>
<circle cx="253.13" cy="601.66" r="1.35" fill="#000"/>
<circle cx="263.21" cy="598.8" r="1.35" fill="#000"/>
<circle cx="275.79" cy="601.66" r="1.35" fill="#000"/>
<circle cx="288.37" cy="602.37" r="1.35" fill="#000"/>
<circle cx="315.53" cy="602.37" r="1.35" fill="#000"/>
<circle cx="326.11" cy="600.94" r="1.35" fill="#000"/>
<line x1="229.2" y1="519.5" x2="229.2" y2="608.8" stroke="#666" stroke-width="0.8"/>
<line x1="225.6" y1="590.94" x2="229.2" y2="590.94" stroke="#777" stroke-width="0.7"/>
<text x="222.4" y="593.14" font-size="6.3" text-anchor="end" fill="#111">0.5</text>
<line x1="225.6" y1="573.08" x2="229.2" y2="573.08" stroke="#777" stroke-width="0.7"/>
<text x="222.4" y="575.28" font-size="6.3" text-anchor="end" fill="#111">1.0</text>
<line x1="225.6" y1="555.22" x2="229.2" y2="555.22" stroke="#777" stroke-width="0.7"/>
<text x="222.4" y="557.42" font-size="6.3" text-anchor="end" fill="#111">1.5</text>
<line x1="225.6" y1="537.36" x2="229.2" y2="537.36" stroke="#777" stroke-width="0.7"/>
<text x="222.4" y="539.56" font-size="6.3" text-anchor="end" fill="#111">2.0</text>
<line x1="225.6" y1="519.5" x2="229.2" y2="519.5" stroke="#777" stroke-width="0.7"/>
<text x="222.4" y="521.7" font-size="6.3" text-anchor="end" fill="#111">2.5</text>
<line x1="227.3" y1="599.87" x2="229.2" y2="599.87" stroke="#777" stroke-width="0.7"/>
<line x1="227.3" y1="582.01" x2="229.2" y2="582.01" stroke="#777" stroke-width="0.7"/>
<line x1="227.3" y1="564.15" x2="229.2" y2="564.15" stroke="#777" stroke-width="0.7"/>
<line x1="227.3" y1="546.29" x2="229.2" y2="546.29" stroke="#777" stroke-width="0.7"/>
<line x1="227.3" y1="528.43" x2="229.2" y2="528.43" stroke="#777" stroke-width="0.7"/>
<text x="238.05" y="618.2" font-size="6.35" text-anchor="middle" fill="#222">DC</text>
<text x="250.63" y="618.2" font-size="6.35" text-anchor="middle" fill="#222">M&#934;</text>
<text x="263.21" y="618.2" font-size="6.35" text-anchor="middle" fill="#222">MC</text>
<text x="275.79" y="618.2" font-size="6.35" text-anchor="middle" fill="#222">ET</text>
<text x="288.37" y="618.2" font-size="6.35" text-anchor="middle" fill="#222">DT</text>
<text x="300.95" y="618.2" font-size="6.35" text-anchor="middle" fill="#222">EC</text>
<text x="313.53" y="618.2" font-size="6.35" text-anchor="middle" fill="#222">Mel</text>
<text x="326.11" y="618.2" font-size="6.35" text-anchor="middle" fill="#222">Fib</text>
<text x="342" y="618.2" font-size="6.35" text-anchor="middle" fill="#222">KC</text>
<text x="291" y="521.6" font-size="7.9" text-anchor="middle" fill="#111" textLength="20.2" lengthAdjust="spacingAndGlyphs">CDH5</text>
<text x="209.2" y="564.15" font-size="7.5" text-anchor="middle" fill="#000" textLength="34.3" lengthAdjust="spacingAndGlyphs" transform="rotate(-90 209.2 564.15)">MS Signal</text>
<text x="367.3" y="517.2" font-size="14" text-anchor="start" fill="#000" font-weight="bold">s</text>
<line x1="394.4" y1="609" x2="519.5" y2="609" stroke="#b5b5b5" stroke-width="1"/>
<rect x="398.9" y="608.55" width="8.2" height="0.45" fill="#273e80"/>
<rect x="411.56" y="607.31" width="8.2" height="1.69" fill="#273e80"/>
<rect x="424.22" y="608.55" width="8.2" height="0.45" fill="#273e80"/>
<rect x="436.88" y="608.55" width="8.2" height="0.45" fill="#273e80"/>
<rect x="449.54" y="608.44" width="8.2" height="0.56" fill="#273e80"/>
<rect x="462.2" y="560.68" width="8.2" height="48.32" fill="#273e80"/>
<rect x="462.55" y="561.03" width="7.5" height="47.97" fill="none" stroke="#1b2d66" stroke-width="0.7"/>
<rect x="474.86" y="608.55" width="8.2" height="0.45" fill="#273e80"/>
<rect x="487.52" y="608.55" width="8.2" height="0.45" fill="#273e80"/>
<rect x="500" y="608.66" width="15" height="0.34" fill="#273e80"/>
<circle cx="400.04" cy="607.93" r="1.3" fill="#000"/>
<circle cx="401.6" cy="607.81" r="1.3" fill="#000"/>
<circle cx="404.3" cy="608" r="1.3" fill="#000"/>
<circle cx="406.67" cy="608" r="1.3" fill="#000"/>
<circle cx="412.49" cy="607.38" r="1.3" fill="#000"/>
<circle cx="414.55" cy="607.18" r="1.3" fill="#000"/>
<circle cx="416.47" cy="606.47" r="1.3" fill="#000"/>
<circle cx="419.23" cy="607.54" r="1.3" fill="#000"/>
<circle cx="425.41" cy="608" r="1.3" fill="#000"/>
<circle cx="427.3" cy="607.88" r="1.3" fill="#000"/>
<circle cx="429.71" cy="608" r="1.3" fill="#000"/>
<circle cx="431.89" cy="608" r="1.3" fill="#000"/>
<circle cx="437.93" cy="608" r="1.3" fill="#000"/>
<circle cx="440.13" cy="608" r="1.3" fill="#000"/>
<circle cx="442.24" cy="608" r="1.3" fill="#000"/>
<circle cx="444.35" cy="608" r="1.3" fill="#000"/>
<circle cx="450.67" cy="608" r="1.3" fill="#000"/>
<circle cx="452.63" cy="607.86" r="1.3" fill="#000"/>
<circle cx="455.01" cy="608" r="1.3" fill="#000"/>
<circle cx="456.82" cy="608" r="1.3" fill="#000"/>
<circle cx="475.66" cy="608" r="1.3" fill="#000"/>
<circle cx="477.61" cy="608" r="1.3" fill="#000"/>
<circle cx="480.42" cy="608" r="1.3" fill="#000"/>
<circle cx="482.52" cy="608" r="1.3" fill="#000"/>
<circle cx="488.52" cy="608" r="1.3" fill="#000"/>
<circle cx="490.38" cy="608" r="1.3" fill="#000"/>
<circle cx="492.83" cy="608" r="1.3" fill="#000"/>
<circle cx="494.77" cy="608" r="1.3" fill="#000"/>
<circle cx="501.53" cy="608" r="1.3" fill="#000"/>
<circle cx="503.55" cy="607.88" r="1.3" fill="#000"/>
<circle cx="506.38" cy="607.8" r="1.3" fill="#000"/>
<circle cx="508.41" cy="608" r="1.3" fill="#000"/>
<circle cx="511.46" cy="608" r="1.3" fill="#000"/>
<circle cx="513.33" cy="608" r="1.3" fill="#000"/>
<line x1="466.3" y1="550" x2="466.3" y2="560.68" stroke="#c4c4c4" stroke-width="0.9"/>
<line x1="464.3" y1="550" x2="468.3" y2="550" stroke="#7a7a7a" stroke-width="0.75"/>
<line x1="466.3" y1="560.68" x2="466.3" y2="570.79" stroke="#1a1a1a" stroke-width="0.75"/>
<line x1="464.3" y1="570.79" x2="468.3" y2="570.79" stroke="#1a1a1a" stroke-width="0.75"/>
<circle cx="466.3" cy="529.78" r="1.35" fill="#000"/>
<circle cx="466.3" cy="566.3" r="1.35" fill="#000"/>
<circle cx="464.3" cy="574.16" r="1.35" fill="#000"/>
<circle cx="468.3" cy="573.04" r="1.35" fill="#000"/>
<circle cx="414.66" cy="606.19" r="1.35" fill="#000"/>
<line x1="394.4" y1="519.1" x2="394.4" y2="609" stroke="#666" stroke-width="0.8"/>
<line x1="390.8" y1="597.76" x2="394.4" y2="597.76" stroke="#777" stroke-width="0.7"/>
<text x="387.6" y="599.96" font-size="6.3" text-anchor="end" fill="#111">2</text>
<line x1="390.8" y1="586.52" x2="394.4" y2="586.52" stroke="#777" stroke-width="0.7"/>
<text x="387.6" y="588.73" font-size="6.3" text-anchor="end" fill="#111">4</text>
<line x1="390.8" y1="575.29" x2="394.4" y2="575.29" stroke="#777" stroke-width="0.7"/>
<text x="387.6" y="577.49" font-size="6.3" text-anchor="end" fill="#111">6</text>
<line x1="390.8" y1="564.05" x2="394.4" y2="564.05" stroke="#777" stroke-width="0.7"/>
<text x="387.6" y="566.25" font-size="6.3" text-anchor="end" fill="#111">8</text>
<line x1="390.8" y1="552.81" x2="394.4" y2="552.81" stroke="#777" stroke-width="0.7"/>
<text x="387.6" y="555.01" font-size="6.3" text-anchor="end" fill="#111">10</text>
<line x1="390.8" y1="541.58" x2="394.4" y2="541.58" stroke="#777" stroke-width="0.7"/>
<text x="387.6" y="543.78" font-size="6.3" text-anchor="end" fill="#111">12</text>
<line x1="390.8" y1="530.34" x2="394.4" y2="530.34" stroke="#777" stroke-width="0.7"/>
<text x="387.6" y="532.54" font-size="6.3" text-anchor="end" fill="#111">14</text>
<line x1="390.8" y1="519.1" x2="394.4" y2="519.1" stroke="#777" stroke-width="0.7"/>
<text x="387.6" y="521.3" font-size="6.3" text-anchor="end" fill="#111">16</text>
<line x1="392.5" y1="603.38" x2="394.4" y2="603.38" stroke="#777" stroke-width="0.7"/>
<line x1="392.5" y1="592.14" x2="394.4" y2="592.14" stroke="#777" stroke-width="0.7"/>
<line x1="392.5" y1="580.91" x2="394.4" y2="580.91" stroke="#777" stroke-width="0.7"/>
<line x1="392.5" y1="569.67" x2="394.4" y2="569.67" stroke="#777" stroke-width="0.7"/>
<line x1="392.5" y1="558.43" x2="394.4" y2="558.43" stroke="#777" stroke-width="0.7"/>
<line x1="392.5" y1="547.19" x2="394.4" y2="547.19" stroke="#777" stroke-width="0.7"/>
<line x1="392.5" y1="535.96" x2="394.4" y2="535.96" stroke="#777" stroke-width="0.7"/>
<line x1="392.5" y1="524.72" x2="394.4" y2="524.72" stroke="#777" stroke-width="0.7"/>
<text x="403" y="618.4" font-size="6.35" text-anchor="middle" fill="#222">DC</text>
<text x="415.66" y="618.4" font-size="6.35" text-anchor="middle" fill="#222">M&#934;</text>
<text x="428.32" y="618.4" font-size="6.35" text-anchor="middle" fill="#222">MC</text>
<text x="440.98" y="618.4" font-size="6.35" text-anchor="middle" fill="#222">ET</text>
<text x="453.64" y="618.4" font-size="6.35" text-anchor="middle" fill="#222">DT</text>
<text x="466.3" y="618.4" font-size="6.35" text-anchor="middle" fill="#222">EC</text>
<text x="478.96" y="618.4" font-size="6.35" text-anchor="middle" fill="#222">Mel</text>
<text x="491.62" y="618.4" font-size="6.35" text-anchor="middle" fill="#222">Fib</text>
<text x="507.5" y="618.4" font-size="6.35" text-anchor="middle" fill="#222">KC</text>
<text x="457.15" y="520.9" font-size="7.9" text-anchor="middle" fill="#111" textLength="20.1" lengthAdjust="spacingAndGlyphs">DYSF</text>
<text x="373.3" y="564.05" font-size="7.5" text-anchor="middle" fill="#000" textLength="34.3" lengthAdjust="spacingAndGlyphs" transform="rotate(-90 373.3 564.05)">MS Signal</text>
<text x="534.4" y="517.4" font-size="14" text-anchor="start" fill="#000" font-weight="bold">t</text>
<line x1="566" y1="609" x2="685" y2="609" stroke="#b5b5b5" stroke-width="1"/>
<rect x="570.35" y="606.75" width="8.5" height="2.24" fill="#000"/>
<rect x="583" y="608.1" width="8.5" height="0.9" fill="#000"/>
<rect x="595.65" y="607.88" width="8.5" height="1.12" fill="#000"/>
<rect x="608.3" y="607.88" width="8.5" height="1.12" fill="#000"/>
<rect x="620.95" y="608.1" width="8.5" height="0.9" fill="#000"/>
<rect x="633.6" y="550.63" width="8.5" height="58.37" fill="#000"/>
<rect x="633.95" y="550.98" width="7.8" height="58.02" fill="none" stroke="#000" stroke-width="0.7"/>
<rect x="646.25" y="607.65" width="8.5" height="1.35" fill="#000"/>
<rect x="658.9" y="607.32" width="8.5" height="1.68" fill="#000"/>
<rect x="671.55" y="608.1" width="8.5" height="0.9" fill="#000"/>
<circle cx="571.46" cy="606.69" r="1.3" fill="#888888"/>
<circle cx="573.64" cy="605.87" r="1.3" fill="#888888"/>
<circle cx="575.85" cy="606.89" r="1.3" fill="#888888"/>
<circle cx="577.98" cy="606.53" r="1.3" fill="#888888"/>
<circle cx="583.65" cy="607.77" r="1.3" fill="#888888"/>
<circle cx="586.18" cy="608" r="1.3" fill="#888888"/>
<circle cx="588.44" cy="607.83" r="1.3" fill="#888888"/>
<circle cx="590.5" cy="608" r="1.3" fill="#888888"/>
<circle cx="596.36" cy="607.06" r="1.3" fill="#888888"/>
<circle cx="598.81" cy="607.7" r="1.3" fill="#888888"/>
<circle cx="601.3" cy="607.59" r="1.3" fill="#888888"/>
<circle cx="603.45" cy="607.49" r="1.3" fill="#888888"/>
<circle cx="609.14" cy="607.09" r="1.3" fill="#888888"/>
<circle cx="611.39" cy="607.27" r="1.3" fill="#888888"/>
<circle cx="613.61" cy="607.35" r="1.3" fill="#888888"/>
<circle cx="616.12" cy="607.5" r="1.3" fill="#888888"/>
<circle cx="621.72" cy="607.79" r="1.3" fill="#888888"/>
<circle cx="624.17" cy="607.76" r="1.3" fill="#888888"/>
<circle cx="626.54" cy="608" r="1.3" fill="#888888"/>
<circle cx="628.47" cy="608" r="1.3" fill="#888888"/>
<circle cx="647.21" cy="606.78" r="1.3" fill="#888888"/>
<circle cx="649.3" cy="607.15" r="1.3" fill="#888888"/>
<circle cx="651.52" cy="607.32" r="1.3" fill="#888888"/>
<circle cx="654.27" cy="607.8" r="1.3" fill="#888888"/>
<circle cx="659.59" cy="606.47" r="1.3" fill="#888888"/>
<circle cx="662.21" cy="606.95" r="1.3" fill="#888888"/>
<circle cx="663.91" cy="606.83" r="1.3" fill="#888888"/>
<circle cx="666.28" cy="607.81" r="1.3" fill="#888888"/>
<circle cx="672.2" cy="607.89" r="1.3" fill="#888888"/>
<circle cx="674.3" cy="608" r="1.3" fill="#888888"/>
<circle cx="676.94" cy="607.23" r="1.3" fill="#888888"/>
<circle cx="679.28" cy="608" r="1.3" fill="#888888"/>
<line x1="637.85" y1="536.04" x2="637.85" y2="550.63" stroke="#d4d4d4" stroke-width="0.9"/>
<line x1="635.85" y1="536.04" x2="639.85" y2="536.04" stroke="#b0b0b0" stroke-width="0.75"/>
<line x1="637.85" y1="550.63" x2="637.85" y2="565.22" stroke="#8a8a8a" stroke-width="0.75"/>
<line x1="635.85" y1="565.22" x2="639.85" y2="565.22" stroke="#8a8a8a" stroke-width="0.75"/>
<circle cx="637.85" cy="531.55" r="1.35" fill="#888888"/>
<circle cx="635.35" cy="552.88" r="1.35" fill="#888888"/>
<circle cx="640.35" cy="552.88" r="1.35" fill="#888888"/>
<circle cx="637.85" cy="565.22" r="1.35" fill="#888888"/>
<line x1="566" y1="519.2" x2="566" y2="609" stroke="#666" stroke-width="0.8"/>
<line x1="561" y1="586.55" x2="566" y2="586.55" stroke="#777" stroke-width="0.7"/>
<text x="556" y="588.75" font-size="6.3" text-anchor="end" fill="#111">2</text>
<line x1="561" y1="564.1" x2="566" y2="564.1" stroke="#777" stroke-width="0.7"/>
<text x="556" y="566.3" font-size="6.3" text-anchor="end" fill="#111">4</text>
<line x1="561" y1="541.65" x2="566" y2="541.65" stroke="#777" stroke-width="0.7"/>
<text x="556" y="543.85" font-size="6.3" text-anchor="end" fill="#111">6</text>
<line x1="561" y1="519.2" x2="566" y2="519.2" stroke="#777" stroke-width="0.7"/>
<text x="556" y="521.4" font-size="6.3" text-anchor="end" fill="#111">8</text>
<line x1="561" y1="597.77" x2="566" y2="597.77" stroke="#777" stroke-width="0.7"/>
<line x1="561" y1="575.33" x2="566" y2="575.33" stroke="#777" stroke-width="0.7"/>
<line x1="561" y1="552.88" x2="566" y2="552.88" stroke="#777" stroke-width="0.7"/>
<line x1="561" y1="530.43" x2="566" y2="530.43" stroke="#777" stroke-width="0.7"/>
<text x="574.6" y="618.4" font-size="6.35" text-anchor="middle" fill="#222">DC</text>
<text x="587.25" y="618.4" font-size="6.35" text-anchor="middle" fill="#222">M&#934;</text>
<text x="599.9" y="618.4" font-size="6.35" text-anchor="middle" fill="#222">MC</text>
<text x="612.55" y="618.4" font-size="6.35" text-anchor="middle" fill="#222">ET</text>
<text x="625.2" y="618.4" font-size="6.35" text-anchor="middle" fill="#222">DT</text>
<text x="637.85" y="618.4" font-size="6.35" text-anchor="middle" fill="#222">EC</text>
<text x="650.5" y="618.4" font-size="6.35" text-anchor="middle" fill="#222">Mel</text>
<text x="663.15" y="618.4" font-size="6.35" text-anchor="middle" fill="#222">Fib</text>
<text x="675.8" y="618.4" font-size="6.35" text-anchor="middle" fill="#222">KC</text>
<text x="624.1" y="521.9" font-size="7.9" text-anchor="middle" fill="#111" textLength="25" lengthAdjust="spacingAndGlyphs">KANK3</text>
<text x="540.8" y="564.1" font-size="7.5" text-anchor="middle" fill="#000" textLength="34.3" lengthAdjust="spacingAndGlyphs" transform="rotate(-90 540.8 564.1)">MS Signal</text>
<text x="202" y="644.3" font-size="14" text-anchor="start" fill="#000" font-weight="bold">v</text>
<line x1="229.2" y1="735.3" x2="352.6" y2="735.3" stroke="#b5b5b5" stroke-width="1"/>
<rect x="233.9" y="734.79" width="8.3" height="0.51" fill="#b0202a"/>
<rect x="246.48" y="734.92" width="8.3" height="0.38" fill="#b0202a"/>
<rect x="259.06" y="734.92" width="8.3" height="0.38" fill="#b0202a"/>
<rect x="271.64" y="734.92" width="8.3" height="0.38" fill="#b0202a"/>
<rect x="284.22" y="734.92" width="8.3" height="0.38" fill="#b0202a"/>
<rect x="296.8" y="734.92" width="8.3" height="0.38" fill="#b0202a"/>
<rect x="309.38" y="683.34" width="8.3" height="51.96" fill="#b0202a"/>
<rect x="309.73" y="683.69" width="7.6" height="51.61" fill="none" stroke="#8f1520" stroke-width="0.7"/>
<rect x="321.96" y="734.92" width="8.3" height="0.38" fill="#b0202a"/>
<rect x="334.5" y="733.38" width="15" height="1.92" fill="#b0202a"/>
<circle cx="234.9" cy="734.14" r="1.3" fill="#000"/>
<circle cx="236.62" cy="734.3" r="1.3" fill="#000"/>
<circle cx="239.37" cy="734.3" r="1.3" fill="#000"/>
<circle cx="241.68" cy="734.3" r="1.3" fill="#000"/>
<circle cx="247.32" cy="734.3" r="1.3" fill="#000"/>
<circle cx="249.58" cy="734.3" r="1.3" fill="#000"/>
<circle cx="251.99" cy="734.3" r="1.3" fill="#000"/>
<circle cx="253.96" cy="734.02" r="1.3" fill="#000"/>
<circle cx="259.66" cy="734.2" r="1.3" fill="#000"/>
<circle cx="262.41" cy="734.3" r="1.3" fill="#000"/>
<circle cx="264.22" cy="734.3" r="1.3" fill="#000"/>
<circle cx="266.18" cy="734.3" r="1.3" fill="#000"/>
<circle cx="272.12" cy="734.3" r="1.3" fill="#000"/>
<circle cx="274.8" cy="734.3" r="1.3" fill="#000"/>
<circle cx="277.11" cy="734.3" r="1.3" fill="#000"/>
<circle cx="278.78" cy="734.28" r="1.3" fill="#000"/>
<circle cx="285.34" cy="734.3" r="1.3" fill="#000"/>
<circle cx="286.86" cy="734.3" r="1.3" fill="#000"/>
<circle cx="289.14" cy="734.03" r="1.3" fill="#000"/>
<circle cx="292.01" cy="734.3" r="1.3" fill="#000"/>
<circle cx="297.52" cy="734.3" r="1.3" fill="#000"/>
<circle cx="299.62" cy="734.27" r="1.3" fill="#000"/>
<circle cx="302.28" cy="734.3" r="1.3" fill="#000"/>
<circle cx="303.94" cy="734.3" r="1.3" fill="#000"/>
<circle cx="322.8" cy="734.3" r="1.3" fill="#000"/>
<circle cx="325.29" cy="734.3" r="1.3" fill="#000"/>
<circle cx="326.91" cy="734.26" r="1.3" fill="#000"/>
<circle cx="329.72" cy="734.3" r="1.3" fill="#000"/>
<circle cx="335.76" cy="733.53" r="1.3" fill="#000"/>
<circle cx="338.7" cy="732.7" r="1.3" fill="#000"/>
<circle cx="340.86" cy="733.81" r="1.3" fill="#000"/>
<circle cx="342.9" cy="733.54" r="1.3" fill="#000"/>
<circle cx="345.53" cy="733.52" r="1.3" fill="#000"/>
<circle cx="347.68" cy="733.22" r="1.3" fill="#000"/>
<line x1="313.53" y1="666.03" x2="313.53" y2="683.34" stroke="#c4c4c4" stroke-width="0.9"/>
<line x1="311.53" y1="666.03" x2="315.53" y2="666.03" stroke="#7a7a7a" stroke-width="0.75"/>
<line x1="313.53" y1="683.34" x2="313.53" y2="700.66" stroke="#1a1a1a" stroke-width="0.75"/>
<line x1="311.53" y1="700.66" x2="315.53" y2="700.66" stroke="#1a1a1a" stroke-width="0.75"/>
<line x1="342" y1="730.17" x2="342" y2="733.38" stroke="#c4c4c4" stroke-width="0.9"/>
<line x1="337.5" y1="730.17" x2="346.5" y2="730.17" stroke="#7a7a7a" stroke-width="0.75"/>
<line x1="342" y1="733.38" x2="342" y2="734.66" stroke="#1a1a1a" stroke-width="0.75"/>
<line x1="337.5" y1="734.66" x2="346.5" y2="734.66" stroke="#1a1a1a" stroke-width="0.75"/>
<circle cx="313.53" cy="654.48" r="1.35" fill="#000"/>
<circle cx="313.53" cy="682.7" r="1.35" fill="#000"/>
<circle cx="313.53" cy="687.19" r="1.35" fill="#000"/>
<circle cx="313.53" cy="692.32" r="1.35" fill="#000"/>
<circle cx="313.53" cy="700.02" r="1.35" fill="#000"/>
<circle cx="342" cy="727.6" r="1.35" fill="#000"/>
<line x1="229.2" y1="645.5" x2="229.2" y2="735.3" stroke="#666" stroke-width="0.8"/>
<line x1="225.6" y1="722.47" x2="229.2" y2="722.47" stroke="#777" stroke-width="0.7"/>
<text x="222.4" y="724.67" font-size="6.3" text-anchor="end" fill="#111">2</text>
<line x1="225.6" y1="709.64" x2="229.2" y2="709.64" stroke="#777" stroke-width="0.7"/>
<text x="222.4" y="711.84" font-size="6.3" text-anchor="end" fill="#111">4</text>
<line x1="225.6" y1="696.81" x2="229.2" y2="696.81" stroke="#777" stroke-width="0.7"/>
<text x="222.4" y="699.01" font-size="6.3" text-anchor="end" fill="#111">6</text>
<line x1="225.6" y1="683.99" x2="229.2" y2="683.99" stroke="#777" stroke-width="0.7"/>
<text x="222.4" y="686.19" font-size="6.3" text-anchor="end" fill="#111">8</text>
<line x1="225.6" y1="671.16" x2="229.2" y2="671.16" stroke="#777" stroke-width="0.7"/>
<text x="222.4" y="673.36" font-size="6.3" text-anchor="end" fill="#111">10</text>
<line x1="225.6" y1="658.33" x2="229.2" y2="658.33" stroke="#777" stroke-width="0.7"/>
<text x="222.4" y="660.53" font-size="6.3" text-anchor="end" fill="#111">12</text>
<line x1="225.6" y1="645.5" x2="229.2" y2="645.5" stroke="#777" stroke-width="0.7"/>
<text x="222.4" y="647.7" font-size="6.3" text-anchor="end" fill="#111">14</text>
<line x1="227.3" y1="728.89" x2="229.2" y2="728.89" stroke="#777" stroke-width="0.7"/>
<line x1="227.3" y1="716.06" x2="229.2" y2="716.06" stroke="#777" stroke-width="0.7"/>
<line x1="227.3" y1="703.23" x2="229.2" y2="703.23" stroke="#777" stroke-width="0.7"/>
<line x1="227.3" y1="690.4" x2="229.2" y2="690.4" stroke="#777" stroke-width="0.7"/>
<line x1="227.3" y1="677.57" x2="229.2" y2="677.57" stroke="#777" stroke-width="0.7"/>
<line x1="227.3" y1="664.74" x2="229.2" y2="664.74" stroke="#777" stroke-width="0.7"/>
<line x1="227.3" y1="651.91" x2="229.2" y2="651.91" stroke="#777" stroke-width="0.7"/>
<text x="238.05" y="744.7" font-size="6.35" text-anchor="middle" fill="#222">DC</text>
<text x="250.63" y="744.7" font-size="6.35" text-anchor="middle" fill="#222">M&#934;</text>
<text x="263.21" y="744.7" font-size="6.35" text-anchor="middle" fill="#222">MC</text>
<text x="275.79" y="744.7" font-size="6.35" text-anchor="middle" fill="#222">ET</text>
<text x="288.37" y="744.7" font-size="6.35" text-anchor="middle" fill="#222">DT</text>
<text x="300.95" y="744.7" font-size="6.35" text-anchor="middle" fill="#222">EC</text>
<text x="313.53" y="744.7" font-size="6.35" text-anchor="middle" fill="#222">Mel</text>
<text x="326.11" y="744.7" font-size="6.35" text-anchor="middle" fill="#222">Fib</text>
<text x="342" y="744.7" font-size="6.35" text-anchor="middle" fill="#222">KC</text>
<text x="291.2" y="646.9" font-size="7.9" text-anchor="middle" fill="#111" textLength="33.4" lengthAdjust="spacingAndGlyphs">MELAN-A</text>
<text x="209.2" y="690.4" font-size="7.5" text-anchor="middle" fill="#000" textLength="34.3" lengthAdjust="spacingAndGlyphs" transform="rotate(-90 209.2 690.4)">MS Signal</text>
<text x="367.3" y="644.2" font-size="14" text-anchor="start" fill="#000" font-weight="bold">w</text>
<line x1="394.4" y1="735.3" x2="519.5" y2="735.3" stroke="#b5b5b5" stroke-width="1"/>
<rect x="398.9" y="728.56" width="8.2" height="6.74" fill="#273e80"/>
<rect x="411.56" y="726.31" width="8.2" height="8.99" fill="#273e80"/>
<rect x="424.22" y="730.8" width="8.2" height="4.49" fill="#273e80"/>
<rect x="436.88" y="731.7" width="8.2" height="3.6" fill="#273e80"/>
<rect x="449.54" y="730.8" width="8.2" height="4.49" fill="#273e80"/>
<rect x="462.2" y="729.91" width="8.2" height="5.39" fill="#273e80"/>
<rect x="474.86" y="684.51" width="8.2" height="50.79" fill="#273e80"/>
<rect x="475.21" y="684.86" width="7.5" height="50.44" fill="none" stroke="#1b2d66" stroke-width="0.7"/>
<rect x="487.52" y="730.8" width="8.2" height="4.49" fill="#273e80"/>
<rect x="500" y="728.56" width="15" height="6.74" fill="#273e80"/>
<circle cx="400.06" cy="727.91" r="1.3" fill="#000"/>
<circle cx="402.13" cy="728.41" r="1.3" fill="#000"/>
<circle cx="404.48" cy="728.43" r="1.3" fill="#000"/>
<circle cx="406.23" cy="727.77" r="1.3" fill="#000"/>
<circle cx="412.32" cy="726.76" r="1.3" fill="#000"/>
<circle cx="414.96" cy="725.76" r="1.3" fill="#000"/>
<circle cx="417" cy="725.71" r="1.3" fill="#000"/>
<circle cx="419.01" cy="725.98" r="1.3" fill="#000"/>
<circle cx="424.84" cy="730.51" r="1.3" fill="#000"/>
<circle cx="427.41" cy="730.85" r="1.3" fill="#000"/>
<circle cx="429.28" cy="730.09" r="1.3" fill="#000"/>
<circle cx="431.21" cy="731.19" r="1.3" fill="#000"/>
<circle cx="437.72" cy="731.49" r="1.3" fill="#000"/>
<circle cx="439.82" cy="730.95" r="1.3" fill="#000"/>
<circle cx="441.86" cy="732.16" r="1.3" fill="#000"/>
<circle cx="444.17" cy="731.55" r="1.3" fill="#000"/>
<circle cx="450.71" cy="730.74" r="1.3" fill="#000"/>
<circle cx="452.29" cy="729.99" r="1.3" fill="#000"/>
<circle cx="454.47" cy="730.06" r="1.3" fill="#000"/>
<circle cx="456.66" cy="730.13" r="1.3" fill="#000"/>
<circle cx="462.88" cy="729.66" r="1.3" fill="#000"/>
<circle cx="465.11" cy="729.52" r="1.3" fill="#000"/>
<circle cx="467.41" cy="729.33" r="1.3" fill="#000"/>
<circle cx="469.95" cy="729.34" r="1.3" fill="#000"/>
<circle cx="488.45" cy="730.45" r="1.3" fill="#000"/>
<circle cx="490.56" cy="729.91" r="1.3" fill="#000"/>
<circle cx="493.11" cy="731.13" r="1.3" fill="#000"/>
<circle cx="494.52" cy="730.28" r="1.3" fill="#000"/>
<circle cx="501.84" cy="728.73" r="1.3" fill="#000"/>
<circle cx="503.95" cy="728.81" r="1.3" fill="#000"/>
<circle cx="505.99" cy="728.7" r="1.3" fill="#000"/>
<circle cx="508.43" cy="728.05" r="1.3" fill="#000"/>
<circle cx="511.45" cy="728.15" r="1.3" fill="#000"/>
<circle cx="513.54" cy="728.57" r="1.3" fill="#000"/>
<line x1="403" y1="726.31" x2="403" y2="728.56" stroke="#c4c4c4" stroke-width="0.9"/>
<line x1="401" y1="726.31" x2="405" y2="726.31" stroke="#7a7a7a" stroke-width="0.75"/>
<line x1="403" y1="728.56" x2="403" y2="730.8" stroke="#1a1a1a" stroke-width="0.75"/>
<line x1="401" y1="730.8" x2="405" y2="730.8" stroke="#1a1a1a" stroke-width="0.75"/>
<line x1="415.66" y1="724.06" x2="415.66" y2="726.31" stroke="#c4c4c4" stroke-width="0.9"/>
<line x1="413.66" y1="724.06" x2="417.66" y2="724.06" stroke="#7a7a7a" stroke-width="0.75"/>
<line x1="415.66" y1="726.31" x2="415.66" y2="728.56" stroke="#1a1a1a" stroke-width="0.75"/>
<line x1="413.66" y1="728.56" x2="417.66" y2="728.56" stroke="#1a1a1a" stroke-width="0.75"/>
<line x1="478.96" y1="676.87" x2="478.96" y2="684.51" stroke="#c4c4c4" stroke-width="0.9"/>
<line x1="476.96" y1="676.87" x2="480.96" y2="676.87" stroke="#7a7a7a" stroke-width="0.75"/>
<line x1="478.96" y1="684.51" x2="478.96" y2="692.6" stroke="#1a1a1a" stroke-width="0.75"/>
<line x1="476.96" y1="692.6" x2="480.96" y2="692.6" stroke="#1a1a1a" stroke-width="0.75"/>
<line x1="507.5" y1="725.41" x2="507.5" y2="728.56" stroke="#c4c4c4" stroke-width="0.9"/>
<line x1="503" y1="725.41" x2="512" y2="725.41" stroke="#7a7a7a" stroke-width="0.75"/>
<line x1="507.5" y1="728.56" x2="507.5" y2="730.8" stroke="#1a1a1a" stroke-width="0.75"/>
<line x1="503" y1="730.8" x2="512" y2="730.8" stroke="#1a1a1a" stroke-width="0.75"/>
<circle cx="403" cy="722.71" r="1.35" fill="#000"/>
<circle cx="415.66" cy="718.67" r="1.35" fill="#000"/>
<circle cx="478.96" cy="665.63" r="1.35" fill="#000"/>
<circle cx="478.96" cy="676.87" r="1.35" fill="#000"/>
<circle cx="478.96" cy="688.1" r="1.35" fill="#000"/>
<circle cx="478.96" cy="703.83" r="1.35" fill="#000"/>
<circle cx="504.5" cy="717.32" r="1.35" fill="#000"/>
<circle cx="506" cy="717.32" r="1.35" fill="#000"/>
<circle cx="507.5" cy="717.32" r="1.35" fill="#000"/>
<circle cx="509" cy="717.32" r="1.35" fill="#000"/>
<circle cx="510.5" cy="717.32" r="1.35" fill="#000"/>
<line x1="394.4" y1="645.4" x2="394.4" y2="735.3" stroke="#666" stroke-width="0.8"/>
<line x1="390.8" y1="712.82" x2="394.4" y2="712.82" stroke="#777" stroke-width="0.7"/>
<text x="387.6" y="715.02" font-size="6.3" text-anchor="end" fill="#111">0.5</text>
<line x1="390.8" y1="690.35" x2="394.4" y2="690.35" stroke="#777" stroke-width="0.7"/>
<text x="387.6" y="692.55" font-size="6.3" text-anchor="end" fill="#111">1.0</text>
<line x1="390.8" y1="667.88" x2="394.4" y2="667.88" stroke="#777" stroke-width="0.7"/>
<text x="387.6" y="670.08" font-size="6.3" text-anchor="end" fill="#111">1.5</text>
<line x1="390.8" y1="645.4" x2="394.4" y2="645.4" stroke="#777" stroke-width="0.7"/>
<text x="387.6" y="647.6" font-size="6.3" text-anchor="end" fill="#111">2.0</text>
<line x1="392.5" y1="724.06" x2="394.4" y2="724.06" stroke="#777" stroke-width="0.7"/>
<line x1="392.5" y1="701.59" x2="394.4" y2="701.59" stroke="#777" stroke-width="0.7"/>
<line x1="392.5" y1="679.11" x2="394.4" y2="679.11" stroke="#777" stroke-width="0.7"/>
<line x1="392.5" y1="656.64" x2="394.4" y2="656.64" stroke="#777" stroke-width="0.7"/>
<text x="403" y="744.7" font-size="6.35" text-anchor="middle" fill="#222">DC</text>
<text x="415.66" y="744.7" font-size="6.35" text-anchor="middle" fill="#222">M&#934;</text>
<text x="428.32" y="744.7" font-size="6.35" text-anchor="middle" fill="#222">MC</text>
<text x="440.98" y="744.7" font-size="6.35" text-anchor="middle" fill="#222">ET</text>
<text x="453.64" y="744.7" font-size="6.35" text-anchor="middle" fill="#222">DT</text>
<text x="466.3" y="744.7" font-size="6.35" text-anchor="middle" fill="#222">EC</text>
<text x="478.96" y="744.7" font-size="6.35" text-anchor="middle" fill="#222">Mel</text>
<text x="491.62" y="744.7" font-size="6.35" text-anchor="middle" fill="#222">Fib</text>
<text x="507.5" y="744.7" font-size="6.35" text-anchor="middle" fill="#222">KC</text>
<text x="457.15" y="646.9" font-size="7.9" text-anchor="middle" fill="#111" textLength="27.1" lengthAdjust="spacingAndGlyphs">MTURN</text>
<text x="373.3" y="690.35" font-size="7.5" text-anchor="middle" fill="#000" textLength="34.3" lengthAdjust="spacingAndGlyphs" transform="rotate(-90 373.3 690.35)">MS Signal</text>
<text x="534.4" y="644" font-size="14" text-anchor="start" fill="#000" font-weight="bold">x</text>
<line x1="566" y1="734.9" x2="685" y2="734.9" stroke="#b5b5b5" stroke-width="1"/>
<rect x="570.35" y="734" width="8.5" height="0.9" fill="#000"/>
<rect x="583" y="734" width="8.5" height="0.9" fill="#000"/>
<rect x="595.65" y="734" width="8.5" height="0.9" fill="#000"/>
<rect x="608.3" y="734" width="8.5" height="0.9" fill="#000"/>
<rect x="620.95" y="734" width="8.5" height="0.9" fill="#000"/>
<rect x="633.6" y="734.23" width="8.5" height="0.67" fill="#000"/>
<rect x="646.25" y="680.12" width="8.5" height="54.78" fill="#000"/>
<rect x="646.6" y="680.47" width="7.8" height="54.43" fill="none" stroke="#000" stroke-width="0.7"/>
<rect x="658.9" y="734.23" width="8.5" height="0.67" fill="#000"/>
<rect x="671.55" y="732.65" width="8.5" height="2.24" fill="#000"/>
<circle cx="571.21" cy="733.37" r="1.3" fill="#888888"/>
<circle cx="573.83" cy="733.9" r="1.3" fill="#888888"/>
<circle cx="575.81" cy="733.9" r="1.3" fill="#888888"/>
<circle cx="577.67" cy="733.9" r="1.3" fill="#888888"/>
<circle cx="583.63" cy="733.45" r="1.3" fill="#888888"/>
<circle cx="585.97" cy="733.9" r="1.3" fill="#888888"/>
<circle cx="588.74" cy="733.9" r="1.3" fill="#888888"/>
<circle cx="590.5" cy="733.28" r="1.3" fill="#888888"/>
<circle cx="596.33" cy="733.41" r="1.3" fill="#888888"/>
<circle cx="598.77" cy="733.81" r="1.3" fill="#888888"/>
<circle cx="600.73" cy="733.39" r="1.3" fill="#888888"/>
<circle cx="603.6" cy="733.9" r="1.3" fill="#888888"/>
<circle cx="608.83" cy="733.9" r="1.3" fill="#888888"/>
<circle cx="611.38" cy="733.64" r="1.3" fill="#888888"/>
<circle cx="613.93" cy="733.9" r="1.3" fill="#888888"/>
<circle cx="615.9" cy="733.64" r="1.3" fill="#888888"/>
<circle cx="621.84" cy="733.9" r="1.3" fill="#888888"/>
<circle cx="624.23" cy="733.23" r="1.3" fill="#888888"/>
<circle cx="625.96" cy="733.6" r="1.3" fill="#888888"/>
<circle cx="628.43" cy="733.9" r="1.3" fill="#888888"/>
<circle cx="634.54" cy="733.52" r="1.3" fill="#888888"/>
<circle cx="636.65" cy="733.9" r="1.3" fill="#888888"/>
<circle cx="638.97" cy="733.69" r="1.3" fill="#888888"/>
<circle cx="641.4" cy="733.72" r="1.3" fill="#888888"/>
<circle cx="660.15" cy="733.86" r="1.3" fill="#888888"/>
<circle cx="662.02" cy="733.9" r="1.3" fill="#888888"/>
<circle cx="664.16" cy="733.9" r="1.3" fill="#888888"/>
<circle cx="666.59" cy="733.9" r="1.3" fill="#888888"/>
<circle cx="672.19" cy="732.22" r="1.3" fill="#888888"/>
<circle cx="674.69" cy="732.9" r="1.3" fill="#888888"/>
<circle cx="676.66" cy="732.94" r="1.3" fill="#888888"/>
<circle cx="679.54" cy="731.87" r="1.3" fill="#888888"/>
<line x1="650.5" y1="668" x2="650.5" y2="680.12" stroke="#d4d4d4" stroke-width="0.9"/>
<line x1="648.5" y1="668" x2="652.5" y2="668" stroke="#b0b0b0" stroke-width="0.75"/>
<line x1="650.5" y1="680.12" x2="650.5" y2="692.25" stroke="#8a8a8a" stroke-width="0.75"/>
<line x1="648.5" y1="692.25" x2="652.5" y2="692.25" stroke="#8a8a8a" stroke-width="0.75"/>
<line x1="675.8" y1="731.31" x2="675.8" y2="732.65" stroke="#d4d4d4" stroke-width="0.9"/>
<line x1="673.8" y1="731.31" x2="677.8" y2="731.31" stroke="#b0b0b0" stroke-width="0.75"/>
<line x1="675.8" y1="732.65" x2="675.8" y2="734" stroke="#8a8a8a" stroke-width="0.75"/>
<line x1="673.8" y1="734" x2="677.8" y2="734" stroke="#8a8a8a" stroke-width="0.75"/>
<circle cx="650.5" cy="650.94" r="1.35" fill="#888888"/>
<circle cx="650.5" cy="654.98" r="1.35" fill="#888888"/>
<circle cx="650.5" cy="682.37" r="1.35" fill="#888888"/>
<circle cx="647.5" cy="707.06" r="1.35" fill="#888888"/>
<circle cx="653.5" cy="707.06" r="1.35" fill="#888888"/>
<circle cx="675.8" cy="727.72" r="1.35" fill="#888888"/>
<line x1="566" y1="645.1" x2="566" y2="734.9" stroke="#666" stroke-width="0.8"/>
<line x1="561" y1="712.45" x2="566" y2="712.45" stroke="#777" stroke-width="0.7"/>
<text x="556" y="714.65" font-size="6.3" text-anchor="end" fill="#111">5</text>
<line x1="561" y1="690" x2="566" y2="690" stroke="#777" stroke-width="0.7"/>
<text x="556" y="692.2" font-size="6.3" text-anchor="end" fill="#111">10</text>
<line x1="561" y1="667.55" x2="566" y2="667.55" stroke="#777" stroke-width="0.7"/>
<text x="556" y="669.75" font-size="6.3" text-anchor="end" fill="#111">15</text>
<line x1="561" y1="645.1" x2="566" y2="645.1" stroke="#777" stroke-width="0.7"/>
<text x="556" y="647.3" font-size="6.3" text-anchor="end" fill="#111">20</text>
<line x1="561" y1="723.67" x2="566" y2="723.67" stroke="#777" stroke-width="0.7"/>
<line x1="561" y1="701.23" x2="566" y2="701.23" stroke="#777" stroke-width="0.7"/>
<line x1="561" y1="678.77" x2="566" y2="678.77" stroke="#777" stroke-width="0.7"/>
<line x1="561" y1="656.33" x2="566" y2="656.33" stroke="#777" stroke-width="0.7"/>
<text x="574.6" y="744.3" font-size="6.35" text-anchor="middle" fill="#222">DC</text>
<text x="587.25" y="744.3" font-size="6.35" text-anchor="middle" fill="#222">M&#934;</text>
<text x="599.9" y="744.3" font-size="6.35" text-anchor="middle" fill="#222">MC</text>
<text x="612.55" y="744.3" font-size="6.35" text-anchor="middle" fill="#222">ET</text>
<text x="625.2" y="744.3" font-size="6.35" text-anchor="middle" fill="#222">DT</text>
<text x="637.85" y="744.3" font-size="6.35" text-anchor="middle" fill="#222">EC</text>
<text x="650.5" y="744.3" font-size="6.35" text-anchor="middle" fill="#222">Mel</text>
<text x="663.15" y="744.3" font-size="6.35" text-anchor="middle" fill="#222">Fib</text>
<text x="675.8" y="744.3" font-size="6.35" text-anchor="middle" fill="#222">KC</text>
<text x="623.7" y="646.7" font-size="7.9" text-anchor="middle" fill="#111" textLength="22.8" lengthAdjust="spacingAndGlyphs">CRYM</text>
<text x="540.8" y="690" font-size="7.5" text-anchor="middle" fill="#000" textLength="34.3" lengthAdjust="spacingAndGlyphs" transform="rotate(-90 540.8 690)">MS Signal</text></svg>
</body></html>
